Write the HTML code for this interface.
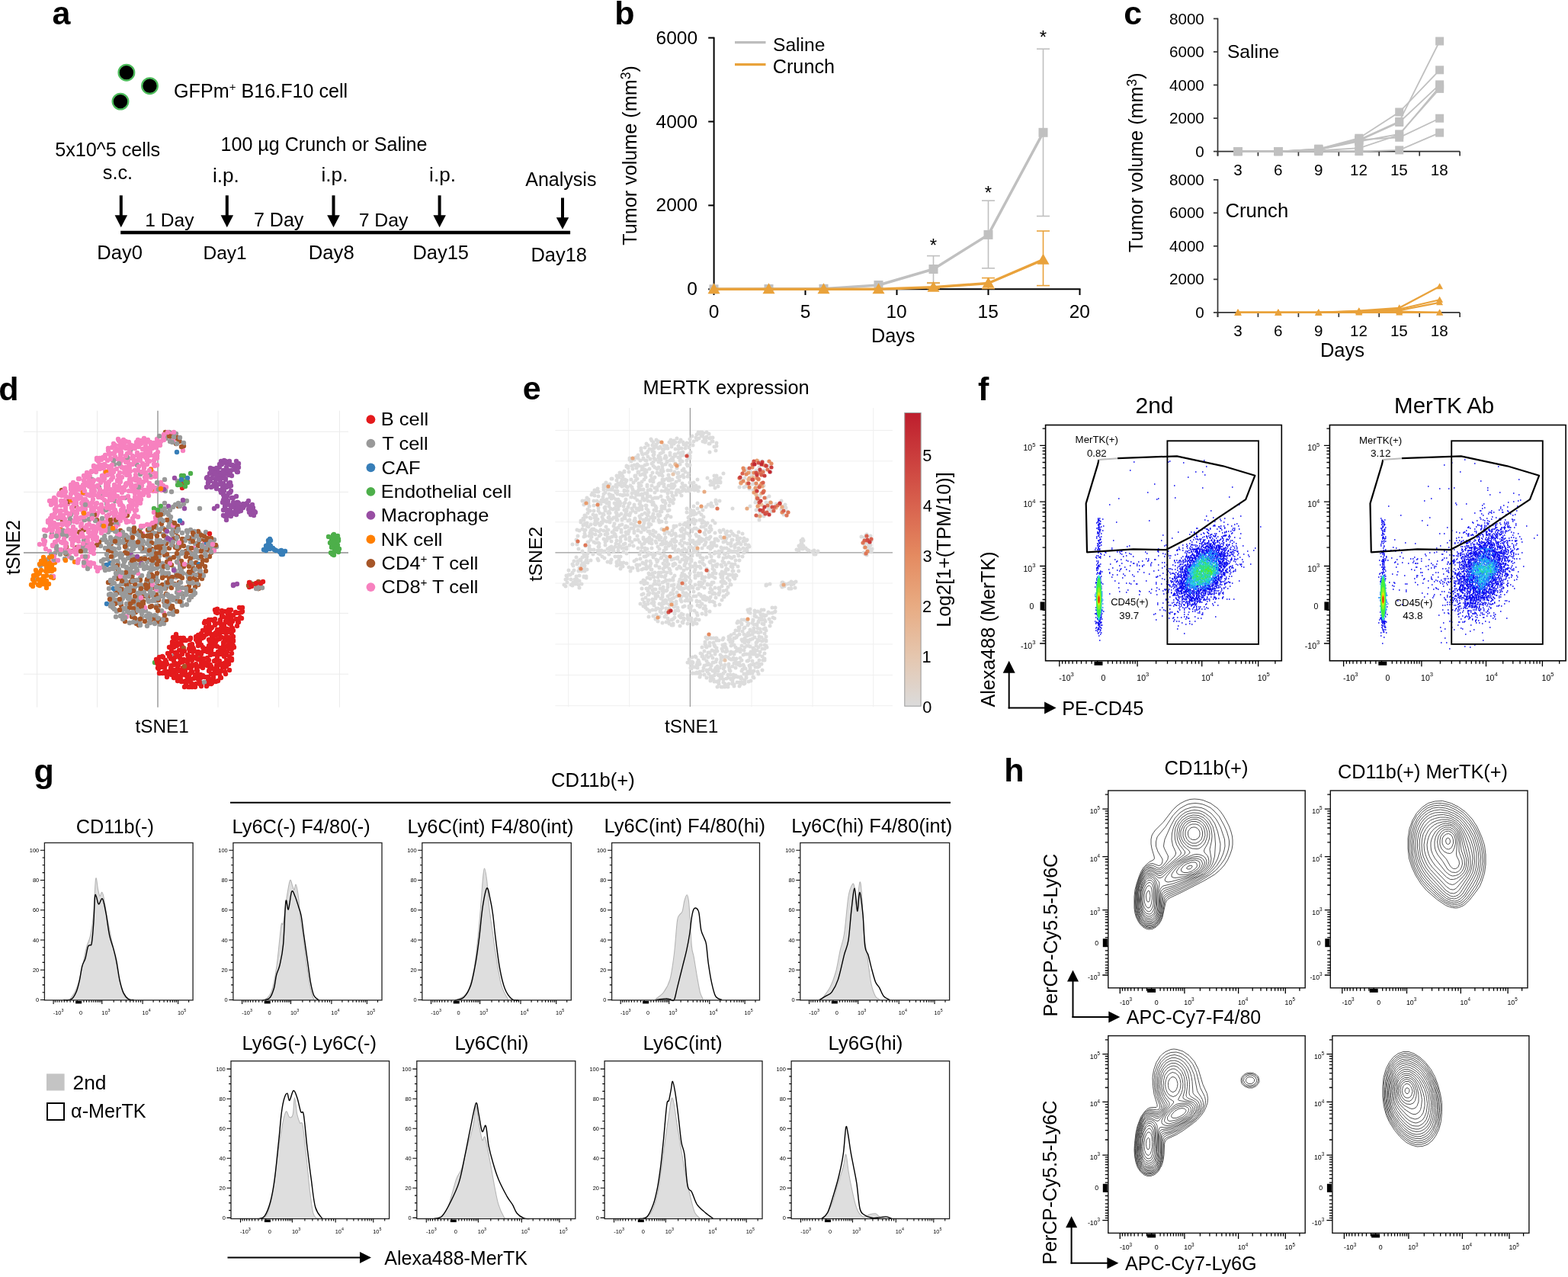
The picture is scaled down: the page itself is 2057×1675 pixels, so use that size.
<!DOCTYPE html>
<html><head><meta charset="utf-8"><title>Figure</title><style>html,body{margin:0;padding:0;background:#fff;}svg{display:block;}text{font-family:"Liberation Sans",Arial,sans-serif;}</style></head><body>
<svg width="2057" height="1675" viewBox="0 0 2057 1675" font-family="Liberation Sans, Arial, sans-serif">
<text x="68.5" y="32.3" font-size="43.00" font-weight="bold">a</text>
<circle cx="165.9" cy="95.2" r="10.3" fill="#000" stroke="#4CBB5A" stroke-width="2.3"/>
<circle cx="196.5" cy="112.7" r="10.3" fill="#000" stroke="#4CBB5A" stroke-width="2.3"/>
<circle cx="158" cy="133.1" r="10.3" fill="#000" stroke="#4CBB5A" stroke-width="2.3"/>
<text x="228" y="128.2" font-size="25.15">GFPm<tspan font-size="15.09" dy="-9">+</tspan><tspan dy="9"> B16.F10 cell</tspan></text>
<text x="72.2" y="205" font-size="25.22">5x10^5 cells</text>
<text x="289.5" y="198.2" font-size="25.09">100 µg Crunch or Saline</text>
<text x="134.8" y="234.8" font-size="25.27">s.c.</text>
<text x="278.9" y="239" font-size="26.20">i.p.</text>
<text x="421.5" y="238.4" font-size="26.20">i.p.</text>
<text x="563.1" y="238.4" font-size="26.20">i.p.</text>
<text x="689.2" y="243.9" font-size="25.04">Analysis</text>
<line x1="158.8" y1="256.3" x2="158.8" y2="283.3" stroke="#000" stroke-width="4"/>
<polygon points="150.6,282.3 167.1,282.3 158.8,298.3" fill="#000" stroke="none" stroke-width="0"/>
<line x1="297.8" y1="256.3" x2="297.8" y2="283.3" stroke="#000" stroke-width="4"/>
<polygon points="289.6,282.3 306.1,282.3 297.8,298.3" fill="#000" stroke="none" stroke-width="0"/>
<line x1="437.5" y1="256.3" x2="437.5" y2="283.3" stroke="#000" stroke-width="4"/>
<polygon points="429.2,282.3 445.8,282.3 437.5,298.3" fill="#000" stroke="none" stroke-width="0"/>
<line x1="576.6" y1="256.3" x2="576.6" y2="283.3" stroke="#000" stroke-width="4"/>
<polygon points="568.4,282.3 584.9,282.3 576.6,298.3" fill="#000" stroke="none" stroke-width="0"/>
<line x1="738" y1="259.5" x2="738" y2="286.2" stroke="#000" stroke-width="4"/>
<polygon points="729.8,285.2 746.2,285.2 738,300.7" fill="#000" stroke="none" stroke-width="0"/>
<line x1="158.2" y1="305" x2="748.1" y2="305" stroke="#000" stroke-width="4.4"/>
<text x="190.3" y="296.8" font-size="24.58">1 Day</text>
<text x="332.9" y="296.8" font-size="25.09">7 Day</text>
<text x="470.7" y="296.8" font-size="24.81">7 Day</text>
<text x="127.3" y="340.2" font-size="25.57">Day0</text>
<text x="266.5" y="340.2" font-size="24.51">Day1</text>
<text x="404.7" y="340.2" font-size="25.71">Day8</text>
<text x="541.4" y="340.2" font-size="25.45">Day15</text>
<text x="696.4" y="342.7" font-size="25.46">Day18</text>
<text x="806.2" y="32.4" font-size="43.00" font-weight="bold">b</text>
<line x1="936.6" y1="48.8" x2="936.6" y2="380.2" stroke="#000" stroke-width="2"/>
<line x1="929.2" y1="379.3" x2="936.6" y2="379.3" stroke="#000" stroke-width="2"/>
<text x="901.3" y="387.3" font-size="24.50">0</text>
<line x1="929.2" y1="269.4" x2="936.6" y2="269.4" stroke="#000" stroke-width="2"/>
<text x="860.5" y="277.4" font-size="24.50">2000</text>
<line x1="929.2" y1="159.5" x2="936.6" y2="159.5" stroke="#000" stroke-width="2"/>
<text x="860.5" y="167.5" font-size="24.50">4000</text>
<line x1="929.2" y1="49.6" x2="936.6" y2="49.6" stroke="#000" stroke-width="2"/>
<text x="860.5" y="57.6" font-size="24.50">6000</text>
<line x1="935.6" y1="379.3" x2="1417.5" y2="379.3" stroke="#000" stroke-width="2"/>
<line x1="936.5" y1="379.3" x2="936.5" y2="387" stroke="#000" stroke-width="2"/>
<text x="929.7" y="416.8" font-size="24.50">0</text>
<line x1="1056.5" y1="379.3" x2="1056.5" y2="387" stroke="#000" stroke-width="2"/>
<text x="1049.7" y="416.8" font-size="24.50">5</text>
<line x1="1176.5" y1="379.3" x2="1176.5" y2="387" stroke="#000" stroke-width="2"/>
<text x="1162.4" y="416.8" font-size="24.50">10</text>
<line x1="1296.5" y1="379.3" x2="1296.5" y2="387" stroke="#000" stroke-width="2"/>
<text x="1282.5" y="416.8" font-size="24.50">15</text>
<line x1="1416.5" y1="379.3" x2="1416.5" y2="387" stroke="#000" stroke-width="2"/>
<text x="1402.7" y="416.8" font-size="24.50">20</text>
<text x="1142.9" y="448.6" font-size="25.28">Days</text>
<text transform="translate(835.1,321.7) rotate(-90)" font-size="25.20">Tumor volume (mm<tspan font-size="17.64" dy="-8.6">3</tspan><tspan dy="8.6">)</tspan></text>
<line x1="964" y1="55.7" x2="1004.5" y2="55.7" stroke="#BDBDBD" stroke-width="3.3"/>
<line x1="964" y1="84.6" x2="1004.5" y2="84.6" stroke="#E9A23B" stroke-width="3.3"/>
<text x="1014" y="67.1" font-size="24.60">Saline</text>
<text x="1013.8" y="95.5" font-size="25.19">Crunch</text>
<line x1="1224.5" y1="335.6" x2="1224.5" y2="371.5" stroke="#C0C0C0" stroke-width="1.6"/>
<line x1="1216" y1="335.6" x2="1233" y2="335.6" stroke="#C0C0C0" stroke-width="1.6"/>
<line x1="1216" y1="371.5" x2="1233" y2="371.5" stroke="#C0C0C0" stroke-width="1.6"/>
<line x1="1296.5" y1="263.2" x2="1296.5" y2="351.8" stroke="#C0C0C0" stroke-width="1.6"/>
<line x1="1288" y1="263.2" x2="1305" y2="263.2" stroke="#C0C0C0" stroke-width="1.6"/>
<line x1="1288" y1="351.8" x2="1305" y2="351.8" stroke="#C0C0C0" stroke-width="1.6"/>
<line x1="1368.5" y1="64.2" x2="1368.5" y2="283.5" stroke="#C0C0C0" stroke-width="1.6"/>
<line x1="1360" y1="64.2" x2="1377" y2="64.2" stroke="#C0C0C0" stroke-width="1.6"/>
<line x1="1360" y1="283.5" x2="1377" y2="283.5" stroke="#C0C0C0" stroke-width="1.6"/>
<line x1="1224.5" y1="371" x2="1224.5" y2="378.5" stroke="#E9A23B" stroke-width="1.6"/>
<line x1="1216" y1="371" x2="1233" y2="371" stroke="#E9A23B" stroke-width="1.6"/>
<line x1="1216" y1="378.5" x2="1233" y2="378.5" stroke="#E9A23B" stroke-width="1.6"/>
<line x1="1296.5" y1="364.6" x2="1296.5" y2="378.5" stroke="#E9A23B" stroke-width="1.6"/>
<line x1="1288" y1="364.6" x2="1305" y2="364.6" stroke="#E9A23B" stroke-width="1.6"/>
<line x1="1288" y1="378.5" x2="1305" y2="378.5" stroke="#E9A23B" stroke-width="1.6"/>
<line x1="1368.5" y1="303" x2="1368.5" y2="374.6" stroke="#E9A23B" stroke-width="1.6"/>
<line x1="1360" y1="303" x2="1377" y2="303" stroke="#E9A23B" stroke-width="1.6"/>
<line x1="1360" y1="374.6" x2="1377" y2="374.6" stroke="#E9A23B" stroke-width="1.6"/>
<polyline points="936.5,379.3 1008.5,379 1080.5,378.8 1152.5,374 1224.5,353 1296.5,307.9 1368.5,173.8" fill="none" stroke="#C0C0C0" stroke-width="3.5" stroke-linejoin="round"/>
<rect x="930.5" y="373.3" width="12" height="12" fill="#C0C0C0" stroke="none" stroke-width="0"/>
<rect x="1002.5" y="373" width="12" height="12" fill="#C0C0C0" stroke="none" stroke-width="0"/>
<rect x="1074.5" y="372.8" width="12" height="12" fill="#C0C0C0" stroke="none" stroke-width="0"/>
<rect x="1146.5" y="368" width="12" height="12" fill="#C0C0C0" stroke="none" stroke-width="0"/>
<rect x="1218.5" y="347" width="12" height="12" fill="#C0C0C0" stroke="none" stroke-width="0"/>
<rect x="1290.5" y="301.9" width="12" height="12" fill="#C0C0C0" stroke="none" stroke-width="0"/>
<rect x="1362.5" y="167.8" width="12" height="12" fill="#C0C0C0" stroke="none" stroke-width="0"/>
<polyline points="936.5,379.3 1008.5,379.3 1080.5,379.3 1152.5,379.3 1224.5,376.7 1296.5,371.5 1368.5,340.7" fill="none" stroke="#E9A23B" stroke-width="3.5" stroke-linejoin="round"/>
<polygon points="928.5,385.3 944.5,385.3 936.5,371.3" fill="#E9A23B"/>
<polygon points="1000.5,385.3 1016.5,385.3 1008.5,371.3" fill="#E9A23B"/>
<polygon points="1072.5,385.3 1088.5,385.3 1080.5,371.3" fill="#E9A23B"/>
<polygon points="1144.5,385.3 1160.5,385.3 1152.5,371.3" fill="#E9A23B"/>
<polygon points="1216.5,382.7 1232.5,382.7 1224.5,368.7" fill="#E9A23B"/>
<polygon points="1288.5,377.5 1304.5,377.5 1296.5,363.5" fill="#E9A23B"/>
<polygon points="1360.5,346.7 1376.5,346.7 1368.5,332.7" fill="#E9A23B"/>
<text x="1219.8" y="330" font-size="24.00">*</text>
<text x="1291.8" y="261" font-size="24.00">*</text>
<text x="1363.8" y="57" font-size="24.00">*</text>
<text x="1474.3" y="32.3" font-size="43.00" font-weight="bold">c</text>
<line x1="1597.5" y1="23.7" x2="1597.5" y2="204.6" stroke="#333" stroke-width="1.7"/>
<line x1="1591.9" y1="198.6" x2="1597.5" y2="198.6" stroke="#333" stroke-width="1.7"/>
<text x="1568.3" y="205.6" font-size="20.60">0</text>
<line x1="1591.9" y1="155.1" x2="1597.5" y2="155.1" stroke="#333" stroke-width="1.7"/>
<text x="1534" y="162.1" font-size="20.60">2000</text>
<line x1="1591.9" y1="111.5" x2="1597.5" y2="111.5" stroke="#333" stroke-width="1.7"/>
<text x="1534" y="118.5" font-size="20.60">4000</text>
<line x1="1591.9" y1="68" x2="1597.5" y2="68" stroke="#333" stroke-width="1.7"/>
<text x="1534" y="75" font-size="20.60">6000</text>
<line x1="1591.9" y1="24.5" x2="1597.5" y2="24.5" stroke="#333" stroke-width="1.7"/>
<text x="1534" y="31.5" font-size="20.60">8000</text>
<line x1="1597.5" y1="198.6" x2="1915.1" y2="198.6" stroke="#333" stroke-width="1.7"/>
<line x1="1597.5" y1="198.6" x2="1597.5" y2="204.6" stroke="#333" stroke-width="1.7"/>
<line x1="1650.4" y1="198.6" x2="1650.4" y2="204.6" stroke="#333" stroke-width="1.7"/>
<line x1="1703.4" y1="198.6" x2="1703.4" y2="204.6" stroke="#333" stroke-width="1.7"/>
<line x1="1756.3" y1="198.6" x2="1756.3" y2="204.6" stroke="#333" stroke-width="1.7"/>
<line x1="1809.2" y1="198.6" x2="1809.2" y2="204.6" stroke="#333" stroke-width="1.7"/>
<line x1="1862.2" y1="198.6" x2="1862.2" y2="204.6" stroke="#333" stroke-width="1.7"/>
<line x1="1915.1" y1="198.6" x2="1915.1" y2="204.6" stroke="#333" stroke-width="1.7"/>
<text x="1618.3" y="230.1" font-size="20.60">3</text>
<text x="1671.1" y="230.1" font-size="20.60">6</text>
<text x="1724.1" y="230.1" font-size="20.60">9</text>
<text x="1771" y="230.1" font-size="20.60">12</text>
<text x="1823.9" y="230.1" font-size="20.60">15</text>
<text x="1876.8" y="230.1" font-size="20.60">18</text>
<line x1="1597.5" y1="234.9" x2="1597.5" y2="415.9" stroke="#333" stroke-width="1.7"/>
<line x1="1591.9" y1="409.9" x2="1597.5" y2="409.9" stroke="#333" stroke-width="1.7"/>
<text x="1568.3" y="416.9" font-size="20.60">0</text>
<line x1="1591.9" y1="366.4" x2="1597.5" y2="366.4" stroke="#333" stroke-width="1.7"/>
<text x="1534" y="373.4" font-size="20.60">2000</text>
<line x1="1591.9" y1="322.8" x2="1597.5" y2="322.8" stroke="#333" stroke-width="1.7"/>
<text x="1534" y="329.8" font-size="20.60">4000</text>
<line x1="1591.9" y1="279.3" x2="1597.5" y2="279.3" stroke="#333" stroke-width="1.7"/>
<text x="1534" y="286.3" font-size="20.60">6000</text>
<line x1="1591.9" y1="235.8" x2="1597.5" y2="235.8" stroke="#333" stroke-width="1.7"/>
<text x="1534" y="242.8" font-size="20.60">8000</text>
<line x1="1597.5" y1="409.9" x2="1915.1" y2="409.9" stroke="#333" stroke-width="1.7"/>
<line x1="1597.5" y1="409.9" x2="1597.5" y2="415.9" stroke="#333" stroke-width="1.7"/>
<line x1="1650.4" y1="409.9" x2="1650.4" y2="415.9" stroke="#333" stroke-width="1.7"/>
<line x1="1703.4" y1="409.9" x2="1703.4" y2="415.9" stroke="#333" stroke-width="1.7"/>
<line x1="1756.3" y1="409.9" x2="1756.3" y2="415.9" stroke="#333" stroke-width="1.7"/>
<line x1="1809.2" y1="409.9" x2="1809.2" y2="415.9" stroke="#333" stroke-width="1.7"/>
<line x1="1862.2" y1="409.9" x2="1862.2" y2="415.9" stroke="#333" stroke-width="1.7"/>
<line x1="1915.1" y1="409.9" x2="1915.1" y2="415.9" stroke="#333" stroke-width="1.7"/>
<text x="1618.3" y="441.4" font-size="20.60">3</text>
<text x="1671.1" y="441.4" font-size="20.60">6</text>
<text x="1724.1" y="441.4" font-size="20.60">9</text>
<text x="1771" y="441.4" font-size="20.60">12</text>
<text x="1823.9" y="441.4" font-size="20.60">15</text>
<text x="1876.8" y="441.4" font-size="20.60">18</text>
<text x="1609.9" y="75.5" font-size="24.60">Saline</text>
<text x="1607.6" y="284.8" font-size="25.61">Crunch</text>
<text x="1731.9" y="467.7" font-size="25.51">Days</text>
<text transform="translate(1499.3,330.9) rotate(-90)" font-size="25.20">Tumor volume (mm<tspan font-size="17.64" dy="-8.6">3</tspan><tspan dy="8.6">)</tspan></text>
<polyline points="1624,198.6 1676.9,198.6 1729.8,195.3 1782.8,181.2 1835.7,147 1888.6,91.8" fill="none" stroke="#C0C0C0" stroke-width="1.8"/>
<polyline points="1624,198.6 1676.9,198.6 1729.8,195.3 1782.8,183.4 1835.7,159.4 1888.6,54" fill="none" stroke="#C0C0C0" stroke-width="1.8"/>
<polyline points="1624,198.6 1676.9,198.6 1729.8,196 1782.8,184.5 1835.7,160.5 1888.6,110.9" fill="none" stroke="#C0C0C0" stroke-width="1.8"/>
<polyline points="1624,198.6 1676.9,198.6 1729.8,196.4 1782.8,185.5 1835.7,175.9 1888.6,116.4" fill="none" stroke="#C0C0C0" stroke-width="1.8"/>
<polyline points="1624,198.6 1676.9,198.6 1729.8,196.4 1782.8,183.4 1835.7,180.3 1888.6,155.2" fill="none" stroke="#C0C0C0" stroke-width="1.8"/>
<polyline points="1624,198.6 1676.9,198.6 1729.8,198.6 1782.8,198.6 1835.7,196.9 1888.6,174.1" fill="none" stroke="#C0C0C0" stroke-width="1.8"/>
<polyline points="1624,198.6 1676.9,198.6 1729.8,197.5 1782.8,194.3 1835.7,176.8 1888.6,113.7" fill="none" stroke="#C0C0C0" stroke-width="1.8"/>
<rect x="1618.5" y="193.1" width="11" height="11" fill="#C0C0C0" stroke="none" stroke-width="0"/>
<rect x="1671.4" y="193.1" width="11" height="11" fill="#C0C0C0" stroke="none" stroke-width="0"/>
<rect x="1724.3" y="189.8" width="11" height="11" fill="#C0C0C0" stroke="none" stroke-width="0"/>
<rect x="1777.3" y="175.7" width="11" height="11" fill="#C0C0C0" stroke="none" stroke-width="0"/>
<rect x="1830.2" y="141.5" width="11" height="11" fill="#C0C0C0" stroke="none" stroke-width="0"/>
<rect x="1883.1" y="86.3" width="11" height="11" fill="#C0C0C0" stroke="none" stroke-width="0"/>
<rect x="1618.5" y="193.1" width="11" height="11" fill="#C0C0C0" stroke="none" stroke-width="0"/>
<rect x="1671.4" y="193.1" width="11" height="11" fill="#C0C0C0" stroke="none" stroke-width="0"/>
<rect x="1724.3" y="189.8" width="11" height="11" fill="#C0C0C0" stroke="none" stroke-width="0"/>
<rect x="1777.3" y="177.9" width="11" height="11" fill="#C0C0C0" stroke="none" stroke-width="0"/>
<rect x="1830.2" y="153.9" width="11" height="11" fill="#C0C0C0" stroke="none" stroke-width="0"/>
<rect x="1883.1" y="48.5" width="11" height="11" fill="#C0C0C0" stroke="none" stroke-width="0"/>
<rect x="1618.5" y="193.1" width="11" height="11" fill="#C0C0C0" stroke="none" stroke-width="0"/>
<rect x="1671.4" y="193.1" width="11" height="11" fill="#C0C0C0" stroke="none" stroke-width="0"/>
<rect x="1724.3" y="190.5" width="11" height="11" fill="#C0C0C0" stroke="none" stroke-width="0"/>
<rect x="1777.3" y="179" width="11" height="11" fill="#C0C0C0" stroke="none" stroke-width="0"/>
<rect x="1830.2" y="155" width="11" height="11" fill="#C0C0C0" stroke="none" stroke-width="0"/>
<rect x="1883.1" y="105.4" width="11" height="11" fill="#C0C0C0" stroke="none" stroke-width="0"/>
<rect x="1618.5" y="193.1" width="11" height="11" fill="#C0C0C0" stroke="none" stroke-width="0"/>
<rect x="1671.4" y="193.1" width="11" height="11" fill="#C0C0C0" stroke="none" stroke-width="0"/>
<rect x="1724.3" y="190.9" width="11" height="11" fill="#C0C0C0" stroke="none" stroke-width="0"/>
<rect x="1777.3" y="180" width="11" height="11" fill="#C0C0C0" stroke="none" stroke-width="0"/>
<rect x="1830.2" y="170.4" width="11" height="11" fill="#C0C0C0" stroke="none" stroke-width="0"/>
<rect x="1883.1" y="110.9" width="11" height="11" fill="#C0C0C0" stroke="none" stroke-width="0"/>
<rect x="1618.5" y="193.1" width="11" height="11" fill="#C0C0C0" stroke="none" stroke-width="0"/>
<rect x="1671.4" y="193.1" width="11" height="11" fill="#C0C0C0" stroke="none" stroke-width="0"/>
<rect x="1724.3" y="190.9" width="11" height="11" fill="#C0C0C0" stroke="none" stroke-width="0"/>
<rect x="1777.3" y="177.9" width="11" height="11" fill="#C0C0C0" stroke="none" stroke-width="0"/>
<rect x="1830.2" y="174.8" width="11" height="11" fill="#C0C0C0" stroke="none" stroke-width="0"/>
<rect x="1883.1" y="149.7" width="11" height="11" fill="#C0C0C0" stroke="none" stroke-width="0"/>
<rect x="1618.5" y="193.1" width="11" height="11" fill="#C0C0C0" stroke="none" stroke-width="0"/>
<rect x="1671.4" y="193.1" width="11" height="11" fill="#C0C0C0" stroke="none" stroke-width="0"/>
<rect x="1724.3" y="193.1" width="11" height="11" fill="#C0C0C0" stroke="none" stroke-width="0"/>
<rect x="1777.3" y="193.1" width="11" height="11" fill="#C0C0C0" stroke="none" stroke-width="0"/>
<rect x="1830.2" y="191.4" width="11" height="11" fill="#C0C0C0" stroke="none" stroke-width="0"/>
<rect x="1883.1" y="168.6" width="11" height="11" fill="#C0C0C0" stroke="none" stroke-width="0"/>
<rect x="1618.5" y="193.1" width="11" height="11" fill="#C0C0C0" stroke="none" stroke-width="0"/>
<rect x="1671.4" y="193.1" width="11" height="11" fill="#C0C0C0" stroke="none" stroke-width="0"/>
<rect x="1724.3" y="192" width="11" height="11" fill="#C0C0C0" stroke="none" stroke-width="0"/>
<rect x="1777.3" y="188.8" width="11" height="11" fill="#C0C0C0" stroke="none" stroke-width="0"/>
<rect x="1830.2" y="171.3" width="11" height="11" fill="#C0C0C0" stroke="none" stroke-width="0"/>
<rect x="1883.1" y="108.2" width="11" height="11" fill="#C0C0C0" stroke="none" stroke-width="0"/>
<polyline points="1624,409.9 1676.9,409.9 1729.8,409.9 1782.8,407.7 1835.7,403.8 1888.6,375.8" fill="none" stroke="#E9A23B" stroke-width="2.2"/>
<polyline points="1624,409.9 1676.9,409.9 1729.8,409.9 1782.8,408.2 1835.7,405.5 1888.6,393.3" fill="none" stroke="#E9A23B" stroke-width="2.2"/>
<polyline points="1624,409.9 1676.9,409.9 1729.8,409.9 1782.8,408.6 1835.7,407.1 1888.6,396.8" fill="none" stroke="#E9A23B" stroke-width="2.2"/>
<polyline points="1624,409.9 1676.9,409.9 1729.8,409.9 1782.8,409.9 1835.7,409.9 1888.6,409.9" fill="none" stroke="#E9A23B" stroke-width="2.2"/>
<polyline points="1624,409.9 1676.9,409.9 1729.8,409.9 1782.8,409 1835.7,408.6 1888.6,409.9" fill="none" stroke="#E9A23B" stroke-width="2.2"/>
<polygon points="1619.5,413.4 1628.5,413.4 1624,405.4" fill="#E9A23B"/>
<polygon points="1672.4,413.4 1681.4,413.4 1676.9,405.4" fill="#E9A23B"/>
<polygon points="1725.3,413.4 1734.3,413.4 1729.8,405.4" fill="#E9A23B"/>
<polygon points="1778.3,411.2 1787.3,411.2 1782.8,403.2" fill="#E9A23B"/>
<polygon points="1831.2,407.3 1840.2,407.3 1835.7,399.3" fill="#E9A23B"/>
<polygon points="1884.1,379.3 1893.1,379.3 1888.6,371.3" fill="#E9A23B"/>
<polygon points="1619.5,413.4 1628.5,413.4 1624,405.4" fill="#E9A23B"/>
<polygon points="1672.4,413.4 1681.4,413.4 1676.9,405.4" fill="#E9A23B"/>
<polygon points="1725.3,413.4 1734.3,413.4 1729.8,405.4" fill="#E9A23B"/>
<polygon points="1778.3,411.7 1787.3,411.7 1782.8,403.7" fill="#E9A23B"/>
<polygon points="1831.2,409 1840.2,409 1835.7,401" fill="#E9A23B"/>
<polygon points="1884.1,396.8 1893.1,396.8 1888.6,388.8" fill="#E9A23B"/>
<polygon points="1619.5,413.4 1628.5,413.4 1624,405.4" fill="#E9A23B"/>
<polygon points="1672.4,413.4 1681.4,413.4 1676.9,405.4" fill="#E9A23B"/>
<polygon points="1725.3,413.4 1734.3,413.4 1729.8,405.4" fill="#E9A23B"/>
<polygon points="1778.3,412.1 1787.3,412.1 1782.8,404.1" fill="#E9A23B"/>
<polygon points="1831.2,410.6 1840.2,410.6 1835.7,402.6" fill="#E9A23B"/>
<polygon points="1884.1,400.3 1893.1,400.3 1888.6,392.3" fill="#E9A23B"/>
<polygon points="1619.5,413.4 1628.5,413.4 1624,405.4" fill="#E9A23B"/>
<polygon points="1672.4,413.4 1681.4,413.4 1676.9,405.4" fill="#E9A23B"/>
<polygon points="1725.3,413.4 1734.3,413.4 1729.8,405.4" fill="#E9A23B"/>
<polygon points="1778.3,413.4 1787.3,413.4 1782.8,405.4" fill="#E9A23B"/>
<polygon points="1831.2,413.4 1840.2,413.4 1835.7,405.4" fill="#E9A23B"/>
<polygon points="1884.1,413.4 1893.1,413.4 1888.6,405.4" fill="#E9A23B"/>
<polygon points="1619.5,413.4 1628.5,413.4 1624,405.4" fill="#E9A23B"/>
<polygon points="1672.4,413.4 1681.4,413.4 1676.9,405.4" fill="#E9A23B"/>
<polygon points="1725.3,413.4 1734.3,413.4 1729.8,405.4" fill="#E9A23B"/>
<polygon points="1778.3,412.5 1787.3,412.5 1782.8,404.5" fill="#E9A23B"/>
<polygon points="1831.2,412.1 1840.2,412.1 1835.7,404.1" fill="#E9A23B"/>
<polygon points="1884.1,413.4 1893.1,413.4 1888.6,405.4" fill="#E9A23B"/>
<line x1="48.6" y1="538.7" x2="48.6" y2="927.8" stroke="#EBEBEB" stroke-width="1"/>
<line x1="127.5" y1="538.7" x2="127.5" y2="927.8" stroke="#EBEBEB" stroke-width="1"/>
<line x1="286" y1="538.7" x2="286" y2="927.8" stroke="#EBEBEB" stroke-width="1"/>
<line x1="365.6" y1="538.7" x2="365.6" y2="927.8" stroke="#EBEBEB" stroke-width="1"/>
<line x1="445.5" y1="538.7" x2="445.5" y2="927.8" stroke="#EBEBEB" stroke-width="1"/>
<line x1="31" y1="566.2" x2="457" y2="566.2" stroke="#EBEBEB" stroke-width="1"/>
<line x1="31" y1="645.4" x2="457" y2="645.4" stroke="#EBEBEB" stroke-width="1"/>
<line x1="31" y1="804.4" x2="457" y2="804.4" stroke="#EBEBEB" stroke-width="1"/>
<line x1="31" y1="884.2" x2="457" y2="884.2" stroke="#EBEBEB" stroke-width="1"/>
<line x1="207" y1="538.7" x2="207" y2="927.8" stroke="#8C8C8C" stroke-width="1.3"/>
<line x1="31" y1="725" x2="457" y2="725" stroke="#8C8C8C" stroke-width="1.3"/>
<path d="M236 579h0m-25 54h0m-43 1h0m-33 14h0m86 17h0m0 10h0m-145 5h0m135 1h0m-6 11h0m22 3h0m7 0h0m16 0h0m-55 2h0m-53 1h0m-74 2h0m105 0h0m6 0h0m25 0h0m58 0h0m-64 1h0m-33 1h0m86 3h0m-106 2h0m6 0h0m35 0h0m-52 1h0m72 0h0m-51 2h0m15 0h0m51 0h0m-59 2h0m72 0h0m-60 1h0m4 3h0m-35 2h0m133 1h0m5 0h0m-115 1h0m9 0h0m105 1h0m-20 2h0m8 0h0m-180 1h0m63 4h0m7 3h0m101 0h0m-71 1h0m35 0h0m-21 3h0m33 0h0m-102 1h0m68 2h0m-46 1h0m-41 2h0m85 0h0m48 0h0m6 0h0m-200 1h0m96 1h0m-19 2h0m76 0h0m-143 1h0m80 1h0m87 2h0m32 0h0m-105 3h0m39 0h0m57 0h0m-22 2h0m-57 1h0m48 1h0m9 1h0m-186 2h0m206 4h0m-81 1h0m173 0h0m-181 2h0m23 1h0m-31 2h0m2 0h0m65 0h0m-50 1h0m6 0h0m-34 2h0m193 0h0m-160 2h0m-25 1h0m24 0h0m36 1h0m-53 2h0m98 0h0m-86 2h0m44 2h0m-46 3h0m55 0h0m-44 1h0m15 0h0m30 0h0m24 1h0m-10 3h0m-69 4h0m47 0h0m-68 3h0m57 0h0m-37 2h0m-15 2h0m26 0h0m12 0h0m-22 3h0m17 0h0m36 1h0m-60 1h0m48 13h0m52 73h0" stroke="#999999" stroke-width="6.4" stroke-linecap="round"/>
<path d="M217 567h0m7 1h0m8 7h0m-151 68h0m19 21h0m27 18h0m98 3h0m7 7h0m-122 3h0m150 17h0m-114 1h0m61 4h0m-106 1h0m134 0h0m-13 1h0m-128 4h0m183 2h0m-61 3h0m12 3h0m-46 3h0m14 0h0m58 12h0m-22 9h0m-59 2h0m90 0h0m-62 4h0m57 0h0m-9 4h0m-36 2h0m35 2h0m-40 1h0m-6 1h0m15 1h0m122 0h0m-186 6h0m65 1h0m-23 3h0m7 1h0m49 0h0m-19 2h0m-44 4h0m20 6h0m-10 18h0m65 50h0" stroke="#A65628" stroke-width="6.4" stroke-linecap="round"/>
<path d="M206 576h0m-19 4h0m-6 1h0m1 5h0m58 5h0m-90 3h0m44 0h0m-46 1h0m11 1h0m15 2h0m-23 1h0m-16 1h0m24 1h0m-32 2h0m66 1h0m-6 5h0m6 0h0m-35 2h0m31 0h0m-29 2h0m29 1h0m-46 2h0m-23 2h0m18 1h0m0 1h0m19 0h0m6 0h0m6 0h0m-25 2h0m-30 1h0m20 1h0m-23 1h0m2 1h0m66 1h0m-33 2h0m-36 1h0m44 0h0m24 0h0m14 0h0m-38 1h0m16 0h0m18 1h0m-71 1h0m-5 1h0m55 0h0m18 1h0m-43 2h0m-3 1h0m-46 1h0m102 0h0m-35 1h0m15 1h0m-36 1h0m73 1h0m-43 1h0m32 0h0m-106 2h0m55 2h0m-29 1h0m62 1h0m-91 2h0m38 0h0m-9 7h0m-51 1h0m3 0h0m111 0h0m-99 2h0m48 0h0m-19 1h0m29 1h0m18 0h0m12 0h0m-71 3h0m-30 1h0m79 1h0m-65 1h0m14 1h0m-28 2h0m7 2h0m64 0h0m-16 1h0m38 1h0m40 1h0m-95 4h0m59 2h0m-79 1h0m11 0h0m-33 2h0m14 1h0m-16 1h0m48 0h0m19 0h0m7 1h0m4 1h0m-66 3h0m2 0h0m18 1h0m9 0h0m-39 1h0m65 1h0m-8 3h0m62 0h0m-118 3h0m49 0h0m-51 1h0m34 1h0m-8 2h0m-36 1h0m211 5h0m-156 5h0m-10 3h0m179 1h0m-190 8h0m24 0h0m-5 7h0m9 1h0m-2 2h0m9 4h0m79 29h0" stroke="#F781BF" stroke-width="6.4" stroke-linecap="round"/>
<path d="M59 738h0m-1 2h0m6 1h0m-10 7h0m-7 6h0m-3 1h0m13 1h0m13 2h0m-25 6h0m5 3h0m11 4h0" stroke="#FF7F00" stroke-width="6.4" stroke-linecap="round"/>
<path d="M246 632h0m81 138h0m-42 29h0m6 2h0m8 5h0m-2 5h0m-8 2h0m-21 4h0m15 1h0m20 1h0m-33 4h0m-4 4h0m22 5h0m18 3h0m-79 1h0m5 0h0m26 0h0m9 0h0m-27 1h0m19 1h0m15 1h0m21 0h0m-51 1h0m31 1h0m31 0h0m-45 3h0m-9 1h0m-25 1h0m22 0h0m-17 1h0m51 0h0m-56 1h0m12 0h0m50 2h0m-54 3h0m35 0h0m-21 1h0m18 0h0m-7 1h0m26 0h0m-54 1h0m46 2h0m-6 5h0m-48 1h0m38 1h0m-15 1h0m5 0h0m22 0h0m8 1h0m-73 1h0m62 1h0m6 5h0m20 0h0m-87 1h0m41 0h0m41 0h0m-33 5h0m-11 7h0m41 1h0m-33 1h0m27 5h0m-31 3h0m5 0h0m7 1h0m-22 3h0" stroke="#E41A1C" stroke-width="6.4" stroke-linecap="round"/>
<path d="M300 606h0m3 11h0m-22 3h0m2 0h0m7 0h0m5 0h0m-15 2h0m14 1h0m-22 3h0m17 0h0m5 1h0m-11 2h0m19 4h0m-12 1h0m3 4h0m-22 1h0m22 5h0m4 7h0m27 10h0m-103 3h0m96 1h0m-10 7h0m28 0h0m-30 2h0m-66 12h0" stroke="#984EA3" stroke-width="6.4" stroke-linecap="round"/>
<path d="M243 628h0m112 81h0m-84 3h0m78 4h0m13 6h0m7 0h0m2 5h0m-222 45h0" stroke="#377EB8" stroke-width="6.4" stroke-linecap="round"/>
<path d="M241 625h0m-30 39h0m-9 3h0m240 44h0m-2 2h0m-4 5h0m9 2h0m-242 149h0" stroke="#4DAF4A" stroke-width="6.4" stroke-linecap="round"/>
<path d="M235 579h0m-4 3h0m-19 90h0m-4 1h0m-68 4h0m15 2h0m48 9h0m30 2h0m-75 6h0m25 0h0m77 1h0m-29 1h0m33 4h0m-76 1h0m80 5h0m-16 2h0m-34 3h0m8 1h0m-27 6h0m34 0h0m39 1h0m-56 1h0m-69 1h0m117 0h0m-20 7h0m31 0h0m-9 5h0m-9 3h0m-57 19h0m55 1h0m10 1h0m-90 2h0m22 0h0m-1 4h0m-30 2h0m94 0h0m-16 4h0m95 1h0m-100 7h0m-24 10h0m-32 1h0m-13 1h0m18 1h0m-29 2h0m40 1h0m-14 1h0m-15 1h0m57 2h0m-63 16h0m15 3h0m3 2h0" stroke="#A65628" stroke-width="6.4" stroke-linecap="round"/>
<path d="M219 569h0m-3 60h0m25 1h0m-32 4h0m-79 5h0m111 22h0m-74 10h0m-17 4h0m59 7h0m13 4h0m-70 1h0m72 4h0m-48 1h0m36 1h0m2 0h0m20 1h0m-62 1h0m83 2h0m-94 1h0m18 1h0m35 2h0m-55 2h0m-14 2h0m96 2h0m-58 1h0m20 5h0m53 0h0m-143 1h0m30 0h0m-69 2h0m58 0h0m152 1h0m-134 3h0m61 1h0m-19 2h0m47 1h0m-5 6h0m-14 1h0m41 1h0m-125 2h0m26 0h0m-18 4h0m40 2h0m29 1h0m-52 1h0m49 1h0m-16 2h0m8 1h0m19 6h0m25 1h0m-89 1h0m8 0h0m101 0h0m-107 3h0m46 0h0m-21 1h0m8 5h0m55 0h0m-41 1h0m-56 1h0m32 3h0m16 4h0m-33 5h0m19 2h0m-41 1h0m77 0h0m-72 4h0m35 1h0m11 2h0m-23 1h0m44 0h0m-57 1h0m74 0h0m-76 2h0m19 0h0m47 1h0m-43 1h0m41 1h0m-15 1h0m2 4h0m-54 3h0m14 0h0m19 3h0m12 6h0m10 0h0m20 49h0" stroke="#999999" stroke-width="6.4" stroke-linecap="round"/>
<path d="M162 583h0m39 1h0m-26 1h0m1 0h0m15 0h0m-32 3h0m-6 1h0m18 4h0m-4 2h0m-9 2h0m22 0h0m-15 3h0m8 1h0m-19 1h0m-6 2h0m18 0h0m36 0h0m-44 2h0m11 2h0m18 0h0m-57 3h0m30 2h0m8 4h0m-51 4h0m73 0h0m-43 2h0m-29 2h0m-7 1h0m79 0h0m8 0h0m-94 2h0m66 1h0m2 0h0m-50 3h0m17 2h0m-25 2h0m14 1h0m58 0h0m28 0h0m-97 1h0m101 1h0m-4 1h0m-73 2h0m-21 1h0m43 0h0m-55 1h0m-22 1h0m48 0h0m26 1h0m-10 1h0m-39 1h0m-9 1h0m13 0h0m3 1h0m-12 3h0m54 0h0m-16 1h0m-35 1h0m3 0h0m-19 1h0m44 0h0m-72 1h0m8 0h0m41 1h0m-14 1h0m11 0h0m47 0h0m-61 1h0m29 1h0m22 2h0m-29 1h0m50 0h0m-75 2h0m11 2h0m-10 2h0m57 2h0m-64 1h0m34 0h0m25 0h0m-31 1h0m-48 2h0m15 0h0m27 0h0m3 0h0m-30 1h0m-8 2h0m24 0h0m61 0h0m-19 1h0m8 0h0m25 0h0m-111 3h0m95 0h0m-95 2h0m8 1h0m5 2h0m41 0h0m110 1h0m-95 4h0m-43 2h0m4 1h0m-18 3h0m23 6h0m17 0h0m7 2h0m-25 2h0m18 0h0m-57 4h0m37 2h0m-26 1h0m46 1h0m2 2h0m137 0h0m-131 1h0m-49 2h0m-9 1h0m27 0h0m16 7h0m92 37h0m-10 30h0m25 7h0m-49 5h0" stroke="#F781BF" stroke-width="6.4" stroke-linecap="round"/>
<path d="M139 619h0m60 23h0m-120 53h0m-10 33h0m-6 7h0m35 2h0m-34 5h0m-3 3h0m-14 3h0m2 6h0m-4 1h0m7 11h0m4 0h0m-4 2h0" stroke="#FF7F00" stroke-width="6.4" stroke-linecap="round"/>
<path d="M239 640h0m100 126h0m-12 1h0m-27 33h0m3 0h0m-8 2h0m11 5h0m7 9h0m-36 8h0m18 0h0m10 0h0m1 3h0m-18 1h0m2 0h0m-26 3h0m40 0h0m-36 3h0m-11 1h0m-7 2h0m-21 1h0m59 0h0m-7 2h0m16 0h0m-4 7h0m-8 1h0m11 1h0m11 0h0m-59 2h0m23 0h0m20 1h0m3 1h0m-63 3h0m8 2h0m20 0h0m-13 1h0m30 0h0m-53 2h0m-9 1h0m37 0h0m-4 1h0m-22 1h0m40 0h0m-24 1h0m-13 2h0m53 0h0m-15 1h0m34 3h0m-53 1h0m37 1h0m-22 1h0m-22 2h0m3 0h0m23 0h0m-58 1h0m71 0h0m-47 1h0m26 1h0m43 0h0m-78 1h0m51 0h0m-45 1h0m53 0h0m-36 4h0m-8 1h0m9 0h0m-12 1h0m25 3h0m-23 1h0m41 1h0m-45 1h0m8 1h0m30 1h0m3 0h0m-10 5h0m-17 1h0" stroke="#E41A1C" stroke-width="6.4" stroke-linecap="round"/>
<path d="M301 606h0m-5 1h0m17 1h0m-25 1h0m12 0h0m6 2h0m-9 2h0m-17 3h0m6 3h0m14 4h0m4 1h0m-28 7h0m17 3h0m-5 1h0m9 4h0m6 5h0m-5 7h0m-4 2h0m10 0h0m22 4h0m-2 3h0m-29 4h0m8 0h0m-61 3h0m67 1h0m7 2h0m-14 1h0m8 4h0m-17 1h0m40 0h0m-161 52h0" stroke="#984EA3" stroke-width="6.4" stroke-linecap="round"/>
<path d="M355 716h0m5 5h0m14 2h0m-7 1h0m-222 15h0" stroke="#377EB8" stroke-width="6.4" stroke-linecap="round"/>
<path d="M250 621h0m-9 3h0m5 9h0m-13 3h0m206 73h0m4 6h0m-2 3h0m3 6h0m-10 1h0" stroke="#4DAF4A" stroke-width="6.4" stroke-linecap="round"/>
<path d="M222 567h0m9 2h0m-10 2h0m-3 4h0m7 0h0m-53 14h0m-16 19h0m28 14h0m13 1h0m-76 6h0m89 9h0m7 6h0m-77 17h0m83 8h0m-90 19h0m-50 8h0m162 0h0m-13 1h0m-28 3h0m-145 3h0m159 1h0m-65 1h0m10 0h0m35 1h0m56 0h0m-32 1h0m-112 2h0m85 0h0m15 0h0m70 0h0m-92 1h0m-48 1h0m67 0h0m43 0h0m-97 1h0m120 2h0m-86 2h0m27 0h0m-76 3h0m78 0h0m-25 2h0m-106 1h0m87 0h0m66 4h0m-90 4h0m27 0h0m24 0h0m58 0h0m-88 1h0m85 0h0m-113 2h0m-79 1h0m146 0h0m-30 6h0m-42 1h0m63 1h0m-33 3h0m54 0h0m8 1h0m10 2h0m-66 2h0m40 0h0m-44 1h0m-15 3h0m33 1h0m27 0h0m36 0h0m18 0h0m-102 7h0m84 2h0m79 0h0m-182 2h0m13 0h0m100 0h0m-69 4h0m-23 2h0m4 0h0m24 1h0m-44 7h0m29 0h0m39 0h0m25 0h0m-23 2h0m4 0h0m-73 5h0m-1 1h0m53 0h0m-23 1h0m-15 3h0m-5 8h0m18 1h0m33 0h0m-15 5h0m-11 4h0m-4 3h0m22 0h0m-26 2h0m-8 2h0m45 1h0" stroke="#999999" stroke-width="6.4" stroke-linecap="round"/>
<path d="M223 572h0m18 13h0m-7 79h0m-67 12h0m54 6h0m-139 1h0m112 12h0m23 0h0m-113 3h0m150 3h0m-56 3h0m41 3h0m23 1h0m-50 5h0m-44 1h0m73 2h0m-11 2h0m-88 5h0m22 2h0m87 1h0m-1 6h0m-65 1h0m53 3h0m-73 15h0m84 0h0m-32 4h0m-16 1h0m25 1h0m-72 2h0m39 1h0m-21 3h0m167 0h0m-145 7h0m31 1h0m-54 6h0m18 5h0m41 3h0m-79 7h0m35 3h0m40 0h0m-21 2h0m-27 6h0m-5 6h0m30 2h0m5 4h0" stroke="#A65628" stroke-width="6.4" stroke-linecap="round"/>
<path d="M214 574h0m-59 2h0m26 1h0m34 0h0m-50 2h0m41 2h0m-6 2h0m-49 1h0m54 2h0m-63 2h0m23 0h0m5 1h0m-13 3h0m40 1h0m10 0h0m-64 1h0m37 0h0m17 3h0m5 1h0m-18 2h0m-57 1h0m79 0h0m-13 1h0m-25 1h0m34 1h0m-6 1h0m-59 4h0m65 0h0m1 2h0m-67 1h0m8 1h0m-19 1h0m56 3h0m-32 2h0m42 1h0m13 1h0m-63 2h0m62 2h0m-55 1h0m12 0h0m-57 2h0m34 0h0m19 0h0m-27 1h0m29 0h0m-57 6h0m55 2h0m29 1h0m-75 1h0m72 1h0m2 0h0m20 0h0m-111 2h0m5 0h0m6 0h0m47 1h0m-66 2h0m52 1h0m40 1h0m-77 1h0m40 1h0m-54 2h0m68 0h0m-81 4h0m105 0h0m-88 1h0m83 1h0m-2 1h0m-56 2h0m12 0h0m-38 1h0m11 0h0m41 1h0m16 0h0m-48 1h0m70 0h0m-105 1h0m21 1h0m12 2h0m42 0h0m20 0h0m-26 1h0m-23 1h0m-45 1h0m56 0h0m46 0h0m-76 3h0m27 0h0m29 4h0m19 0h0m-85 1h0m15 1h0m53 0h0m-42 3h0m-23 1h0m35 4h0m26 1h0m-90 6h0m51 1h0m-55 1h0m36 1h0m29 0h0m-48 3h0m29 0h0m2 4h0m-50 6h0m10 5h0m37 4h0m-46 1h0m27 2h0m32 2h0m-6 10h0m-11 2h0m0 2h0m131 0h0m-52 14h0" stroke="#F781BF" stroke-width="6.4" stroke-linecap="round"/>
<path d="M65 731h0m-11 5h0m14 2h0m-8 11h0m-2 11h0" stroke="#FF7F00" stroke-width="6.4" stroke-linecap="round"/>
<path d="M282 800h0m27 3h0m-24 1h0m17 2h0m13 4h0m-5 2h0m-10 1h0m-4 3h0m16 0h0m-24 1h0m13 1h0m-27 1h0m16 0h0m21 2h0m-21 3h0m8 1h0m-2 5h0m-14 1h0m-22 2h0m31 3h0m9 0h0m-72 1h0m6 0h0m7 0h0m44 2h0m21 1h0m-80 2h0m11 1h0m41 0h0m-52 2h0m12 1h0m-16 3h0m31 0h0m15 2h0m21 3h0m4 5h0m-40 2h0m41 0h0m-85 1h0m47 0h0m29 0h0m-49 1h0m68 1h0m-44 1h0m-54 4h0m31 0h0m27 1h0m4 1h0m22 0h0m-73 1h0m15 0h0m54 0h0m-61 1h0m47 0h0m-59 2h0m3 1h0m17 1h0m6 1h0m-3 2h0m-21 2h0m24 0h0m-23 1h0m15 1h0m65 0h0m-71 1h0m18 0h0m13 0h0m3 0h0m14 3h0m-27 2h0m-13 2h0m11 5h0m28 1h0m-16 3h0" stroke="#E41A1C" stroke-width="6.4" stroke-linecap="round"/>
<path d="M294 604h0m-4 1h0m20 0h0m-5 5h0m4 1h0m4 2h0m-37 1h0m3 1h0m-4 6h0m16 0h0m-13 6h0m10 2h0m-15 5h0m8 0h0m1 0h0m2 7h0m-69 1h0m87 4h0m-2 1h0m-7 2h0m5 1h0m-5 6h0m-1 3h0m5 0h0m-1 4h0m12 0h0m-4 2h0m10 0h0m12 3h0m-24 1h0m27 1h0m-16 1h0m14 1h0m-24 3h0m26 0h0m-34 2h0m3 0h0m-1 5h0m-69 66h0" stroke="#984EA3" stroke-width="6.4" stroke-linecap="round"/>
<path d="M236 683h0m113 39h0m18 1h0m2 4h0m-108 13h0m-121 52h0" stroke="#377EB8" stroke-width="6.4" stroke-linecap="round"/>
<path d="M238 624h0m0 8h0m4 1h0m196 70h0m-3 2h0m4 3h0m1 9h0m-5 1h0m9 3h0m-5 2h0" stroke="#4DAF4A" stroke-width="6.4" stroke-linecap="round"/>
<path d="M233 574h0m-143 84h0m56 28h0m83 0h0m-30 9h0m-23 2h0m77 2h0m-68 1h0m8 3h0m2 0h0m20 0h0m18 1h0m37 4h0m-17 2h0m-123 1h0m69 1h0m-72 3h0m111 0h0m45 0h0m-23 1h0m5 2h0m-159 5h0m138 0h0m6 9h0m-27 2h0m48 1h0m-52 2h0m50 6h0m-7 11h0m-23 4h0m-17 1h0m-80 5h0m93 0h0m-58 2h0m52 0h0m97 2h0m-118 1h0m48 1h0m-64 2h0m53 1h0m-37 14h0m11 2h0m-22 7h0m-13 16h0m29 1h0m5 0h0m23 37h0" stroke="#A65628" stroke-width="6.4" stroke-linecap="round"/>
<path d="M228 574h0m13 7h0m-9 1h0m-26 16h0m-57 6h0m1 5h0m30 1h0m53 21h0m-17 29h0m18 0h0m2 4h0m26 3h0m-44 5h0m-125 3h0m131 3h0m-11 5h0m-5 2h0m-55 2h0m43 6h0m5 6h0m-35 4h0m7 4h0m58 0h0m-93 1h0m11 0h0m69 0h0m-71 3h0m28 0h0m11 0h0m29 0h0m-36 2h0m3 2h0m83 0h0m-69 1h0m-88 1h0m157 0h0m-18 1h0m-173 1h0m196 0h0m-194 2h0m172 1h0m-61 1h0m90 1h0m-198 3h0m9 0h0m107 0h0m57 0h0m18 2h0m-158 1h0m-27 3h0m64 3h0m14 1h0m13 0h0m17 0h0m39 0h0m-61 2h0m-9 3h0m22 0h0m52 0h0m-44 1h0m-26 1h0m-21 2h0m68 1h0m-15 1h0m19 4h0m19 0h0m4 0h0m-173 4h0m102 0h0m5 6h0m25 0h0m19 2h0m5 1h0m119 1h0m-124 1h0m121 0h0m5 4h0m-160 3h0m70 0h0m-57 3h0m35 0h0m13 0h0m-7 1h0m-46 3h0m7 0h0m29 3h0m-67 1h0m41 1h0m-56 4h0m99 3h0m-29 1h0m3 2h0m-40 2h0m-29 1h0m53 8h0m-39 3h0m30 0h0m-33 2h0m32 9h0" stroke="#999999" stroke-width="6.4" stroke-linecap="round"/>
<path d="M228 567h0m-6 2h0m-33 6h0m-33 3h0m29 0h0m42 0h0m-69 2h0m6 0h0m28 0h0m-43 2h0m49 1h0m-41 1h0m15 0h0m10 0h0m28 0h0m-48 2h0m-15 1h0m30 1h0m-20 1h0m-15 2h0m17 2h0m10 1h0m-25 2h0m43 0h0m-49 1h0m49 1h0m17 2h0m-73 1h0m7 0h0m7 0h0m37 1h0m-2 2h0m4 0h0m-8 1h0m-11 1h0m9 3h0m-27 1h0m41 0h0m2 0h0m16 0h0m-67 1h0m31 0h0m-47 1h0m59 0h0m-46 2h0m-5 1h0m67 0h0m-49 2h0m-29 2h0m6 0h0m21 0h0m31 4h0m15 2h0m-76 4h0m6 1h0m88 3h0m-45 1h0m30 0h0m-14 1h0m-89 1h0m6 0h0m51 0h0m15 1h0m-15 1h0m22 0h0m25 0h0m-34 1h0m48 2h0m-80 1h0m23 0h0m44 0h0m-9 1h0m2 0h0m-53 1h0m44 2h0m-89 2h0m50 0h0m-66 1h0m4 1h0m63 1h0m-10 2h0m11 1h0m-23 1h0m58 0h0m-34 1h0m24 0h0m-102 1h0m12 0h0m14 1h0m47 0h0m39 0h0m3 0h0m-97 1h0m-19 3h0m92 0h0m-10 1h0m-63 3h0m50 1h0m37 0h0m-63 1h0m13 0h0m36 1h0m20 0h0m-10 2h0m-34 1h0m23 2h0m-7 2h0m30 2h0m23 1h0m-103 3h0m47 0h0m17 0h0m-30 2h0m31 1h0m-59 2h0m91 1h0m-46 3h0m-83 4h0m47 0h0m22 0h0m-22 3h0m-41 1h0m23 1h0m56 0h0m-59 1h0m-18 3h0m91 1h0m-92 3h0m21 0h0m6 2h0m-8 1h0m-43 3h0m68 5h0m-22 1h0m-18 1h0m10 1h0m3 2h0m6 1h0m24 1h0m-23 1h0m3 7h0m20 5h0m-13 3h0m8 1h0m-48 13h0m88 0h0" stroke="#F781BF" stroke-width="6.4" stroke-linecap="round"/>
<path d="M93 656h0m-21 82h0m-4 4h0m0 4h0m-25 14h0m7 0h0m-9 7h0m19 0h0m-17 2h0" stroke="#FF7F00" stroke-width="6.4" stroke-linecap="round"/>
<path d="M241 633h0m104 130h0m-3 2h0m-28 39h0m-23 1h0m9 5h0m-11 4h0m-8 1h0m15 0h0m9 0h0m-33 1h0m13 10h0m14 3h0m-68 3h0m40 0h0m-34 5h0m41 0h0m-16 4h0m39 0h0m-2 5h0m-25 1h0m32 0h0m-40 2h0m38 2h0m-27 2h0m-22 1h0m-16 1h0m-17 3h0m61 0h0m2 0h0m-72 3h0m35 0h0m-31 5h0m87 0h0m-16 1h0m-48 1h0m-24 1h0m51 2h0m9 1h0m14 0h0m-33 2h0m-12 2h0m30 2h0m-32 2h0m-33 3h0m3 0h0m64 1h0m2 0h0m-59 1h0m24 1h0m21 2h0m-37 1h0m62 0h0m-36 1h0m-16 4h0m24 1h0m16 1h0m-1 1h0" stroke="#E41A1C" stroke-width="6.4" stroke-linecap="round"/>
<path d="M301 605h0m-12 4h0m19 7h0m-15 1h0m5 3h0m-9 9h0m14 8h0m-11 3h0m-3 3h0m1 3h0m20 5h0m-15 3h0m24 7h0m2 2h0m-36 1h0m44 0h0m3 2h0m-51 1h0m-95 72h0m121 28h0" stroke="#984EA3" stroke-width="6.4" stroke-linecap="round"/>
<path d="M354 707h0m-1 8h0m-3 3h0m1 1h0m5 0h0m2 0h0m-4 1h0m-8 1h0" stroke="#377EB8" stroke-width="6.4" stroke-linecap="round"/>
<path d="M243 638h0m200 65h0m-12 1h0m7 4h0m6 1h0m-6 19h0" stroke="#4DAF4A" stroke-width="6.4" stroke-linecap="round"/>
<path d="M209 572h0m27 2h0m-13 5h0m3 1h0m-20 53h0m-42 20h0m-13 4h0m76 8h0m-88 4h0m72 1h0m3 4h0m-122 7h0m19 1h0m14 1h0m98 0h0m-2 8h0m-36 1h0m-34 5h0m95 1h0m-64 4h0m-45 1h0m121 0h0m10 1h0m-112 4h0m105 0h0m20 0h0m-38 1h0m-32 2h0m-55 2h0m14 1h0m4 4h0m-27 1h0m9 0h0m-44 3h0m90 0h0m-50 3h0m90 0h0m14 0h0m-116 2h0m16 0h0m4 1h0m-11 1h0m60 0h0m-19 2h0m-26 4h0m-10 1h0m46 3h0m13 0h0m-65 1h0m-11 1h0m36 0h0m-11 1h0m11 2h0m-58 2h0m56 0h0m5 5h0m71 6h0m-102 5h0m2 0h0m106 3h0m-21 2h0m2 0h0m-29 3h0m-52 1h0m63 1h0m28 0h0m-83 1h0m28 4h0m55 1h0m-8 1h0m18 1h0m-93 2h0m13 5h0m53 0h0m-27 1h0m-41 2h0m-11 3h0m91 1h0m-94 1h0m17 3h0m65 4h0m-52 4h0m52 0h0m-75 3h0m62 3h0m-17 5h0m6 1h0m-19 2h0m84 75h0" stroke="#999999" stroke-width="6.4" stroke-linecap="round"/>
<path d="M238 586h0m-31 90h0m-55 6h0m67 0h0m-7 5h0m-10 4h0m-93 2h0m100 4h0m59 6h0m-40 3h0m44 0h0m5 0h0m-126 4h0m87 1h0m-2 5h0m-72 1h0m41 1h0m46 1h0m-55 3h0m14 3h0m-124 1h0m81 0h0m78 0h0m-26 1h0m-18 4h0m4 1h0m-5 3h0m8 1h0m41 0h0m-43 4h0m19 1h0m23 2h0m14 1h0m-107 3h0m98 1h0m6 6h0m-46 4h0m7 6h0m-29 3h0m-32 6h0m46 7h0m-61 6h0m92 3h0m-54 4h0m-7 5h0m49 0h0m-67 2h0m50 1h0m-30 10h0m13 4h0" stroke="#A65628" stroke-width="6.4" stroke-linecap="round"/>
<path d="M215 570h0m-21 7h0m17 2h0m-42 1h0m10 0h0m18 0h0m5 1h0m-43 4h0m46 2h0m-10 1h0m-4 1h0m-5 7h0m11 0h0m-52 6h0m-12 1h0m28 0h0m-18 9h0m27 3h0m7 2h0m-6 1h0m29 1h0m-86 1h0m51 1h0m1 2h0m-56 1h0m45 0h0m21 4h0m7 1h0m-11 1h0m8 0h0m-64 2h0m27 0h0m22 3h0m-56 1h0m-10 2h0m24 0h0m-18 1h0m19 0h0m87 0h0m-36 2h0m-30 1h0m10 1h0m23 0h0m-54 1h0m81 0h0m-127 3h0m41 2h0m5 0h0m64 0h0m-83 1h0m63 1h0m-76 1h0m9 0h0m28 0h0m21 0h0m-79 1h0m86 1h0m-9 1h0m37 0h0m-30 3h0m-48 2h0m67 0h0m-94 3h0m53 1h0m-21 1h0m50 1h0m-67 2h0m17 0h0m-3 4h0m93 0h0m-38 3h0m13 1h0m-37 1h0m-70 1h0m50 0h0m-39 1h0m74 0h0m-89 1h0m38 1h0m-37 1h0m66 1h0m-36 1h0m43 1h0m-55 1h0m-4 1h0m112 1h0m-122 2h0m35 0h0m16 0h0m63 0h0m3 0h0m-115 1h0m23 0h0m25 1h0m-44 3h0m-1 1h0m50 0h0m-3 4h0m-34 1h0m6 0h0m13 0h0m13 2h0m-17 1h0m23 1h0m0 4h0m-12 1h0m-43 1h0m1 0h0m7 0h0m2 1h0m-24 2h0m45 3h0m20 1h0m-53 17h0m45 3h0m108 1h0m-92 6h0m-3 4h0m107 25h0" stroke="#F781BF" stroke-width="6.4" stroke-linecap="round"/>
<path d="M198 616h0m-89 30h0m27 44h0m-79 41h0m2 5h0m-7 4h0m12 7h0m-12 4h0m0 1h0m15 5h0m-3 9h0" stroke="#FF7F00" stroke-width="6.4" stroke-linecap="round"/>
<path d="M327 764h0m-13 33h0m-29 2h0m33 3h0m-20 1h0m12 1h0m-6 4h0m-11 1h0m24 2h0m-40 2h0m-6 10h0m0 1h0m14 3h0m6 2h0m3 0h0m-17 3h0m-27 5h0m14 0h0m-7 2h0m21 0h0m25 0h0m-62 1h0m18 2h0m34 1h0m-41 3h0m12 0h0m-36 3h0m50 0h0m-24 2h0m19 1h0m-20 3h0m-23 1h0m34 0h0m25 1h0m8 2h0m-63 1h0m-12 1h0m8 1h0m37 2h0m30 2h0m-79 2h0m18 1h0m10 0h0m-16 1h0m64 0h0m-87 1h0m90 0h0m3 0h0m-72 1h0m24 0h0m-43 1h0m86 2h0m-88 1h0m17 0h0m61 0h0m-35 1h0m-22 2h0m-9 2h0m33 0h0m43 0h0m-86 2h0m72 1h0m-18 1h0m-44 3h0m14 0h0m47 0h0m-17 1h0m17 0h0m-7 1h0m1 0h0m-24 1h0m12 6h0m-13 4h0" stroke="#E41A1C" stroke-width="6.4" stroke-linecap="round"/>
<path d="M303 610h0m3 1h0m-29 6h0m25 2h0m9 0h0m-18 1h0m-11 1h0m5 3h0m-58 3h0m55 0h0m12 1h0m0 1h0m-13 5h0m15 3h0m-19 1h0m5 1h0m10 5h0m5 13h0m7 2h0m6 0h0m-4 2h0m-8 1h0m27 3h0m-34 4h0m5 0h0m7 4h0m-2 4h0m-84 20h0m1 9h0m4 2h0m87 58h0m-5 2h0" stroke="#984EA3" stroke-width="6.4" stroke-linecap="round"/>
<path d="M246 627h0m106 82h0m0 4h0m1 0h0m-1 4h0m0 2h0m18 8h0m-230 14h0" stroke="#377EB8" stroke-width="6.4" stroke-linecap="round"/>
<path d="M238 629h0m5 3h0m-8 1h0m203 68h0m-1 1h0m7 5h0m-9 2h0m6 11h0m-4 6h0m-1 1h0" stroke="#4DAF4A" stroke-width="6.4" stroke-linecap="round"/>
<path d="M222 572h0m-15 101h0m-83 2h0m87 0h0m-66 7h0m0 7h0m31 4h0m22 9h0m8 1h0m-32 2h0m74 1h0m-82 2h0m15 3h0m53 4h0m-147 2h0m99 2h0m24 0h0m-5 7h0m27 0h0m-86 4h0m118 0h0m-74 3h0m-14 1h0m-3 1h0m92 5h0m-25 1h0m-86 1h0m61 1h0m26 0h0m19 0h0m10 6h0m-22 1h0m-42 2h0m-7 2h0m34 1h0m3 1h0m13 3h0m-65 2h0m-24 1h0m171 4h0m3 0h0m-149 6h0m-10 3h0m75 0h0m-73 7h0m-20 4h0m18 3h0m-4 3h0m61 10h0m-16 5h0m26 67h0" stroke="#A65628" stroke-width="6.4" stroke-linecap="round"/>
<path d="M228 573h0m-61 27h0m15 39h0m26 3h0m17 3h0m20 12h0m-5 1h0m-128 4h0m118 0h0m-14 5h0m-95 9h0m13 4h0m-17 1h0m97 2h0m-123 3h0m53 7h0m25 1h0m-23 1h0m63 0h0m-56 2h0m117 1h0m-45 1h0m14 0h0m-157 2h0m144 0h0m-152 2h0m13 0h0m159 1h0m-78 1h0m64 0h0m-71 5h0m115 0h0m-49 1h0m-34 2h0m32 2h0m7 2h0m-48 2h0m73 2h0m-41 1h0m-2 2h0m-128 1h0m-14 1h0m86 0h0m111 0h0m-202 1h0m132 0h0m-105 5h0m74 0h0m-97 2h0m39 4h0m141 0h0m-64 2h0m-11 3h0m43 0h0m-67 1h0m-15 1h0m12 1h0m30 0h0m10 0h0m47 0h0m-80 1h0m100 0h0m-118 1h0m42 0h0m83 1h0m-103 2h0m-8 1h0m105 2h0m-62 1h0m0 1h0m-31 1h0m-14 1h0m-5 3h0m34 0h0m1 0h0m27 1h0m18 0h0m12 2h0m-8 3h0m-19 4h0m29 0h0m-6 1h0m105 0h0m-181 2h0m13 1h0m11 3h0m20 0h0m-56 1h0m16 0h0m-9 1h0m12 2h0m47 0h0m39 0h0m-80 1h0m63 0h0m18 0h0m-11 1h0m-33 1h0m-12 4h0m-31 9h0m17 3h0m6 0h0m-13 2h0m21 2h0m-37 3h0m34 0h0m15 3h0m-32 5h0m21 0h0m16 1h0m-28 1h0" stroke="#999999" stroke-width="6.4" stroke-linecap="round"/>
<path d="M220 567h0m-58 10h0m23 5h0m-18 4h0m9 2h0m24 0h0m-13 1h0m-36 3h0m40 2h0m13 2h0m-39 2h0m29 0h0m12 0h0m-31 2h0m16 0h0m-50 4h0m-12 1h0m47 1h0m-43 4h0m-10 1h0m2 1h0m40 1h0m-12 2h0m10 0h0m-16 1h0m49 1h0m-10 2h0m-51 5h0m35 0h0m-36 1h0m70 0h0m-56 1h0m-13 4h0m23 2h0m-62 1h0m36 0h0m-11 1h0m51 1h0m-52 2h0m58 0h0m22 0h0m-105 1h0m-10 3h0m17 1h0m9 2h0m9 0h0m53 0h0m23 0h0m-114 1h0m106 1h0m5 0h0m-63 1h0m17 0h0m-10 2h0m58 1h0m-11 1h0m-7 1h0m-15 1h0m-59 1h0m-6 1h0m-13 2h0m-13 1h0m49 2h0m5 5h0m15 1h0m-10 1h0m-50 3h0m43 0h0m39 0h0m-63 3h0m-7 1h0m8 4h0m10 0h0m11 2h0m-36 1h0m119 3h0m-29 1h0m-85 1h0m110 0h0m-111 2h0m-1 1h0m36 2h0m-12 1h0m17 1h0m-71 2h0m41 0h0m39 1h0m-51 1h0m35 1h0m11 1h0m24 2h0m-57 5h0m-16 1h0m2 5h0m149 0h0m-177 1h0m29 0h0m22 0h0m12 0h0m-2 1h0m160 0h0m-193 3h0m-15 13h0m5 5h0m166 5h0m-57 44h0" stroke="#F781BF" stroke-width="6.4" stroke-linecap="round"/>
<path d="M211 641h0m-101 32h0m38 20h0m-80 37h0m18 5h0m-21 4h0m6 8h0m-7 2h0m4 0h0m-7 6h0m-6 5h0m6 2h0m-8 2h0m4 0h0" stroke="#FF7F00" stroke-width="6.4" stroke-linecap="round"/>
<path d="M275 700h0m61 65h0m-7 2h0m1 2h0m-12 28h0m-35 6h0m34 0h0m-26 5h0m-9 4h0m-8 1h0m30 0h0m-35 2h0m5 3h0m19 1h0m-11 1h0m12 0h0m-16 3h0m25 2h0m-33 2h0m5 1h0m8 2h0m1 3h0m-3 1h0m16 1h0m-32 2h0m-16 2h0m34 3h0m11 0h0m-62 1h0m72 3h0m-44 1h0m21 0h0m-30 2h0m50 2h0m-24 2h0m-52 1h0m13 0h0m4 0h0m30 1h0m26 0h0m-35 1h0m28 0h0m-71 1h0m84 0h0m-40 1h0m16 0h0m9 0h0m12 3h0m-43 3h0m-53 1h0m78 1h0m19 0h0m-92 3h0m57 0h0m-48 2h0m38 0h0m-42 1h0m55 0h0m-36 1h0m24 4h0m27 2h0m1 1h0m4 0h0m-40 3h0m35 0h0m3 0h0m-22 3h0m3 2h0m-9 3h0m-16 2h0m42 0h0m-36 2h0m5 5h0m16 0h0m-19 1h0" stroke="#E41A1C" stroke-width="6.4" stroke-linecap="round"/>
<path d="M296 605h0m-5 4h0m-3 4h0m-4 1h0m14 2h0m14 3h0m-41 8h0m17 1h0m-15 1h0m0 4h0m27 1h0m1 4h0m-24 1h0m29 14h0m-66 3h0m71 3h0m2 1h0m18 2h0m-19 3h0m7 1h0m-24 1h0m17 0h0m22 4h0m-36 2h0m-118 57h0m126 37h0" stroke="#984EA3" stroke-width="6.4" stroke-linecap="round"/>
<path d="M232 593h0m6 36h0" stroke="#377EB8" stroke-width="6.4" stroke-linecap="round"/>
<path d="M237 636h0m-30 33h0m231 35h0m6 5h0m-6 2h0m-5 1h0m2 2h0m4 9h0" stroke="#4DAF4A" stroke-width="6.4" stroke-linecap="round"/>
<text x="-1.8" y="524.9" font-size="43.00" font-weight="bold">d</text>
<text x="177.4" y="961.4" font-size="24.34">tSNE1</text>
<text transform="translate(25.8,753.8) rotate(-90)" font-size="24.92">tSNE2</text>
<circle cx="486.4" cy="550.2" r="5.9" fill="#E41A1C"/>
<text transform="matrix(1.066 0 0 1 499.8 558.4)" font-size="23.90">B cell</text>
<circle cx="486.4" cy="581.7" r="5.9" fill="#999999"/>
<text transform="matrix(1.066 0 0 1 501.3 589.9)" font-size="23.90">T cell</text>
<circle cx="486.4" cy="613.3" r="5.9" fill="#377EB8"/>
<text transform="matrix(1.066 0 0 1 500.6 621.5)" font-size="23.90">CAF</text>
<circle cx="486.4" cy="644.9" r="5.9" fill="#4DAF4A"/>
<text transform="matrix(1.066 0 0 1 499.8 653.1)" font-size="23.90">Endothelial cell</text>
<circle cx="486.4" cy="675.9" r="5.9" fill="#984EA3"/>
<text transform="matrix(1.066 0 0 1 499.8 684.1)" font-size="23.90">Macrophage</text>
<circle cx="486.4" cy="707.4" r="5.9" fill="#FF7F00"/>
<text transform="matrix(1.066 0 0 1 499.8 715.6)" font-size="23.90">NK cell</text>
<circle cx="486.4" cy="738.8" r="5.9" fill="#A65628"/>
<text transform="matrix(1.066 0 0 1 500.6 747)" font-size="23.90">CD4<tspan font-size="14.34" dy="-9">+</tspan><tspan dy="9"> T cell</tspan></text>
<circle cx="486.4" cy="770.1" r="5.9" fill="#F781BF"/>
<text transform="matrix(1.066 0 0 1 500.6 778.3)" font-size="23.90">CD8<tspan font-size="14.34" dy="-9">+</tspan><tspan dy="9"> T cell</tspan></text>
<line x1="745.7" y1="535" x2="745.7" y2="927" stroke="#EFEFEF" stroke-width="1"/>
<line x1="825.7" y1="535" x2="825.7" y2="927" stroke="#EFEFEF" stroke-width="1"/>
<line x1="986" y1="535" x2="986" y2="927" stroke="#EFEFEF" stroke-width="1"/>
<line x1="1066" y1="535" x2="1066" y2="927" stroke="#EFEFEF" stroke-width="1"/>
<line x1="1145.7" y1="535" x2="1145.7" y2="927" stroke="#EFEFEF" stroke-width="1"/>
<line x1="728.4" y1="564.5" x2="1171" y2="564.5" stroke="#EFEFEF" stroke-width="1"/>
<line x1="728.4" y1="604.8" x2="1171" y2="604.8" stroke="#EFEFEF" stroke-width="1"/>
<line x1="728.4" y1="644.5" x2="1171" y2="644.5" stroke="#EFEFEF" stroke-width="1"/>
<line x1="728.4" y1="684.8" x2="1171" y2="684.8" stroke="#EFEFEF" stroke-width="1"/>
<line x1="728.4" y1="765" x2="1171" y2="765" stroke="#EFEFEF" stroke-width="1"/>
<line x1="728.4" y1="804.8" x2="1171" y2="804.8" stroke="#EFEFEF" stroke-width="1"/>
<line x1="728.4" y1="845" x2="1171" y2="845" stroke="#EFEFEF" stroke-width="1"/>
<line x1="728.4" y1="885.4" x2="1171" y2="885.4" stroke="#EFEFEF" stroke-width="1"/>
<line x1="728.4" y1="925.7" x2="1171" y2="925.7" stroke="#EFEFEF" stroke-width="1"/>
<line x1="905.4" y1="535" x2="905.4" y2="927" stroke="#9A9A9A" stroke-width="1.3"/>
<line x1="728.4" y1="724.8" x2="1171" y2="724.8" stroke="#9A9A9A" stroke-width="1.3"/>
<path d="M916 567h0m3 0h0m2 0h0m6 0h0m-4 1h0m-5 1h0m3 0h0m9 0h0m-16 1h0m6 1h0m-12 1h0m13 0h0m1 0h0m5 1h0m-14 1h0m14 0h0m5 0h0m3 0h0m-47 1h0m29 0h0m7 0h0m7 0h0m-77 1h0m51 0h0m-44 1h0m19 0h0m13 0h0m21 0h0m-59 1h0m29 0h0m42 0h0m-62 1h0m46 0h0m12 0h0m12 0h0m1 0h0m-78 1h0m6 0h0m15 0h0m8 0h0m5 0h0m5 0h0m29 0h0m-45 1h0m21 0h0m4 0h0m35 0h0m-92 1h0m36 0h0m46 0h0m1 0h0m-70 1h0m36 0h0m2 0h0m-49 1h0m6 0h0m15 0h0m10 0h0m19 0h0m9 0h0m-51 1h0m16 0h0m1 0h0m15 0h0m50 0h0m-79 1h0m5 0h0m15 0h0m23 0h0m33 0h0m-91 1h0m58 0h0m-63 1h0m17 0h0m6 0h0m11 0h0m1 0h0m18 0h0m5 0h0m-47 1h0m4 0h0m13 0h0m2 0h0m15 0h0m4 0h0m-49 2h0m98 0h0m-89 1h0m6 0h0m2 1h0m12 0h0m26 0h0m10 0h0m25 0h0m-89 1h0m7 0h0m19 0h0m11 0h0m11 0h0m3 0h0m-46 1h0m19 0h0m-23 1h0m15 0h0m27 0h0m1 0h0m10 0h0m7 0h0m-66 1h0m20 0h0m22 0h0m17 0h0m-32 1h0m9 0h0m13 0h0m7 0h0m12 0h0m-55 1h0m-16 1h0m30 0h0m2 0h0m8 0h0m9 0h0m7 0h0m13 0h0m-77 1h0m11 0h0m7 0h0m14 0h0m14 0h0m33 0h0m-61 1h0m9 0h0m28 0h0m11 0h0m-66 1h0m6 0h0m28 0h0m7 0h0m-27 1h0m7 0h0m1 0h0m17 0h0m14 0h0m4 0h0m9 0h0m9 0h0m-73 1h0m47 0h0m20 0h0m100 0h0m5 0h0m-143 1h0m7 0h0m11 0h0m124 0h0m-144 2h0m13 0h0m18 0h0m-50 1h0m13 0h0m24 0h0m19 0h0m9 0h0m-69 1h0m14 0h0m33 0h0m8 0h0m2 0h0m16 0h0m99 0h0m-182 1h0m7 0h0m9 0h0m19 0h0m12 0h0m33 0h0m106 0h0m-186 1h0m2 0h0m11 0h0m7 0h0m39 0h0m-38 1h0m16 0h0m5 0h0m132 0h0m-172 1h0m11 0h0m53 0h0m-58 1h0m22 0h0m10 0h0m7 0h0m28 0h0m81 0h0m-136 1h0m4 0h0m51 0h0m82 0h0m-131 1h0m19 0h0m9 0h0m4 0h0m15 0h0m97 0h0m10 0h0m-183 1h0m51 0h0m-51 1h0m6 0h0m12 0h0m1 0h0m8 0h0m2 0h0m37 0h0m14 0h0m86 0h0m26 0h0m-198 1h0m24 0h0m19 0h0m6 0h0m6 0h0m22 0h0m90 0h0m14 0h0m-178 1h0m48 0h0m25 0h0m14 0h0m46 0h0m32 0h0m9 0h0m-147 1h0m-30 1h0m27 0h0m6 0h0m19 0h0m12 0h0m19 0h0m-87 1h0m24 0h0m1 0h0m20 0h0m15 0h0m68 0h0m3 0h0m46 0h0m-176 1h0m7 0h0m16 0h0m59 0h0m10 0h0m1 0h0m37 0h0m-130 1h0m2 0h0m35 0h0m12 0h0m30 0h0m8 0h0m-19 1h0m50 0h0m17 0h0m32 0h0m-175 1h0m1 0h0m33 0h0m19 0h0m20 0h0m67 0h0m45 0h0m-171 1h0m4 0h0m8 0h0m17 0h0m12 0h0m12 0h0m2 0h0m11 0h0m33 0h0m22 0h0m35 0h0m-163 1h0m13 0h0m12 0h0m19 0h0m18 0h0m6 0h0m2 0h0m12 0h0m49 0h0m-87 1h0m16 0h0m63 0h0m-117 1h0m6 0h0m21 0h0m15 0h0m30 0h0m50 0h0m5 0h0m3 0h0m-150 1h0m21 0h0m15 0h0m74 0h0m5 0h0m24 0h0m6 0h0m1 0h0m4 0h0m-134 1h0m9 0h0m18 0h0m27 0h0m1 0h0m1 0h0m28 0h0m13 0h0m73 0h0m8 0h0m-189 1h0m64 0h0m7 0h0m10 0h0m3 0h0m103 0h0m-195 1h0m6 0h0m10 0h0m5 0h0m36 0h0m83 0h0m4 0h0m-117 1h0m8 0h0m14 0h0m14 0h0m9 0h0m13 0h0m8 0h0m14 0h0m14 0h0m89 0h0m-208 1h0m22 0h0m6 0h0m16 0h0m11 0h0m22 0h0m13 0h0m12 0h0m13 0h0m33 0h0m36 0h0m14 0h0m-200 1h0m12 0h0m5 0h0m14 0h0m6 0h0m33 0h0m19 0h0m13 0h0m16 0h0m7 0h0m53 0h0m6 0h0m-117 1h0m22 0h0m2 0h0m20 0h0m10 0h0m25 0h0m-154 1h0m90 0h0m36 0h0m73 0h0m-191 1h0m5 0h0m4 0h0m2 0h0m27 0h0m8 0h0m2 0h0m4 0h0m9 0h0m44 0h0m1 0h0m9 0h0m7 0h0m-134 1h0m39 0h0m31 0h0m4 0h0m8 0h0m15 0h0m11 0h0m2 0h0m21 0h0m77 0h0m-181 1h0m3 0h0m9 0h0m4 0h0m14 0h0m31 0h0m4 0h0m23 0h0m5 0h0m4 0h0m12 0h0m-135 1h0m3 0h0m1 0h0m48 0h0m-39 1h0m14 0h0m28 0h0m23 0h0m22 0h0m6 0h0m5 0h0m-115 1h0m52 0h0m17 0h0m3 0h0m27 0h0m-84 1h0m7 0h0m11 0h0m24 0h0m8 0h0m7 0h0m-73 1h0m25 0h0m13 0h0m4 0h0m2 0h0m3 0h0m13 0h0m3 0h0m48 0h0m-107 1h0m24 0h0m13 0h0m65 0h0m12 0h0m103 0h0m-212 1h0m58 0h0m10 0h0m14 0h0m16 0h0m113 0h0m1 0h0m12 0h0m-218 1h0m9 0h0m28 0h0m1 0h0m20 0h0m27 0h0m-106 1h0m35 0h0m28 0h0m26 0h0m2 0h0m2 0h0m142 0h0m-203 1h0m41 0h0m1 0h0m12 0h0m-84 1h0m24 0h0m12 0h0m3 0h0m10 0h0m26 0h0m30 0h0m2 0h0m5 0h0m-95 1h0m3 0h0m44 0h0m9 0h0m24 0h0m70 0h0m53 0h0m-228 1h0m3 0h0m5 0h0m7 0h0m4 0h0m67 0h0m22 0h0m72 0h0m81 0h0m-255 1h0m19 0h0m4 0h0m20 0h0m27 0h0m14 0h0m16 0h0m9 0h0m3 0h0m57 0h0m-154 1h0m14 0h0m11 0h0m10 0h0m37 0h0m134 0h0m14 0h0m5 0h0m-238 1h0m24 0h0m10 0h0m8 0h0m5 0h0m7 0h0m47 0h0m10 0h0m32 0h0m18 0h0m79 0h0m-224 1h0m11 0h0m26 0h0m14 0h0m101 0h0m67 0h0m11 0h0m-252 1h0m45 0h0m21 0h0m8 0h0m16 0h0m2 0h0m71 0h0m101 0h0m-251 1h0m29 0h0m5 0h0m34 0h0m1 0h0m30 0h0m-105 1h0m26 0h0m19 0h0m14 0h0m10 0h0m18 0h0m8 0h0m4 0h0m38 0h0m23 0h0m2 0h0m49 0h0m18 0h0m26 0h0m-234 1h0m17 0h0m13 0h0m96 0h0m6 0h0m85 0h0m-226 1h0m8 0h0m46 0h0m22 0h0m170 0h0m-230 1h0m5 0h0m23 0h0m6 0h0m13 0h0m20 0h0m4 0h0m29 0h0m14 0h0m46 0h0m33 0h0m17 0h0m-240 1h0m23 0h0m10 0h0m5 0h0m2 0h0m11 0h0m20 0h0m166 0h0m17 0h0m-206 1h0m19 0h0m12 0h0m8 0h0m20 0h0m28 0h0m16 0h0m70 0h0m-218 1h0m5 0h0m6 0h0m9 0h0m28 0h0m8 0h0m31 0h0m15 0h0m34 0h0m-111 1h0m67 0h0m2 0h0m144 0h0m21 0h0m-225 1h0m26 0h0m17 0h0m50 0h0m10 0h0m6 0h0m-146 1h0m16 0h0m11 0h0m2 0h0m9 0h0m12 0h0m6 0h0m19 0h0m60 0h0m1 0h0m90 0h0m7 0h0m-213 1h0m24 0h0m42 0h0m56 0h0m-135 1h0m14 0h0m31 0h0m19 0h0m7 0h0m14 0h0m47 0h0m10 0h0m82 0h0m26 0h0m-261 1h0m15 0h0m27 0h0m3 0h0m8 0h0m6 0h0m24 0h0m16 0h0m10 0h0m30 0h0m-124 1h0m57 0h0m17 0h0m8 0h0m11 0h0m119 0h0m8 0h0m-233 1h0m21 0h0m9 0h0m10 0h0m10 0h0m61 0h0m24 0h0m19 0h0m-149 1h0m6 0h0m18 0h0m7 0h0m49 0h0m4 0h0m1 0h0m44 0h0m-138 1h0m10 0h0m45 0h0m13 0h0m7 0h0m8 0h0m25 0h0m-89 1h0m7 0h0m12 0h0m13 0h0m94 0h0m-144 1h0m34 0h0m9 0h0m1 0h0m6 0h0m10 0h0m18 0h0m3 0h0m4 0h0m13 0h0m44 0h0m10 0h0m2 0h0m76 0h0m-234 1h0m19 0h0m12 0h0m31 0h0m8 0h0m25 0h0m55 0h0m1 0h0m9 0h0m13 0h0m-139 1h0m38 0h0m34 0h0m35 0h0m-141 1h0m27 0h0m11 0h0m65 0h0m9 0h0m33 0h0m17 0h0m-154 1h0m14 0h0m5 0h0m1 0h0m55 0h0m54 0h0m22 0h0m7 0h0m10 0h0m-171 1h0m13 0h0m26 0h0m22 0h0m23 0h0m1 0h0m59 0h0m-136 1h0m6 0h0m7 0h0m28 0h0m16 0h0m22 0h0m38 0h0m5 0h0m5 0h0m-137 1h0m22 0h0m26 0h0m19 0h0m12 0h0m82 0h0m-156 1h0m35 0h0m16 0h0m14 0h0m4 0h0m45 0h0m3 0h0m45 0h0m-160 1h0m23 0h0m28 0h0m20 0h0m8 0h0m50 0h0m19 0h0m3 0h0m-112 1h0m9 0h0m55 0h0m9 0h0m20 0h0m27 0h0m-123 1h0m20 0h0m3 0h0m12 0h0m4 0h0m48 0h0m16 0h0m2 0h0m-149 1h0m13 0h0m2 0h0m89 0h0m65 0h0m-176 1h0m11 0h0m8 0h0m2 0h0m10 0h0m9 0h0m1 0h0m8 0h0m3 0h0m6 0h0m22 0h0m8 0h0m48 0h0m5 0h0m10 0h0m8 0h0m10 0h0m7 0h0m16 0h0m-189 1h0m7 0h0m8 0h0m7 0h0m10 0h0m33 0h0m12 0h0m20 0h0m25 0h0m62 0h0m-158 1h0m10 0h0m29 0h0m7 0h0m18 0h0m2 0h0m23 0h0m19 0h0m14 0h0m23 0h0m23 0h0m5 0h0m-156 1h0m12 0h0m6 0h0m20 0h0m19 0h0m70 0h0m15 0h0m24 0h0m-195 1h0m58 0h0m46 0h0m22 0h0m24 0h0m14 0h0m14 0h0m-185 1h0m10 0h0m20 0h0m9 0h0m16 0h0m2 0h0m29 0h0m19 0h0m6 0h0m6 0h0m2 0h0m17 0h0m58 0h0m13 0h0m-193 1h0m7 0h0m6 0h0m13 0h0m49 0h0m41 0h0m16 0h0m12 0h0m28 0h0m184 0h0m-273 1h0m17 0h0m16 0h0m66 0h0m173 0h0m-378 1h0m10 0h0m5 0h0m13 0h0m31 0h0m3 0h0m16 0h0m22 0h0m7 0h0m22 0h0m5 0h0m2 0h0m11 0h0m9 0h0m43 0h0m10 0h0m175 0h0m-376 1h0m10 0h0m27 0h0m5 0h0m89 0h0m20 0h0m15 0h0m13 0h0m22 0h0m163 0h0m7 0h0m-340 1h0m3 0h0m14 0h0m12 0h0m18 0h0m8 0h0m10 0h0m5 0h0m6 0h0m58 0h0m203 0h0m-335 1h0m98 0h0m22 0h0m8 0h0m20 0h0m6 0h0m18 0h0m5 0h0m-193 1h0m9 0h0m29 0h0m23 0h0m6 0h0m22 0h0m13 0h0m36 0h0m9 0h0m8 0h0m2 0h0m113 0h0m-297 1h0m19 0h0m21 0h0m37 0h0m4 0h0m11 0h0m7 0h0m10 0h0m17 0h0m23 0h0m12 0h0m6 0h0m37 0h0m1 0h0m6 0h0m2 0h0m11 0h0m157 0h0m-341 1h0m13 0h0m5 0h0m12 0h0m68 0h0m15 0h0m33 0h0m37 0h0m72 0h0m3 0h0m89 0h0m-341 1h0m12 0h0m36 0h0m4 0h0m6 0h0m9 0h0m18 0h0m33 0h0m31 0h0m1 0h0m23 0h0m-204 1h0m1 0h0m7 0h0m15 0h0m35 0h0m10 0h0m7 0h0m28 0h0m6 0h0m5 0h0m21 0h0m4 0h0m4 0h0m12 0h0m11 0h0m12 0h0m188 0h0m-356 1h0m4 0h0m67 0h0m9 0h0m37 0h0m35 0h0m1 0h0m25 0h0m11 0h0m-213 1h0m29 0h0m22 0h0m12 0h0m25 0h0m10 0h0m18 0h0m5 0h0m14 0h0m10 0h0m9 0h0m6 0h0m38 0h0m12 0h0m84 0h0m1 0h0m87 0h0m-388 1h0m6 0h0m55 0h0m6 0h0m24 0h0m25 0h0m2 0h0m56 0h0m47 0h0m6 0h0m156 0h0m-340 1h0m32 0h0m55 0h0m43 0h0m9 0h0m4 0h0m27 0h0m18 0h0m70 0h0m90 0h0m-374 1h0m5 0h0m58 0h0m46 0h0m9 0h0m9 0h0m18 0h0m22 0h0m5 0h0m19 0h0m89 0h0m6 0h0m-269 1h0m1 0h0m16 0h0m5 0h0m7 0h0m49 0h0m43 0h0m25 0h0m33 0h0m19 0h0m68 0h0m88 0h0m-339 1h0m11 0h0m11 0h0m20 0h0m31 0h0m31 0h0m25 0h0m5 0h0m12 0h0m18 0h0m85 0h0m85 0h0m6 0h0m-367 1h0m32 0h0m11 0h0m3 0h0m18 0h0m9 0h0m9 0h0m28 0h0m2 0h0m24 0h0m12 0h0m29 0h0m3 0h0m16 0h0m6 0h0m5 0h0m70 0h0m1 0h0m4 0h0m2 0h0m-298 1h0m38 0h0m25 0h0m27 0h0m16 0h0m9 0h0m24 0h0m34 0h0m121 0h0m87 0h0m4 0h0m-369 1h0m4 0h0m22 0h0m89 0h0m20 0h0m46 0h0m15 0h0m8 0h0m66 0h0m14 0h0m84 0h0m-370 1h0m11 0h0m2 0h0m3 0h0m22 0h0m60 0h0m24 0h0m6 0h0m14 0h0m32 0h0m33 0h0m68 0h0m13 0h0m7 0h0m-304 1h0m27 0h0m2 0h0m12 0h0m36 0h0m5 0h0m40 0h0m5 0h0m52 0h0m16 0h0m4 0h0m4 0h0m99 0h0m7 0h0m65 0h0m-351 1h0m5 0h0m26 0h0m95 0h0m25 0h0m38 0h0m90 0h0m77 0h0m-358 1h0m13 0h0m53 0h0m12 0h0m46 0h0m32 0h0m14 0h0m21 0h0m157 0h0m-362 1h0m14 0h0m37 0h0m35 0h0m9 0h0m38 0h0m27 0h0m6 0h0m7 0h0m6 0h0m18 0h0m-202 1h0m12 0h0m9 0h0m12 0h0m40 0h0m16 0h0m39 0h0m4 0h0m20 0h0m33 0h0m117 0h0m1 0h0m1 0h0m65 0h0m-367 1h0m82 0h0m9 0h0m12 0h0m44 0h0m222 0h0m-289 1h0m60 0h0m61 0h0m-202 1h0m3 0h0m20 0h0m17 0h0m4 0h0m3 0h0m31 0h0m2 0h0m27 0h0m24 0h0m35 0h0m10 0h0m13 0h0m7 0h0m11 0h0m-218 1h0m8 0h0m93 0h0m11 0h0m21 0h0m11 0h0m19 0h0m8 0h0m26 0h0m5 0h0m-165 1h0m74 0h0m20 0h0m17 0h0m18 0h0m27 0h0m11 0h0m-176 1h0m56 0h0m44 0h0m5 0h0m-128 1h0m9 0h0m32 0h0m10 0h0m23 0h0m26 0h0m14 0h0m6 0h0m14 0h0m12 0h0m15 0h0m-160 1h0m7 0h0m6 0h0m10 0h0m78 0h0m9 0h0m27 0h0m2 0h0m33 0h0m31 0h0m5 0h0m-217 1h0m5 0h0m43 0h0m31 0h0m16 0h0m5 0h0m54 0h0m30 0h0m11 0h0m-151 1h0m12 0h0m53 0h0m13 0h0m17 0h0m26 0h0m13 0h0m-173 1h0m9 0h0m4 0h0m30 0h0m8 0h0m5 0h0m4 0h0m25 0h0m57 0h0m32 0h0m18 0h0m6 0h0m-192 1h0m58 0h0m22 0h0m10 0h0m16 0h0m15 0h0m14 0h0m13 0h0m10 0h0m-171 1h0m6 0h0m59 0h0m31 0h0m30 0h0m6 0h0m3 0h0m19 0h0m36 0h0m19 0h0m4 0h0m-201 1h0m50 0h0m22 0h0m1 0h0m3 0h0m33 0h0m26 0h0m14 0h0m12 0h0m15 0h0m7 0h0m6 0h0m-200 1h0m11 0h0m4 0h0m42 0h0m44 0h0m7 0h0m1 0h0m22 0h0m15 0h0m37 0h0m-118 1h0m31 0h0m27 0h0m16 0h0m18 0h0m5 0h0m4 0h0m22 0h0m7 0h0m12 0h0m9 0h0m-143 1h0m26 0h0m14 0h0m7 0h0m89 0h0m-201 1h0m69 0h0m1 0h0m6 0h0m29 0h0m28 0h0m12 0h0m14 0h0m-152 1h0m47 0h0m30 0h0m4 0h0m22 0h0m8 0h0m10 0h0m13 0h0m26 0h0m8 0h0m18 0h0m-190 1h0m7 0h0m72 0h0m12 0h0m1 0h0m57 0h0m43 0h0m-209 1h0m7 0h0m84 0h0m42 0h0m18 0h0m40 0h0m15 0h0m-193 1h0m4 0h0m4 0h0m60 0h0m102 0h0m32 0h0m1 0h0m7 0h0m-98 1h0m40 0h0m36 0h0m-196 1h0m108 0h0m5 0h0m3 0h0m8 0h0m73 0h0m-197 1h0m100 0h0m5 0h0m24 0h0m15 0h0m10 0h0m11 0h0m4 0h0m15 0h0m4 0h0m13 0h0m-7 1h0m-199 1h0m2 0h0m104 0h0m4 0h0m8 0h0m34 0h0m32 0h0m26 0h0m2 0h0m3 0h0m4 0h0m-222 1h0m1 0h0m16 0h0m113 0h0m12 0h0m9 0h0m18 0h0m4 0h0m15 0h0m1 0h0m16 0h0m18 0h0m-210 1h0m10 0h0m3 0h0m88 0h0m11 0h0m26 0h0m6 0h0m21 0h0m14 0h0m-169 1h0m92 0h0m5 0h0m9 0h0m27 0h0m5 0h0m21 0h0m5 0h0m16 0h0m16 0h0m-193 1h0m80 0h0m34 0h0m29 0h0m26 0h0m16 0h0m-210 1h0m109 0h0m68 0h0m27 0h0m16 0h0m-222 1h0m7 0h0m5 0h0m3 0h0m135 0h0m-48 1h0m30 0h0m4 0h0m1 0h0m4 0h0m13 0h0m4 0h0m57 0h0m-197 1h0m84 0h0m2 0h0m13 0h0m5 0h0m9 0h0m25 0h0m8 0h0m18 0h0m-53 1h0m20 0h0m55 0h0m4 0h0m88 0h0m6 0h0m-300 1h0m8 0h0m4 0h0m85 0h0m28 0h0m36 0h0m12 0h0m2 0h0m15 0h0m2 0h0m12 0h0m78 0h0m1 0h0m15 0h0m-193 1h0m73 0h0m26 0h0m4 0h0m83 0h0m6 0h0m-290 1h0m4 0h0m8 0h0m82 0h0m13 0h0m3 0h0m15 0h0m52 0h0m30 0h0m52 0h0m20 0h0m3 0h0m5 0h0m3 0h0m-301 1h0m9 0h0m10 0h0m106 0h0m19 0h0m6 0h0m9 0h0m13 0h0m5 0h0m11 0h0m3 0h0m2 0h0m26 0h0m46 0h0m1 0h0m20 0h0m12 0h0m-287 1h0m130 0h0m124 0h0m20 0h0m-283 1h0m111 0h0m2 0h0m52 0h0m13 0h0m27 0h0m82 0h0m-159 1h0m6 0h0m13 0h0m4 0h0m11 0h0m3 0h0m48 0h0m71 0h0m-266 1h0m92 0h0m49 0h0m8 0h0m15 0h0m14 0h0m5 0h0m100 0h0m-201 1h0m6 0h0m18 0h0m4 0h0m14 0h0m7 0h0m6 0h0m18 0h0m1 0h0m16 0h0m11 0h0m92 0h0m2 0h0m1 0h0m-180 1h0m2 0h0m34 0h0m10 0h0m40 0h0m-88 1h0m19 0h0m8 0h0m51 0h0m19 0h0m-103 1h0m19 0h0m5 0h0m75 0h0m-39 1h0m-46 1h0m6 0h0m18 0h0m8 0h0m35 0h0m13 0h0m-92 1h0m5 0h0m23 0h0m20 0h0m37 0h0m6 0h0m12 0h0m-111 1h0m16 0h0m23 0h0m34 0h0m18 0h0m3 0h0m-96 1h0m8 0h0m1 0h0m18 0h0m10 0h0m25 0h0m14 0h0m1 0h0m24 0h0m10 0h0m-55 1h0m-38 1h0m3 0h0m13 0h0m12 0h0m6 0h0m16 0h0m3 0h0m7 0h0m4 0h0m25 0h0m-80 1h0m32 0h0m31 0h0m18 0h0m-103 1h0m37 0h0m43 0h0m12 0h0m-79 1h0m7 0h0m15 0h0m24 0h0m16 0h0m7 0h0m2 0h0m-88 1h0m13 0h0m22 0h0m15 0h0m8 0h0m22 0h0m-72 1h0m22 0h0m20 0h0m14 0h0m19 0h0m21 0h0m-97 1h0m20 0h0m29 0h0m4 0h0m11 0h0m-57 1h0m17 0h0m6 0h0m7 0h0m7 0h0m20 0h0m4 0h0m13 0h0m4 0h0m-90 1h0m13 0h0m24 0h0m55 0h0m-82 1h0m14 0h0m5 0h0m-34 1h0m10 0h0m15 0h0m5 0h0m17 0h0m34 0h0m-74 1h0m31 0h0m66 0h0m-86 1h0m10 0h0m47 0h0m4 0h0m19 0h0m-94 1h0m41 0h0m13 0h0m6 0h0m3 0h0m18 0h0m-41 1h0m12 0h0m22 0h0m-71 1h0m22 0h0m20 0h0m15 0h0m109 0h0m4 0h0m-156 1h0m2 0h0m11 0h0m4 0h0m45 0h0m-74 1h0m18 0h0m39 0h0m20 0h0m58 0h0m-128 1h0m4 0h0m121 0h0m18 0h0m3 0h0m-150 1h0m26 0h0m8 0h0m4 0h0m16 0h0m5 0h0m79 0h0m-138 1h0m14 0h0m60 0h0m5 0h0m63 0h0m23 0h0m-144 1h0m109 0h0m15 0h0m11 0h0m8 0h0m-148 1h0m17 0h0m29 0h0m70 0h0m25 0h0m4 0h0m-128 1h0m9 0h0m27 0h0m69 0h0m-129 1h0m13 0h0m22 0h0m30 0h0m72 0h0m3 0h0m-99 1h0m13 0h0m90 0h0m-148 1h0m34 0h0m99 0h0m13 0h0m-152 1h0m14 0h0m7 0h0m120 0h0m-107 1h0m8 0h0m106 0h0m15 0h0m-138 1h0m21 0h0m5 0h0m4 0h0m1 0h0m89 0h0m20 0h0m-156 1h0m23 0h0m30 0h0m96 0h0m-128 1h0m16 0h0m6 0h0m9 0h0m5 0h0m56 0h0m3 0h0m12 0h0m11 0h0m4 0h0m-15 1h0m-125 1h0m14 0h0m12 0h0m18 0h0m61 0h0m12 0h0m15 0h0m9 0h0m-130 1h0m21 0h0m76 0h0m24 0h0m16 0h0m1 0h0m-143 1h0m27 0h0m15 0h0m56 0h0m20 0h0m-109 1h0m5 0h0m19 0h0m12 0h0m59 0h0m9 0h0m18 0h0m-91 1h0m64 0h0m16 0h0m3 0h0m10 0h0m-121 1h0m2 0h0m98 0h0m12 0h0m-101 1h0m118 0h0m-41 2h0m1 0h0m7 0h0m-7 1h0m6 0h0m13 0h0m5 0h0m10 0h0m-7 1h0m5 0h0m-18 1h0m-19 1h0m4 0h0m15 0h0m21 0h0m-31 1h0m13 0h0m2 0h0m1 1h0m3 0h0m5 0h0m-16 1h0m13 0h0m-32 1h0m18 0h0m22 0h0m-33 1h0m6 0h0m11 0h0m-28 1h0m24 0h0m-16 1h0m13 0h0m-24 1h0m40 0h0m9 0h0m-79 1h0m5 0h0m26 0h0m9 0h0m24 0h0m9 0h0m-72 1h0m6 0h0m3 0h0m3 0h0m1 0h0m9 0h0m14 0h0m1 0h0m13 0h0m-49 1h0m30 0h0m29 0h0m-39 1h0m8 0h0m17 0h0m4 0h0m7 0h0m10 0h0m8 0h0m-62 1h0m3 0h0m37 0h0m16 0h0m9 0h0m-44 1h0m13 0h0m26 0h0m5 0h0m-80 1h0m33 0h0m24 0h0m11 0h0m-62 1h0m5 0h0m41 0h0m15 0h0m-32 1h0m-35 1h0m26 0h0m-25 1h0m11 0h0m11 0h0m3 0h0m12 0h0m35 0h0m5 0h0m-72 1h0m28 0h0m14 0h0m7 0h0m2 0h0m10 0h0m13 0h0m-79 1h0m12 0h0m46 0h0m-63 1h0m6 0h0m23 0h0m2 0h0m13 0h0m12 0h0m18 0h0m11 0h0m-66 1h0m48 0h0m-41 1h0m6 0h0m14 0h0m3 0h0m30 0h0m3 0h0m-31 1h0m18 0h0m-56 1h0m35 0h0m7 0h0m17 0h0m-69 1h0m13 0h0m4 0h0m7 0h0m6 0h0m12 0h0m22 0h0m-50 1h0m14 0h0m7 0h0m12 0h0m14 0h0m12 0h0m-68 1h0m1 0h0m1 0h0m31 0h0m1 0h0m27 0h0m-71 1h0m69 0h0m15 0h0m-82 1h0m17 0h0m20 0h0m5 0h0m14 0h0m2 0h0m3 0h0m2 0h0m4 0h0m-43 1h0m30 0h0m17 0h0m4 0h0m-69 1h0m6 0h0m-21 1h0m9 0h0m1 0h0m25 0h0m5 0h0m41 0h0m7 0h0m-92 1h0m5 0h0m16 0h0m21 0h0m5 0h0m29 0h0m-49 1h0m11 0h0m16 0h0m9 0h0m-48 1h0m1 0h0m33 0h0m7 0h0m2 0h0m37 0h0m-99 1h0m36 0h0m19 0h0m2 0h0m-45 1h0m30 0h0m27 0h0m9 0h0m14 0h0m5 0h0m2 0h0m-76 1h0m53 0h0m1 0h0m6 0h0m-79 1h0m9 0h0m22 0h0m26 0h0m-63 1h0m3 0h0m4 0h0m6 0h0m20 0h0m1 0h0m9 0h0m21 0h0m4 0h0m-41 1h0m34 0h0m30 0h0m-87 1h0m12 0h0m38 0h0m10 0h0m1 0h0m22 0h0m7 0h0m3 0h0m-85 1h0m2 0h0m11 0h0m4 0h0m15 0h0m5 0h0m18 0h0m6 0h0m10 0h0m4 0h0m-81 1h0m16 0h0m9 0h0m38 0h0m12 0h0m-42 1h0m15 0h0m5 0h0m15 0h0m20 0h0m-87 1h0m3 0h0m38 0h0m41 0h0m3 0h0m-88 1h0m9 0h0m8 0h0m16 0h0m3 0h0m2 0h0m21 0h0m19 0h0m-77 1h0m25 0h0m17 0h0m8 0h0m21 0h0m-47 1h0m7 0h0m36 0h0m-47 1h0m30 0h0m27 0h0m16 0h0m-78 1h0m13 0h0m7 0h0m16 0h0m15 0h0m12 0h0m4 0h0m-71 1h0m10 0h0m23 0h0m30 0h0m13 0h0m-80 1h0m24 0h0m-30 1h0m1 0h0m3 0h0m3 0h0m34 0h0m35 0h0m3 0h0m-57 1h0m46 0h0m2 0h0m2 0h0m15 0h0m-76 1h0m5 0h0m18 0h0m3 0h0m10 0h0m3 0h0m4 0h0m-25 1h0m6 0h0m3 0h0m19 0h0m-31 1h0m13 0h0m-29 1h0m14 0h0m32 0h0m4 0h0m4 0h0m7 0h0m9 0h0m-61 1h0m28 0h0m7 0h0m17 0h0m10 0h0m-44 1h0m8 0h0m6 0h0m13 0h0m1 0h0m-37 1h0m13 0h0m10 0h0m-27 1h0m29 0h0m16 0h0m-45 1h0m11 0h0m42 0h0m-48 1h0m3 0h0m42 0h0m-33 1h0m12 0h0m6 0h0m3 0h0m3 0h0m4 1h0m-34 1h0m8 0h0m5 0h0m5 0h0m15 0h0m-13 1h0m8 0h0m-17 2h0m9 0h0m7 0h0m-29 1h0m5 0h0m2 0h0m3 0h0m4 0h0" stroke="#DCDCDC" stroke-width="5.0" stroke-linecap="round"/>
<path d="M883 622h0m68 244h0" stroke="#E5C6AE" stroke-width="5.2" stroke-linecap="round"/>
<path d="M886 609h0m102 17h0m4 23h0m7 13h0m-4 1h0" stroke="#E8BA98" stroke-width="5.2" stroke-linecap="round"/>
<path d="M830 601h0m153 26h0m-1 2h0m-10 5h0m8 0h0m20 4h0m2 6h0m-78 1h0m75 2h0m27 18h0m-8 1h0m-38 1h0m17 10h0m-126 18h0m79 10h0m-35 14h0m113 48h0" stroke="#E8AB82" stroke-width="5.2" stroke-linecap="round"/>
<path d="M868 580h0m125 24h0m9 6h0m-114 1h0m94 9h0m13 9h0m-23 4h0m-174 5h0m193 2h0m1 4h0m-3 2h0m22 13h0m-242 1h0m151 4h0m74 0h0m-155 21h0m36 8h0m6 100h0m-3 8h0m-15 9h0m118 2h0" stroke="#E89C6D" stroke-width="5.2" stroke-linecap="round"/>
<path d="M1009 605h0m3 3h0m-25 5h0m-12 1h0m1 3h0m13 3h0m-10 2h0m14 5h0m-18 4h0m17 3h0m7 0h0m-2 3h0m-14 2h0m10 14h0m-209 9h0m242 10h0m109 46h0m3 5h0m-259 7h0m-117 16h0m129 35h0m39 51h0" stroke="#E48A60" stroke-width="5.2" stroke-linecap="round"/>
<path d="M987 609h0m20 7h0m-6 3h0m-4 1h0m-27 7h0m25 1h0m-7 1h0m14 15h0m1 9h0m20 8h0m-16 2h0m13 0h0m-79 4h0m93 5h0m-2 4h0m-114 21h0m-160 13h0m374 2h0m-364 3h0m368 11h0m-241 39h0" stroke="#DE7657" stroke-width="5.2" stroke-linecap="round"/>
<path d="M1005 611h0m-22 3h0m-9 7h0m25 2h0m2 10h0m-5 6h0m5 7h0m-7 8h0m22 11h0m-1 5h0m13 0h0m-22 2h0m-14 4h0m145 27h0m6 4h0m-9 2h0m4 0h0m-211 39h0" stroke="#D8624E" stroke-width="5.2" stroke-linecap="round"/>
<path d="M901 598h0m88 7h0m6 2h0m-7 2h0m4 11h0m-5 9h0m-5 5h0m14 25h0m17 6h0m-12 4h0m0 2h0m3 3h0m134 34h0m-261 95h0" stroke="#D24F45" stroke-width="5.2" stroke-linecap="round"/>
<path d="M1000 606h0m5 5h0m7 2h0m-15 3h0m-4 7h0m10 1h0m-32 2h0m22 18h0m5 13h0m25 3h0m-20 5h0m-6 4h0m12 6h0m132 36h0" stroke="#CA3C3C" stroke-width="5.2" stroke-linecap="round"/>
<path d="M990 609h0m9 0h0m11 10h0m-130 182h0" stroke="#C22932" stroke-width="5.2" stroke-linecap="round"/>
<defs><linearGradient id="cb" x1="0" y1="1" x2="0" y2="0"><stop offset="0.000" stop-color="#DBDBDB"/><stop offset="0.172" stop-color="#E5C6AE"/><stop offset="0.343" stop-color="#E8AB82"/><stop offset="0.515" stop-color="#E48A60"/><stop offset="0.686" stop-color="#D8624E"/><stop offset="0.858" stop-color="#CA3C3C"/><stop offset="1.000" stop-color="#BE1E2D"/></linearGradient></defs>
<rect x="1186.8" y="541.5" width="21.3" height="384.7" fill="url(#cb)" stroke="#9A9A9A" stroke-width="1"/>
<text x="1210.3" y="934.8" font-size="21.80">0</text>
<text x="1209.5" y="868.9" font-size="21.80">1</text>
<text x="1210.1" y="803" font-size="21.80">2</text>
<text x="1210.4" y="737.1" font-size="21.80">3</text>
<text x="1210.7" y="671.2" font-size="21.80">4</text>
<text x="1210.3" y="605.3" font-size="21.80">5</text>
<text transform="translate(1247,822.8) rotate(-90)" font-size="25.16">Log2[1+(TPM/10)]</text>
<text x="685.8" y="524.4" font-size="43.00" font-weight="bold">e</text>
<text x="843.6" y="517.3" font-size="25.38">MERTK expression</text>
<text x="872.1" y="961.2" font-size="24.31">tSNE1</text>
<text transform="translate(710.7,762.4) rotate(-90)" font-size="24.78">tSNE2</text>
<text x="1282.9" y="524.5" font-size="43.00" font-weight="bold">f</text>
<text x="1489.5" y="541.8" font-size="29.99">2nd</text>
<text x="1829.1" y="541.8" font-size="29.50">MerTK Ab</text>
<path d="M1579 604h1.5m-46.5 1h1.5m-48.5 1h1.5m43.5 0h1.5m18.5 1h1.5m28.5 5h1.5m-101.5 5h1.5m84.5 2h1.5m7.5 0h1.5m1.5 4h1.5m-23.5 3h1.5m-45.5 9h1.5m24.5 2h1.5m74.5 2h1.5m-40.5 1h1.5m-73.5 6h1.5m105.5 6h1.5m-72.5 1h1.5m-75.5 1h1.5m50.5 0h1.5m-3.5 1h1.5m-63.5 7h1.5m168.5 0h1.5m-38.5 8h1.5m-7.5 7h1.5m43.5 0h1.5m-37.5 2h1.5m-152.5 1h1.5m.5 0h1.5m162.5 0h1.5m9.5 0h1.5m-178.5 1h1.5m4.5 0h1.5m152.5 0h1.5m-161.5 1h1.5m-.5 0h1.5m137.5 0h1.5m-141.5 1h1.5m.5 0h1.5m63.5 0h1.5m75.5 0h1.5m15.5 0h1.5m-162.5 1h1.5m1.5 0h1.5m148.5 0h1.5m-155.5 1h1.5m23.5 0h1.5m139.5 0h1.5m-168.5 1h1.5m1.5 0h1.5m-.5 1h1.5m-.5 0h1.5m177.5 0h1.5m-183.5 1h1.5m-.5 0h1.5m-.5 0h1.5m166.5 0h1.5m7.5 0h1.5m-180.5 1h1.5m150.5 0h1.5m-.5 0h1.5m-153.5 1h1.5m4.5 0h1.5m142.5 0h1.5m.5 0h1.5m6.5 0h1.5m2.5 0h1.5m8.5 0h1.5m7.5 0h1.5m-184.5 1h1.5m1.5 0h1.5m152.5 0h1.5m-.5 0h1.5m52.5 0h1.5m-214.5 1h1.5m.5 0h1.5m162.5 0h1.5m-169.5 1h1.5m.5 0h1.5m127.5 0h1.5m-.5 0h1.5m8.5 0h1.5m5.5 0h1.5m11.5 0h1.5m-.5 0h1.5m3.5 0h1.5m9.5 0h1.5m.5 0h1.5m-180.5 1h1.5m.5 0h1.5m138.5 0h1.5m-.5 0h1.5m2.5 0h1.5m7.5 0h1.5m27.5 0h1.5m-185.5 1h1.5m.5 0h1.5m131.5 0h1.5m6.5 0h1.5m16.5 0h1.5m12.5 0h1.5m1.5 0h1.5m-178.5 1h1.5m2.5 0h1.5m124.5 0h1.5m11.5 0h1.5m31.5 0h1.5m-177.5 1h1.5m155.5 0h1.5m7.5 0h1.5m1.5 0h1.5m1.5 0h1.5m-176.5 1h1.5m-.5 0h1.5m.5 0h1.5m101.5 0h1.5m15.5 0h1.5m2.5 0h1.5m3.5 0h1.5m10.5 0h1.5m21.5 0h1.5m.5 0h1.5m-169.5 1h1.5m124.5 0h1.5m10.5 0h1.5m4.5 0h1.5m17.5 0h1.5m1.5 0h1.5m8.5 0h1.5m-178.5 1h1.5m.5 0h1.5m1.5 0h1.5m133.5 0h1.5m4.5 0h1.5m6.5 0h1.5m.5 0h1.5m18.5 0h1.5m10.5 0h1.5m-187.5 1h1.5m117.5 0h1.5m7.5 0h1.5m4.5 0h1.5m11.5 0h1.5m-.5 0h1.5m-65.5 1h1.5m60.5 0h1.5m5.5 0h1.5m10.5 0h1.5m-.5 0h1.5m-.5 0h1.5m2.5 0h1.5m-173.5 1h1.5m-.5 0h1.5m126.5 0h1.5m11.5 0h1.5m1.5 0h1.5m4.5 0h1.5m-.5 0h1.5m.5 0h1.5m8.5 0h1.5m-.5 0h1.5m-.5 0h1.5m-.5 0h1.5m3.5 0h1.5m-175.5 1h1.5m4.5 0h1.5m123.5 0h1.5m-.5 0h1.5m7.5 0h1.5m1.5 0h1.5m-.5 0h1.5m3.5 0h1.5m3.5 0h1.5m2.5 0h1.5m3.5 0h1.5m7.5 0h1.5m.5 0h1.5m-172.5 1h1.5m122.5 0h1.5m9.5 0h1.5m7.5 0h1.5m-.5 0h1.5m14.5 0h1.5m14.5 0h1.5m-182.5 1h1.5m97.5 0h1.5m44.5 0h1.5m2.5 0h1.5m1.5 0h1.5m3.5 0h1.5m6.5 0h1.5m7.5 0h1.5m12.5 0h1.5m-184.5 1h1.5m123.5 0h1.5m.5 0h1.5m1.5 0h1.5m.5 0h1.5m24.5 0h1.5m1.5 0h1.5m3.5 0h1.5m-168.5 1h1.5m-.5 0h1.5m120.5 0h1.5m4.5 0h1.5m1.5 0h1.5m2.5 0h1.5m.5 0h1.5m7.5 0h1.5m1.5 0h1.5m6.5 0h1.5m6.5 0h1.5m.5 0h1.5m-.5 0h1.5m-172.5 1h1.5m-.5 0h1.5m17.5 0h1.5m61.5 0h1.5m36.5 0h1.5m16.5 0h1.5m4.5 0h1.5m1.5 0h1.5m-.5 0h1.5m2.5 0h1.5m1.5 0h1.5m-.5 0h1.5m.5 0h1.5m3.5 0h1.5m8.5 0h1.5m.5 0h1.5m-176.5 1h1.5m131.5 0h1.5m2.5 0h1.5m5.5 0h1.5m5.5 0h1.5m3.5 0h1.5m4.5 0h1.5m3.5 0h1.5m-165.5 1h1.5m117.5 0h1.5m4.5 0h1.5m6.5 0h1.5m-.5 0h1.5m5.5 0h1.5m3.5 0h1.5m.5 0h1.5m2.5 0h1.5m-.5 0h1.5m14.5 0h1.5m3.5 0h1.5m-178.5 1h1.5m-.5 0h1.5m-.5 0h1.5m131.5 0h1.5m2.5 0h1.5m1.5 0h1.5m-.5 0h1.5m5.5 0h1.5m1.5 0h1.5m3.5 0h1.5m3.5 0h1.5m-.5 0h1.5m-167.5 1h1.5m1.5 0h1.5m116.5 0h1.5m11.5 0h1.5m-.5 0h1.5m.5 0h1.5m2.5 0h1.5m.5 0h1.5m.5 0h1.5m.5 0h1.5m.5 0h1.5m1.5 0h1.5m-.5 0h1.5m-.5 0h1.5m7.5 0h1.5m12.5 0h1.5m3.5 0h1.5m-182.5 1h1.5m114.5 0h1.5m5.5 0h1.5m11.5 0h1.5m1.5 0h1.5m.5 0h1.5m1.5 0h1.5m1.5 0h1.5m-.5 0h1.5m2.5 0h1.5m6.5 0h1.5m2.5 0h1.5m3.5 0h1.5m1.5 0h1.5m36.5 0h1.5m-211.5 1h1.5m2.5 0h1.5m83.5 0h1.5m20.5 0h1.5m9.5 0h1.5m.5 0h1.5m.5 0h1.5m.5 0h1.5m8.5 0h1.5m6.5 0h1.5m-.5 0h1.5m1.5 0h1.5m1.5 0h1.5m2.5 0h1.5m-.5 0h1.5m4.5 0h1.5m2.5 0h1.5m1.5 0h1.5m-.5 0h1.5m-174.5 1h1.5m1.5 0h1.5m37.5 0h1.5m44.5 0h1.5m28.5 0h1.5m11.5 0h1.5m1.5 0h1.5m1.5 0h1.5m-.5 0h1.5m3.5 0h1.5m-.5 0h1.5m-.5 0h1.5m1.5 0h1.5m-.5 0h1.5m.5 0h1.5m3.5 0h1.5m-.5 0h1.5m.5 0h1.5m-.5 0h1.5m-.5 0h1.5m7.5 0h1.5m5.5 0h1.5m3.5 0h1.5m7.5 0h1.5m-190.5 1h1.5m35.5 0h1.5m76.5 0h1.5m3.5 0h1.5m5.5 0h1.5m6.5 0h1.5m3.5 0h1.5m-.5 0h1.5m-.5 0h1.5m-.5 0h1.5m-.5 0h1.5m.5 0h1.5m-.5 0h1.5m-.5 0h1.5m1.5 0h1.5m1.5 0h1.5m-.5 0h1.5m.5 0h1.5m-.5 0h1.5m.5 0h1.5m-.5 0h1.5m-.5 0h1.5m5.5 0h1.5m6.5 0h1.5m-179.5 1h1.5m104.5 0h1.5m15.5 0h1.5m7.5 0h1.5m1.5 0h1.5m1.5 0h1.5m-.5 0h1.5m.5 0h1.5m2.5 0h1.5m-.5 0h1.5m1.5 0h1.5m-.5 0h1.5m-.5 0h1.5m.5 0h1.5m.5 0h1.5m1.5 0h1.5m-.5 0h1.5m-.5 0h1.5m5.5 0h1.5m5.5 0h1.5m6.5 0h1.5m-186.5 1h1.5m1.5 0h1.5m16.5 0h1.5m91.5 0h1.5m4.5 0h1.5m1.5 0h1.5m8.5 0h1.5m-.5 0h1.5m-.5 0h1.5m6.5 0h1.5m-.5 0h1.5m1.5 0h1.5m.5 0h1.5m.5 0h1.5m-.5 0h1.5m2.5 0h1.5m.5 0h1.5m-.5 0h1.5m.5 0h1.5m-.5 0h1.5m-.5 0h1.5m3.5 0h1.5m.5 0h1.5m.5 0h1.5m8.5 0h1.5m25.5 0h1.5m-206.5 1h1.5m-.5 0h1.5m75.5 0h1.5m25.5 0h1.5m13.5 0h1.5m1.5 0h1.5m.5 0h1.5m.5 0h1.5m-.5 0h1.5m-.5 0h1.5m-.5 0h1.5m-.5 0h1.5m.5 0h1.5m.5 0h1.5m4.5 0h1.5m3.5 0h1.5m-.5 0h1.5m-.5 0h1.5m-.5 0h1.5m-.5 0h1.5m1.5 0h1.5m3.5 0h1.5m-.5 0h1.5m.5 0h1.5m.5 0h1.5m.5 0h1.5m5.5 0h1.5m7.5 0h1.5m-187.5 1h1.5m1.5 0h1.5m-.5 0h1.5m.5 0h1.5m14.5 0h1.5m19.5 0h1.5m28.5 0h1.5m33.5 0h1.5m1.5 0h1.5m12.5 0h1.5m.5 0h1.5m.5 0h1.5m-.5 0h1.5m-.5 0h1.5m.5 0h1.5m2.5 0h1.5m.5 0h1.5m.5 0h1.5m.5 0h1.5m1.5 0h1.5m.5 0h1.5m-.5 0h1.5m1.5 0h1.5m4.5 0h1.5m.5 0h1.5m-.5 0h1.5m-.5 0h1.5m2.5 0h1.5m-.5 0h1.5m.5 0h1.5m1.5 0h1.5m4.5 0h1.5m1.5 0h1.5m-99.5 1h1.5m22.5 0h1.5m-.5 0h1.5m5.5 0h1.5m6.5 0h1.5m7.5 0h1.5m.5 0h1.5m1.5 0h1.5m2.5 0h1.5m-.5 0h1.5m.5 0h1.5m-.5 0h1.5m-.5 0h1.5m-.5 0h1.5m.5 0h1.5m.5 0h1.5m-.5 0h1.5m.5 0h1.5m-.5 0h1.5m.5 0h1.5m1.5 0h1.5m-.5 0h1.5m.5 0h1.5m4.5 0h1.5m.5 0h1.5m2.5 0h1.5m6.5 0h1.5m-.5 0h1.5m22.5 0h1.5m-204.5 1h1.5m-.5 0h1.5m.5 0h1.5m24.5 0h1.5m-.5 0h1.5m45.5 0h1.5m12.5 0h1.5m21.5 0h1.5m.5 0h1.5m3.5 0h1.5m1.5 0h1.5m1.5 0h1.5m-.5 0h1.5m-.5 0h1.5m1.5 0h1.5m-.5 0h1.5m.5 0h1.5m-.5 0h1.5m-.5 0h1.5m2.5 0h1.5m-.5 0h1.5m.5 0h1.5m-.5 0h1.5m.5 0h1.5m-.5 0h1.5m1.5 0h1.5m1.5 0h1.5m1.5 0h1.5m3.5 0h1.5m1.5 0h1.5m2.5 0h1.5m-.5 0h1.5m4.5 0h1.5m3.5 0h1.5m-.5 0h1.5m11.5 0h1.5m-197.5 1h1.5m-.5 0h1.5m6.5 0h1.5m14.5 0h1.5m1.5 0h1.5m32.5 0h1.5m15.5 0h1.5m36.5 0h1.5m3.5 0h1.5m-.5 0h1.5m2.5 0h1.5m-.5 0h1.5m.5 0h1.5m-.5 0h1.5m.5 0h1.5m1.5 0h1.5m1.5 0h1.5m1.5 0h1.5m-.5 0h1.5m-.5 0h1.5m1.5 0h1.5m-.5 0h1.5m1.5 0h1.5m.5 0h1.5m.5 0h1.5m1.5 0h1.5m1.5 0h1.5m-.5 0h1.5m2.5 0h1.5m6.5 0h1.5m.5 0h1.5m5.5 0h1.5m-184.5 1h1.5m8.5 0h1.5m24.5 0h1.5m76.5 0h1.5m3.5 0h1.5m-.5 0h1.5m7.5 0h1.5m.5 0h1.5m.5 0h1.5m1.5 0h1.5m-.5 0h1.5m-.5 0h1.5m-.5 0h1.5m1.5 0h1.5m-.5 0h1.5m1.5 0h1.5m-.5 0h1.5m1.5 0h1.5m-.5 0h1.5m2.5 0h1.5m-.5 0h1.5m-.5 0h1.5m-.5 0h1.5m2.5 0h1.5m.5 0h1.5m-.5 0h1.5m2.5 0h1.5m2.5 0h1.5m.5 0h1.5m1.5 0h1.5m-176.5 1h1.5m24.5 0h1.5m10.5 0h1.5m21.5 0h1.5m19.5 0h1.5m29.5 0h1.5m6.5 0h1.5m3.5 0h1.5m-.5 0h1.5m-.5 0h1.5m-.5 0h1.5m6.5 0h1.5m-.5 0h1.5m-.5 0h1.5m1.5 0h1.5m3.5 0h1.5m-.5 0h1.5m-.5 0h1.5m.5 0h1.5m-.5 0h1.5m2.5 0h1.5m-.5 0h1.5m-.5 0h1.5m-.5 0h1.5m2.5 0h1.5m-.5 0h1.5m1.5 0h1.5m12.5 0h1.5m-181.5 1h1.5m25.5 0h1.5m10.5 0h1.5m43.5 0h1.5m1.5 0h1.5m11.5 0h1.5m17.5 0h1.5m-.5 0h1.5m6.5 0h1.5m-.5 0h1.5m-.5 0h1.5m-.5 0h1.5m.5 0h1.5m.5 0h1.5m-.5 0h1.5m3.5 0h1.5m1.5 0h1.5m-.5 0h1.5m-.5 0h1.5m-.5 0h1.5m.5 0h1.5m.5 0h1.5m-.5 0h1.5m-.5 0h1.5m.5 0h1.5m-.5 0h1.5m.5 0h1.5m-.5 0h1.5m-.5 0h1.5m-.5 0h1.5m3.5 0h1.5m3.5 0h1.5m-.5 0h1.5m-.5 0h1.5m12.5 0h1.5m-184.5 1h1.5m91.5 0h1.5m13.5 0h1.5m5.5 0h1.5m.5 0h1.5m-.5 0h1.5m1.5 0h1.5m-.5 0h1.5m-.5 0h1.5m1.5 0h1.5m-.5 0h1.5m.5 0h1.5m-.5 0h1.5m.5 0h1.5m4.5 0h1.5m1.5 0h1.5m3.5 0h1.5m-.5 0h1.5m.5 0h1.5m-.5 0h1.5m.5 0h1.5m-.5 0h1.5m2.5 0h1.5m-.5 0h1.5m5.5 0h1.5m8.5 0h1.5m12.5 0h1.5m-200.5 1h1.5m.5 0h1.5m35.5 0h1.5m40.5 0h1.5m12.5 0h1.5m.5 0h1.5m19.5 0h1.5m3.5 0h1.5m-.5 0h1.5m1.5 0h1.5m.5 0h1.5m.5 0h1.5m-.5 0h1.5m2.5 0h1.5m5.5 0h1.5m2.5 0h1.5m1.5 0h1.5m.5 0h1.5m-.5 0h1.5m1.5 0h1.5m1.5 0h1.5m-.5 0h1.5m-.5 0h1.5m-.5 0h1.5m-.5 0h1.5m.5 0h1.5m-.5 0h1.5m-.5 0h1.5m.5 0h1.5m.5 0h1.5m-.5 0h1.5m.5 0h1.5m-.5 0h1.5m2.5 0h1.5m-175.5 1h1.5m10.5 0h1.5m16.5 0h1.5m11.5 0h1.5m39.5 0h1.5m22.5 0h1.5m2.5 0h1.5m-.5 0h1.5m.5 0h1.5m-.5 0h1.5m5.5 0h1.5m1.5 0h1.5m.5 0h1.5m-.5 0h1.5m-.5 0h1.5m1.5 0h1.5m6.5 0h1.5m-.5 0h1.5m1.5 0h1.5m.5 0h1.5m-.5 0h1.5m.5 0h1.5m-.5 0h1.5m-.5 0h1.5m.5 0h1.5m1.5 0h1.5m-.5 0h1.5m-.5 0h1.5m1.5 0h1.5m-.5 0h1.5m.5 0h1.5m9.5 0h1.5m17.5 0h1.5m-202.5 1h1.5m2.5 0h1.5m-.5 0h1.5m111.5 0h1.5m.5 0h1.5m.5 0h1.5m.5 0h1.5m-.5 0h1.5m-.5 0h1.5m2.5 0h1.5m-.5 0h1.5m1.5 0h1.5m-.5 0h1.5m7.5 0h1.5m.5 0h1.5m5.5 0h1.5m1.5 0h1.5m1.5 0h1.5m-.5 0h1.5m5.5 0h1.5m20.5 0h1.5m-189.5 1h1.5m3.5 0h1.5m89.5 0h1.5m13.5 0h1.5m7.5 0h1.5m.5 0h1.5m-.5 0h1.5m.5 0h1.5m-.5 0h1.5m-.5 0h1.5m-.5 0h1.5m-.5 0h1.5m-.5 0h1.5m3.5 0h1.5m.5 0h1.5m5.5 0h1.5m-.5 0h1.5m-.5 0h1.5m.5 0h1.5m.5 0h1.5m-.5 0h1.5m.5 0h1.5m-.5 0h1.5m-.5 0h1.5m.5 0h1.5m.5 0h1.5m.5 0h1.5m.5 0h1.5m1.5 0h1.5m-.5 0h1.5m2.5 0h1.5m4.5 0h1.5m-113.5 1h1.5m1.5 0h1.5m46.5 0h1.5m1.5 0h1.5m1.5 0h1.5m2.5 0h1.5m1.5 0h1.5m.5 0h1.5m-.5 0h1.5m.5 0h1.5m2.5 0h1.5m-.5 0h1.5m-.5 0h1.5m3.5 0h1.5m1.5 0h1.5m.5 0h1.5m1.5 0h1.5m.5 0h1.5m1.5 0h1.5m-.5 0h1.5m.5 0h1.5m-.5 0h1.5m-.5 0h1.5m.5 0h1.5m-.5 0h1.5m.5 0h1.5m-.5 0h1.5m6.5 0h1.5m2.5 0h1.5m2.5 0h1.5m-162.5 1h1.5m6.5 0h1.5m42.5 0h1.5m-.5 0h1.5m37.5 0h1.5m4.5 0h1.5m1.5 0h1.5m-.5 0h1.5m1.5 0h1.5m-.5 0h1.5m2.5 0h1.5m10.5 0h1.5m.5 0h1.5m1.5 0h1.5m4.5 0h1.5m1.5 0h1.5m1.5 0h1.5m-.5 0h1.5m.5 0h1.5m2.5 0h1.5m4.5 0h1.5m-.5 0h1.5m2.5 0h1.5m.5 0h1.5m6.5 0h1.5m-153.5 1h1.5m27.5 0h1.5m32.5 0h1.5m1.5 0h1.5m2.5 0h1.5m-.5 0h1.5m1.5 0h1.5m-.5 0h1.5m1.5 0h1.5m1.5 0h1.5m-.5 0h1.5m.5 0h1.5m-.5 0h1.5m.5 0h1.5m13.5 0h1.5m-.5 0h1.5m.5 0h1.5m1.5 0h1.5m3.5 0h1.5m-.5 0h1.5m-.5 0h1.5m1.5 0h1.5m-.5 0h1.5m.5 0h1.5m4.5 0h1.5m-.5 0h1.5m2.5 0h1.5m3.5 0h1.5m-177.5 1h1.5m.5 0h1.5m23.5 0h1.5m12.5 0h1.5m17.5 0h1.5m5.5 0h1.5m33.5 0h1.5m4.5 0h1.5m7.5 0h1.5m.5 0h1.5m.5 0h1.5m1.5 0h1.5m-.5 0h1.5m.5 0h1.5m-.5 0h1.5m.5 0h1.5m-.5 0h1.5m15.5 0h1.5m6.5 0h1.5m-.5 0h1.5m1.5 0h1.5m-.5 0h1.5m-.5 0h1.5m1.5 0h1.5m-.5 0h1.5m5.5 0h1.5m5.5 0h1.5m-155.5 1h1.5m17.5 0h1.5m8.5 0h1.5m53.5 0h1.5m.5 0h1.5m.5 0h1.5m.5 0h1.5m1.5 0h1.5m1.5 0h1.5m3.5 0h1.5m.5 0h1.5m9.5 0h1.5m8.5 0h1.5m.5 0h1.5m1.5 0h1.5m.5 0h1.5m1.5 0h1.5m.5 0h1.5m-.5 0h1.5m.5 0h1.5m3.5 0h1.5m3.5 0h1.5m5.5 0h1.5m8.5 0h1.5m-191.5 1h1.5m68.5 0h1.5m12.5 0h1.5m1.5 0h1.5m12.5 0h1.5m1.5 0h1.5m.5 0h1.5m4.5 0h1.5m6.5 0h1.5m-.5 0h1.5m-.5 0h1.5m.5 0h1.5m.5 0h1.5m7.5 0h1.5m16.5 0h1.5m4.5 0h1.5m.5 0h1.5m.5 0h1.5m.5 0h1.5m-.5 0h1.5m-.5 0h1.5m.5 0h1.5m-171.5 1h1.5m30.5 0h1.5m13.5 0h1.5m-.5 0h1.5m68.5 0h1.5m7.5 0h1.5m27.5 0h1.5m2.5 0h1.5m-.5 0h1.5m-.5 0h1.5m-.5 0h1.5m1.5 0h1.5m-.5 0h1.5m.5 0h1.5m-.5 0h1.5m-.5 0h1.5m.5 0h1.5m-170.5 1h1.5m11.5 0h1.5m33.5 0h1.5m16.5 0h1.5m37.5 0h1.5m-.5 0h1.5m.5 0h1.5m5.5 0h1.5m1.5 0h1.5m1.5 0h1.5m.5 0h1.5m20.5 0h1.5m6.5 0h1.5m.5 0h1.5m.5 0h1.5m1.5 0h1.5m.5 0h1.5m.5 0h1.5m1.5 0h1.5m9.5 0h1.5m3.5 0h1.5m.5 0h1.5m10.5 0h1.5m-203.5 1h1.5m1.5 0h1.5m57.5 0h1.5m17.5 0h1.5m9.5 0h1.5m6.5 0h1.5m7.5 0h1.5m5.5 0h1.5m-.5 0h1.5m.5 0h1.5m-.5 0h1.5m.5 0h1.5m-.5 0h1.5m-.5 0h1.5m3.5 0h1.5m.5 0h1.5m18.5 0h1.5m4.5 0h1.5m-.5 0h1.5m-.5 0h1.5m-.5 0h1.5m2.5 0h1.5m-.5 0h1.5m1.5 0h1.5m.5 0h1.5m-.5 0h1.5m12.5 0h1.5m2.5 0h1.5m-188.5 1h1.5m-.5 0h1.5m25.5 0h1.5m12.5 0h1.5m7.5 0h1.5m1.5 0h1.5m2.5 0h1.5m9.5 0h1.5m30.5 0h1.5m10.5 0h1.5m.5 0h1.5m3.5 0h1.5m1.5 0h1.5m-.5 0h1.5m-.5 0h1.5m-.5 0h1.5m31.5 0h1.5m-.5 0h1.5m-.5 0h1.5m1.5 0h1.5m-.5 0h1.5m1.5 0h1.5m6.5 0h1.5m-177.5 1h1.5m.5 0h1.5m54.5 0h1.5m27.5 0h1.5m16.5 0h1.5m.5 0h1.5m1.5 0h1.5m.5 0h1.5m2.5 0h1.5m.5 0h1.5m-.5 0h1.5m-.5 0h1.5m-.5 0h1.5m-.5 0h1.5m26.5 0h1.5m.5 0h1.5m-.5 0h1.5m.5 0h1.5m2.5 0h1.5m-.5 0h1.5m-.5 0h1.5m1.5 0h1.5m-.5 0h1.5m-.5 0h1.5m-.5 0h1.5m4.5 0h1.5m-.5 0h1.5m12.5 0h1.5m-190.5 1h1.5m-.5 0h1.5m33.5 0h1.5m73.5 0h1.5m3.5 0h1.5m.5 0h1.5m.5 0h1.5m-.5 0h1.5m-.5 0h1.5m26.5 0h1.5m4.5 0h1.5m-.5 0h1.5m-.5 0h1.5m2.5 0h1.5m-.5 0h1.5m1.5 0h1.5m-.5 0h1.5m4.5 0h1.5m2.5 0h1.5m13.5 0h1.5m-194.5 1h1.5m-.5 0h1.5m18.5 0h1.5m63.5 0h1.5m18.5 0h1.5m2.5 0h1.5m.5 0h1.5m-.5 0h1.5m2.5 0h1.5m2.5 0h1.5m34.5 0h1.5m-.5 0h1.5m.5 0h1.5m1.5 0h1.5m3.5 0h1.5m4.5 0h1.5m1.5 0h1.5m.5 0h1.5m-180.5 1h1.5m.5 0h1.5m28.5 0h1.5m61.5 0h1.5m.5 0h1.5m10.5 0h1.5m1.5 0h1.5m2.5 0h1.5m.5 0h1.5m-.5 0h1.5m2.5 0h1.5m.5 0h1.5m-.5 0h1.5m30.5 0h1.5m-.5 0h1.5m.5 0h1.5m3.5 0h1.5m3.5 0h1.5m-156.5 1h1.5m13.5 0h1.5m6.5 0h1.5m15.5 0h1.5m34.5 0h1.5m5.5 0h1.5m2.5 0h1.5m5.5 0h1.5m-.5 0h1.5m.5 0h1.5m1.5 0h1.5m.5 0h1.5m6.5 0h1.5m29.5 0h1.5m1.5 0h1.5m-.5 0h1.5m-.5 0h1.5m1.5 0h1.5m-.5 0h1.5m3.5 0h1.5m2.5 0h1.5m5.5 0h1.5m-183.5 1h1.5m-.5 0h1.5m24.5 0h1.5m52.5 0h1.5m23.5 0h1.5m4.5 0h1.5m1.5 0h1.5m-.5 0h1.5m1.5 0h1.5m-.5 0h1.5m1.5 0h1.5m35.5 0h1.5m-.5 0h1.5m-.5 0h1.5m2.5 0h1.5m1.5 0h1.5m-.5 0h1.5m-166.5 1h1.5m23.5 0h1.5m11.5 0h1.5m30.5 0h1.5m16.5 0h1.5m-.5 0h1.5m14.5 0h1.5m4.5 0h1.5m-.5 0h1.5m.5 0h1.5m-.5 0h1.5m31.5 0h1.5m6.5 0h1.5m.5 0h1.5m-.5 0h1.5m-.5 0h1.5m2.5 0h1.5m-.5 0h1.5m2.5 0h1.5m-.5 0h1.5m3.5 0h1.5m.5 0h1.5m-178.5 1h1.5m.5 0h1.5m45.5 0h1.5m37.5 0h1.5m13.5 0h1.5m.5 0h1.5m.5 0h1.5m-.5 0h1.5m.5 0h1.5m.5 0h1.5m-.5 0h1.5m.5 0h1.5m3.5 0h1.5m28.5 0h1.5m6.5 0h1.5m-.5 0h1.5m5.5 0h1.5m6.5 0h1.5m-179.5 1h1.5m1.5 0h1.5m11.5 0h1.5m43.5 0h1.5m32.5 0h1.5m6.5 0h1.5m4.5 0h1.5m.5 0h1.5m.5 0h1.5m.5 0h1.5m1.5 0h1.5m.5 0h1.5m34.5 0h1.5m-.5 0h1.5m3.5 0h1.5m1.5 0h1.5m-.5 0h1.5m-.5 0h1.5m.5 0h1.5m.5 0h1.5m2.5 0h1.5m-175.5 1h1.5m.5 0h1.5m-.5 0h1.5m10.5 0h1.5m68.5 0h1.5m10.5 0h1.5m-.5 0h1.5m-.5 0h1.5m4.5 0h1.5m7.5 0h1.5m-.5 0h1.5m1.5 0h1.5m34.5 0h1.5m1.5 0h1.5m-.5 0h1.5m4.5 0h1.5m.5 0h1.5m-169.5 1h1.5m2.5 0h1.5m-.5 0h1.5m28.5 0h1.5m32.5 0h1.5m26.5 0h1.5m3.5 0h1.5m2.5 0h1.5m3.5 0h1.5m1.5 0h1.5m1.5 0h1.5m-.5 0h1.5m-.5 0h1.5m.5 0h1.5m-.5 0h1.5m38.5 0h1.5m.5 0h1.5m1.5 0h1.5m-.5 0h1.5m5.5 0h1.5m-155.5 1h1.5m4.5 0h1.5m18.5 0h1.5m43.5 0h1.5m9.5 0h1.5m2.5 0h1.5m.5 0h1.5m-.5 0h1.5m2.5 0h1.5m-.5 0h1.5m-.5 0h1.5m-.5 0h1.5m.5 0h1.5m2.5 0h1.5m14.5 0h1.5m12.5 0h1.5m1.5 0h1.5m2.5 0h1.5m2.5 0h1.5m.5 0h1.5m-.5 0h1.5m-.5 0h1.5m-132.5 1h1.5m44.5 0h1.5m22.5 0h1.5m2.5 0h1.5m-.5 0h1.5m1.5 0h1.5m-.5 0h1.5m.5 0h1.5m3.5 0h1.5m12.5 0h1.5m14.5 0h1.5m4.5 0h1.5m7.5 0h1.5m-163.5 1h1.5m41.5 0h1.5m29.5 0h1.5m20.5 0h1.5m.5 0h1.5m1.5 0h1.5m.5 0h1.5m.5 0h1.5m1.5 0h1.5m.5 0h1.5m.5 0h1.5m-.5 0h1.5m.5 0h1.5m1.5 0h1.5m30.5 0h1.5m.5 0h1.5m.5 0h1.5m1.5 0h1.5m-.5 0h1.5m-.5 0h1.5m7.5 0h1.5m1.5 0h1.5m-177.5 1h1.5m.5 0h1.5m-.5 0h1.5m14.5 0h1.5m56.5 0h1.5m-.5 0h1.5m21.5 0h1.5m2.5 0h1.5m-.5 0h1.5m-.5 0h1.5m.5 0h1.5m-.5 0h1.5m1.5 0h1.5m-.5 0h1.5m7.5 0h1.5m27.5 0h1.5m1.5 0h1.5m-.5 0h1.5m1.5 0h1.5m.5 0h1.5m-.5 0h1.5m5.5 0h1.5m-168.5 1h1.5m-.5 0h1.5m-.5 0h1.5m27.5 0h1.5m60.5 0h1.5m4.5 0h1.5m-.5 0h1.5m.5 0h1.5m4.5 0h1.5m.5 0h1.5m.5 0h1.5m-.5 0h1.5m-.5 0h1.5m.5 0h1.5m.5 0h1.5m.5 0h1.5m-.5 0h1.5m27.5 0h1.5m.5 0h1.5m-.5 0h1.5m-.5 0h1.5m1.5 0h1.5m1.5 0h1.5m-.5 0h1.5m-165.5 1h1.5m1.5 0h1.5m-.5 0h1.5m80.5 0h1.5m11.5 0h1.5m-.5 0h1.5m1.5 0h1.5m.5 0h1.5m5.5 0h1.5m3.5 0h1.5m-.5 0h1.5m4.5 0h1.5m24.5 0h1.5m-.5 0h1.5m1.5 0h1.5m-.5 0h1.5m1.5 0h1.5m.5 0h1.5m-.5 0h1.5m5.5 0h1.5m.5 0h1.5m1.5 0h1.5m-170.5 1h1.5m-.5 0h1.5m82.5 0h1.5m9.5 0h1.5m1.5 0h1.5m7.5 0h1.5m-.5 0h1.5m1.5 0h1.5m-.5 0h1.5m.5 0h1.5m.5 0h1.5m28.5 0h1.5m1.5 0h1.5m.5 0h1.5m1.5 0h1.5m-.5 0h1.5m1.5 0h1.5m4.5 0h1.5m-170.5 1h1.5m-.5 0h1.5m-.5 0h1.5m-.5 0h1.5m-.5 0h1.5m87.5 0h1.5m11.5 0h1.5m1.5 0h1.5m-.5 0h1.5m.5 0h1.5m1.5 0h1.5m-.5 0h1.5m.5 0h1.5m.5 0h1.5m.5 0h1.5m4.5 0h1.5m-.5 0h1.5m17.5 0h1.5m1.5 0h1.5m.5 0h1.5m1.5 0h1.5m-.5 0h1.5m1.5 0h1.5m-.5 0h1.5m-159.5 1h1.5m-.5 0h1.5m-.5 0h1.5m17.5 0h1.5m23.5 0h1.5m14.5 0h1.5m30.5 0h1.5m-.5 0h1.5m2.5 0h1.5m.5 0h1.5m.5 0h1.5m3.5 0h1.5m1.5 0h1.5m3.5 0h1.5m1.5 0h1.5m-.5 0h1.5m.5 0h1.5m20.5 0h1.5m-.5 0h1.5m3.5 0h1.5m.5 0h1.5m-.5 0h1.5m.5 0h1.5m2.5 0h1.5m4.5 0h1.5m17.5 0h1.5m-186.5 1h1.5m-.5 0h1.5m.5 0h1.5m85.5 0h1.5m-.5 0h1.5m4.5 0h1.5m-.5 0h1.5m3.5 0h1.5m.5 0h1.5m.5 0h1.5m-.5 0h1.5m-.5 0h1.5m-.5 0h1.5m.5 0h1.5m-.5 0h1.5m1.5 0h1.5m3.5 0h1.5m6.5 0h1.5m10.5 0h1.5m3.5 0h1.5m4.5 0h1.5m2.5 0h1.5m-.5 0h1.5m1.5 0h1.5m.5 0h1.5m.5 0h1.5m5.5 0h1.5m-175.5 1h1.5m-.5 0h1.5m-.5 0h1.5m.5 0h1.5m-.5 0h1.5m-.5 0h1.5m-.5 0h1.5m70.5 0h1.5m13.5 0h1.5m3.5 0h1.5m4.5 0h1.5m1.5 0h1.5m2.5 0h1.5m-.5 0h1.5m.5 0h1.5m1.5 0h1.5m1.5 0h1.5m3.5 0h1.5m17.5 0h1.5m1.5 0h1.5m3.5 0h1.5m-.5 0h1.5m-.5 0h1.5m-.5 0h1.5m-.5 0h1.5m-.5 0h1.5m-.5 0h1.5m3.5 0h1.5m6.5 0h1.5m1.5 0h1.5m-.5 0h1.5m-177.5 1h1.5m1.5 0h1.5m-.5 0h1.5m.5 0h1.5m-.5 0h1.5m21.5 0h1.5m8.5 0h1.5m2.5 0h1.5m56.5 0h1.5m5.5 0h1.5m.5 0h1.5m.5 0h1.5m-.5 0h1.5m-.5 0h1.5m.5 0h1.5m1.5 0h1.5m1.5 0h1.5m11.5 0h1.5m2.5 0h1.5m2.5 0h1.5m.5 0h1.5m.5 0h1.5m7.5 0h1.5m-.5 0h1.5m-.5 0h1.5m-.5 0h1.5m7.5 0h1.5m-.5 0h1.5m-.5 0h1.5m6.5 0h1.5m-177.5 1h1.5m-.5 0h1.5m-.5 0h1.5m2.5 0h1.5m35.5 0h1.5m5.5 0h1.5m-.5 0h1.5m23.5 0h1.5m5.5 0h1.5m5.5 0h1.5m12.5 0h1.5m1.5 0h1.5m-.5 0h1.5m-.5 0h1.5m.5 0h1.5m.5 0h1.5m-.5 0h1.5m.5 0h1.5m.5 0h1.5m11.5 0h1.5m2.5 0h1.5m3.5 0h1.5m3.5 0h1.5m1.5 0h1.5m.5 0h1.5m-.5 0h1.5m.5 0h1.5m.5 0h1.5m3.5 0h1.5m4.5 0h1.5m-169.5 1h1.5m-.5 0h1.5m-.5 0h1.5m.5 0h1.5m88.5 0h1.5m-.5 0h1.5m3.5 0h1.5m-.5 0h1.5m-.5 0h1.5m-.5 0h1.5m3.5 0h1.5m2.5 0h1.5m-.5 0h1.5m2.5 0h1.5m.5 0h1.5m-.5 0h1.5m.5 0h1.5m19.5 0h1.5m1.5 0h1.5m-.5 0h1.5m-.5 0h1.5m3.5 0h1.5m1.5 0h1.5m.5 0h1.5m2.5 0h1.5m.5 0h1.5m2.5 0h1.5m-166.5 1h1.5m-.5 0h1.5m-.5 0h1.5m89.5 0h1.5m6.5 0h1.5m-.5 0h1.5m3.5 0h1.5m.5 0h1.5m-.5 0h1.5m1.5 0h1.5m-.5 0h1.5m-.5 0h1.5m-.5 0h1.5m.5 0h1.5m-.5 0h1.5m.5 0h1.5m2.5 0h1.5m2.5 0h1.5m-.5 0h1.5m1.5 0h1.5m4.5 0h1.5m-.5 0h1.5m.5 0h1.5m-.5 0h1.5m-.5 0h1.5m-.5 0h1.5m1.5 0h1.5m-.5 0h1.5m-.5 0h1.5m3.5 0h1.5m.5 0h1.5m-158.5 1h1.5m-.5 0h1.5m-.5 0h1.5m-.5 0h1.5m88.5 0h1.5m2.5 0h1.5m7.5 0h1.5m.5 0h1.5m-.5 0h1.5m.5 0h1.5m-.5 0h1.5m-.5 0h1.5m-.5 0h1.5m.5 0h1.5m.5 0h1.5m2.5 0h1.5m1.5 0h1.5m1.5 0h1.5m.5 0h1.5m4.5 0h1.5m-.5 0h1.5m-.5 0h1.5m-.5 0h1.5m-.5 0h1.5m2.5 0h1.5m.5 0h1.5m.5 0h1.5m-.5 0h1.5m1.5 0h1.5m-.5 0h1.5m-.5 0h1.5m16.5 0h1.5m-178.5 1h1.5m1.5 0h1.5m.5 0h1.5m.5 0h1.5m91.5 0h1.5m2.5 0h1.5m-.5 0h1.5m.5 0h1.5m3.5 0h1.5m-.5 0h1.5m-.5 0h1.5m.5 0h1.5m.5 0h1.5m4.5 0h1.5m.5 0h1.5m.5 0h1.5m2.5 0h1.5m.5 0h1.5m2.5 0h1.5m-.5 0h1.5m8.5 0h1.5m-.5 0h1.5m-.5 0h1.5m6.5 0h1.5m1.5 0h1.5m.5 0h1.5m5.5 0h1.5m-164.5 1h1.5m21.5 0h1.5m48.5 0h1.5m27.5 0h1.5m-.5 0h1.5m-.5 0h1.5m-.5 0h1.5m.5 0h1.5m-.5 0h1.5m1.5 0h1.5m-.5 0h1.5m-.5 0h1.5m3.5 0h1.5m.5 0h1.5m.5 0h1.5m.5 0h1.5m5.5 0h1.5m.5 0h1.5m-.5 0h1.5m-.5 0h1.5m-.5 0h1.5m.5 0h1.5m-.5 0h1.5m-.5 0h1.5m4.5 0h1.5m.5 0h1.5m2.5 0h1.5m.5 0h1.5m5.5 0h1.5m-162.5 1h1.5m93.5 0h1.5m3.5 0h1.5m-.5 0h1.5m.5 0h1.5m.5 0h1.5m-.5 0h1.5m-.5 0h1.5m-.5 0h1.5m.5 0h1.5m1.5 0h1.5m.5 0h1.5m7.5 0h1.5m1.5 0h1.5m-.5 0h1.5m3.5 0h1.5m2.5 0h1.5m.5 0h1.5m-.5 0h1.5m-.5 0h1.5m-.5 0h1.5m-.5 0h1.5m-.5 0h1.5m.5 0h1.5m.5 0h1.5m-.5 0h1.5m-.5 0h1.5m6.5 0h1.5m1.5 0h1.5m3.5 0h1.5m-101.5 1h1.5m8.5 0h1.5m5.5 0h1.5m.5 0h1.5m2.5 0h1.5m7.5 0h1.5m-.5 0h1.5m-.5 0h1.5m-.5 0h1.5m4.5 0h1.5m.5 0h1.5m1.5 0h1.5m-.5 0h1.5m.5 0h1.5m.5 0h1.5m2.5 0h1.5m1.5 0h1.5m-.5 0h1.5m3.5 0h1.5m-.5 0h1.5m-.5 0h1.5m1.5 0h1.5m.5 0h1.5m1.5 0h1.5m-.5 0h1.5m-.5 0h1.5m-.5 0h1.5m-.5 0h1.5m.5 0h1.5m-.5 0h1.5m-154.5 1h1.5m39.5 0h1.5m47.5 0h1.5m1.5 0h1.5m3.5 0h1.5m6.5 0h1.5m-.5 0h1.5m2.5 0h1.5m-.5 0h1.5m3.5 0h1.5m-.5 0h1.5m.5 0h1.5m-.5 0h1.5m-.5 0h1.5m-.5 0h1.5m3.5 0h1.5m3.5 0h1.5m-.5 0h1.5m.5 0h1.5m-.5 0h1.5m1.5 0h1.5m-.5 0h1.5m-.5 0h1.5m.5 0h1.5m2.5 0h1.5m.5 0h1.5m-.5 0h1.5m2.5 0h1.5m7.5 0h1.5m-109.5 1h1.5m20.5 0h1.5m7.5 0h1.5m5.5 0h1.5m7.5 0h1.5m.5 0h1.5m.5 0h1.5m-.5 0h1.5m.5 0h1.5m-.5 0h1.5m-.5 0h1.5m2.5 0h1.5m-.5 0h1.5m-.5 0h1.5m.5 0h1.5m1.5 0h1.5m.5 0h1.5m-.5 0h1.5m-.5 0h1.5m3.5 0h1.5m-.5 0h1.5m-.5 0h1.5m.5 0h1.5m1.5 0h1.5m-.5 0h1.5m.5 0h1.5m-.5 0h1.5m6.5 0h1.5m1.5 0h1.5m.5 0h1.5m.5 0h1.5m.5 0h1.5m-131.5 1h1.5m25.5 0h1.5m10.5 0h1.5m34.5 0h1.5m.5 0h1.5m.5 0h1.5m-.5 0h1.5m-.5 0h1.5m1.5 0h1.5m-.5 0h1.5m.5 0h1.5m.5 0h1.5m-.5 0h1.5m-.5 0h1.5m-.5 0h1.5m2.5 0h1.5m-.5 0h1.5m.5 0h1.5m.5 0h1.5m.5 0h1.5m.5 0h1.5m4.5 0h1.5m.5 0h1.5m.5 0h1.5m.5 0h1.5m.5 0h1.5m.5 0h1.5m1.5 0h1.5m7.5 0h1.5m-125.5 1h1.5m53.5 0h1.5m2.5 0h1.5m5.5 0h1.5m4.5 0h1.5m2.5 0h1.5m-.5 0h1.5m-.5 0h1.5m-.5 0h1.5m1.5 0h1.5m1.5 0h1.5m2.5 0h1.5m-.5 0h1.5m.5 0h1.5m1.5 0h1.5m2.5 0h1.5m-.5 0h1.5m2.5 0h1.5m3.5 0h1.5m16.5 0h1.5m-96.5 1h1.5m19.5 0h1.5m4.5 0h1.5m2.5 0h1.5m1.5 0h1.5m-.5 0h1.5m.5 0h1.5m1.5 0h1.5m-.5 0h1.5m-.5 0h1.5m-.5 0h1.5m5.5 0h1.5m1.5 0h1.5m-.5 0h1.5m-.5 0h1.5m-.5 0h1.5m2.5 0h1.5m-.5 0h1.5m.5 0h1.5m-.5 0h1.5m.5 0h1.5m1.5 0h1.5m.5 0h1.5m-.5 0h1.5m1.5 0h1.5m1.5 0h1.5m3.5 0h1.5m-.5 0h1.5m.5 0h1.5m1.5 0h1.5m-.5 0h1.5m-.5 0h1.5m1.5 0h1.5m-149.5 1h1.5m69.5 0h1.5m11.5 0h1.5m.5 0h1.5m4.5 0h1.5m.5 0h1.5m3.5 0h1.5m.5 0h1.5m2.5 0h1.5m-.5 0h1.5m2.5 0h1.5m.5 0h1.5m.5 0h1.5m-.5 0h1.5m.5 0h1.5m1.5 0h1.5m1.5 0h1.5m.5 0h1.5m-.5 0h1.5m3.5 0h1.5m-.5 0h1.5m.5 0h1.5m-.5 0h1.5m12.5 0h1.5m-111.5 1h1.5m21.5 0h1.5m20.5 0h1.5m-.5 0h1.5m2.5 0h1.5m7.5 0h1.5m-.5 0h1.5m1.5 0h1.5m-.5 0h1.5m1.5 0h1.5m1.5 0h1.5m4.5 0h1.5m.5 0h1.5m1.5 0h1.5m7.5 0h1.5m-.5 0h1.5m1.5 0h1.5m2.5 0h1.5m4.5 0h1.5m-.5 0h1.5m-62.5 1h1.5m-.5 0h1.5m.5 0h1.5m.5 0h1.5m.5 0h1.5m4.5 0h1.5m.5 0h1.5m3.5 0h1.5m-.5 0h1.5m-.5 0h1.5m3.5 0h1.5m-.5 0h1.5m1.5 0h1.5m-.5 0h1.5m.5 0h1.5m2.5 0h1.5m-.5 0h1.5m-.5 0h1.5m-.5 0h1.5m-.5 0h1.5m-31.5 1h1.5m4.5 0h1.5m.5 0h1.5m.5 0h1.5m.5 0h1.5m2.5 0h1.5m1.5 0h1.5m-.5 0h1.5m.5 0h1.5m-.5 0h1.5m-40.5 1h1.5m9.5 0h1.5m-.5 0h1.5m-.5 0h1.5m-.5 0h1.5m.5 0h1.5m-.5 0h1.5m1.5 0h1.5m.5 0h1.5m-.5 0h1.5m-.5 0h1.5m.5 0h1.5m-.5 0h1.5m1.5 0h1.5m3.5 0h1.5m1.5 0h1.5m1.5 0h1.5m.5 0h1.5m-.5 0h1.5m3.5 0h1.5m3.5 0h1.5m2.5 0h1.5m-.5 0h1.5m9.5 0h1.5m-63.5 1h1.5m13.5 0h1.5m2.5 0h1.5m-.5 0h1.5m-.5 0h1.5m-.5 0h1.5m-.5 0h1.5m1.5 0h1.5m-.5 0h1.5m.5 0h1.5m-.5 0h1.5m2.5 0h1.5m-.5 0h1.5m4.5 0h1.5m7.5 0h1.5m-.5 0h1.5m-.5 0h1.5m7.5 0h1.5m-62.5 1h1.5m2.5 0h1.5m2.5 0h1.5m.5 0h1.5m1.5 0h1.5m2.5 0h1.5m1.5 0h1.5m.5 0h1.5m-.5 0h1.5m-.5 0h1.5m.5 0h1.5m-.5 0h1.5m-.5 0h1.5m1.5 0h1.5m4.5 0h1.5m14.5 0h1.5m1.5 0h1.5m3.5 0h1.5m-75.5 1h1.5m.5 0h1.5m10.5 0h1.5m6.5 0h1.5m.5 0h1.5m-.5 0h1.5m.5 0h1.5m2.5 0h1.5m.5 0h1.5m-.5 0h1.5m1.5 0h1.5m-.5 0h1.5m1.5 0h1.5m-.5 0h1.5m.5 0h1.5m-.5 0h1.5m-.5 0h1.5m2.5 0h1.5m1.5 0h1.5m.5 0h1.5m.5 0h1.5m3.5 0h1.5m1.5 0h1.5m13.5 0h1.5m1.5 0h1.5m4.5 0h1.5m-90.5 1h1.5m8.5 0h1.5m3.5 0h1.5m-.5 0h1.5m3.5 0h1.5m3.5 0h1.5m3.5 0h1.5m-.5 0h1.5m-.5 0h1.5m-.5 0h1.5m1.5 0h1.5m-.5 0h1.5m-.5 0h1.5m.5 0h1.5m6.5 0h1.5m-.5 0h1.5m-.5 0h1.5m-.5 0h1.5m-37.5 1h1.5m13.5 0h1.5m-.5 0h1.5m-.5 0h1.5m-.5 0h1.5m-.5 0h1.5m.5 0h1.5m4.5 0h1.5m-.5 0h1.5m-.5 0h1.5m10.5 0h1.5m-40.5 1h1.5m1.5 0h1.5m.5 0h1.5m-.5 0h1.5m1.5 0h1.5m-.5 0h1.5m.5 0h1.5m2.5 0h1.5m3.5 0h1.5m.5 0h1.5m-.5 0h1.5m1.5 0h1.5m7.5 0h1.5m-52.5 1h1.5m5.5 0h1.5m3.5 0h1.5m9.5 0h1.5m3.5 0h1.5m4.5 0h1.5m2.5 0h1.5m1.5 0h1.5m-.5 0h1.5m.5 0h1.5m15.5 0h1.5m-76.5 1h1.5m5.5 0h1.5m10.5 0h1.5m4.5 0h1.5m1.5 0h1.5m2.5 0h1.5m3.5 0h1.5m.5 0h1.5m-.5 0h1.5m.5 0h1.5m5.5 0h1.5m-21.5 1h1.5m9.5 0h1.5m4.5 0h1.5m.5 0h1.5m-.5 0h1.5m.5 0h1.5m11.5 0h1.5m6.5 0h1.5m-73.5 1h1.5m20.5 0h1.5m-.5 0h1.5m6.5 0h1.5m1.5 0h1.5m-.5 0h1.5m2.5 0h1.5m1.5 0h1.5m.5 0h1.5m.5 0h1.5m-.5 0h1.5m1.5 0h1.5m11.5 0h1.5m-49.5 1h1.5m.5 0h1.5m5.5 0h1.5m-.5 0h1.5m1.5 0h1.5m5.5 0h1.5m3.5 0h1.5m3.5 0h1.5m2.5 0h1.5m22.5 0h1.5m4.5 0h1.5m-59.5 1h1.5m8.5 0h1.5m6.5 0h1.5m3.5 0h1.5m5.5 0h1.5m-23.5 1h1.5m8.5 0h1.5m7.5 0h1.5m1.5 0h1.5m1.5 0h1.5m.5 0h1.5m3.5 0h1.5m-143.5 1h1.5m-.5 0h1.5m84.5 0h1.5m25.5 0h1.5m2.5 0h1.5m8.5 0h1.5m15.5 0h1.5m-37.5 1h1.5m5.5 0h1.5m4.5 0h1.5m8.5 0h1.5m2.5 0h1.5m9.5 0h1.5m-51.5 1h1.5m24.5 0h1.5m2.5 0h1.5m6.5 0h1.5m2.5 0h1.5m2.5 0h1.5m-144.5 1h1.5m6.5 0h1.5m74.5 0h1.5m3.5 0h1.5m19.5 0h1.5m4.5 0h1.5m12.5 0h1.5m.5 0h1.5m-.5 0h1.5m-133.5 1h1.5m2.5 0h1.5m1.5 0h1.5m81.5 0h1.5m-82.5 1h1.5m95.5 0h1.5m18.5 0h1.5m1.5 0h1.5m4.5 0h1.5m-134.5 1h1.5m1.5 0h1.5m-.5 0h1.5m89.5 0h1.5m.5 0h1.5m6.5 0h1.5m6.5 0h1.5m4.5 0h1.5m-122.5 1h1.5m-.5 0h1.5m.5 0h1.5m90.5 0h1.5m36.5 0h1.5m.5 0h1.5m2.5 0h1.5m-142.5 1h1.5m-.5 0h1.5m1.5 0h1.5m-.5 0h1.5m.5 0h1.5m.5 0h1.5m68.5 0h1.5m17.5 0h1.5m4.5 0h1.5m-.5 0h1.5m-104.5 1h1.5m-.5 0h1.5m-.5 0h1.5m-.5 0h1.5m-.5 0h1.5m-.5 0h1.5m68.5 0h1.5m25.5 0h1.5m11.5 0h1.5m3.5 0h1.5m16.5 0h1.5m-.5 0h1.5m-139.5 1h1.5m-.5 0h1.5m-.5 0h1.5m-.5 0h1.5m.5 0h1.5m-6.5 1h1.5m-.5 0h1.5m-.5 0h1.5m-.5 0h1.5m80.5 0h1.5m-85.5 1h1.5m-.5 0h1.5m-.5 0h1.5m.5 0h1.5m107.5 0h1.5m1.5 0h1.5m9.5 0h1.5m25.5 0h1.5m-158.5 1h1.5m1.5 0h1.5m-.5 0h1.5m-.5 0h1.5m-.5 0h1.5m-.5 0h1.5m93.5 0h1.5m3.5 0h1.5m3.5 0h1.5m5.5 0h1.5m-118.5 1h1.5m.5 0h1.5m.5 0h1.5m88.5 0h1.5m3.5 0h1.5m18.5 0h1.5m-.5 0h1.5m10.5 0h1.5m2.5 0h1.5m-137.5 1h1.5m1.5 0h1.5m1.5 0h1.5m108.5 0h1.5m-116.5 1h1.5m-.5 0h1.5m.5 0h1.5m71.5 0h1.5m22.5 0h1.5m-99.5 1h1.5m-7.5 1h1.5m3.5 0h1.5m-.5 0h1.5m95.5 0h1.5m2.5 0h1.5m1.5 0h1.5m12.5 0h1.5m5.5 0h1.5m-130.5 1h1.5m1.5 0h1.5m.5 0h1.5m-.5 0h1.5m-8.5 1h1.5m.5 0h1.5m-.5 0h1.5m1.5 0h1.5m-.5 0h1.5m104.5 0h1.5m-114.5 1h1.5m1.5 0h1.5m-.5 0h1.5m-.5 0h1.5m116.5 0h1.5m-120.5 1h1.5m112.5 0h1.5m6.5 0h1.5m-124.5 1h1.5m-.5 0h1.5m-.5 0h1.5m.5 0h1.5m-.5 0h1.5m98.5 1h1.5m-105.5 1h1.5m-.5 0h1.5m-5.5 1h1.5m3.5 0h1.5m-7.5 1h1.5m1.5 0h1.5m-.5 0h1.5m1.5 0h1.5m-5.5 1h1.5m-.5 0h1.5m101.5 0h1.5m-106.5 1h1.5m.5 0h1.5m.5 0h1.5m-7.5 1h1.5m4.5 0h1.5m-5.5 1h1.5m1.5 1h1.5m-3.5 1h1.5m2.5 0h1.5m-5.5 1h1.5m111.5 0h1.5m-111.5 1h1.5m-3.5 2h1.5m-.5 6h1.5" stroke="#0000F0" stroke-width="1.5"/>
<path d="M1586 720h1.5m.5 1h1.5m-.5 1h1.5m-4.5 1h1.5m.5 0h1.5m3.5 0h1.5m-13.5 1h1.5m4.5 0h1.5m-.5 0h1.5m1.5 0h1.5m-11.5 1h1.5m3.5 0h1.5m.5 0h1.5m-.5 0h1.5m4.5 0h1.5m-22.5 1h1.5m6.5 0h1.5m.5 0h1.5m-.5 0h1.5m-.5 0h1.5m-.5 0h1.5m4.5 0h1.5m-20.5 1h1.5m1.5 0h1.5m7.5 0h1.5m-.5 0h1.5m3.5 0h1.5m.5 0h1.5m-.5 0h1.5m-.5 0h1.5m-20.5 1h1.5m-.5 0h1.5m-.5 0h1.5m.5 0h1.5m6.5 0h1.5m-.5 0h1.5m.5 0h1.5m-20.5 1h1.5m-.5 0h1.5m.5 0h1.5m-.5 0h1.5m-.5 0h1.5m1.5 0h1.5m-.5 0h1.5m-.5 0h1.5m2.5 0h1.5m1.5 0h1.5m6.5 0h1.5m-24.5 1h1.5m1.5 0h1.5m-.5 0h1.5m3.5 0h1.5m-.5 0h1.5m.5 0h1.5m2.5 0h1.5m-20.5 1h1.5m.5 0h1.5m-.5 0h1.5m-.5 0h1.5m-.5 0h1.5m.5 0h1.5m6.5 0h1.5m.5 0h1.5m2.5 0h1.5m-21.5 1h1.5m2.5 0h1.5m-.5 0h1.5m2.5 0h1.5m.5 0h1.5m-.5 0h1.5m3.5 0h1.5m-.5 0h1.5m-.5 0h1.5m3.5 0h1.5m-29.5 1h1.5m1.5 0h1.5m4.5 0h1.5m-.5 0h1.5m.5 0h1.5m-.5 0h1.5m2.5 0h1.5m-.5 0h1.5m.5 0h1.5m6.5 0h1.5m.5 0h1.5m-.5 0h1.5m-32.5 1h1.5m5.5 0h1.5m.5 0h1.5m-.5 0h1.5m4.5 0h1.5m.5 0h1.5m-.5 0h1.5m5.5 0h1.5m-26.5 1h1.5m-.5 0h1.5m1.5 0h1.5m1.5 0h1.5m-.5 0h1.5m1.5 0h1.5m-.5 0h1.5m-.5 0h1.5m-.5 0h1.5m3.5 0h1.5m-.5 0h1.5m1.5 0h1.5m.5 0h1.5m-.5 0h1.5m-29.5 1h1.5m.5 0h1.5m-.5 0h1.5m2.5 0h1.5m.5 0h1.5m8.5 0h1.5m-.5 0h1.5m-.5 0h1.5m2.5 0h1.5m-26.5 1h1.5m2.5 0h1.5m.5 0h1.5m-.5 0h1.5m.5 0h1.5m.5 0h1.5m2.5 0h1.5m-.5 0h1.5m2.5 0h1.5m-.5 0h1.5m1.5 0h1.5m-.5 0h1.5m-28.5 1h1.5m1.5 0h1.5m-.5 0h1.5m.5 0h1.5m-.5 0h1.5m-.5 0h1.5m-.5 0h1.5m-.5 0h1.5m2.5 0h1.5m-.5 0h1.5m-.5 0h1.5m.5 0h1.5m-.5 0h1.5m.5 0h1.5m1.5 0h1.5m-.5 0h1.5m-.5 0h1.5m-.5 0h1.5m.5 0h1.5m-.5 0h1.5m-32.5 1h1.5m-.5 0h1.5m2.5 0h1.5m.5 0h1.5m1.5 0h1.5m1.5 0h1.5m-.5 0h1.5m3.5 0h1.5m1.5 0h1.5m-.5 0h1.5m2.5 0h1.5m2.5 0h1.5m-32.5 1h1.5m-.5 0h1.5m.5 0h1.5m-.5 0h1.5m.5 0h1.5m-.5 0h1.5m-.5 0h1.5m.5 0h1.5m.5 0h1.5m-.5 0h1.5m2.5 0h1.5m-.5 0h1.5m-.5 0h1.5m1.5 0h1.5m-.5 0h1.5m6.5 0h1.5m-34.5 1h1.5m1.5 0h1.5m.5 0h1.5m-.5 0h1.5m.5 0h1.5m4.5 0h1.5m2.5 0h1.5m6.5 0h1.5m-.5 0h1.5m4.5 0h1.5m-34.5 1h1.5m1.5 0h1.5m-.5 0h1.5m-.5 0h1.5m1.5 0h1.5m.5 0h1.5m.5 0h1.5m1.5 0h1.5m4.5 0h1.5m-.5 0h1.5m2.5 0h1.5m-.5 0h1.5m.5 0h1.5m-.5 0h1.5m.5 0h1.5m-32.5 1h1.5m-.5 0h1.5m-.5 0h1.5m-.5 0h1.5m.5 0h1.5m-.5 0h1.5m.5 0h1.5m-.5 0h1.5m6.5 0h1.5m.5 0h1.5m3.5 0h1.5m3.5 0h1.5m-.5 0h1.5m1.5 0h1.5m-37.5 1h1.5m.5 0h1.5m1.5 0h1.5m6.5 0h1.5m.5 0h1.5m.5 0h1.5m8.5 0h1.5m1.5 0h1.5m-.5 0h1.5m-.5 0h1.5m-33.5 1h1.5m.5 0h1.5m-.5 0h1.5m2.5 0h1.5m.5 0h1.5m4.5 0h1.5m12.5 0h1.5m1.5 0h1.5m2.5 0h1.5m-40.5 1h1.5m.5 0h1.5m-.5 0h1.5m4.5 0h1.5m1.5 0h1.5m-.5 0h1.5m19.5 0h1.5m-.5 0h1.5m.5 0h1.5m-34.5 1h1.5m.5 0h1.5m.5 0h1.5m-.5 0h1.5m.5 0h1.5m.5 0h1.5m2.5 0h1.5m1.5 0h1.5m6.5 0h1.5m4.5 0h1.5m2.5 0h1.5m-.5 0h1.5m-39.5 1h1.5m-.5 0h1.5m-.5 0h1.5m1.5 0h1.5m3.5 0h1.5m6.5 0h1.5m6.5 0h1.5m3.5 0h1.5m.5 0h1.5m.5 0h1.5m1.5 0h1.5m-38.5 1h1.5m-.5 0h1.5m-.5 0h1.5m1.5 0h1.5m3.5 0h1.5m-.5 0h1.5m-.5 0h1.5m2.5 0h1.5m13.5 0h1.5m.5 0h1.5m1.5 0h1.5m-.5 0h1.5m-34.5 1h1.5m-.5 0h1.5m-.5 0h1.5m7.5 0h1.5m1.5 0h1.5m6.5 0h1.5m1.5 0h1.5m1.5 0h1.5m.5 0h1.5m1.5 0h1.5m-37.5 1h1.5m.5 0h1.5m-.5 0h1.5m-.5 0h1.5m1.5 0h1.5m6.5 0h1.5m7.5 0h1.5m6.5 0h1.5m1.5 0h1.5m1.5 0h1.5m-40.5 1h1.5m-.5 0h1.5m-.5 0h1.5m-.5 0h1.5m1.5 0h1.5m5.5 0h1.5m3.5 0h1.5m7.5 0h1.5m2.5 0h1.5m-.5 0h1.5m1.5 0h1.5m.5 0h1.5m-41.5 1h1.5m2.5 0h1.5m.5 0h1.5m4.5 0h1.5m.5 0h1.5m-.5 0h1.5m1.5 0h1.5m6.5 0h1.5m2.5 0h1.5m-.5 0h1.5m1.5 0h1.5m.5 0h1.5m-.5 0h1.5m.5 0h1.5m-.5 0h1.5m-39.5 1h1.5m.5 0h1.5m-.5 0h1.5m1.5 0h1.5m5.5 0h1.5m10.5 0h1.5m6.5 0h1.5m.5 0h1.5m-31.5 1h1.5m.5 0h1.5m1.5 0h1.5m5.5 0h1.5m1.5 0h1.5m.5 0h1.5m.5 0h1.5m6.5 0h1.5m.5 0h1.5m-33.5 1h1.5m-.5 0h1.5m-.5 0h1.5m-.5 0h1.5m.5 0h1.5m7.5 0h1.5m3.5 0h1.5m1.5 0h1.5m.5 0h1.5m3.5 0h1.5m1.5 0h1.5m-.5 0h1.5m-32.5 1h1.5m3.5 0h1.5m-.5 0h1.5m1.5 0h1.5m-.5 0h1.5m.5 0h1.5m.5 0h1.5m.5 0h1.5m.5 0h1.5m.5 0h1.5m.5 0h1.5m9.5 0h1.5m-32.5 1h1.5m1.5 0h1.5m4.5 0h1.5m-.5 0h1.5m5.5 0h1.5m-.5 0h1.5m1.5 0h1.5m.5 0h1.5m.5 0h1.5m-33.5 1h1.5m.5 0h1.5m-.5 0h1.5m4.5 0h1.5m1.5 0h1.5m-.5 0h1.5m9.5 0h1.5m-.5 0h1.5m.5 0h1.5m3.5 0h1.5m-.5 0h1.5m1.5 0h1.5m-39.5 1h1.5m1.5 0h1.5m.5 0h1.5m-.5 0h1.5m1.5 0h1.5m1.5 0h1.5m-.5 0h1.5m1.5 0h1.5m-.5 0h1.5m-.5 0h1.5m1.5 0h1.5m.5 0h1.5m1.5 0h1.5m2.5 0h1.5m.5 0h1.5m2.5 0h1.5m-36.5 1h1.5m.5 0h1.5m-.5 0h1.5m1.5 0h1.5m6.5 0h1.5m1.5 0h1.5m-.5 0h1.5m-.5 0h1.5m-.5 0h1.5m.5 0h1.5m3.5 0h1.5m-.5 0h1.5m.5 0h1.5m-.5 0h1.5m-.5 0h1.5m1.5 0h1.5m-37.5 1h1.5m-.5 0h1.5m3.5 0h1.5m-.5 0h1.5m-.5 0h1.5m.5 0h1.5m.5 0h1.5m1.5 0h1.5m-.5 0h1.5m1.5 0h1.5m-.5 0h1.5m-.5 0h1.5m.5 0h1.5m-.5 0h1.5m-.5 0h1.5m.5 0h1.5m-.5 0h1.5m1.5 0h1.5m-31.5 1h1.5m.5 0h1.5m-.5 0h1.5m-.5 0h1.5m-.5 0h1.5m1.5 0h1.5m-.5 0h1.5m-.5 0h1.5m3.5 0h1.5m1.5 0h1.5m-.5 0h1.5m4.5 0h1.5m-.5 0h1.5m-.5 0h1.5m-.5 0h1.5m3.5 0h1.5m-37.5 1h1.5m2.5 0h1.5m3.5 0h1.5m-.5 0h1.5m-.5 0h1.5m3.5 0h1.5m-.5 0h1.5m2.5 0h1.5m.5 0h1.5m-.5 0h1.5m-.5 0h1.5m.5 0h1.5m.5 0h1.5m2.5 0h1.5m.5 0h1.5m-151.5 1h1.5m.5 0h1.5m112.5 0h1.5m-.5 0h1.5m-.5 0h1.5m1.5 0h1.5m-.5 0h1.5m.5 0h1.5m-.5 0h1.5m.5 0h1.5m-.5 0h1.5m1.5 0h1.5m-.5 0h1.5m.5 0h1.5m.5 0h1.5m-.5 0h1.5m4.5 0h1.5m-.5 0h1.5m1.5 0h1.5m-144.5 1h1.5m110.5 0h1.5m.5 0h1.5m7.5 0h1.5m.5 0h1.5m.5 0h1.5m1.5 0h1.5m.5 0h1.5m1.5 0h1.5m-.5 0h1.5m.5 0h1.5m-.5 0h1.5m-144.5 1h1.5m.5 0h1.5m-.5 0h1.5m117.5 0h1.5m.5 0h1.5m-.5 0h1.5m-.5 0h1.5m-.5 0h1.5m3.5 0h1.5m.5 0h1.5m-.5 0h1.5m-.5 0h1.5m-.5 0h1.5m2.5 0h1.5m-.5 0h1.5m.5 0h1.5m-.5 0h1.5m.5 0h1.5m-148.5 1h1.5m.5 0h1.5m-.5 0h1.5m-.5 0h1.5m111.5 0h1.5m2.5 0h1.5m-.5 0h1.5m-.5 0h1.5m.5 0h1.5m-.5 0h1.5m-.5 0h1.5m-.5 0h1.5m-.5 0h1.5m3.5 0h1.5m-.5 0h1.5m1.5 0h1.5m-140.5 1h1.5m-.5 0h1.5m-.5 0h1.5m-.5 0h1.5m-.5 0h1.5m-.5 0h1.5m110.5 0h1.5m-.5 0h1.5m4.5 0h1.5m1.5 0h1.5m-.5 0h1.5m11.5 0h1.5m-141.5 1h1.5m-.5 0h1.5m-.5 0h1.5m.5 0h1.5m116.5 0h1.5m-.5 0h1.5m-.5 0h1.5m.5 0h1.5m-.5 0h1.5m.5 0h1.5m1.5 0h1.5m1.5 0h1.5m5.5 0h1.5m-.5 0h1.5m.5 0h1.5m-.5 0h1.5m-148.5 1h1.5m-.5 0h1.5m-.5 0h1.5m-.5 0h1.5m-.5 0h1.5m-.5 0h1.5m120.5 0h1.5m.5 0h1.5m-.5 0h1.5m-.5 0h1.5m2.5 0h1.5m1.5 0h1.5m-139.5 1h1.5m-.5 0h1.5m-.5 0h1.5m.5 0h1.5m-.5 0h1.5m110.5 0h1.5m2.5 0h1.5m-.5 0h1.5m.5 0h1.5m3.5 0h1.5m.5 0h1.5m7.5 0h1.5m.5 0h1.5m-143.5 1h1.5m-.5 0h1.5m-.5 0h1.5m-.5 0h1.5m-.5 0h1.5m.5 0h1.5m108.5 0h1.5m10.5 0h1.5m-.5 0h1.5m13.5 0h1.5m-145.5 1h1.5m-.5 0h1.5m-.5 0h1.5m-.5 0h1.5m-.5 0h1.5m-.5 0h1.5m124.5 0h1.5m-132.5 1h1.5m-.5 0h1.5m-.5 0h1.5m-.5 0h1.5m-.5 0h1.5m-.5 0h1.5m-6.5 1h1.5m-.5 0h1.5m-.5 0h1.5m-.5 0h1.5m-.5 0h1.5m-.5 0h1.5m-.5 0h1.5m-.5 0h1.5m112.5 0h1.5m.5 0h1.5m-124.5 1h1.5m-.5 0h1.5m-.5 0h1.5m-.5 0h1.5m-.5 0h1.5m-.5 0h1.5m-.5 0h1.5m121.5 0h1.5m-131.5 1h1.5m-.5 0h1.5m-.5 0h1.5m-.5 0h1.5m-.5 0h1.5m-.5 0h1.5m-.5 0h1.5m-.5 0h1.5m-.5 0h1.5m114.5 0h1.5m-124.5 1h1.5m-.5 0h1.5m-.5 0h1.5m-.5 0h1.5m-.5 0h1.5m-.5 0h1.5m-.5 0h1.5m-9.5 1h1.5m.5 0h1.5m-.5 0h1.5m-.5 0h1.5m-.5 0h1.5m-.5 0h1.5m-.5 0h1.5m.5 0h1.5m-8.5 1h1.5m-.5 0h1.5m-.5 0h1.5m-.5 0h1.5m-.5 0h1.5m-.5 0h1.5m-.5 0h1.5m-9.5 1h1.5m.5 0h1.5m-.5 0h1.5m-.5 0h1.5m-.5 0h1.5m-.5 0h1.5m-.5 0h1.5m-.5 0h1.5m-.5 0h1.5m-9.5 1h1.5m-.5 0h1.5m-.5 0h1.5m-.5 0h1.5m-.5 0h1.5m-.5 0h1.5m-.5 0h1.5m-.5 0h1.5m-7.5 1h1.5m-.5 0h1.5m-.5 0h1.5m-.5 0h1.5m-.5 0h1.5m-.5 0h1.5m-.5 0h1.5m-7.5 1h1.5m-.5 0h1.5m-.5 0h1.5m-.5 0h1.5m-.5 0h1.5m-.5 0h1.5m.5 0h1.5m-9.5 1h1.5m-.5 0h1.5m-.5 0h1.5m-.5 0h1.5m-.5 0h1.5m-.5 0h1.5m-.5 0h1.5m-8.5 1h1.5m.5 0h1.5m-.5 0h1.5m-.5 0h1.5m-.5 0h1.5m-.5 0h1.5m-.5 0h1.5m-.5 0h1.5m-.5 0h1.5m-.5 0h1.5m-9.5 1h1.5m-.5 0h1.5m-.5 0h1.5m-.5 0h1.5m-.5 0h1.5m-.5 0h1.5m-.5 0h1.5m-6.5 1h1.5m-.5 0h1.5m-.5 0h1.5m-.5 0h1.5m-.5 0h1.5m-.5 0h1.5m-.5 0h1.5m-7.5 1h1.5m-.5 0h1.5m-.5 0h1.5m-.5 0h1.5m-.5 0h1.5m-.5 0h1.5m-7.5 1h1.5m-.5 0h1.5m-.5 0h1.5m-.5 0h1.5m-.5 0h1.5m-.5 0h1.5m-.5 0h1.5m-7.5 1h1.5m-.5 0h1.5m-.5 0h1.5m-.5 0h1.5m-.5 0h1.5m-.5 0h1.5m-.5 0h1.5m.5 0h1.5m-9.5 1h1.5m.5 0h1.5m-.5 0h1.5m-.5 0h1.5m-.5 0h1.5m-.5 0h1.5m-7.5 1h1.5m-.5 0h1.5m-.5 0h1.5m-.5 0h1.5m-.5 0h1.5m-.5 0h1.5m-.5 0h1.5m-6.5 1h1.5m-.5 0h1.5m-.5 0h1.5m-.5 0h1.5m-.5 0h1.5m-.5 0h1.5m-6.5 1h1.5m-.5 0h1.5m-.5 0h1.5m-.5 0h1.5m-.5 0h1.5m-.5 0h1.5m-7.5 1h1.5m-.5 0h1.5m-.5 0h1.5m-.5 0h1.5m-.5 0h1.5m-.5 0h1.5m-.5 0h1.5m.5 0h1.5m-8.5 1h1.5m-.5 0h1.5m-.5 0h1.5m-.5 0h1.5m-.5 0h1.5m-.5 0h1.5m-6.5 1h1.5m-.5 0h1.5m-.5 0h1.5m.5 0h1.5m-.5 0h1.5m-7.5 1h1.5m.5 0h1.5m-.5 0h1.5m-.5 0h1.5m-.5 0h1.5m-.5 0h1.5m-6.5 1h1.5m-.5 0h1.5m-.5 0h1.5m-.5 0h1.5m-.5 0h1.5m-4.5 1h1.5m-.5 0h1.5m-.5 0h1.5m-.5 0h1.5m-5.5 1h1.5m-.5 0h1.5m-.5 0h1.5m-.5 0h1.5m.5 0h1.5m-5.5 1h1.5m.5 0h1.5m-2.5 1h1.5" stroke="#1E90FF" stroke-width="1.5"/>
<path d="M1574 726h1.5m12.5 2h1.5m-6.5 3h1.5m-7.5 1h1.5m-.5 0h1.5m.5 0h1.5m-6.5 1h1.5m4.5 0h1.5m-.5 0h1.5m-8.5 1h1.5m-.5 0h1.5m.5 0h1.5m5.5 0h1.5m-14.5 1h1.5m.5 0h1.5m-.5 0h1.5m.5 0h1.5m-8.5 1h1.5m.5 0h1.5m1.5 0h1.5m-.5 0h1.5m1.5 0h1.5m-.5 0h1.5m-.5 0h1.5m-.5 0h1.5m-8.5 1h1.5m-.5 0h1.5m-.5 0h1.5m1.5 0h1.5m.5 0h1.5m2.5 0h1.5m-14.5 1h1.5m-.5 0h1.5m2.5 0h1.5m.5 0h1.5m.5 0h1.5m4.5 0h1.5m4.5 0h1.5m-24.5 1h1.5m2.5 0h1.5m1.5 0h1.5m2.5 0h1.5m-.5 0h1.5m.5 0h1.5m6.5 0h1.5m-24.5 1h1.5m-.5 0h1.5m-.5 0h1.5m-.5 0h1.5m-.5 0h1.5m-.5 0h1.5m.5 0h1.5m-.5 0h1.5m-.5 0h1.5m-.5 0h1.5m-.5 0h1.5m-.5 0h1.5m-.5 0h1.5m1.5 0h1.5m2.5 0h1.5m-23.5 1h1.5m.5 0h1.5m-.5 0h1.5m-.5 0h1.5m-.5 0h1.5m-.5 0h1.5m3.5 0h1.5m.5 0h1.5m-.5 0h1.5m.5 0h1.5m.5 0h1.5m-.5 0h1.5m-.5 0h1.5m.5 0h1.5m1.5 0h1.5m-.5 0h1.5m1.5 0h1.5m-34.5 1h1.5m2.5 0h1.5m5.5 0h1.5m1.5 0h1.5m3.5 0h1.5m-.5 0h1.5m.5 0h1.5m-23.5 1h1.5m2.5 0h1.5m.5 0h1.5m2.5 0h1.5m-.5 0h1.5m-.5 0h1.5m1.5 0h1.5m-.5 0h1.5m1.5 0h1.5m1.5 0h1.5m-.5 0h1.5m-.5 0h1.5m4.5 0h1.5m-.5 0h1.5m-.5 0h1.5m-35.5 1h1.5m-.5 0h1.5m2.5 0h1.5m-.5 0h1.5m-.5 0h1.5m1.5 0h1.5m-.5 0h1.5m.5 0h1.5m-.5 0h1.5m2.5 0h1.5m.5 0h1.5m-.5 0h1.5m1.5 0h1.5m.5 0h1.5m-.5 0h1.5m2.5 0h1.5m-26.5 1h1.5m3.5 0h1.5m.5 0h1.5m5.5 0h1.5m.5 0h1.5m-.5 0h1.5m-.5 0h1.5m3.5 0h1.5m.5 0h1.5m1.5 0h1.5m-33.5 1h1.5m-.5 0h1.5m-.5 0h1.5m-.5 0h1.5m-.5 0h1.5m-.5 0h1.5m3.5 0h1.5m-.5 0h1.5m-.5 0h1.5m.5 0h1.5m.5 0h1.5m-.5 0h1.5m.5 0h1.5m.5 0h1.5m-.5 0h1.5m4.5 0h1.5m3.5 0h1.5m-40.5 1h1.5m.5 0h1.5m2.5 0h1.5m.5 0h1.5m.5 0h1.5m2.5 0h1.5m1.5 0h1.5m-.5 0h1.5m-.5 0h1.5m2.5 0h1.5m-.5 0h1.5m2.5 0h1.5m-.5 0h1.5m.5 0h1.5m.5 0h1.5m1.5 0h1.5m-30.5 1h1.5m.5 0h1.5m-.5 0h1.5m-.5 0h1.5m4.5 0h1.5m.5 0h1.5m-.5 0h1.5m-.5 0h1.5m.5 0h1.5m6.5 0h1.5m-.5 0h1.5m.5 0h1.5m-35.5 1h1.5m3.5 0h1.5m-.5 0h1.5m1.5 0h1.5m-.5 0h1.5m-.5 0h1.5m1.5 0h1.5m-.5 0h1.5m1.5 0h1.5m-.5 0h1.5m-.5 0h1.5m.5 0h1.5m.5 0h1.5m-.5 0h1.5m-.5 0h1.5m-.5 0h1.5m1.5 0h1.5m-.5 0h1.5m.5 0h1.5m.5 0h1.5m-31.5 1h1.5m.5 0h1.5m-.5 0h1.5m2.5 0h1.5m-.5 0h1.5m.5 0h1.5m-.5 0h1.5m-.5 0h1.5m-.5 0h1.5m.5 0h1.5m-.5 0h1.5m.5 0h1.5m1.5 0h1.5m.5 0h1.5m3.5 0h1.5m1.5 0h1.5m.5 0h1.5m-36.5 1h1.5m2.5 0h1.5m1.5 0h1.5m.5 0h1.5m1.5 0h1.5m-.5 0h1.5m.5 0h1.5m3.5 0h1.5m3.5 0h1.5m.5 0h1.5m1.5 0h1.5m-.5 0h1.5m-.5 0h1.5m-31.5 1h1.5m-.5 0h1.5m.5 0h1.5m-.5 0h1.5m-.5 0h1.5m1.5 0h1.5m1.5 0h1.5m2.5 0h1.5m.5 0h1.5m1.5 0h1.5m-.5 0h1.5m-.5 0h1.5m-.5 0h1.5m-.5 0h1.5m.5 0h1.5m-.5 0h1.5m2.5 0h1.5m1.5 0h1.5m-35.5 1h1.5m-.5 0h1.5m-.5 0h1.5m4.5 0h1.5m.5 0h1.5m-.5 0h1.5m.5 0h1.5m2.5 0h1.5m-.5 0h1.5m-.5 0h1.5m.5 0h1.5m.5 0h1.5m1.5 0h1.5m.5 0h1.5m-30.5 1h1.5m1.5 0h1.5m-.5 0h1.5m-.5 0h1.5m-.5 0h1.5m.5 0h1.5m1.5 0h1.5m-.5 0h1.5m3.5 0h1.5m-.5 0h1.5m-.5 0h1.5m-.5 0h1.5m1.5 0h1.5m-.5 0h1.5m.5 0h1.5m1.5 0h1.5m-27.5 1h1.5m-.5 0h1.5m.5 0h1.5m-.5 0h1.5m4.5 0h1.5m-.5 0h1.5m-.5 0h1.5m-.5 0h1.5m-.5 0h1.5m1.5 0h1.5m2.5 0h1.5m-.5 0h1.5m1.5 0h1.5m-.5 0h1.5m-.5 0h1.5m-29.5 1h1.5m.5 0h1.5m.5 0h1.5m-.5 0h1.5m2.5 0h1.5m1.5 0h1.5m-.5 0h1.5m-.5 0h1.5m.5 0h1.5m-.5 0h1.5m2.5 0h1.5m.5 0h1.5m4.5 0h1.5m-36.5 1h1.5m1.5 0h1.5m1.5 0h1.5m-.5 0h1.5m.5 0h1.5m-.5 0h1.5m-.5 0h1.5m.5 0h1.5m.5 0h1.5m-.5 0h1.5m2.5 0h1.5m.5 0h1.5m-.5 0h1.5m1.5 0h1.5m.5 0h1.5m-.5 0h1.5m-23.5 1h1.5m.5 0h1.5m-.5 0h1.5m2.5 0h1.5m-.5 0h1.5m.5 0h1.5m-.5 0h1.5m-.5 0h1.5m-.5 0h1.5m1.5 0h1.5m2.5 0h1.5m.5 0h1.5m-29.5 1h1.5m3.5 0h1.5m-.5 0h1.5m1.5 0h1.5m-.5 0h1.5m.5 0h1.5m.5 0h1.5m2.5 0h1.5m3.5 0h1.5m1.5 0h1.5m1.5 0h1.5m-22.5 1h1.5m.5 0h1.5m4.5 0h1.5m.5 0h1.5m1.5 0h1.5m-.5 0h1.5m-.5 0h1.5m-.5 0h1.5m.5 0h1.5m-22.5 1h1.5m.5 0h1.5m-.5 0h1.5m-.5 0h1.5m.5 0h1.5m-.5 0h1.5m-.5 0h1.5m1.5 0h1.5m2.5 0h1.5m-.5 0h1.5m.5 0h1.5m-.5 0h1.5m-.5 0h1.5m-.5 0h1.5m-.5 0h1.5m-29.5 1h1.5m1.5 0h1.5m-.5 0h1.5m1.5 0h1.5m.5 0h1.5m-.5 0h1.5m-.5 0h1.5m.5 0h1.5m3.5 0h1.5m4.5 0h1.5m-.5 0h1.5m1.5 0h1.5m-30.5 1h1.5m10.5 0h1.5m1.5 0h1.5m-.5 0h1.5m-.5 0h1.5m.5 0h1.5m-.5 0h1.5m3.5 0h1.5m.5 0h1.5m-23.5 1h1.5m-.5 0h1.5m-.5 0h1.5m.5 0h1.5m3.5 0h1.5m-.5 0h1.5m-.5 0h1.5m2.5 0h1.5m-.5 0h1.5m.5 0h1.5m.5 0h1.5m-.5 0h1.5m.5 0h1.5m-25.5 1h1.5m.5 0h1.5m1.5 0h1.5m.5 0h1.5m2.5 0h1.5m-.5 0h1.5m-.5 0h1.5m-13.5 1h1.5m.5 0h1.5m-.5 0h1.5m1.5 0h1.5m1.5 0h1.5m-.5 0h1.5m1.5 0h1.5m-.5 0h1.5m7.5 0h1.5m-21.5 1h1.5m-.5 0h1.5m-.5 0h1.5m-.5 0h1.5m.5 0h1.5m.5 0h1.5m1.5 0h1.5m.5 0h1.5m3.5 0h1.5m-18.5 1h1.5m11.5 0h1.5m-20.5 1h1.5m1.5 0h1.5m-.5 1h1.5" stroke="#20D0E0" stroke-width="1.5"/>
<path d="M1577 730h1.5m5.5 2h1.5m-4.5 2h1.5m-.5 0h1.5m1.5 0h1.5m-10.5 1h1.5m2.5 0h1.5m-8.5 2h1.5m1.5 0h1.5m-.5 0h1.5m-.5 0h1.5m-6.5 1h1.5m10.5 0h1.5m-14.5 1h1.5m4.5 0h1.5m1.5 0h1.5m-.5 0h1.5m.5 0h1.5m5.5 0h1.5m-20.5 1h1.5m7.5 0h1.5m-.5 0h1.5m-9.5 1h1.5m4.5 0h1.5m2.5 0h1.5m8.5 0h1.5m-22.5 1h1.5m-.5 0h1.5m-.5 0h1.5m-.5 0h1.5m-.5 0h1.5m-.5 0h1.5m1.5 0h1.5m-.5 0h1.5m1.5 0h1.5m3.5 0h1.5m-17.5 1h1.5m.5 0h1.5m.5 0h1.5m-.5 0h1.5m-.5 0h1.5m-.5 0h1.5m.5 0h1.5m-.5 0h1.5m-.5 0h1.5m-.5 0h1.5m-.5 0h1.5m1.5 0h1.5m-23.5 1h1.5m1.5 0h1.5m.5 0h1.5m.5 0h1.5m-.5 0h1.5m-.5 0h1.5m-.5 0h1.5m-.5 0h1.5m.5 0h1.5m-.5 0h1.5m.5 0h1.5m-.5 0h1.5m.5 0h1.5m.5 0h1.5m-22.5 1h1.5m1.5 0h1.5m.5 0h1.5m.5 0h1.5m.5 0h1.5m-.5 0h1.5m-.5 0h1.5m.5 0h1.5m.5 0h1.5m-.5 0h1.5m-.5 0h1.5m2.5 0h1.5m-.5 0h1.5m1.5 0h1.5m-29.5 1h1.5m3.5 0h1.5m1.5 0h1.5m2.5 0h1.5m.5 0h1.5m.5 0h1.5m-.5 0h1.5m-.5 0h1.5m-.5 0h1.5m-.5 0h1.5m-.5 0h1.5m-.5 0h1.5m-.5 0h1.5m1.5 0h1.5m-23.5 1h1.5m.5 0h1.5m2.5 0h1.5m.5 0h1.5m-.5 0h1.5m-.5 0h1.5m-.5 0h1.5m.5 0h1.5m-.5 0h1.5m-.5 0h1.5m-.5 0h1.5m-.5 0h1.5m-.5 0h1.5m-.5 0h1.5m1.5 0h1.5m-26.5 1h1.5m1.5 0h1.5m.5 0h1.5m2.5 0h1.5m.5 0h1.5m-.5 0h1.5m.5 0h1.5m-.5 0h1.5m-.5 0h1.5m-.5 0h1.5m-.5 0h1.5m-.5 0h1.5m1.5 0h1.5m-.5 0h1.5m.5 0h1.5m-.5 0h1.5m.5 0h1.5m-26.5 1h1.5m3.5 0h1.5m-.5 0h1.5m.5 0h1.5m-.5 0h1.5m-.5 0h1.5m.5 0h1.5m-.5 0h1.5m-.5 0h1.5m-.5 0h1.5m-.5 0h1.5m-.5 0h1.5m.5 0h1.5m-.5 0h1.5m-.5 0h1.5m-.5 0h1.5m-.5 0h1.5m-26.5 1h1.5m-.5 0h1.5m-.5 0h1.5m-.5 0h1.5m.5 0h1.5m-.5 0h1.5m1.5 0h1.5m5.5 0h1.5m-.5 0h1.5m-.5 0h1.5m2.5 0h1.5m.5 0h1.5m-27.5 1h1.5m-.5 0h1.5m2.5 0h1.5m3.5 0h1.5m1.5 0h1.5m1.5 0h1.5m-.5 0h1.5m1.5 0h1.5m.5 0h1.5m-.5 0h1.5m-20.5 1h1.5m-.5 0h1.5m-.5 0h1.5m2.5 0h1.5m2.5 0h1.5m2.5 0h1.5m-.5 0h1.5m-.5 0h1.5m-.5 0h1.5m-.5 0h1.5m1.5 0h1.5m1.5 0h1.5m-28.5 1h1.5m.5 0h1.5m-.5 0h1.5m1.5 0h1.5m-.5 0h1.5m.5 0h1.5m2.5 0h1.5m-.5 0h1.5m-.5 0h1.5m2.5 0h1.5m.5 0h1.5m-.5 0h1.5m.5 0h1.5m-24.5 1h1.5m-.5 0h1.5m.5 0h1.5m.5 0h1.5m.5 0h1.5m.5 0h1.5m-.5 0h1.5m3.5 0h1.5m4.5 0h1.5m-22.5 1h1.5m-.5 0h1.5m-.5 0h1.5m-.5 0h1.5m3.5 0h1.5m-.5 0h1.5m2.5 0h1.5m-.5 0h1.5m1.5 0h1.5m1.5 0h1.5m-23.5 1h1.5m-.5 0h1.5m.5 0h1.5m-.5 0h1.5m-.5 0h1.5m-.5 0h1.5m-.5 0h1.5m-.5 0h1.5m-.5 0h1.5m.5 0h1.5m1.5 0h1.5m.5 0h1.5m.5 0h1.5m-.5 0h1.5m.5 0h1.5m-22.5 1h1.5m1.5 0h1.5m.5 0h1.5m-.5 0h1.5m-.5 0h1.5m1.5 0h1.5m7.5 0h1.5m.5 0h1.5m-24.5 1h1.5m-.5 0h1.5m.5 0h1.5m1.5 0h1.5m3.5 0h1.5m1.5 0h1.5m.5 0h1.5m.5 0h1.5m.5 0h1.5m-19.5 1h1.5m2.5 0h1.5m.5 0h1.5m.5 0h1.5m-.5 0h1.5m2.5 0h1.5m.5 0h1.5m-.5 0h1.5m-12.5 1h1.5m-.5 0h1.5m-.5 0h1.5m4.5 0h1.5m-.5 0h1.5m3.5 0h1.5m-17.5 1h1.5m.5 0h1.5m-.5 0h1.5m2.5 0h1.5m-8.5 1h1.5m5.5 0h1.5m2.5 0h1.5m.5 0h1.5m-17.5 1h1.5m7.5 0h1.5m.5 0h1.5m-.5 0h1.5m-5.5 1h1.5m9.5 0h1.5m-10.5 1h1.5m-6.5 1h1.5m-1.5 1h1.5m.5 0h1.5" stroke="#30E080" stroke-width="1.5"/>
<path d="M1580 738h1.5m2.5 7h1.5m-4.5 2h1.5m-.5 0h1.5m3.5 0h1.5m-18.5 2h1.5m4.5 0h1.5m6.5 0h1.5m-.5 0h1.5m.5 0h1.5m-8.5 1h1.5m6.5 0h1.5m-.5 1h1.5m-17.5 1h1.5m8.5 0h1.5m3.5 1h1.5m-19.5 3h1.5m9.5 1h1.5m-6.5 2h1.5" stroke="#60F000" stroke-width="1.5"/>
<ellipse cx="1441.6" cy="784" rx="3.7" ry="30" fill="#30E0D0"/>
<ellipse cx="1441.6" cy="784" rx="3.4" ry="26.5" fill="#40F040"/>
<ellipse cx="1441.6" cy="785" rx="2.4" ry="15" fill="#90F020"/>
<ellipse cx="1441.6" cy="785.5" rx="1.6" ry="9" fill="#E8F000"/>
<ellipse cx="1441.6" cy="786" rx="1.2" ry="6" fill="#FF9000"/>
<ellipse cx="1441.6" cy="786.5" rx="0.9" ry="4.5" fill="#E02000"/>
<rect x="1371.6" y="557.5" width="309.7" height="309.2" fill="none" stroke="#000" stroke-width="1.6"/>
<rect x="1531.4" y="578.3" width="119.6" height="266.6" fill="none" stroke="#000" stroke-width="1.9"/>
<polyline points="1466.1,601.2 1543.9,598.3 1604.5,611.3 1646.3,623.8 1634.2,655.2 1598.2,679.2 1560.6,705.3 1529.5,721.2 1486.7,720.4 1426,724.3 1424.7,660.4 1440.4,608.1 1441.4,602.9" fill="none" stroke="#000" stroke-width="2.2" stroke-linejoin="round"/>
<line x1="1441.4" y1="602.9" x2="1466.1" y2="601.2" stroke="#BBBBBB" stroke-width="2"/>
<path d="M1389.8 866.7v7.5M1492.1 866.7v7.5M1576.7 866.7v7.5M1650.6 866.7v7.5M1439.7 866.7v4M1453.5 866.7v4M1432.1 866.7v4M1459.4 866.7v4M1425 866.7v4M1464.9 866.7v4M1418.5 866.7v4M1469.9 866.7v4M1412.5 866.7v4M1474.5 866.7v4M1407.1 866.7v4M1478.7 866.7v4M1402.2 866.7v4M1482.5 866.7v4M1397.7 866.7v4M1486 866.7v4M1393.6 866.7v4M1489.2 866.7v4M1516.6 866.7v4M1531.5 866.7v4M1542.3 866.7v4M1550.6 866.7v4M1557.5 866.7v4M1563.3 866.7v4M1568.3 866.7v4M1572.7 866.7v4M1598.9 866.7v4M1612 866.7v4M1621.2 866.7v4M1628.4 866.7v4M1634.2 866.7v4M1639.2 866.7v4M1643.4 866.7v4M1647.2 866.7v4M1672.9 866.7v4" fill="none" stroke="#000" stroke-width="1.3"/>
<rect x="1435.5" y="867.7" width="11" height="5" fill="#000" stroke="none" stroke-width="0"/>
<text x="1389.3" y="892.5" font-size="10.5">-10<tspan font-size="7.6" dy="-5.8">3</tspan></text>
<text x="1491.3" y="892.5" font-size="10.5">10<tspan font-size="7.6" dy="-5.8">3</tspan></text>
<text x="1575.9" y="892.5" font-size="10.5">10<tspan font-size="7.6" dy="-5.8">4</tspan></text>
<text x="1649.8" y="892.5" font-size="10.5">10<tspan font-size="7.6" dy="-5.8">5</tspan></text>
<text x="1444.6" y="892.5" font-size="10.50">0</text>
<path d="M1371.6 844h-7.5M1371.6 742.5h-7.5M1371.6 658.1h-7.5M1371.6 584.3h-7.5M1371.6 800.3h-4M1371.6 786.5h-4M1371.6 806.9h-4M1371.6 779.8h-4M1371.6 813.1h-4M1371.6 773.6h-4M1371.6 818.8h-4M1371.6 767.8h-4M1371.6 824.1h-4M1371.6 762.5h-4M1371.6 828.8h-4M1371.6 757.8h-4M1371.6 833.1h-4M1371.6 753.4h-4M1371.6 837.1h-4M1371.6 749.5h-4M1371.6 840.7h-4M1371.6 745.8h-4M1371.6 718.1h-4M1371.6 703.2h-4M1371.6 692.5h-4M1371.6 684.1h-4M1371.6 677.3h-4M1371.6 671.5h-4M1371.6 666.5h-4M1371.6 662.1h-4M1371.6 635.9h-4M1371.6 622.9h-4M1371.6 613.7h-4M1371.6 606.5h-4M1371.6 600.7h-4M1371.6 595.7h-4M1371.6 591.5h-4M1371.6 587.7h-4M1371.6 562.1h-4" fill="none" stroke="#000" stroke-width="1.3"/>
<rect x="1364.6" y="789.4" width="6" height="11" fill="#000" stroke="none" stroke-width="0"/>
<text x="1339" y="851.1" font-size="10.5">-10<tspan font-size="7.6" dy="-5.8">3</tspan></text>
<text x="1342.5" y="749.6" font-size="10.5">10<tspan font-size="7.6" dy="-5.8">3</tspan></text>
<text x="1342.5" y="665.3" font-size="10.5">10<tspan font-size="7.6" dy="-5.8">4</tspan></text>
<text x="1342.5" y="591.4" font-size="10.5">10<tspan font-size="7.6" dy="-5.8">5</tspan></text>
<text x="1350.6" y="798.6" font-size="10.50">0</text>
<path d="M1921 603h1.5m-18.5 4h1.5m28.5 1h1.5m-41.5 2h1.5m69.5 2h1.5m-51.5 7h1.5m75.5 10h1.5m-51.5 2h1.5m-70.5 7h1.5m32.5 2h1.5m42.5 0h1.5m-64.5 1h1.5m10.5 0h1.5m49.5 2h1.5m14.5 3h1.5m16.5 1h1.5m-32.5 2h1.5m36.5 0h1.5m-116.5 5h1.5m115.5 2h1.5m-127.5 1h1.5m121.5 0h1.5m-7.5 1h1.5m-8.5 1h1.5m-70.5 1h1.5m12.5 1h1.5m21.5 0h1.5m-37.5 1h1.5m32.5 1h1.5m26.5 0h1.5m-152.5 1h1.5m167.5 0h1.5m-23.5 1h1.5m7.5 0h1.5m-31.5 1h1.5m-4.5 1h1.5m22.5 0h1.5m-3.5 2h1.5m2.5 0h1.5m-30.5 1h1.5m-.5 0h1.5m12.5 0h1.5m19.5 0h1.5m10.5 0h1.5m-12.5 1h1.5m-26.5 1h1.5m.5 0h1.5m2.5 0h1.5m9.5 0h1.5m-.5 0h1.5m-38.5 1h1.5m20.5 0h1.5m-14.5 1h1.5m7.5 0h1.5m27.5 0h1.5m-7.5 1h1.5m-.5 0h1.5m9.5 0h1.5m-151.5 1h1.5m106.5 0h1.5m37.5 0h1.5m-28.5 2h1.5m-83.5 1h1.5m64.5 0h1.5m19.5 0h1.5m-152.5 1h1.5m137.5 0h1.5m15.5 0h1.5m.5 0h1.5m-53.5 1h1.5m23.5 0h1.5m12.5 0h1.5m8.5 0h1.5m-.5 0h1.5m14.5 0h1.5m-172.5 1h1.5m2.5 0h1.5m127.5 0h1.5m21.5 0h1.5m4.5 0h1.5m8.5 0h1.5m.5 0h1.5m-175.5 1h1.5m-.5 0h1.5m50.5 0h1.5m70.5 0h1.5m8.5 0h1.5m2.5 0h1.5m-138.5 1h1.5m137.5 0h1.5m29.5 0h1.5m-173.5 1h1.5m-.5 0h1.5m.5 0h1.5m114.5 0h1.5m40.5 0h1.5m1.5 0h1.5m.5 0h1.5m-47.5 1h1.5m13.5 0h1.5m1.5 0h1.5m-.5 0h1.5m14.5 0h1.5m-155.5 1h1.5m.5 0h1.5m135.5 0h1.5m7.5 0h1.5m.5 0h1.5m8.5 0h1.5m.5 0h1.5m-.5 0h1.5m.5 0h1.5m8.5 0h1.5m-177.5 1h1.5m1.5 0h1.5m-.5 0h1.5m120.5 0h1.5m11.5 0h1.5m15.5 0h1.5m-154.5 1h1.5m55.5 0h1.5m64.5 0h1.5m.5 0h1.5m1.5 0h1.5m2.5 0h1.5m9.5 0h1.5m1.5 0h1.5m-.5 0h1.5m10.5 0h1.5m1.5 0h1.5m9.5 0h1.5m-176.5 1h1.5m127.5 0h1.5m5.5 0h1.5m2.5 0h1.5m24.5 0h1.5m21.5 0h1.5m-189.5 1h1.5m110.5 0h1.5m8.5 0h1.5m5.5 0h1.5m2.5 0h1.5m12.5 0h1.5m10.5 0h1.5m2.5 0h1.5m-.5 0h1.5m-166.5 1h1.5m2.5 0h1.5m79.5 0h1.5m25.5 0h1.5m-.5 0h1.5m19.5 0h1.5m2.5 0h1.5m-.5 0h1.5m8.5 0h1.5m-.5 0h1.5m4.5 0h1.5m-.5 0h1.5m.5 0h1.5m.5 0h1.5m2.5 0h1.5m.5 0h1.5m-.5 0h1.5m3.5 0h1.5m-176.5 1h1.5m-.5 0h1.5m114.5 0h1.5m13.5 0h1.5m4.5 0h1.5m10.5 0h1.5m10.5 0h1.5m-158.5 1h1.5m116.5 0h1.5m6.5 0h1.5m2.5 0h1.5m-.5 0h1.5m4.5 0h1.5m2.5 0h1.5m.5 0h1.5m-.5 0h1.5m6.5 0h1.5m-.5 0h1.5m2.5 0h1.5m-162.5 1h1.5m1.5 0h1.5m-.5 0h1.5m124.5 0h1.5m2.5 0h1.5m4.5 0h1.5m2.5 0h1.5m-.5 0h1.5m4.5 0h1.5m-.5 0h1.5m2.5 0h1.5m10.5 0h1.5m-168.5 1h1.5m89.5 0h1.5m17.5 0h1.5m21.5 0h1.5m.5 0h1.5m3.5 0h1.5m-.5 0h1.5m6.5 0h1.5m1.5 0h1.5m-.5 0h1.5m7.5 0h1.5m1.5 0h1.5m-166.5 1h1.5m.5 0h1.5m-.5 0h1.5m116.5 0h1.5m.5 0h1.5m9.5 0h1.5m1.5 0h1.5m2.5 0h1.5m.5 0h1.5m-.5 0h1.5m10.5 0h1.5m.5 0h1.5m1.5 0h1.5m.5 0h1.5m-67.5 1h1.5m8.5 0h1.5m-.5 0h1.5m22.5 0h1.5m2.5 0h1.5m-.5 0h1.5m4.5 0h1.5m3.5 0h1.5m1.5 0h1.5m2.5 0h1.5m-.5 0h1.5m11.5 0h1.5m-170.5 1h1.5m99.5 0h1.5m3.5 0h1.5m15.5 0h1.5m11.5 0h1.5m13.5 0h1.5m5.5 0h1.5m1.5 0h1.5m9.5 0h1.5m-173.5 1h1.5m-.5 0h1.5m72.5 0h1.5m4.5 0h1.5m27.5 0h1.5m1.5 0h1.5m11.5 0h1.5m2.5 0h1.5m4.5 0h1.5m1.5 0h1.5m.5 0h1.5m3.5 0h1.5m1.5 0h1.5m2.5 0h1.5m1.5 0h1.5m20.5 0h1.5m-177.5 1h1.5m108.5 0h1.5m-.5 0h1.5m3.5 0h1.5m8.5 0h1.5m1.5 0h1.5m4.5 0h1.5m1.5 0h1.5m-.5 0h1.5m1.5 0h1.5m1.5 0h1.5m1.5 0h1.5m-.5 0h1.5m1.5 0h1.5m-.5 0h1.5m-.5 0h1.5m-158.5 1h1.5m-.5 0h1.5m114.5 0h1.5m-.5 0h1.5m.5 0h1.5m7.5 0h1.5m2.5 0h1.5m2.5 0h1.5m-.5 0h1.5m-.5 0h1.5m9.5 0h1.5m3.5 0h1.5m4.5 0h1.5m9.5 0h1.5m30.5 0h1.5m-92.5 1h1.5m-.5 0h1.5m10.5 0h1.5m-.5 0h1.5m12.5 0h1.5m.5 0h1.5m.5 0h1.5m-.5 0h1.5m1.5 0h1.5m-.5 0h1.5m.5 0h1.5m5.5 0h1.5m-158.5 1h1.5m1.5 0h1.5m118.5 0h1.5m.5 0h1.5m4.5 0h1.5m9.5 0h1.5m5.5 0h1.5m28.5 0h1.5m-181.5 1h1.5m-.5 0h1.5m97.5 0h1.5m2.5 0h1.5m18.5 0h1.5m1.5 0h1.5m7.5 0h1.5m1.5 0h1.5m2.5 0h1.5m-.5 0h1.5m-.5 0h1.5m-.5 0h1.5m1.5 0h1.5m-.5 0h1.5m4.5 0h1.5m-.5 0h1.5m-.5 0h1.5m9.5 0h1.5m1.5 0h1.5m-172.5 1h1.5m-.5 0h1.5m.5 0h1.5m91.5 0h1.5m31.5 0h1.5m7.5 0h1.5m.5 0h1.5m.5 0h1.5m-.5 0h1.5m-.5 0h1.5m.5 0h1.5m-.5 0h1.5m1.5 0h1.5m4.5 0h1.5m2.5 0h1.5m3.5 0h1.5m7.5 0h1.5m22.5 0h1.5m-200.5 1h1.5m1.5 0h1.5m122.5 0h1.5m2.5 0h1.5m2.5 0h1.5m1.5 0h1.5m8.5 0h1.5m4.5 0h1.5m3.5 0h1.5m-.5 0h1.5m20.5 0h1.5m-167.5 1h1.5m97.5 0h1.5m4.5 0h1.5m3.5 0h1.5m-.5 0h1.5m6.5 0h1.5m.5 0h1.5m.5 0h1.5m2.5 0h1.5m1.5 0h1.5m8.5 0h1.5m-.5 0h1.5m-156.5 1h1.5m84.5 0h1.5m7.5 0h1.5m2.5 0h1.5m3.5 0h1.5m2.5 0h1.5m10.5 0h1.5m2.5 0h1.5m9.5 0h1.5m1.5 0h1.5m.5 0h1.5m4.5 0h1.5m6.5 0h1.5m.5 0h1.5m3.5 0h1.5m1.5 0h1.5m-.5 0h1.5m1.5 0h1.5m2.5 0h1.5m.5 0h1.5m-178.5 1h1.5m-.5 0h1.5m2.5 0h1.5m98.5 0h1.5m7.5 0h1.5m.5 0h1.5m3.5 0h1.5m4.5 0h1.5m2.5 0h1.5m6.5 0h1.5m2.5 0h1.5m5.5 0h1.5m4.5 0h1.5m4.5 0h1.5m1.5 0h1.5m8.5 0h1.5m-.5 0h1.5m-174.5 1h1.5m99.5 0h1.5m2.5 0h1.5m1.5 0h1.5m2.5 0h1.5m11.5 0h1.5m-.5 0h1.5m1.5 0h1.5m.5 0h1.5m2.5 0h1.5m.5 0h1.5m1.5 0h1.5m-.5 0h1.5m4.5 0h1.5m.5 0h1.5m-.5 0h1.5m-.5 0h1.5m4.5 0h1.5m-.5 0h1.5m21.5 0h1.5m-185.5 1h1.5m29.5 0h1.5m53.5 0h1.5m8.5 0h1.5m2.5 0h1.5m7.5 0h1.5m1.5 0h1.5m-.5 0h1.5m4.5 0h1.5m4.5 0h1.5m2.5 0h1.5m.5 0h1.5m.5 0h1.5m.5 0h1.5m.5 0h1.5m1.5 0h1.5m-.5 0h1.5m-.5 0h1.5m2.5 0h1.5m2.5 0h1.5m.5 0h1.5m4.5 0h1.5m4.5 0h1.5m-.5 0h1.5m-164.5 1h1.5m40.5 0h1.5m50.5 0h1.5m5.5 0h1.5m6.5 0h1.5m-.5 0h1.5m3.5 0h1.5m6.5 0h1.5m4.5 0h1.5m2.5 0h1.5m-.5 0h1.5m1.5 0h1.5m-.5 0h1.5m-.5 0h1.5m-.5 0h1.5m.5 0h1.5m1.5 0h1.5m2.5 0h1.5m.5 0h1.5m1.5 0h1.5m1.5 0h1.5m-.5 0h1.5m9.5 0h1.5m4.5 0h1.5m-179.5 1h1.5m119.5 0h1.5m-.5 0h1.5m-.5 0h1.5m1.5 0h1.5m.5 0h1.5m-.5 0h1.5m-.5 0h1.5m4.5 0h1.5m-.5 0h1.5m3.5 0h1.5m.5 0h1.5m-.5 0h1.5m-.5 0h1.5m1.5 0h1.5m1.5 0h1.5m.5 0h1.5m10.5 0h1.5m-49.5 1h1.5m8.5 0h1.5m.5 0h1.5m2.5 0h1.5m-.5 0h1.5m-.5 0h1.5m-.5 0h1.5m.5 0h1.5m-.5 0h1.5m2.5 0h1.5m-.5 0h1.5m-.5 0h1.5m-.5 0h1.5m-.5 0h1.5m4.5 0h1.5m5.5 0h1.5m3.5 0h1.5m6.5 0h1.5m1.5 0h1.5m-178.5 1h1.5m2.5 0h1.5m72.5 0h1.5m32.5 0h1.5m-.5 0h1.5m-.5 0h1.5m-.5 0h1.5m5.5 0h1.5m6.5 0h1.5m-.5 0h1.5m-.5 0h1.5m1.5 0h1.5m.5 0h1.5m.5 0h1.5m2.5 0h1.5m1.5 0h1.5m1.5 0h1.5m1.5 0h1.5m2.5 0h1.5m-.5 0h1.5m3.5 0h1.5m3.5 0h1.5m-164.5 1h1.5m93.5 0h1.5m4.5 0h1.5m.5 0h1.5m1.5 0h1.5m10.5 0h1.5m.5 0h1.5m3.5 0h1.5m-.5 0h1.5m-.5 0h1.5m.5 0h1.5m.5 0h1.5m1.5 0h1.5m2.5 0h1.5m-.5 0h1.5m.5 0h1.5m6.5 0h1.5m-.5 0h1.5m-.5 0h1.5m.5 0h1.5m.5 0h1.5m1.5 0h1.5m5.5 0h1.5m3.5 0h1.5m-159.5 1h1.5m71.5 0h1.5m7.5 0h1.5m14.5 0h1.5m.5 0h1.5m.5 0h1.5m-.5 0h1.5m-.5 0h1.5m1.5 0h1.5m-.5 0h1.5m3.5 0h1.5m.5 0h1.5m-.5 0h1.5m-.5 0h1.5m.5 0h1.5m-.5 0h1.5m.5 0h1.5m3.5 0h1.5m.5 0h1.5m.5 0h1.5m-.5 0h1.5m3.5 0h1.5m.5 0h1.5m-.5 0h1.5m2.5 0h1.5m1.5 0h1.5m1.5 0h1.5m.5 0h1.5m4.5 0h1.5m-172.5 1h1.5m15.5 0h1.5m51.5 0h1.5m36.5 0h1.5m-.5 0h1.5m2.5 0h1.5m-.5 0h1.5m-.5 0h1.5m-.5 0h1.5m1.5 0h1.5m1.5 0h1.5m-.5 0h1.5m-.5 0h1.5m2.5 0h1.5m.5 0h1.5m-.5 0h1.5m-.5 0h1.5m.5 0h1.5m-.5 0h1.5m2.5 0h1.5m-.5 0h1.5m-.5 0h1.5m.5 0h1.5m2.5 0h1.5m1.5 0h1.5m1.5 0h1.5m-.5 0h1.5m-.5 0h1.5m-.5 0h1.5m2.5 0h1.5m-58.5 1h1.5m3.5 0h1.5m6.5 0h1.5m1.5 0h1.5m-.5 0h1.5m-.5 0h1.5m3.5 0h1.5m-.5 0h1.5m-.5 0h1.5m.5 0h1.5m.5 0h1.5m-.5 0h1.5m2.5 0h1.5m2.5 0h1.5m3.5 0h1.5m5.5 0h1.5m5.5 0h1.5m-.5 0h1.5m4.5 0h1.5m3.5 0h1.5m2.5 0h1.5m-.5 0h1.5m-175.5 1h1.5m16.5 0h1.5m37.5 0h1.5m14.5 0h1.5m15.5 0h1.5m9.5 0h1.5m1.5 0h1.5m11.5 0h1.5m2.5 0h1.5m-.5 0h1.5m5.5 0h1.5m-.5 0h1.5m-.5 0h1.5m-.5 0h1.5m2.5 0h1.5m1.5 0h1.5m-.5 0h1.5m-.5 0h1.5m.5 0h1.5m.5 0h1.5m.5 0h1.5m4.5 0h1.5m5.5 0h1.5m10.5 0h1.5m-176.5 1h1.5m-.5 0h1.5m.5 0h1.5m5.5 0h1.5m91.5 0h1.5m3.5 0h1.5m1.5 0h1.5m-.5 0h1.5m-.5 0h1.5m-.5 0h1.5m-.5 0h1.5m-.5 0h1.5m1.5 0h1.5m2.5 0h1.5m2.5 0h1.5m4.5 0h1.5m.5 0h1.5m.5 0h1.5m-.5 0h1.5m-.5 0h1.5m-.5 0h1.5m1.5 0h1.5m-.5 0h1.5m-.5 0h1.5m8.5 0h1.5m1.5 0h1.5m-.5 0h1.5m-.5 0h1.5m-.5 0h1.5m1.5 0h1.5m3.5 0h1.5m-.5 0h1.5m-174.5 1h1.5m9.5 0h1.5m6.5 0h1.5m62.5 0h1.5m23.5 0h1.5m4.5 0h1.5m8.5 0h1.5m-.5 0h1.5m3.5 0h1.5m-.5 0h1.5m-.5 0h1.5m2.5 0h1.5m-.5 0h1.5m-.5 0h1.5m-.5 0h1.5m1.5 0h1.5m.5 0h1.5m-.5 0h1.5m-.5 0h1.5m-.5 0h1.5m-.5 0h1.5m-.5 0h1.5m-.5 0h1.5m5.5 0h1.5m-.5 0h1.5m4.5 0h1.5m1.5 0h1.5m2.5 0h1.5m-171.5 1h1.5m.5 0h1.5m68.5 0h1.5m11.5 0h1.5m4.5 0h1.5m6.5 0h1.5m5.5 0h1.5m10.5 0h1.5m.5 0h1.5m-.5 0h1.5m-.5 0h1.5m-.5 0h1.5m2.5 0h1.5m-.5 0h1.5m1.5 0h1.5m-.5 0h1.5m.5 0h1.5m.5 0h1.5m-.5 0h1.5m-.5 0h1.5m-.5 0h1.5m.5 0h1.5m-.5 0h1.5m3.5 0h1.5m-.5 0h1.5m.5 0h1.5m-.5 0h1.5m.5 0h1.5m-.5 0h1.5m-.5 0h1.5m1.5 0h1.5m.5 0h1.5m-.5 0h1.5m.5 0h1.5m-.5 0h1.5m3.5 0h1.5m.5 0h1.5m-172.5 1h1.5m-.5 0h1.5m-.5 0h1.5m22.5 0h1.5m35.5 0h1.5m4.5 0h1.5m33.5 0h1.5m7.5 0h1.5m1.5 0h1.5m-.5 0h1.5m2.5 0h1.5m-.5 0h1.5m.5 0h1.5m-.5 0h1.5m1.5 0h1.5m-.5 0h1.5m1.5 0h1.5m1.5 0h1.5m8.5 0h1.5m2.5 0h1.5m.5 0h1.5m-.5 0h1.5m.5 0h1.5m-.5 0h1.5m-.5 0h1.5m-.5 0h1.5m1.5 0h1.5m-.5 0h1.5m3.5 0h1.5m1.5 0h1.5m2.5 0h1.5m9.5 0h1.5m-187.5 1h1.5m3.5 0h1.5m95.5 0h1.5m-.5 0h1.5m.5 0h1.5m-.5 0h1.5m5.5 0h1.5m2.5 0h1.5m-.5 0h1.5m-.5 0h1.5m-.5 0h1.5m-.5 0h1.5m.5 0h1.5m-.5 0h1.5m-.5 0h1.5m.5 0h1.5m.5 0h1.5m-.5 0h1.5m-.5 0h1.5m2.5 0h1.5m-.5 0h1.5m1.5 0h1.5m1.5 0h1.5m.5 0h1.5m2.5 0h1.5m-.5 0h1.5m-.5 0h1.5m.5 0h1.5m.5 0h1.5m2.5 0h1.5m-.5 0h1.5m-.5 0h1.5m-.5 0h1.5m1.5 0h1.5m9.5 0h1.5m-173.5 1h1.5m.5 0h1.5m52.5 0h1.5m20.5 0h1.5m-.5 0h1.5m24.5 0h1.5m.5 0h1.5m4.5 0h1.5m.5 0h1.5m-.5 0h1.5m1.5 0h1.5m-.5 0h1.5m.5 0h1.5m-.5 0h1.5m.5 0h1.5m2.5 0h1.5m1.5 0h1.5m-.5 0h1.5m2.5 0h1.5m.5 0h1.5m-.5 0h1.5m-.5 0h1.5m2.5 0h1.5m-.5 0h1.5m.5 0h1.5m-.5 0h1.5m.5 0h1.5m.5 0h1.5m3.5 0h1.5m-.5 0h1.5m-.5 0h1.5m1.5 0h1.5m-.5 0h1.5m3.5 0h1.5m1.5 0h1.5m1.5 0h1.5m1.5 0h1.5m-177.5 1h1.5m84.5 0h1.5m1.5 0h1.5m6.5 0h1.5m1.5 0h1.5m-.5 0h1.5m5.5 0h1.5m-.5 0h1.5m-.5 0h1.5m7.5 0h1.5m-.5 0h1.5m-.5 0h1.5m-.5 0h1.5m.5 0h1.5m.5 0h1.5m3.5 0h1.5m.5 0h1.5m2.5 0h1.5m-.5 0h1.5m-.5 0h1.5m.5 0h1.5m-.5 0h1.5m-.5 0h1.5m.5 0h1.5m.5 0h1.5m.5 0h1.5m-.5 0h1.5m-.5 0h1.5m-152.5 1h1.5m53.5 0h1.5m34.5 0h1.5m-.5 0h1.5m1.5 0h1.5m3.5 0h1.5m4.5 0h1.5m2.5 0h1.5m-.5 0h1.5m1.5 0h1.5m.5 0h1.5m-.5 0h1.5m.5 0h1.5m2.5 0h1.5m-.5 0h1.5m.5 0h1.5m1.5 0h1.5m-.5 0h1.5m-.5 0h1.5m-.5 0h1.5m-.5 0h1.5m-.5 0h1.5m6.5 0h1.5m.5 0h1.5m.5 0h1.5m1.5 0h1.5m.5 0h1.5m-.5 0h1.5m.5 0h1.5m.5 0h1.5m-.5 0h1.5m6.5 0h1.5m3.5 0h1.5m-175.5 1h1.5m5.5 0h1.5m16.5 0h1.5m74.5 0h1.5m4.5 0h1.5m-.5 0h1.5m1.5 0h1.5m-.5 0h1.5m4.5 0h1.5m-.5 0h1.5m3.5 0h1.5m-.5 0h1.5m.5 0h1.5m.5 0h1.5m-.5 0h1.5m2.5 0h1.5m-.5 0h1.5m-.5 0h1.5m-.5 0h1.5m1.5 0h1.5m-.5 0h1.5m.5 0h1.5m2.5 0h1.5m-.5 0h1.5m-.5 0h1.5m1.5 0h1.5m-.5 0h1.5m1.5 0h1.5m.5 0h1.5m2.5 0h1.5m-.5 0h1.5m-.5 0h1.5m1.5 0h1.5m2.5 0h1.5m.5 0h1.5m-171.5 1h1.5m2.5 0h1.5m35.5 0h1.5m60.5 0h1.5m2.5 0h1.5m1.5 0h1.5m.5 0h1.5m-.5 0h1.5m-.5 0h1.5m6.5 0h1.5m.5 0h1.5m4.5 0h1.5m.5 0h1.5m.5 0h1.5m-.5 0h1.5m-.5 0h1.5m-.5 0h1.5m6.5 0h1.5m-.5 0h1.5m-.5 0h1.5m.5 0h1.5m.5 0h1.5m-.5 0h1.5m3.5 0h1.5m2.5 0h1.5m-.5 0h1.5m.5 0h1.5m-154.5 1h1.5m13.5 0h1.5m52.5 0h1.5m1.5 0h1.5m17.5 0h1.5m1.5 0h1.5m10.5 0h1.5m-.5 0h1.5m-.5 0h1.5m4.5 0h1.5m1.5 0h1.5m.5 0h1.5m-.5 0h1.5m1.5 0h1.5m1.5 0h1.5m-.5 0h1.5m-.5 0h1.5m-.5 0h1.5m.5 0h1.5m1.5 0h1.5m4.5 0h1.5m-.5 0h1.5m-.5 0h1.5m2.5 0h1.5m.5 0h1.5m1.5 0h1.5m6.5 0h1.5m-170.5 1h1.5m.5 0h1.5m31.5 0h1.5m1.5 0h1.5m4.5 0h1.5m3.5 0h1.5m37.5 0h1.5m6.5 0h1.5m4.5 0h1.5m2.5 0h1.5m2.5 0h1.5m1.5 0h1.5m.5 0h1.5m.5 0h1.5m-.5 0h1.5m.5 0h1.5m.5 0h1.5m1.5 0h1.5m-.5 0h1.5m-.5 0h1.5m-.5 0h1.5m7.5 0h1.5m-.5 0h1.5m-.5 0h1.5m3.5 0h1.5m.5 0h1.5m.5 0h1.5m1.5 0h1.5m-.5 0h1.5m-.5 0h1.5m.5 0h1.5m2.5 0h1.5m1.5 0h1.5m7.5 0h1.5m1.5 0h1.5m2.5 0h1.5m-181.5 1h1.5m-.5 0h1.5m16.5 0h1.5m24.5 0h1.5m14.5 0h1.5m16.5 0h1.5m13.5 0h1.5m1.5 0h1.5m8.5 0h1.5m1.5 0h1.5m-.5 0h1.5m.5 0h1.5m.5 0h1.5m-.5 0h1.5m.5 0h1.5m.5 0h1.5m.5 0h1.5m-.5 0h1.5m5.5 0h1.5m-.5 0h1.5m1.5 0h1.5m.5 0h1.5m-.5 0h1.5m1.5 0h1.5m-.5 0h1.5m.5 0h1.5m.5 0h1.5m3.5 0h1.5m.5 0h1.5m-.5 0h1.5m-.5 0h1.5m1.5 0h1.5m1.5 0h1.5m-165.5 1h1.5m3.5 0h1.5m-.5 0h1.5m.5 0h1.5m1.5 0h1.5m69.5 0h1.5m13.5 0h1.5m10.5 0h1.5m1.5 0h1.5m3.5 0h1.5m-.5 0h1.5m1.5 0h1.5m.5 0h1.5m.5 0h1.5m.5 0h1.5m.5 0h1.5m.5 0h1.5m-.5 0h1.5m-.5 0h1.5m-.5 0h1.5m-.5 0h1.5m.5 0h1.5m-.5 0h1.5m3.5 0h1.5m2.5 0h1.5m-.5 0h1.5m.5 0h1.5m-.5 0h1.5m-.5 0h1.5m1.5 0h1.5m-.5 0h1.5m-.5 0h1.5m-.5 0h1.5m1.5 0h1.5m2.5 0h1.5m1.5 0h1.5m-.5 0h1.5m.5 0h1.5m-169.5 1h1.5m-.5 0h1.5m-.5 0h1.5m-.5 0h1.5m37.5 0h1.5m8.5 0h1.5m19.5 0h1.5m18.5 0h1.5m.5 0h1.5m-.5 0h1.5m8.5 0h1.5m.5 0h1.5m-.5 0h1.5m3.5 0h1.5m.5 0h1.5m-.5 0h1.5m5.5 0h1.5m3.5 0h1.5m3.5 0h1.5m-.5 0h1.5m-.5 0h1.5m2.5 0h1.5m.5 0h1.5m1.5 0h1.5m1.5 0h1.5m-.5 0h1.5m6.5 0h1.5m2.5 0h1.5m.5 0h1.5m2.5 0h1.5m2.5 0h1.5m-171.5 1h1.5m-.5 0h1.5m-.5 0h1.5m13.5 0h1.5m67.5 0h1.5m2.5 0h1.5m1.5 0h1.5m6.5 0h1.5m1.5 0h1.5m-.5 0h1.5m-.5 0h1.5m1.5 0h1.5m1.5 0h1.5m-.5 0h1.5m-.5 0h1.5m4.5 0h1.5m-.5 0h1.5m-.5 0h1.5m-.5 0h1.5m8.5 0h1.5m-.5 0h1.5m-.5 0h1.5m.5 0h1.5m3.5 0h1.5m-.5 0h1.5m1.5 0h1.5m.5 0h1.5m.5 0h1.5m-.5 0h1.5m.5 0h1.5m1.5 0h1.5m7.5 0h1.5m2.5 0h1.5m-168.5 1h1.5m12.5 0h1.5m8.5 0h1.5m12.5 0h1.5m44.5 0h1.5m6.5 0h1.5m2.5 0h1.5m.5 0h1.5m.5 0h1.5m4.5 0h1.5m-.5 0h1.5m1.5 0h1.5m.5 0h1.5m-.5 0h1.5m-.5 0h1.5m1.5 0h1.5m.5 0h1.5m-.5 0h1.5m1.5 0h1.5m.5 0h1.5m3.5 0h1.5m-.5 0h1.5m1.5 0h1.5m1.5 0h1.5m6.5 0h1.5m-.5 0h1.5m.5 0h1.5m.5 0h1.5m4.5 0h1.5m13.5 0h1.5m-174.5 1h1.5m32.5 0h1.5m7.5 0h1.5m-.5 0h1.5m.5 0h1.5m16.5 0h1.5m23.5 0h1.5m-.5 0h1.5m1.5 0h1.5m11.5 0h1.5m5.5 0h1.5m-.5 0h1.5m.5 0h1.5m-.5 0h1.5m1.5 0h1.5m-.5 0h1.5m1.5 0h1.5m2.5 0h1.5m2.5 0h1.5m3.5 0h1.5m1.5 0h1.5m2.5 0h1.5m-.5 0h1.5m.5 0h1.5m1.5 0h1.5m-.5 0h1.5m.5 0h1.5m-.5 0h1.5m-.5 0h1.5m1.5 0h1.5m-.5 0h1.5m.5 0h1.5m-.5 0h1.5m7.5 0h1.5m-172.5 1h1.5m-.5 0h1.5m-.5 0h1.5m16.5 0h1.5m49.5 0h1.5m12.5 0h1.5m1.5 0h1.5m11.5 0h1.5m1.5 0h1.5m2.5 0h1.5m-.5 0h1.5m.5 0h1.5m.5 0h1.5m2.5 0h1.5m.5 0h1.5m1.5 0h1.5m1.5 0h1.5m.5 0h1.5m-.5 0h1.5m4.5 0h1.5m3.5 0h1.5m-.5 0h1.5m3.5 0h1.5m-.5 0h1.5m1.5 0h1.5m-.5 0h1.5m2.5 0h1.5m.5 0h1.5m-.5 0h1.5m.5 0h1.5m.5 0h1.5m-165.5 1h1.5m67.5 0h1.5m22.5 0h1.5m3.5 0h1.5m6.5 0h1.5m-.5 0h1.5m1.5 0h1.5m1.5 0h1.5m-.5 0h1.5m.5 0h1.5m.5 0h1.5m-.5 0h1.5m-.5 0h1.5m1.5 0h1.5m2.5 0h1.5m.5 0h1.5m-.5 0h1.5m7.5 0h1.5m2.5 0h1.5m6.5 0h1.5m-.5 0h1.5m1.5 0h1.5m-.5 0h1.5m.5 0h1.5m4.5 0h1.5m-.5 0h1.5m.5 0h1.5m-165.5 1h1.5m.5 0h1.5m56.5 0h1.5m39.5 0h1.5m2.5 0h1.5m-.5 0h1.5m-.5 0h1.5m.5 0h1.5m-.5 0h1.5m2.5 0h1.5m2.5 0h1.5m.5 0h1.5m1.5 0h1.5m-.5 0h1.5m19.5 0h1.5m-.5 0h1.5m1.5 0h1.5m1.5 0h1.5m-.5 0h1.5m.5 0h1.5m3.5 0h1.5m3.5 0h1.5m3.5 0h1.5m-114.5 1h1.5m9.5 0h1.5m.5 0h1.5m35.5 0h1.5m1.5 0h1.5m-.5 0h1.5m.5 0h1.5m-.5 0h1.5m-.5 0h1.5m-.5 0h1.5m1.5 0h1.5m2.5 0h1.5m1.5 0h1.5m2.5 0h1.5m-.5 0h1.5m.5 0h1.5m4.5 0h1.5m1.5 0h1.5m1.5 0h1.5m2.5 0h1.5m-.5 0h1.5m3.5 0h1.5m-.5 0h1.5m1.5 0h1.5m24.5 0h1.5m-187.5 1h1.5m-.5 0h1.5m.5 0h1.5m-.5 0h1.5m13.5 0h1.5m24.5 0h1.5m-.5 0h1.5m43.5 0h1.5m9.5 0h1.5m1.5 0h1.5m.5 0h1.5m.5 0h1.5m.5 0h1.5m.5 0h1.5m.5 0h1.5m3.5 0h1.5m3.5 0h1.5m6.5 0h1.5m2.5 0h1.5m10.5 0h1.5m.5 0h1.5m-.5 0h1.5m.5 0h1.5m-.5 0h1.5m.5 0h1.5m-.5 0h1.5m.5 0h1.5m-.5 0h1.5m7.5 0h1.5m4.5 0h1.5m-175.5 1h1.5m61.5 0h1.5m2.5 0h1.5m17.5 0h1.5m13.5 0h1.5m2.5 0h1.5m7.5 0h1.5m.5 0h1.5m1.5 0h1.5m.5 0h1.5m22.5 0h1.5m.5 0h1.5m5.5 0h1.5m7.5 0h1.5m-.5 0h1.5m-.5 0h1.5m-166.5 1h1.5m-.5 0h1.5m46.5 0h1.5m27.5 0h1.5m2.5 0h1.5m9.5 0h1.5m3.5 0h1.5m2.5 0h1.5m.5 0h1.5m.5 0h1.5m-.5 0h1.5m2.5 0h1.5m-.5 0h1.5m.5 0h1.5m-.5 0h1.5m21.5 0h1.5m7.5 0h1.5m-.5 0h1.5m-.5 0h1.5m2.5 0h1.5m.5 0h1.5m-.5 0h1.5m3.5 0h1.5m-.5 0h1.5m-.5 0h1.5m2.5 0h1.5m2.5 0h1.5m-173.5 1h1.5m1.5 0h1.5m33.5 0h1.5m20.5 0h1.5m28.5 0h1.5m8.5 0h1.5m1.5 0h1.5m5.5 0h1.5m2.5 0h1.5m-.5 0h1.5m-.5 0h1.5m-.5 0h1.5m6.5 0h1.5m5.5 0h1.5m5.5 0h1.5m6.5 0h1.5m.5 0h1.5m-.5 0h1.5m.5 0h1.5m-.5 0h1.5m1.5 0h1.5m1.5 0h1.5m.5 0h1.5m-.5 0h1.5m.5 0h1.5m4.5 0h1.5m-170.5 1h1.5m39.5 0h1.5m42.5 0h1.5m2.5 0h1.5m4.5 0h1.5m9.5 0h1.5m2.5 0h1.5m-.5 0h1.5m2.5 0h1.5m-.5 0h1.5m-.5 0h1.5m-.5 0h1.5m1.5 0h1.5m1.5 0h1.5m19.5 0h1.5m.5 0h1.5m.5 0h1.5m1.5 0h1.5m.5 0h1.5m1.5 0h1.5m10.5 0h1.5m.5 0h1.5m-169.5 1h1.5m78.5 0h1.5m5.5 0h1.5m13.5 0h1.5m-.5 0h1.5m.5 0h1.5m.5 0h1.5m-.5 0h1.5m2.5 0h1.5m4.5 0h1.5m7.5 0h1.5m10.5 0h1.5m5.5 0h1.5m.5 0h1.5m-.5 0h1.5m.5 0h1.5m-.5 0h1.5m1.5 0h1.5m.5 0h1.5m3.5 0h1.5m-166.5 1h1.5m17.5 0h1.5m64.5 0h1.5m5.5 0h1.5m6.5 0h1.5m1.5 0h1.5m-.5 0h1.5m-.5 0h1.5m2.5 0h1.5m1.5 0h1.5m-.5 0h1.5m-.5 0h1.5m-.5 0h1.5m-.5 0h1.5m8.5 0h1.5m.5 0h1.5m3.5 0h1.5m11.5 0h1.5m.5 0h1.5m2.5 0h1.5m2.5 0h1.5m.5 0h1.5m.5 0h1.5m4.5 0h1.5m9.5 0h1.5m-180.5 1h1.5m-.5 0h1.5m.5 0h1.5m46.5 0h1.5m.5 0h1.5m16.5 0h1.5m1.5 0h1.5m12.5 0h1.5m6.5 0h1.5m3.5 0h1.5m9.5 0h1.5m.5 0h1.5m.5 0h1.5m7.5 0h1.5m5.5 0h1.5m4.5 0h1.5m8.5 0h1.5m1.5 0h1.5m-.5 0h1.5m-.5 0h1.5m.5 0h1.5m2.5 0h1.5m-162.5 1h1.5m1.5 0h1.5m93.5 0h1.5m-.5 0h1.5m1.5 0h1.5m1.5 0h1.5m3.5 0h1.5m8.5 0h1.5m-.5 0h1.5m-.5 0h1.5m-.5 0h1.5m6.5 0h1.5m-.5 0h1.5m.5 0h1.5m.5 0h1.5m7.5 0h1.5m.5 0h1.5m1.5 0h1.5m6.5 0h1.5m4.5 0h1.5m.5 0h1.5m-168.5 1h1.5m2.5 0h1.5m11.5 0h1.5m65.5 0h1.5m13.5 0h1.5m-.5 0h1.5m.5 0h1.5m.5 0h1.5m-.5 0h1.5m.5 0h1.5m3.5 0h1.5m1.5 0h1.5m-.5 0h1.5m.5 0h1.5m1.5 0h1.5m-.5 0h1.5m-.5 0h1.5m-.5 0h1.5m4.5 0h1.5m3.5 0h1.5m3.5 0h1.5m4.5 0h1.5m1.5 0h1.5m1.5 0h1.5m1.5 0h1.5m1.5 0h1.5m1.5 0h1.5m2.5 0h1.5m-.5 0h1.5m.5 0h1.5m-162.5 1h1.5m14.5 0h1.5m45.5 0h1.5m30.5 0h1.5m-.5 0h1.5m6.5 0h1.5m2.5 0h1.5m.5 0h1.5m-.5 0h1.5m.5 0h1.5m2.5 0h1.5m2.5 0h1.5m12.5 0h1.5m.5 0h1.5m.5 0h1.5m.5 0h1.5m.5 0h1.5m2.5 0h1.5m-.5 0h1.5m4.5 0h1.5m4.5 0h1.5m-.5 0h1.5m-.5 0h1.5m2.5 0h1.5m-168.5 1h1.5m25.5 0h1.5m14.5 0h1.5m-.5 0h1.5m4.5 0h1.5m43.5 0h1.5m.5 0h1.5m.5 0h1.5m2.5 0h1.5m3.5 0h1.5m5.5 0h1.5m-.5 0h1.5m-.5 0h1.5m9.5 0h1.5m11.5 0h1.5m.5 0h1.5m.5 0h1.5m4.5 0h1.5m-.5 0h1.5m4.5 0h1.5m-.5 0h1.5m1.5 0h1.5m4.5 0h1.5m4.5 0h1.5m-179.5 1h1.5m1.5 0h1.5m-.5 0h1.5m.5 0h1.5m79.5 0h1.5m5.5 0h1.5m7.5 0h1.5m-.5 0h1.5m.5 0h1.5m-.5 0h1.5m-.5 0h1.5m-.5 0h1.5m-.5 0h1.5m.5 0h1.5m.5 0h1.5m-.5 0h1.5m-.5 0h1.5m-.5 0h1.5m-.5 0h1.5m-.5 0h1.5m.5 0h1.5m-.5 0h1.5m.5 0h1.5m.5 0h1.5m1.5 0h1.5m2.5 0h1.5m6.5 0h1.5m.5 0h1.5m1.5 0h1.5m6.5 0h1.5m3.5 0h1.5m4.5 0h1.5m-169.5 1h1.5m3.5 0h1.5m.5 0h1.5m41.5 0h1.5m17.5 0h1.5m7.5 0h1.5m16.5 0h1.5m4.5 0h1.5m3.5 0h1.5m.5 0h1.5m.5 0h1.5m-.5 0h1.5m-.5 0h1.5m1.5 0h1.5m1.5 0h1.5m-.5 0h1.5m-.5 0h1.5m.5 0h1.5m-.5 0h1.5m-.5 0h1.5m1.5 0h1.5m-.5 0h1.5m-.5 0h1.5m.5 0h1.5m.5 0h1.5m3.5 0h1.5m5.5 0h1.5m-.5 0h1.5m.5 0h1.5m-.5 0h1.5m-.5 0h1.5m.5 0h1.5m2.5 0h1.5m1.5 0h1.5m5.5 0h1.5m5.5 0h1.5m6.5 0h1.5m-179.5 1h1.5m.5 0h1.5m-.5 0h1.5m86.5 0h1.5m2.5 0h1.5m2.5 0h1.5m6.5 0h1.5m.5 0h1.5m3.5 0h1.5m1.5 0h1.5m-.5 0h1.5m.5 0h1.5m.5 0h1.5m.5 0h1.5m.5 0h1.5m.5 0h1.5m5.5 0h1.5m.5 0h1.5m1.5 0h1.5m1.5 0h1.5m.5 0h1.5m-.5 0h1.5m1.5 0h1.5m.5 0h1.5m-.5 0h1.5m.5 0h1.5m11.5 0h1.5m-169.5 1h1.5m-.5 0h1.5m-.5 0h1.5m2.5 0h1.5m36.5 0h1.5m11.5 0h1.5m7.5 0h1.5m15.5 0h1.5m.5 0h1.5m1.5 0h1.5m1.5 0h1.5m.5 0h1.5m5.5 0h1.5m2.5 0h1.5m-.5 0h1.5m-.5 0h1.5m.5 0h1.5m.5 0h1.5m1.5 0h1.5m-.5 0h1.5m.5 0h1.5m.5 0h1.5m1.5 0h1.5m-.5 0h1.5m.5 0h1.5m-.5 0h1.5m.5 0h1.5m.5 0h1.5m4.5 0h1.5m1.5 0h1.5m1.5 0h1.5m-.5 0h1.5m-.5 0h1.5m1.5 0h1.5m-.5 0h1.5m-.5 0h1.5m.5 0h1.5m3.5 0h1.5m.5 0h1.5m-.5 0h1.5m4.5 0h1.5m-161.5 1h1.5m-.5 0h1.5m49.5 0h1.5m9.5 0h1.5m32.5 0h1.5m.5 0h1.5m.5 0h1.5m2.5 0h1.5m-.5 0h1.5m.5 0h1.5m-.5 0h1.5m.5 0h1.5m1.5 0h1.5m-.5 0h1.5m-.5 0h1.5m10.5 0h1.5m5.5 0h1.5m.5 0h1.5m2.5 0h1.5m1.5 0h1.5m-.5 0h1.5m-.5 0h1.5m.5 0h1.5m1.5 0h1.5m4.5 0h1.5m.5 0h1.5m13.5 0h1.5m-179.5 1h1.5m1.5 0h1.5m.5 0h1.5m65.5 0h1.5m5.5 0h1.5m3.5 0h1.5m16.5 0h1.5m-.5 0h1.5m4.5 0h1.5m-.5 0h1.5m-.5 0h1.5m-.5 0h1.5m.5 0h1.5m.5 0h1.5m-.5 0h1.5m-.5 0h1.5m-.5 0h1.5m-.5 0h1.5m1.5 0h1.5m.5 0h1.5m-.5 0h1.5m-.5 0h1.5m6.5 0h1.5m8.5 0h1.5m.5 0h1.5m.5 0h1.5m.5 0h1.5m2.5 0h1.5m1.5 0h1.5m-.5 0h1.5m14.5 0h1.5m-176.5 1h1.5m.5 0h1.5m.5 0h1.5m-.5 0h1.5m55.5 0h1.5m10.5 0h1.5m20.5 0h1.5m.5 0h1.5m.5 0h1.5m1.5 0h1.5m.5 0h1.5m1.5 0h1.5m3.5 0h1.5m-.5 0h1.5m.5 0h1.5m1.5 0h1.5m-.5 0h1.5m3.5 0h1.5m-.5 0h1.5m-.5 0h1.5m5.5 0h1.5m2.5 0h1.5m.5 0h1.5m-.5 0h1.5m1.5 0h1.5m1.5 0h1.5m-.5 0h1.5m.5 0h1.5m5.5 0h1.5m1.5 0h1.5m4.5 0h1.5m-168.5 1h1.5m-.5 0h1.5m-.5 0h1.5m-.5 0h1.5m.5 0h1.5m64.5 0h1.5m5.5 0h1.5m2.5 0h1.5m5.5 0h1.5m1.5 0h1.5m5.5 0h1.5m2.5 0h1.5m2.5 0h1.5m-.5 0h1.5m1.5 0h1.5m-.5 0h1.5m-.5 0h1.5m-.5 0h1.5m-.5 0h1.5m.5 0h1.5m-.5 0h1.5m1.5 0h1.5m-.5 0h1.5m.5 0h1.5m-.5 0h1.5m1.5 0h1.5m6.5 0h1.5m6.5 0h1.5m-.5 0h1.5m.5 0h1.5m2.5 0h1.5m.5 0h1.5m-.5 0h1.5m-.5 0h1.5m.5 0h1.5m-.5 0h1.5m-158.5 1h1.5m-.5 0h1.5m-.5 0h1.5m-.5 0h1.5m-.5 0h1.5m5.5 0h1.5m4.5 0h1.5m26.5 0h1.5m36.5 0h1.5m4.5 0h1.5m5.5 0h1.5m5.5 0h1.5m.5 0h1.5m1.5 0h1.5m2.5 0h1.5m-.5 0h1.5m2.5 0h1.5m-.5 0h1.5m-.5 0h1.5m-.5 0h1.5m.5 0h1.5m1.5 0h1.5m4.5 0h1.5m-.5 0h1.5m7.5 0h1.5m-.5 0h1.5m-.5 0h1.5m.5 0h1.5m3.5 0h1.5m-.5 0h1.5m6.5 0h1.5m-159.5 1h1.5m-.5 0h1.5m14.5 0h1.5m35.5 0h1.5m21.5 0h1.5m6.5 0h1.5m8.5 0h1.5m-.5 0h1.5m2.5 0h1.5m-.5 0h1.5m1.5 0h1.5m1.5 0h1.5m.5 0h1.5m1.5 0h1.5m1.5 0h1.5m2.5 0h1.5m2.5 0h1.5m.5 0h1.5m-.5 0h1.5m-.5 0h1.5m-.5 0h1.5m.5 0h1.5m-.5 0h1.5m-.5 0h1.5m1.5 0h1.5m.5 0h1.5m-.5 0h1.5m4.5 0h1.5m.5 0h1.5m.5 0h1.5m.5 0h1.5m.5 0h1.5m-.5 0h1.5m1.5 0h1.5m2.5 0h1.5m3.5 0h1.5m-.5 0h1.5m-167.5 1h1.5m.5 0h1.5m-.5 0h1.5m26.5 0h1.5m.5 0h1.5m45.5 0h1.5m15.5 0h1.5m1.5 0h1.5m.5 0h1.5m6.5 0h1.5m1.5 0h1.5m1.5 0h1.5m1.5 0h1.5m5.5 0h1.5m1.5 0h1.5m-.5 0h1.5m3.5 0h1.5m1.5 0h1.5m.5 0h1.5m-.5 0h1.5m2.5 0h1.5m.5 0h1.5m1.5 0h1.5m-.5 0h1.5m-.5 0h1.5m-.5 0h1.5m2.5 0h1.5m-.5 0h1.5m-156.5 1h1.5m-.5 0h1.5m41.5 0h1.5m17.5 0h1.5m18.5 0h1.5m16.5 0h1.5m-.5 0h1.5m-.5 0h1.5m.5 0h1.5m1.5 0h1.5m-.5 0h1.5m-.5 0h1.5m-.5 0h1.5m-.5 0h1.5m-.5 0h1.5m-.5 0h1.5m-.5 0h1.5m-.5 0h1.5m2.5 0h1.5m2.5 0h1.5m3.5 0h1.5m.5 0h1.5m.5 0h1.5m-.5 0h1.5m-.5 0h1.5m-.5 0h1.5m.5 0h1.5m-.5 0h1.5m-.5 0h1.5m.5 0h1.5m4.5 0h1.5m.5 0h1.5m1.5 0h1.5m-.5 0h1.5m-.5 0h1.5m4.5 0h1.5m3.5 0h1.5m-156.5 1h1.5m80.5 0h1.5m5.5 0h1.5m-.5 0h1.5m.5 0h1.5m-.5 0h1.5m2.5 0h1.5m-.5 0h1.5m3.5 0h1.5m-.5 0h1.5m-.5 0h1.5m-.5 0h1.5m-.5 0h1.5m3.5 0h1.5m.5 0h1.5m-.5 0h1.5m-.5 0h1.5m4.5 0h1.5m-.5 0h1.5m1.5 0h1.5m3.5 0h1.5m-.5 0h1.5m1.5 0h1.5m4.5 0h1.5m8.5 0h1.5m-165.5 1h1.5m1.5 0h1.5m10.5 0h1.5m63.5 0h1.5m8.5 0h1.5m2.5 0h1.5m-.5 0h1.5m6.5 0h1.5m.5 0h1.5m4.5 0h1.5m-.5 0h1.5m.5 0h1.5m.5 0h1.5m2.5 0h1.5m1.5 0h1.5m2.5 0h1.5m-.5 0h1.5m1.5 0h1.5m1.5 0h1.5m2.5 0h1.5m.5 0h1.5m1.5 0h1.5m-.5 0h1.5m5.5 0h1.5m3.5 0h1.5m6.5 0h1.5m5.5 0h1.5m-71.5 1h1.5m-.5 0h1.5m2.5 0h1.5m-.5 0h1.5m3.5 0h1.5m-.5 0h1.5m.5 0h1.5m-.5 0h1.5m.5 0h1.5m-.5 0h1.5m-.5 0h1.5m-.5 0h1.5m.5 0h1.5m-.5 0h1.5m-.5 0h1.5m1.5 0h1.5m2.5 0h1.5m-.5 0h1.5m-.5 0h1.5m5.5 0h1.5m.5 0h1.5m-.5 0h1.5m1.5 0h1.5m5.5 0h1.5m2.5 0h1.5m-156.5 1h1.5m55.5 0h1.5m8.5 0h1.5m19.5 0h1.5m8.5 0h1.5m-.5 0h1.5m1.5 0h1.5m1.5 0h1.5m-.5 0h1.5m2.5 0h1.5m3.5 0h1.5m.5 0h1.5m-.5 0h1.5m.5 0h1.5m.5 0h1.5m-.5 0h1.5m2.5 0h1.5m.5 0h1.5m1.5 0h1.5m.5 0h1.5m6.5 0h1.5m-.5 0h1.5m3.5 0h1.5m6.5 0h1.5m-156.5 1h1.5m65.5 0h1.5m22.5 0h1.5m.5 0h1.5m2.5 0h1.5m2.5 0h1.5m.5 0h1.5m-.5 0h1.5m-.5 0h1.5m.5 0h1.5m-.5 0h1.5m-.5 0h1.5m.5 0h1.5m.5 0h1.5m-.5 0h1.5m-.5 0h1.5m-.5 0h1.5m-.5 0h1.5m-.5 0h1.5m-.5 0h1.5m1.5 0h1.5m.5 0h1.5m-.5 0h1.5m.5 0h1.5m1.5 0h1.5m1.5 0h1.5m1.5 0h1.5m-.5 0h1.5m2.5 0h1.5m.5 0h1.5m.5 0h1.5m5.5 0h1.5m.5 0h1.5m13.5 0h1.5m-160.5 1h1.5m51.5 0h1.5m4.5 0h1.5m13.5 0h1.5m10.5 0h1.5m.5 0h1.5m.5 0h1.5m-.5 0h1.5m1.5 0h1.5m1.5 0h1.5m2.5 0h1.5m-.5 0h1.5m1.5 0h1.5m1.5 0h1.5m2.5 0h1.5m-.5 0h1.5m.5 0h1.5m-.5 0h1.5m1.5 0h1.5m-.5 0h1.5m-.5 0h1.5m3.5 0h1.5m.5 0h1.5m-.5 0h1.5m4.5 0h1.5m-128.5 1h1.5m7.5 0h1.5m62.5 0h1.5m1.5 0h1.5m1.5 0h1.5m-.5 0h1.5m-.5 0h1.5m-.5 0h1.5m-.5 0h1.5m-.5 0h1.5m-.5 0h1.5m6.5 0h1.5m-.5 0h1.5m1.5 0h1.5m-.5 0h1.5m-.5 0h1.5m-.5 0h1.5m4.5 0h1.5m2.5 0h1.5m-.5 0h1.5m-.5 0h1.5m.5 0h1.5m1.5 0h1.5m.5 0h1.5m.5 0h1.5m.5 0h1.5m.5 0h1.5m5.5 0h1.5m.5 0h1.5m-64.5 1h1.5m3.5 0h1.5m3.5 0h1.5m3.5 0h1.5m1.5 0h1.5m-.5 0h1.5m1.5 0h1.5m2.5 0h1.5m-.5 0h1.5m1.5 0h1.5m.5 0h1.5m.5 0h1.5m-.5 0h1.5m1.5 0h1.5m1.5 0h1.5m.5 0h1.5m7.5 0h1.5m-.5 0h1.5m-.5 0h1.5m-.5 0h1.5m-.5 0h1.5m.5 0h1.5m11.5 0h1.5m-134.5 1h1.5m45.5 0h1.5m1.5 0h1.5m9.5 0h1.5m-.5 0h1.5m7.5 0h1.5m.5 0h1.5m7.5 0h1.5m-.5 0h1.5m-.5 0h1.5m2.5 0h1.5m1.5 0h1.5m.5 0h1.5m.5 0h1.5m-.5 0h1.5m-.5 0h1.5m1.5 0h1.5m-.5 0h1.5m2.5 0h1.5m-.5 0h1.5m-.5 0h1.5m-.5 0h1.5m-.5 0h1.5m.5 0h1.5m-.5 0h1.5m1.5 0h1.5m7.5 0h1.5m.5 0h1.5m-71.5 1h1.5m6.5 0h1.5m7.5 0h1.5m-.5 0h1.5m3.5 0h1.5m.5 0h1.5m1.5 0h1.5m2.5 0h1.5m-.5 0h1.5m-.5 0h1.5m.5 0h1.5m-.5 0h1.5m-.5 0h1.5m.5 0h1.5m-.5 0h1.5m1.5 0h1.5m-.5 0h1.5m-.5 0h1.5m-.5 0h1.5m.5 0h1.5m.5 0h1.5m2.5 0h1.5m-.5 0h1.5m.5 0h1.5m.5 0h1.5m2.5 0h1.5m1.5 0h1.5m7.5 0h1.5m-112.5 1h1.5m35.5 0h1.5m14.5 0h1.5m-.5 0h1.5m4.5 0h1.5m.5 0h1.5m3.5 0h1.5m4.5 0h1.5m-.5 0h1.5m.5 0h1.5m.5 0h1.5m-.5 0h1.5m-.5 0h1.5m.5 0h1.5m-.5 0h1.5m-.5 0h1.5m1.5 0h1.5m-.5 0h1.5m-.5 0h1.5m.5 0h1.5m1.5 0h1.5m-88.5 1h1.5m29.5 0h1.5m1.5 0h1.5m3.5 0h1.5m-.5 0h1.5m-.5 0h1.5m6.5 0h1.5m1.5 0h1.5m1.5 0h1.5m2.5 0h1.5m.5 0h1.5m.5 0h1.5m1.5 0h1.5m.5 0h1.5m3.5 0h1.5m-.5 0h1.5m-.5 0h1.5m.5 0h1.5m3.5 0h1.5m1.5 0h1.5m-.5 0h1.5m-.5 0h1.5m-79.5 1h1.5m6.5 0h1.5m33.5 0h1.5m3.5 0h1.5m-.5 0h1.5m3.5 0h1.5m.5 0h1.5m-.5 0h1.5m1.5 0h1.5m3.5 0h1.5m6.5 0h1.5m1.5 0h1.5m1.5 0h1.5m6.5 0h1.5m3.5 0h1.5m-76.5 1h1.5m9.5 0h1.5m1.5 0h1.5m-.5 0h1.5m1.5 0h1.5m2.5 0h1.5m-.5 0h1.5m4.5 0h1.5m.5 0h1.5m.5 0h1.5m1.5 0h1.5m-.5 0h1.5m-.5 0h1.5m1.5 0h1.5m2.5 0h1.5m-.5 0h1.5m-.5 0h1.5m1.5 0h1.5m-.5 0h1.5m1.5 0h1.5m8.5 0h1.5m-.5 0h1.5m-84.5 1h1.5m20.5 0h1.5m4.5 0h1.5m-.5 0h1.5m-.5 0h1.5m3.5 0h1.5m-.5 0h1.5m2.5 0h1.5m.5 0h1.5m-.5 0h1.5m.5 0h1.5m.5 0h1.5m-.5 0h1.5m1.5 0h1.5m-.5 0h1.5m3.5 0h1.5m.5 0h1.5m.5 0h1.5m1.5 0h1.5m5.5 0h1.5m-.5 0h1.5m-.5 0h1.5m.5 0h1.5m9.5 0h1.5m-99.5 1h1.5m28.5 0h1.5m1.5 0h1.5m10.5 0h1.5m-.5 0h1.5m-.5 0h1.5m6.5 0h1.5m-.5 0h1.5m-.5 0h1.5m.5 0h1.5m-.5 0h1.5m1.5 0h1.5m-.5 0h1.5m-.5 0h1.5m.5 0h1.5m-.5 0h1.5m1.5 0h1.5m-.5 0h1.5m.5 0h1.5m.5 0h1.5m.5 0h1.5m-.5 0h1.5m.5 0h1.5m-.5 0h1.5m6.5 0h1.5m8.5 0h1.5m-90.5 1h1.5m13.5 0h1.5m9.5 0h1.5m-.5 0h1.5m4.5 0h1.5m3.5 0h1.5m-.5 0h1.5m-.5 0h1.5m2.5 0h1.5m2.5 0h1.5m-.5 0h1.5m-.5 0h1.5m-.5 0h1.5m-.5 0h1.5m-.5 0h1.5m-.5 0h1.5m-.5 0h1.5m.5 0h1.5m-.5 0h1.5m.5 0h1.5m1.5 0h1.5m-.5 0h1.5m-.5 0h1.5m-.5 0h1.5m-.5 0h1.5m-.5 0h1.5m.5 0h1.5m.5 0h1.5m.5 0h1.5m.5 0h1.5m2.5 0h1.5m5.5 0h1.5m-63.5 1h1.5m2.5 0h1.5m4.5 0h1.5m-.5 0h1.5m3.5 0h1.5m1.5 0h1.5m.5 0h1.5m-.5 0h1.5m-.5 0h1.5m-.5 0h1.5m.5 0h1.5m2.5 0h1.5m.5 0h1.5m1.5 0h1.5m.5 0h1.5m.5 0h1.5m.5 0h1.5m-.5 0h1.5m2.5 0h1.5m4.5 0h1.5m2.5 0h1.5m-66.5 1h1.5m10.5 0h1.5m1.5 0h1.5m5.5 0h1.5m3.5 0h1.5m-.5 0h1.5m-.5 0h1.5m3.5 0h1.5m.5 0h1.5m.5 0h1.5m-.5 0h1.5m1.5 0h1.5m.5 0h1.5m6.5 0h1.5m1.5 0h1.5m5.5 0h1.5m-148.5 1h1.5m84.5 0h1.5m4.5 0h1.5m1.5 0h1.5m14.5 0h1.5m.5 0h1.5m.5 0h1.5m1.5 0h1.5m-.5 0h1.5m-.5 0h1.5m1.5 0h1.5m1.5 0h1.5m-.5 0h1.5m-.5 0h1.5m-.5 0h1.5m-.5 0h1.5m.5 0h1.5m1.5 0h1.5m.5 0h1.5m1.5 0h1.5m-.5 0h1.5m-.5 0h1.5m3.5 0h1.5m-.5 0h1.5m-126.5 1h1.5m68.5 0h1.5m1.5 0h1.5m1.5 0h1.5m.5 0h1.5m1.5 0h1.5m12.5 0h1.5m.5 0h1.5m.5 0h1.5m.5 0h1.5m-.5 0h1.5m4.5 0h1.5m9.5 0h1.5m2.5 0h1.5m8.5 0h1.5m6.5 0h1.5m.5 0h1.5m-56.5 1h1.5m-.5 0h1.5m4.5 0h1.5m2.5 0h1.5m2.5 0h1.5m3.5 0h1.5m12.5 0h1.5m22.5 0h1.5m-82.5 1h1.5m1.5 0h1.5m2.5 0h1.5m4.5 0h1.5m12.5 0h1.5m1.5 0h1.5m-.5 0h1.5m1.5 0h1.5m1.5 0h1.5m1.5 0h1.5m-.5 0h1.5m2.5 0h1.5m2.5 0h1.5m11.5 0h1.5m-57.5 1h1.5m8.5 0h1.5m-.5 0h1.5m2.5 0h1.5m.5 0h1.5m-.5 0h1.5m.5 0h1.5m.5 0h1.5m.5 0h1.5m-.5 0h1.5m-.5 0h1.5m-.5 0h1.5m1.5 0h1.5m-.5 0h1.5m8.5 0h1.5m1.5 0h1.5m-.5 0h1.5m1.5 0h1.5m6.5 0h1.5m-48.5 1h1.5m6.5 0h1.5m-.5 0h1.5m.5 0h1.5m-.5 0h1.5m-.5 0h1.5m1.5 0h1.5m.5 0h1.5m-.5 0h1.5m-.5 0h1.5m-.5 0h1.5m-.5 0h1.5m1.5 0h1.5m1.5 0h1.5m1.5 0h1.5m.5 0h1.5m6.5 0h1.5m1.5 0h1.5m-.5 0h1.5m13.5 0h1.5m-135.5 1h1.5m57.5 0h1.5m1.5 0h1.5m1.5 0h1.5m6.5 0h1.5m7.5 0h1.5m1.5 0h1.5m1.5 0h1.5m8.5 0h1.5m1.5 0h1.5m.5 0h1.5m.5 0h1.5m2.5 0h1.5m1.5 0h1.5m1.5 0h1.5m.5 0h1.5m-65.5 1h1.5m1.5 0h1.5m10.5 0h1.5m.5 0h1.5m10.5 0h1.5m-.5 0h1.5m.5 0h1.5m1.5 0h1.5m.5 0h1.5m.5 0h1.5m2.5 0h1.5m8.5 0h1.5m19.5 0h1.5m-53.5 1h1.5m-.5 0h1.5m6.5 0h1.5m2.5 0h1.5m1.5 0h1.5m-.5 0h1.5m.5 0h1.5m-.5 0h1.5m-.5 0h1.5m-.5 0h1.5m2.5 0h1.5m8.5 0h1.5m11.5 0h1.5m.5 0h1.5m2.5 0h1.5m-151.5 1h1.5m91.5 0h1.5m-.5 0h1.5m5.5 0h1.5m.5 0h1.5m2.5 0h1.5m.5 0h1.5m1.5 0h1.5m2.5 0h1.5m.5 0h1.5m1.5 0h1.5m11.5 0h1.5m-33.5 1h1.5m7.5 0h1.5m-.5 0h1.5m.5 0h1.5m-.5 0h1.5m1.5 0h1.5m1.5 0h1.5m3.5 0h1.5m8.5 0h1.5m-46.5 1h1.5m1.5 0h1.5m1.5 0h1.5m1.5 0h1.5m1.5 0h1.5m.5 0h1.5m10.5 0h1.5m1.5 0h1.5m14.5 0h1.5m-47.5 1h1.5m30.5 0h1.5m-.5 0h1.5m2.5 0h1.5m4.5 0h1.5m-61.5 1h1.5m5.5 0h1.5m4.5 0h1.5m5.5 0h1.5m.5 0h1.5m16.5 0h1.5m.5 0h1.5m.5 0h1.5m1.5 0h1.5m-32.5 1h1.5m9.5 0h1.5m4.5 0h1.5m-.5 0h1.5m-.5 0h1.5m.5 0h1.5m9.5 0h1.5m-.5 0h1.5m3.5 0h1.5m3.5 0h1.5m-136.5 1h1.5m-.5 0h1.5m93.5 0h1.5m11.5 0h1.5m24.5 0h1.5m15.5 0h1.5m-159.5 1h1.5m.5 0h1.5m.5 0h1.5m-.5 0h1.5m101.5 0h1.5m9.5 0h1.5m3.5 0h1.5m13.5 0h1.5m-137.5 1h1.5m-.5 0h1.5m.5 0h1.5m-.5 0h1.5m75.5 0h1.5m3.5 0h1.5m14.5 0h1.5m8.5 0h1.5m8.5 0h1.5m5.5 0h1.5m.5 0h1.5m7.5 0h1.5m4.5 0h1.5m-147.5 1h1.5m-.5 0h1.5m-.5 0h1.5m-.5 0h1.5m82.5 0h1.5m11.5 0h1.5m11.5 0h1.5m3.5 0h1.5m-.5 0h1.5m-.5 0h1.5m-.5 0h1.5m.5 0h1.5m13.5 0h1.5m-140.5 1h1.5m-.5 0h1.5m-.5 0h1.5m.5 0h1.5m1.5 0h1.5m91.5 0h1.5m12.5 0h1.5m16.5 0h1.5m.5 0h1.5m13.5 0h1.5m-151.5 1h1.5m-.5 0h1.5m-.5 0h1.5m-.5 0h1.5m-.5 0h1.5m-.5 0h1.5m69.5 0h1.5m14.5 0h1.5m21.5 0h1.5m9.5 0h1.5m2.5 0h1.5m16.5 0h1.5m-147.5 1h1.5m-.5 0h1.5m-.5 0h1.5m101.5 0h1.5m3.5 0h1.5m5.5 0h1.5m18.5 0h1.5m3.5 0h1.5m-144.5 1h1.5m-.5 0h1.5m-.5 0h1.5m1.5 0h1.5m94.5 0h1.5m7.5 0h1.5m1.5 0h1.5m.5 0h1.5m6.5 0h1.5m23.5 0h1.5m-150.5 1h1.5m-.5 0h1.5m-.5 0h1.5m-.5 0h1.5m105.5 0h1.5m5.5 0h1.5m7.5 0h1.5m6.5 0h1.5m-.5 0h1.5m-137.5 1h1.5m.5 0h1.5m-.5 0h1.5m.5 0h1.5m110.5 0h1.5m29.5 0h1.5m16.5 0h1.5m-166.5 1h1.5m.5 0h1.5m-.5 0h1.5m-.5 0h1.5m86.5 0h1.5m11.5 0h1.5m8.5 0h1.5m3.5 0h1.5m28.5 0h1.5m-153.5 1h1.5m1.5 0h1.5m-.5 0h1.5m116.5 0h1.5m3.5 0h1.5m-125.5 1h1.5m1.5 0h1.5m86.5 0h1.5m30.5 0h1.5m2.5 0h1.5m-127.5 1h1.5m-.5 0h1.5m.5 0h1.5m-.5 0h1.5m82.5 0h1.5m18.5 0h1.5m12.5 0h1.5m11.5 0h1.5m-137.5 1h1.5m.5 0h1.5m-.5 0h1.5m-.5 0h1.5m.5 0h1.5m84.5 0h1.5m7.5 0h1.5m-.5 0h1.5m2.5 0h1.5m.5 0h1.5m31.5 0h1.5m-146.5 1h1.5m3.5 0h1.5m.5 0h1.5m76.5 0h1.5m41.5 0h1.5m2.5 0h1.5m-128.5 1h1.5m.5 0h1.5m-.5 0h1.5m126.5 0h1.5m-130.5 1h1.5m-4.5 1h1.5m98.5 0h1.5m15.5 0h1.5m-117.5 1h1.5m-.5 0h1.5m.5 0h1.5m-1.5 1h1.5m-5.5 1h1.5m2.5 0h1.5m-.5 0h1.5m70.5 0h1.5m13.5 0h1.5m48.5 0h1.5m-142.5 1h1.5m101.5 0h1.5m-22.5 1h1.5m21.5 0h1.5m-106.5 1h1.5m.5 0h1.5m.5 0h1.5m88.5 0h1.5m24.5 0h1.5m-120.5 1h1.5m74.5 1h1.5m36.5 0h1.5m-115.5 1h1.5m-.5 0h1.5m-5.5 1h1.5m5.5 0h1.5m124.5 0h1.5m-23.5 2h1.5m-112.5 2h1.5m2.5 2h1.5m78.5 1h1.5m48.5 3h1.5m-56.5 3h1.5m5.5 0h1.5m-85.5 1h1.5m119.5 2h1.5m-14.5 2h1.5m5.5 1h1.5m-28.5 2h1.5" stroke="#0000F0" stroke-width="1.5"/>
<path d="M1946 719h1.5m-5.5 1h1.5m-.5 0h1.5m3.5 0h1.5m-.5 0h1.5m.5 0h1.5m-.5 0h1.5m-.5 0h1.5m1.5 0h1.5m-8.5 1h1.5m2.5 0h1.5m1.5 0h1.5m-.5 0h1.5m-9.5 1h1.5m-.5 0h1.5m-5.5 1h1.5m1.5 0h1.5m3.5 1h1.5m-5.5 1h1.5m-7.5 1h1.5m2.5 0h1.5m3.5 0h1.5m4.5 0h1.5m-3.5 1h1.5m-16.5 1h1.5m1.5 0h1.5m.5 0h1.5m2.5 0h1.5m-12.5 1h1.5m.5 0h1.5m3.5 0h1.5m5.5 0h1.5m-12.5 1h1.5m2.5 0h1.5m-9.5 1h1.5m2.5 0h1.5m2.5 0h1.5m-.5 0h1.5m4.5 0h1.5m-13.5 1h1.5m1.5 0h1.5m2.5 0h1.5m-11.5 1h1.5m.5 0h1.5m4.5 0h1.5m1.5 0h1.5m-15.5 1h1.5m2.5 0h1.5m1.5 0h1.5m1.5 0h1.5m1.5 0h1.5m.5 0h1.5m-.5 0h1.5m-.5 0h1.5m-.5 0h1.5m-13.5 1h1.5m2.5 0h1.5m-.5 0h1.5m-.5 0h1.5m-.5 0h1.5m.5 0h1.5m2.5 0h1.5m1.5 0h1.5m-.5 0h1.5m-20.5 1h1.5m.5 0h1.5m-.5 0h1.5m-.5 0h1.5m.5 0h1.5m.5 0h1.5m.5 0h1.5m.5 0h1.5m-.5 0h1.5m4.5 0h1.5m1.5 0h1.5m-26.5 1h1.5m4.5 0h1.5m.5 0h1.5m-.5 0h1.5m-.5 0h1.5m.5 0h1.5m.5 0h1.5m-.5 0h1.5m1.5 0h1.5m1.5 0h1.5m-29.5 1h1.5m11.5 0h1.5m.5 0h1.5m2.5 0h1.5m.5 0h1.5m.5 0h1.5m-.5 0h1.5m.5 0h1.5m1.5 0h1.5m-.5 0h1.5m.5 0h1.5m-28.5 1h1.5m.5 0h1.5m.5 0h1.5m-.5 0h1.5m.5 0h1.5m1.5 0h1.5m8.5 0h1.5m.5 0h1.5m3.5 0h1.5m-.5 0h1.5m-32.5 1h1.5m-.5 0h1.5m.5 0h1.5m-.5 0h1.5m-.5 0h1.5m1.5 0h1.5m-.5 0h1.5m1.5 0h1.5m4.5 0h1.5m-.5 0h1.5m-.5 0h1.5m1.5 0h1.5m.5 0h1.5m-.5 0h1.5m-.5 0h1.5m-26.5 1h1.5m-.5 0h1.5m3.5 0h1.5m1.5 0h1.5m1.5 0h1.5m6.5 0h1.5m2.5 0h1.5m.5 0h1.5m-.5 0h1.5m-23.5 1h1.5m-.5 0h1.5m.5 0h1.5m-.5 0h1.5m-.5 0h1.5m2.5 0h1.5m.5 0h1.5m-.5 0h1.5m.5 0h1.5m4.5 0h1.5m.5 0h1.5m1.5 0h1.5m-35.5 1h1.5m.5 0h1.5m2.5 0h1.5m.5 0h1.5m-.5 0h1.5m-.5 0h1.5m-.5 0h1.5m-.5 0h1.5m-.5 0h1.5m3.5 0h1.5m5.5 0h1.5m-.5 0h1.5m-.5 0h1.5m-.5 0h1.5m-28.5 1h1.5m.5 0h1.5m.5 0h1.5m-.5 0h1.5m1.5 0h1.5m.5 0h1.5m-.5 0h1.5m.5 0h1.5m-.5 0h1.5m.5 0h1.5m2.5 0h1.5m.5 0h1.5m-.5 0h1.5m.5 0h1.5m-.5 0h1.5m1.5 0h1.5m3.5 0h1.5m-34.5 1h1.5m-.5 0h1.5m-.5 0h1.5m-.5 0h1.5m-.5 0h1.5m-.5 0h1.5m.5 0h1.5m.5 0h1.5m-.5 0h1.5m-.5 0h1.5m-.5 0h1.5m.5 0h1.5m-.5 0h1.5m.5 0h1.5m.5 0h1.5m-.5 0h1.5m-.5 0h1.5m2.5 0h1.5m.5 0h1.5m-.5 0h1.5m1.5 0h1.5m-32.5 1h1.5m-.5 0h1.5m2.5 0h1.5m-.5 0h1.5m1.5 0h1.5m1.5 0h1.5m1.5 0h1.5m-.5 0h1.5m1.5 0h1.5m-.5 0h1.5m.5 0h1.5m-.5 0h1.5m2.5 0h1.5m1.5 0h1.5m-34.5 1h1.5m3.5 0h1.5m-.5 0h1.5m-.5 0h1.5m-.5 0h1.5m-.5 0h1.5m-.5 0h1.5m1.5 0h1.5m8.5 0h1.5m2.5 0h1.5m.5 0h1.5m-.5 0h1.5m-.5 0h1.5m1.5 0h1.5m-40.5 1h1.5m4.5 0h1.5m-.5 0h1.5m-.5 0h1.5m-.5 0h1.5m-.5 0h1.5m3.5 0h1.5m-.5 0h1.5m-.5 0h1.5m3.5 0h1.5m-.5 0h1.5m-.5 0h1.5m-.5 0h1.5m-.5 0h1.5m1.5 0h1.5m-.5 0h1.5m-.5 0h1.5m-.5 0h1.5m-.5 0h1.5m1.5 0h1.5m1.5 0h1.5m.5 0h1.5m-39.5 1h1.5m.5 0h1.5m1.5 0h1.5m2.5 0h1.5m-.5 0h1.5m-.5 0h1.5m-.5 0h1.5m-.5 0h1.5m3.5 0h1.5m-.5 0h1.5m-.5 0h1.5m2.5 0h1.5m-.5 0h1.5m.5 0h1.5m-.5 0h1.5m-.5 0h1.5m3.5 0h1.5m-31.5 1h1.5m-.5 0h1.5m4.5 0h1.5m2.5 0h1.5m.5 0h1.5m-.5 0h1.5m-.5 0h1.5m.5 0h1.5m-.5 0h1.5m.5 0h1.5m-.5 0h1.5m.5 0h1.5m1.5 0h1.5m-.5 0h1.5m.5 0h1.5m-.5 0h1.5m-.5 0h1.5m-36.5 1h1.5m2.5 0h1.5m.5 0h1.5m-.5 0h1.5m-.5 0h1.5m4.5 0h1.5m.5 0h1.5m.5 0h1.5m.5 0h1.5m-.5 0h1.5m6.5 0h1.5m1.5 0h1.5m-.5 0h1.5m.5 0h1.5m-33.5 1h1.5m6.5 0h1.5m-.5 0h1.5m-.5 0h1.5m1.5 0h1.5m-.5 0h1.5m.5 0h1.5m2.5 0h1.5m.5 0h1.5m-.5 0h1.5m-.5 0h1.5m-.5 0h1.5m-31.5 1h1.5m4.5 0h1.5m-.5 0h1.5m-.5 0h1.5m-.5 0h1.5m-.5 0h1.5m-.5 0h1.5m-.5 0h1.5m1.5 0h1.5m-.5 0h1.5m3.5 0h1.5m1.5 0h1.5m-.5 0h1.5m-.5 0h1.5m-.5 0h1.5m.5 0h1.5m.5 0h1.5m1.5 0h1.5m-26.5 1h1.5m.5 0h1.5m-.5 0h1.5m.5 0h1.5m.5 0h1.5m.5 0h1.5m-.5 0h1.5m-.5 0h1.5m-.5 0h1.5m1.5 0h1.5m2.5 0h1.5m1.5 0h1.5m-.5 0h1.5m-.5 0h1.5m2.5 0h1.5m-35.5 1h1.5m10.5 0h1.5m.5 0h1.5m-.5 0h1.5m-.5 0h1.5m.5 0h1.5m-.5 0h1.5m-.5 0h1.5m.5 0h1.5m1.5 0h1.5m1.5 0h1.5m-27.5 1h1.5m-.5 0h1.5m4.5 0h1.5m1.5 0h1.5m1.5 0h1.5m-.5 0h1.5m-.5 0h1.5m1.5 0h1.5m.5 0h1.5m4.5 0h1.5m-29.5 1h1.5m-.5 0h1.5m-.5 0h1.5m3.5 0h1.5m4.5 0h1.5m-.5 0h1.5m-.5 0h1.5m-.5 0h1.5m3.5 0h1.5m.5 0h1.5m3.5 0h1.5m-31.5 1h1.5m.5 0h1.5m.5 0h1.5m4.5 0h1.5m-.5 0h1.5m2.5 0h1.5m3.5 0h1.5m-.5 0h1.5m-.5 0h1.5m-.5 0h1.5m-.5 0h1.5m-.5 0h1.5m.5 0h1.5m.5 0h1.5m2.5 0h1.5m-33.5 1h1.5m1.5 0h1.5m5.5 0h1.5m1.5 0h1.5m1.5 0h1.5m.5 0h1.5m-.5 0h1.5m2.5 0h1.5m-.5 0h1.5m-.5 0h1.5m-20.5 1h1.5m.5 0h1.5m3.5 0h1.5m2.5 0h1.5m-.5 0h1.5m2.5 0h1.5m.5 0h1.5m3.5 0h1.5m-30.5 1h1.5m6.5 0h1.5m-.5 0h1.5m-.5 0h1.5m.5 0h1.5m-.5 0h1.5m-.5 0h1.5m1.5 0h1.5m1.5 0h1.5m-.5 0h1.5m-.5 0h1.5m-.5 0h1.5m1.5 0h1.5m-14.5 1h1.5m-.5 0h1.5m-.5 0h1.5m.5 0h1.5m.5 0h1.5m-.5 0h1.5m2.5 0h1.5m-.5 0h1.5m-138.5 1h1.5m107.5 0h1.5m4.5 0h1.5m1.5 0h1.5m-.5 0h1.5m4.5 0h1.5m-.5 0h1.5m-.5 0h1.5m2.5 0h1.5m-.5 0h1.5m-.5 0h1.5m2.5 0h1.5m-24.5 1h1.5m11.5 0h1.5m.5 0h1.5m-.5 0h1.5m.5 0h1.5m.5 0h1.5m-.5 0h1.5m-138.5 1h1.5m-.5 0h1.5m122.5 0h1.5m-.5 0h1.5m1.5 0h1.5m1.5 0h1.5m.5 0h1.5m-.5 0h1.5m-139.5 1h1.5m1.5 0h1.5m.5 0h1.5m-.5 0h1.5m117.5 0h1.5m2.5 0h1.5m.5 0h1.5m2.5 0h1.5m-.5 0h1.5m.5 0h1.5m1.5 0h1.5m-140.5 1h1.5m-.5 0h1.5m-.5 0h1.5m-.5 0h1.5m122.5 0h1.5m-.5 0h1.5m2.5 0h1.5m-.5 0h1.5m.5 0h1.5m5.5 0h1.5m-144.5 1h1.5m-.5 0h1.5m-.5 0h1.5m-.5 0h1.5m-.5 0h1.5m.5 0h1.5m113.5 0h1.5m8.5 0h1.5m.5 0h1.5m2.5 0h1.5m-.5 0h1.5m-139.5 1h1.5m-.5 0h1.5m-.5 0h1.5m-.5 0h1.5m-.5 0h1.5m-.5 0h1.5m116.5 0h1.5m5.5 0h1.5m.5 0h1.5m.5 0h1.5m-133.5 1h1.5m-.5 0h1.5m-.5 0h1.5m118.5 0h1.5m8.5 0h1.5m-135.5 1h1.5m-.5 0h1.5m-.5 0h1.5m-.5 0h1.5m-.5 0h1.5m-.5 0h1.5m-.5 0h1.5m120.5 0h1.5m-.5 0h1.5m2.5 0h1.5m1.5 0h1.5m-137.5 1h1.5m-.5 0h1.5m-.5 0h1.5m-.5 0h1.5m.5 0h1.5m112.5 0h1.5m9.5 0h1.5m.5 0h1.5m1.5 0h1.5m-136.5 1h1.5m-.5 0h1.5m-.5 0h1.5m-.5 0h1.5m-.5 0h1.5m-.5 0h1.5m120.5 0h1.5m2.5 0h1.5m-131.5 1h1.5m-.5 0h1.5m-.5 0h1.5m-.5 0h1.5m-.5 0h1.5m126.5 0h1.5m-134.5 1h1.5m-.5 0h1.5m-.5 0h1.5m-.5 0h1.5m-.5 0h1.5m.5 0h1.5m119.5 0h1.5m-127.5 1h1.5m-.5 0h1.5m-.5 0h1.5m-.5 0h1.5m-.5 0h1.5m-7.5 1h1.5m-.5 0h1.5m-.5 0h1.5m-.5 0h1.5m-.5 0h1.5m-.5 0h1.5m-.5 0h1.5m-.5 0h1.5m120.5 0h1.5m2.5 0h1.5m-133.5 1h1.5m-.5 0h1.5m-.5 0h1.5m-.5 0h1.5m-.5 0h1.5m-.5 0h1.5m-.5 0h1.5m-.5 0h1.5m-9.5 1h1.5m.5 0h1.5m-.5 0h1.5m-.5 0h1.5m-.5 0h1.5m-.5 0h1.5m-.5 0h1.5m-8.5 1h1.5m-.5 0h1.5m-.5 0h1.5m-.5 0h1.5m-.5 0h1.5m-.5 0h1.5m-.5 0h1.5m-.5 0h1.5m-.5 0h1.5m-8.5 1h1.5m-.5 0h1.5m-.5 0h1.5m-.5 0h1.5m-.5 0h1.5m-.5 0h1.5m-.5 0h1.5m-.5 0h1.5m-.5 0h1.5m-9.5 1h1.5m-.5 0h1.5m-.5 0h1.5m-.5 0h1.5m-.5 0h1.5m.5 0h1.5m-7.5 1h1.5m-.5 0h1.5m-.5 0h1.5m-.5 0h1.5m-.5 0h1.5m-.5 0h1.5m-.5 0h1.5m-10.5 1h1.5m-.5 0h1.5m-.5 0h1.5m-.5 0h1.5m-.5 0h1.5m-.5 0h1.5m-.5 0h1.5m-.5 0h1.5m-.5 0h1.5m-6.5 1h1.5m-.5 0h1.5m-.5 0h1.5m-.5 0h1.5m-.5 0h1.5m-.5 0h1.5m-.5 0h1.5m-7.5 1h1.5m-.5 0h1.5m-.5 0h1.5m-.5 0h1.5m-.5 0h1.5m-.5 0h1.5m-.5 0h1.5m-8.5 1h1.5m-.5 0h1.5m-.5 0h1.5m-.5 0h1.5m-.5 0h1.5m-.5 0h1.5m-.5 0h1.5m-.5 0h1.5m-.5 0h1.5m-9.5 1h1.5m-.5 0h1.5m-.5 0h1.5m-.5 0h1.5m-.5 0h1.5m-.5 0h1.5m-.5 0h1.5m-.5 0h1.5m-.5 0h1.5m-8.5 1h1.5m-.5 0h1.5m-.5 0h1.5m-.5 0h1.5m-.5 0h1.5m-.5 0h1.5m-.5 0h1.5m-7.5 1h1.5m-.5 0h1.5m-.5 0h1.5m-.5 0h1.5m-.5 0h1.5m-.5 0h1.5m-.5 0h1.5m-.5 0h1.5m-.5 0h1.5m-8.5 1h1.5m-.5 0h1.5m-.5 0h1.5m-.5 0h1.5m-.5 0h1.5m-5.5 1h1.5m-.5 0h1.5m-.5 0h1.5m-.5 0h1.5m-.5 0h1.5m-.5 0h1.5m1.5 0h1.5m-10.5 1h1.5m-.5 0h1.5m-.5 0h1.5m-.5 0h1.5m-.5 0h1.5m-.5 0h1.5m-.5 0h1.5m-.5 0h1.5m-8.5 1h1.5m-.5 0h1.5m-.5 0h1.5m-.5 0h1.5m-.5 0h1.5m-.5 0h1.5m-.5 0h1.5m-8.5 1h1.5m-.5 0h1.5m-.5 0h1.5m-.5 0h1.5m-.5 0h1.5m-.5 0h1.5m-.5 0h1.5m-6.5 1h1.5m-.5 0h1.5m-.5 0h1.5m-.5 0h1.5m-.5 0h1.5m-.5 0h1.5m-.5 0h1.5m-7.5 1h1.5m-.5 0h1.5m.5 0h1.5m-.5 0h1.5m-.5 0h1.5m-.5 0h1.5m-7.5 1h1.5m-.5 0h1.5m-.5 0h1.5m-.5 0h1.5m-.5 0h1.5m-.5 0h1.5m-6.5 1h1.5m-.5 0h1.5m-.5 0h1.5m-.5 0h1.5m-.5 0h1.5m-.5 0h1.5m.5 0h1.5m-8.5 1h1.5m.5 0h1.5m-.5 0h1.5m-.5 0h1.5m-.5 0h1.5m-.5 0h1.5m-.5 0h1.5m-8.5 1h1.5m-.5 0h1.5m-.5 0h1.5m-.5 0h1.5m-.5 0h1.5m-.5 0h1.5m-5.5 1h1.5m-.5 0h1.5m-.5 0h1.5m-.5 0h1.5m-.5 0h1.5m-4.5 1h1.5m-.5 0h1.5m-.5 0h1.5m-3.5 1h1.5m.5 0h1.5m-3.5 1h1.5m-.5 0h1.5m-.5 0h1.5m-.5 2h1.5" stroke="#1E90FF" stroke-width="1.5"/>
<path d="M1942 734h1.5m1.5 0h1.5m2.5 0h1.5m-7.5 1h1.5m6.5 1h1.5m-.5 0h1.5m-4.5 1h1.5m-17.5 1h1.5m11.5 0h1.5m1.5 0h1.5m6.5 0h1.5m-15.5 1h1.5m3.5 1h1.5m3.5 0h1.5m1.5 0h1.5m-22.5 1h1.5m4.5 0h1.5m8.5 0h1.5m4.5 0h1.5m-7.5 1h1.5m3.5 0h1.5m-23.5 1h1.5m.5 0h1.5m1.5 0h1.5m1.5 0h1.5m-.5 0h1.5m.5 0h1.5m4.5 0h1.5m-.5 0h1.5m.5 0h1.5m-.5 0h1.5m-17.5 1h1.5m1.5 0h1.5m-.5 0h1.5m-.5 0h1.5m.5 0h1.5m-.5 0h1.5m.5 0h1.5m8.5 0h1.5m-25.5 1h1.5m-.5 0h1.5m2.5 0h1.5m1.5 0h1.5m1.5 0h1.5m-.5 0h1.5m5.5 0h1.5m2.5 0h1.5m-26.5 1h1.5m4.5 0h1.5m-.5 0h1.5m-.5 0h1.5m1.5 0h1.5m.5 0h1.5m-.5 0h1.5m1.5 0h1.5m1.5 0h1.5m1.5 0h1.5m-12.5 1h1.5m.5 0h1.5m-.5 0h1.5m.5 0h1.5m-.5 0h1.5m.5 0h1.5m.5 0h1.5m-16.5 1h1.5m1.5 0h1.5m.5 0h1.5m4.5 0h1.5m-.5 0h1.5m1.5 0h1.5m.5 0h1.5m-.5 0h1.5m-27.5 1h1.5m2.5 0h1.5m2.5 0h1.5m-.5 0h1.5m1.5 0h1.5m-.5 0h1.5m-.5 0h1.5m-.5 0h1.5m.5 0h1.5m-.5 0h1.5m.5 0h1.5m-.5 0h1.5m-.5 0h1.5m-19.5 1h1.5m-.5 0h1.5m.5 0h1.5m-.5 0h1.5m-.5 0h1.5m-.5 0h1.5m-.5 0h1.5m.5 0h1.5m2.5 0h1.5m-.5 0h1.5m-.5 0h1.5m-.5 0h1.5m-.5 0h1.5m4.5 0h1.5m-26.5 1h1.5m.5 0h1.5m-.5 0h1.5m-.5 0h1.5m1.5 0h1.5m4.5 0h1.5m.5 0h1.5m4.5 0h1.5m.5 0h1.5m-28.5 1h1.5m7.5 0h1.5m8.5 0h1.5m-3.5 1h1.5m.5 0h1.5m.5 0h1.5m-15.5 1h1.5m3.5 0h1.5m6.5 0h1.5m4.5 0h1.5m-15.5 1h1.5m2.5 0h1.5m4.5 0h1.5m1.5 0h1.5m-12.5 1h1.5m2.5 0h1.5m.5 0h1.5m-12.5 1h1.5m4.5 0h1.5m2.5 0h1.5m-8.5 1h1.5m5.5 0h1.5m-11.5 1h1.5m.5 0h1.5m1.5 0h1.5m1.5 0h1.5m-8.5 1h1.5m.5 0h1.5m.5 0h1.5m1.5 0h1.5m-7.5 2h1.5m1.5 0h1.5m-9.5 1h1.5m3.5 0h1.5m-.5 0h1.5m-.5 0h1.5m.5 0h1.5m-7.5 1h1.5m1.5 1h1.5m-2.5 3h1.5m2.5 0h1.5m-4.5 2h1.5" stroke="#20D0E0" stroke-width="1.5"/>
<path d="M1945 734h1.5m-5.5 6h1.5m11.5 1h1.5m-18.5 1h1.5m8.5 1h1.5m4.5 0h1.5m-5.5 2h1.5m3.5 0h1.5m-15.5 1h1.5m-.5 0h1.5m3.5 1h1.5m-5.5 1h1.5m11.5 0h1.5m-1.5 1h1.5m-13.5 1h1.5m.5 0h1.5m3.5 0h1.5m3.5 0h1.5m-1.5 1h1.5m-12.5 1h1.5m3.5 1h1.5" stroke="#30E080" stroke-width="1.5"/>
<ellipse cx="1814.4" cy="784" rx="3.7" ry="30" fill="#30E0D0"/>
<ellipse cx="1814.4" cy="784" rx="3.4" ry="26.5" fill="#40F040"/>
<ellipse cx="1814.4" cy="785" rx="2.4" ry="15" fill="#90F020"/>
<ellipse cx="1814.4" cy="785.5" rx="1.6" ry="9" fill="#E8F000"/>
<ellipse cx="1814.4" cy="786" rx="1.2" ry="6" fill="#FF9000"/>
<ellipse cx="1814.4" cy="786.5" rx="0.9" ry="4.5" fill="#E02000"/>
<rect x="1744.4" y="557.5" width="309.7" height="309.2" fill="none" stroke="#000" stroke-width="1.6"/>
<rect x="1904.2" y="578.3" width="119.6" height="266.6" fill="none" stroke="#000" stroke-width="1.9"/>
<polyline points="1838.9,601.2 1916.7,598.3 1977.3,611.3 2019.1,623.8 2007,655.2 1971,679.2 1933.4,705.3 1902.3,721.2 1859.5,720.4 1798.8,724.3 1797.5,660.4 1813.2,608.1 1814.2,602.9" fill="none" stroke="#000" stroke-width="2.2" stroke-linejoin="round"/>
<line x1="1814.2" y1="602.9" x2="1838.9" y2="601.2" stroke="#BBBBBB" stroke-width="2"/>
<path d="M1762.6 866.7v7.5M1864.9 866.7v7.5M1949.5 866.7v7.5M2023.4 866.7v7.5M1812.5 866.7v4M1826.3 866.7v4M1804.9 866.7v4M1832.2 866.7v4M1797.8 866.7v4M1837.7 866.7v4M1791.3 866.7v4M1842.7 866.7v4M1785.3 866.7v4M1847.3 866.7v4M1779.9 866.7v4M1851.5 866.7v4M1775 866.7v4M1855.3 866.7v4M1770.5 866.7v4M1858.8 866.7v4M1766.4 866.7v4M1862 866.7v4M1889.4 866.7v4M1904.3 866.7v4M1915.1 866.7v4M1923.4 866.7v4M1930.3 866.7v4M1936.1 866.7v4M1941.1 866.7v4M1945.5 866.7v4M1971.7 866.7v4M1984.8 866.7v4M1994 866.7v4M2001.2 866.7v4M2007 866.7v4M2012 866.7v4M2016.2 866.7v4M2020 866.7v4M2045.7 866.7v4" fill="none" stroke="#000" stroke-width="1.3"/>
<rect x="1808.3" y="867.7" width="11" height="5" fill="#000" stroke="none" stroke-width="0"/>
<text x="1762.1" y="892.5" font-size="10.5">-10<tspan font-size="7.6" dy="-5.8">3</tspan></text>
<text x="1864.1" y="892.5" font-size="10.5">10<tspan font-size="7.6" dy="-5.8">3</tspan></text>
<text x="1948.7" y="892.5" font-size="10.5">10<tspan font-size="7.6" dy="-5.8">4</tspan></text>
<text x="2022.6" y="892.5" font-size="10.5">10<tspan font-size="7.6" dy="-5.8">5</tspan></text>
<text x="1817.4" y="892.5" font-size="10.50">0</text>
<path d="M1744.4 844h-7.5M1744.4 742.5h-7.5M1744.4 658.1h-7.5M1744.4 584.3h-7.5M1744.4 800.3h-4M1744.4 786.5h-4M1744.4 806.9h-4M1744.4 779.8h-4M1744.4 813.1h-4M1744.4 773.6h-4M1744.4 818.8h-4M1744.4 767.8h-4M1744.4 824.1h-4M1744.4 762.5h-4M1744.4 828.8h-4M1744.4 757.8h-4M1744.4 833.1h-4M1744.4 753.4h-4M1744.4 837.1h-4M1744.4 749.5h-4M1744.4 840.7h-4M1744.4 745.8h-4M1744.4 718.1h-4M1744.4 703.2h-4M1744.4 692.5h-4M1744.4 684.1h-4M1744.4 677.3h-4M1744.4 671.5h-4M1744.4 666.5h-4M1744.4 662.1h-4M1744.4 635.9h-4M1744.4 622.9h-4M1744.4 613.7h-4M1744.4 606.5h-4M1744.4 600.7h-4M1744.4 595.7h-4M1744.4 591.5h-4M1744.4 587.7h-4M1744.4 562.1h-4" fill="none" stroke="#000" stroke-width="1.3"/>
<rect x="1737.4" y="789.4" width="6" height="11" fill="#000" stroke="none" stroke-width="0"/>
<text x="1711.8" y="851.1" font-size="10.5">-10<tspan font-size="7.6" dy="-5.8">3</tspan></text>
<text x="1715.3" y="749.6" font-size="10.5">10<tspan font-size="7.6" dy="-5.8">3</tspan></text>
<text x="1715.3" y="665.3" font-size="10.5">10<tspan font-size="7.6" dy="-5.8">4</tspan></text>
<text x="1715.3" y="591.4" font-size="10.5">10<tspan font-size="7.6" dy="-5.8">5</tspan></text>
<text x="1723.4" y="798.6" font-size="10.50">0</text>
<text x="1410.6" y="581.4" font-size="13.25">MerTK(+)</text>
<text x="1425.9" y="599.1" font-size="13.25">0.82</text>
<text x="1457.2" y="793.8" font-size="12.94">CD45(+)</text>
<text x="1468.3" y="812.2" font-size="13.29">39.7</text>
<text x="1782.9" y="581.6" font-size="13.22">MerTK(+)</text>
<text x="1798" y="598.9" font-size="13.62">3.12</text>
<text x="1829.4" y="794.5" font-size="13.16">CD45(+)</text>
<text x="1840.2" y="811.8" font-size="13.46">43.8</text>
<line x1="1323.7" y1="929.5" x2="1323.7" y2="881.7" stroke="#000" stroke-width="2"/>
<polygon points="1315.7,882.7 1331.7,882.7 1323.7,866.7" fill="#000" stroke="none" stroke-width="0"/>
<line x1="1322.7" y1="928.5" x2="1371.1" y2="928.5" stroke="#000" stroke-width="2"/>
<polygon points="1370.1,920.5 1370.1,936.5 1385.6,928.5" fill="#000" stroke="none" stroke-width="0"/>
<text x="1393.2" y="937.7" font-size="25.37">PE-CD45</text>
<text transform="translate(1305.4,927.6) rotate(-90)" font-size="25.18">Alexa488 (MerTK)</text>
<text x="44.4" y="1025.6" font-size="43.00" font-weight="bold">g</text>
<text x="722.9" y="1032.3" font-size="25.62">CD11b(+)</text>
<line x1="302" y1="1052.8" x2="1247" y2="1052.8" stroke="#000" stroke-width="2"/>
<path d="M91.8 1311.4L91.8 1310.7 C93 1309 96.6 1304.6 98.5 1300.7C100.5 1296.8 101.9 1293.2 103.5 1287.3C105.2 1281.5 106.9 1273.1 108.6 1265.6C110.2 1258.1 111.9 1248.6 113.6 1242.2C115.2 1235.8 117.1 1234.4 118.6 1227.1C120.1 1219.9 121.6 1211.1 122.8 1198.7C123.9 1186.3 124.6 1158.1 125.6 1152.8C126.6 1147.5 127.7 1163.2 128.6 1167C129.5 1170.7 130.3 1174.8 131.1 1175.3C132 1175.9 132.8 1170 133.6 1170.3C134.5 1170.6 135 1171.7 136.1 1177C137.2 1182.3 138.5 1192.3 140.3 1202.1C142.1 1211.8 145 1225.7 147 1235.5C148.9 1245.2 150.3 1251.9 152 1260.6C153.7 1269.2 155.4 1280.1 157 1287.3C158.7 1294.6 160.4 1300.1 162 1304C163.7 1307.9 166.2 1309.6 167.1 1310.7L167.1 1311.4Z" fill="#DEDEDE" stroke="none"/>
<path d="M91.8 1310.7C93 1309 96.6 1304.6 98.5 1300.7C100.5 1296.8 101.9 1293.2 103.5 1287.3C105.2 1281.5 106.9 1273.1 108.6 1265.6C110.2 1258.1 111.9 1248.6 113.6 1242.2C115.2 1235.8 117.1 1234.4 118.6 1227.1C120.1 1219.9 121.6 1211.1 122.8 1198.7C123.9 1186.3 124.6 1158.1 125.6 1152.8C126.6 1147.5 127.7 1163.2 128.6 1167C129.5 1170.7 130.3 1174.8 131.1 1175.3C132 1175.9 132.8 1170 133.6 1170.3C134.5 1170.6 135 1171.7 136.1 1177C137.2 1182.3 138.5 1192.3 140.3 1202.1C142.1 1211.8 145 1225.7 147 1235.5C148.9 1245.2 150.3 1251.9 152 1260.6C153.7 1269.2 155.4 1280.1 157 1287.3C158.7 1294.6 160.4 1300.1 162 1304C163.7 1307.9 166.2 1309.6 167.1 1310.7" fill="none" stroke="#B5B5B5" stroke-width="1.1"/>
<path d="M83.5 1311.5C85.2 1311.4 90.7 1312.5 93.5 1310.7C96.3 1308.9 98.4 1304.9 100.2 1300.7C102 1296.5 103.1 1291.2 104.4 1285.6C105.6 1280.1 106.5 1272 107.7 1267.3C109 1262.5 110.6 1261.4 111.9 1257.2C113.2 1253 114.3 1245.1 115.2 1242.2C116.2 1239.3 116.9 1240.5 117.7 1239.7C118.6 1238.8 119.4 1242 120.3 1237.2C121.1 1232.3 122.1 1220.5 122.8 1210.4C123.5 1200.4 123.9 1182.8 124.4 1177C125 1171.1 125.4 1174.1 126.1 1175.3C126.8 1176.6 127.9 1182.8 128.6 1184.5C129.3 1186.2 129.4 1186.3 130.3 1185.4C131.1 1184.4 132.7 1178.9 133.6 1178.7C134.6 1178.4 135.2 1180.1 136.1 1183.7C137.1 1187.3 138.2 1193.2 139.5 1200.4C140.7 1207.6 142.1 1219.9 143.7 1227.1C145.2 1234.4 147.1 1238.3 148.7 1243.9C150.2 1249.4 151.5 1253.6 152.8 1260.6C154.2 1267.5 155.5 1278.7 157 1285.6C158.6 1292.6 160.1 1298.2 162 1302.4C164 1306.5 166.5 1309.2 168.7 1310.7C171 1312.2 174.3 1311.4 175.4 1311.5" fill="none" stroke="#000" stroke-width="1.4" stroke-linejoin="round"/>
<rect x="58.4" y="1105.5" width="194.7" height="206.4" fill="none" stroke="#222" stroke-width="1.3"/>
<path d="M58.4 1311.5h-5.5M58.4 1301.7h-2.8M58.4 1291.9h-2.8M58.4 1282.1h-2.8M58.4 1272.2h-5.5M58.4 1262.4h-2.8M58.4 1252.6h-2.8M58.4 1242.8h-2.8M58.4 1233h-5.5M58.4 1223.2h-2.8M58.4 1213.3h-2.8M58.4 1203.5h-2.8M58.4 1193.7h-5.5M58.4 1183.9h-2.8M58.4 1174.1h-2.8M58.4 1164.3h-2.8M58.4 1154.5h-5.5M58.4 1144.6h-2.8M58.4 1134.8h-2.8M58.4 1125h-2.8M58.4 1115.2h-5.5" fill="none" stroke="#000" stroke-width="1.1"/>
<text x="47.1" y="1314.2" font-size="7.40">0</text>
<text x="43" y="1274.9" font-size="7.40">20</text>
<text x="43" y="1235.7" font-size="7.40">40</text>
<text x="43" y="1196.4" font-size="7.40">60</text>
<text x="43" y="1157.2" font-size="7.40">80</text>
<text x="38.8" y="1117.9" font-size="7.40">100</text>
<path d="M70.1 1311.9v5M133.8 1311.9v5M187.1 1311.9v5M233.6 1311.9v5M101.2 1311.9v2.8M109.9 1311.9v2.8M96.5 1311.9v2.8M113.5 1311.9v2.8M92.1 1311.9v2.8M116.9 1311.9v2.8M88 1311.9v2.8M120.1 1311.9v2.8M84.3 1311.9v2.8M122.9 1311.9v2.8M80.9 1311.9v2.8M125.5 1311.9v2.8M77.8 1311.9v2.8M127.9 1311.9v2.8M75 1311.9v2.8M130 1311.9v2.8M72.4 1311.9v2.8M132 1311.9v2.8M149.2 1311.9v2.8M158.7 1311.9v2.8M165.4 1311.9v2.8M170.7 1311.9v2.8M175 1311.9v2.8M178.6 1311.9v2.8M181.8 1311.9v2.8M184.6 1311.9v2.8M201.1 1311.9v2.8M209.3 1311.9v2.8M215.1 1311.9v2.8M219.6 1311.9v2.8M223.3 1311.9v2.8M226.4 1311.9v2.8M229.1 1311.9v2.8M231.4 1311.9v2.8M247.6 1311.9v2.8" fill="none" stroke="#000" stroke-width="1.1"/>
<rect x="99.1" y="1312.9" width="8" height="3.5" fill="#000" stroke="none" stroke-width="0"/>
<text x="69.8" y="1330.9" font-size="7.4">-10<tspan font-size="5.3" dy="-4.1">3</tspan></text>
<text x="133.3" y="1330.9" font-size="7.4">10<tspan font-size="5.3" dy="-4.1">3</tspan></text>
<text x="186.5" y="1330.9" font-size="7.4">10<tspan font-size="5.3" dy="-4.1">4</tspan></text>
<text x="233" y="1330.9" font-size="7.4">10<tspan font-size="5.3" dy="-4.1">5</tspan></text>
<text x="104" y="1330.9" font-size="7.40">0</text>
<text x="99.7" y="1093.4" font-size="25.31">CD11b(-)</text>
<path d="M347 1311.4L347 1312 C348.5 1310.2 353.3 1308.3 355.9 1301.3C358.5 1294.3 360.8 1281.9 362.6 1270C364.5 1258 366 1239.4 367.1 1229.7C368.2 1220 368.6 1215 369.3 1211.8C370.1 1208.6 370.4 1216.3 371.6 1210.7C372.7 1205.1 374.5 1187.6 376 1178.3C377.5 1169 379.2 1157.4 380.5 1154.8C381.8 1152.2 382.9 1160.6 383.9 1162.6C384.8 1164.7 385.4 1167.5 386.1 1167.1C386.8 1166.7 387.4 1158.5 388.3 1160.4C389.3 1162.2 390.8 1171.2 391.7 1178.3C392.6 1185.4 392.8 1193.6 393.9 1202.9C395 1212.2 396.9 1223 398.4 1234.2C399.9 1245.4 401.4 1259.5 402.9 1270C404.4 1280.4 405.9 1289.9 407.3 1296.8C408.8 1303.7 411.1 1308.9 411.8 1311.3L411.8 1311.4Z" fill="#DEDEDE" stroke="none"/>
<path d="M347 1312C348.5 1310.2 353.3 1308.3 355.9 1301.3C358.5 1294.3 360.8 1281.9 362.6 1270C364.5 1258 366 1239.4 367.1 1229.7C368.2 1220 368.6 1215 369.3 1211.8C370.1 1208.6 370.4 1216.3 371.6 1210.7C372.7 1205.1 374.5 1187.6 376 1178.3C377.5 1169 379.2 1157.4 380.5 1154.8C381.8 1152.2 382.9 1160.6 383.9 1162.6C384.8 1164.7 385.4 1167.5 386.1 1167.1C386.8 1166.7 387.4 1158.5 388.3 1160.4C389.3 1162.2 390.8 1171.2 391.7 1178.3C392.6 1185.4 392.8 1193.6 393.9 1202.9C395 1212.2 396.9 1223 398.4 1234.2C399.9 1245.4 401.4 1259.5 402.9 1270C404.4 1280.4 405.9 1289.9 407.3 1296.8C408.8 1303.7 411.1 1308.9 411.8 1311.3" fill="none" stroke="#B5B5B5" stroke-width="1.1"/>
<path d="M344.7 1312C346.2 1311.5 351.2 1311.6 353.7 1309.1C356.1 1306.6 357.8 1301.8 359.3 1296.8C360.8 1291.8 361.3 1284.1 362.6 1278.9C363.9 1273.7 365.6 1272.2 367.1 1265.5C368.6 1258.8 370.3 1252.4 371.6 1238.6C372.9 1224.9 373.8 1190.4 374.9 1182.7C376 1175.1 377 1195 378.3 1192.8C379.6 1190.6 381.3 1172.1 382.7 1169.3C384.2 1166.5 385.7 1172.7 387.2 1176C388.7 1179.4 390.4 1185.4 391.7 1189.5C393 1193.6 393.9 1194.7 395 1200.6C396.2 1206.6 397.1 1215.9 398.4 1225.2C399.7 1234.5 401.4 1246.1 402.9 1256.5C404.4 1267 405.9 1279.6 407.3 1287.8C408.8 1296 410 1301.7 411.8 1305.7C413.7 1309.8 417.4 1311 418.5 1312" fill="none" stroke="#000" stroke-width="1.4" stroke-linejoin="round"/>
<rect x="305.9" y="1105.5" width="195.1" height="206.4" fill="none" stroke="#222" stroke-width="1.3"/>
<path d="M305.9 1311.5h-5.5M305.9 1301.7h-2.8M305.9 1291.9h-2.8M305.9 1282.1h-2.8M305.9 1272.2h-5.5M305.9 1262.4h-2.8M305.9 1252.6h-2.8M305.9 1242.8h-2.8M305.9 1233h-5.5M305.9 1223.2h-2.8M305.9 1213.3h-2.8M305.9 1203.5h-2.8M305.9 1193.7h-5.5M305.9 1183.9h-2.8M305.9 1174.1h-2.8M305.9 1164.3h-2.8M305.9 1154.5h-5.5M305.9 1144.6h-2.8M305.9 1134.8h-2.8M305.9 1125h-2.8M305.9 1115.2h-5.5" fill="none" stroke="#000" stroke-width="1.1"/>
<text x="294.6" y="1314.2" font-size="7.40">0</text>
<text x="290.5" y="1274.9" font-size="7.40">20</text>
<text x="290.5" y="1235.7" font-size="7.40">40</text>
<text x="290.5" y="1196.4" font-size="7.40">60</text>
<text x="290.5" y="1157.2" font-size="7.40">80</text>
<text x="286.3" y="1117.9" font-size="7.40">100</text>
<path d="M317.6 1311.9v5M381.5 1311.9v5M434.9 1311.9v5M481.4 1311.9v5M348.8 1311.9v2.8M357.5 1311.9v2.8M344.1 1311.9v2.8M361.1 1311.9v2.8M339.6 1311.9v2.8M364.5 1311.9v2.8M335.5 1311.9v2.8M367.7 1311.9v2.8M331.8 1311.9v2.8M370.6 1311.9v2.8M328.4 1311.9v2.8M373.2 1311.9v2.8M325.4 1311.9v2.8M375.5 1311.9v2.8M322.5 1311.9v2.8M377.7 1311.9v2.8M320 1311.9v2.8M379.7 1311.9v2.8M396.9 1311.9v2.8M406.4 1311.9v2.8M413.1 1311.9v2.8M418.4 1311.9v2.8M422.7 1311.9v2.8M426.4 1311.9v2.8M429.6 1311.9v2.8M432.4 1311.9v2.8M448.9 1311.9v2.8M457.1 1311.9v2.8M462.9 1311.9v2.8M467.4 1311.9v2.8M471.1 1311.9v2.8M474.2 1311.9v2.8M476.9 1311.9v2.8M479.3 1311.9v2.8M495.5 1311.9v2.8" fill="none" stroke="#000" stroke-width="1.1"/>
<rect x="346.7" y="1312.9" width="8" height="3.5" fill="#000" stroke="none" stroke-width="0"/>
<text x="317.3" y="1330.9" font-size="7.4">-10<tspan font-size="5.3" dy="-4.1">3</tspan></text>
<text x="380.9" y="1330.9" font-size="7.4">10<tspan font-size="5.3" dy="-4.1">3</tspan></text>
<text x="434.3" y="1330.9" font-size="7.4">10<tspan font-size="5.3" dy="-4.1">4</tspan></text>
<text x="480.9" y="1330.9" font-size="7.4">10<tspan font-size="5.3" dy="-4.1">5</tspan></text>
<text x="351.6" y="1330.9" font-size="7.40">0</text>
<text x="304.6" y="1092.7" font-size="25.40">Ly6C(-) F4/80(-)</text>
<path d="M599.7 1311.4L599.7 1311.3 C601.9 1309.7 609.4 1308.2 613.1 1301.3C616.8 1294.4 619.4 1284.9 622 1270C624.6 1255 626.9 1230.8 628.7 1211.8C630.6 1192.8 632.1 1168 633.2 1155.9C634.3 1143.8 634.5 1139.1 635.4 1139.1C636.4 1139.1 637.7 1146.8 638.8 1155.9C639.9 1165 640.8 1182.4 642.2 1193.9C643.5 1205.5 645.1 1214.8 646.6 1225.2C648.1 1235.7 649.2 1245.4 651.1 1256.5C653 1267.7 655.2 1283.2 657.8 1292.3C660.4 1301.5 665.3 1308.2 666.8 1311.3L666.8 1311.4Z" fill="#DEDEDE" stroke="none"/>
<path d="M599.7 1311.3C601.9 1309.7 609.4 1308.2 613.1 1301.3C616.8 1294.4 619.4 1284.9 622 1270C624.6 1255 626.9 1230.8 628.7 1211.8C630.6 1192.8 632.1 1168 633.2 1155.9C634.3 1143.8 634.5 1139.1 635.4 1139.1C636.4 1139.1 637.7 1146.8 638.8 1155.9C639.9 1165 640.8 1182.4 642.2 1193.9C643.5 1205.5 645.1 1214.8 646.6 1225.2C648.1 1235.7 649.2 1245.4 651.1 1256.5C653 1267.7 655.2 1283.2 657.8 1292.3C660.4 1301.5 665.3 1308.2 666.8 1311.3" fill="none" stroke="#B5B5B5" stroke-width="1.1"/>
<path d="M597.4 1312C599.3 1311.3 605.3 1311.3 608.6 1308C612 1304.7 614.9 1300.1 617.6 1292.3C620.2 1284.5 622.4 1271.4 624.3 1261C626.1 1250.6 627.2 1241.6 628.7 1229.7C630.2 1217.8 631.5 1200.3 633.2 1189.5C634.9 1178.6 637.1 1166.3 638.8 1164.9C640.5 1163.4 642 1174.7 643.3 1180.5C644.6 1186.3 645.5 1191.3 646.6 1199.5C647.7 1207.7 648.5 1218 650 1229.7C651.5 1241.4 653.5 1258.8 655.6 1270C657.6 1281.1 659.7 1290.1 662.3 1296.8C664.9 1303.5 668.2 1307.7 671.2 1310.2C674.2 1312.7 678.7 1311.7 680.2 1312" fill="none" stroke="#000" stroke-width="1.4" stroke-linejoin="round"/>
<rect x="553.8" y="1105.5" width="195.5" height="206.4" fill="none" stroke="#222" stroke-width="1.3"/>
<path d="M553.8 1311.5h-5.5M553.8 1301.7h-2.8M553.8 1291.9h-2.8M553.8 1282.1h-2.8M553.8 1272.2h-5.5M553.8 1262.4h-2.8M553.8 1252.6h-2.8M553.8 1242.8h-2.8M553.8 1233h-5.5M553.8 1223.2h-2.8M553.8 1213.3h-2.8M553.8 1203.5h-2.8M553.8 1193.7h-5.5M553.8 1183.9h-2.8M553.8 1174.1h-2.8M553.8 1164.3h-2.8M553.8 1154.5h-5.5M553.8 1144.6h-2.8M553.8 1134.8h-2.8M553.8 1125h-2.8M553.8 1115.2h-5.5" fill="none" stroke="#000" stroke-width="1.1"/>
<text x="542.5" y="1314.2" font-size="7.40">0</text>
<text x="538.4" y="1274.9" font-size="7.40">20</text>
<text x="538.4" y="1235.7" font-size="7.40">40</text>
<text x="538.4" y="1196.4" font-size="7.40">60</text>
<text x="538.4" y="1157.2" font-size="7.40">80</text>
<text x="534.2" y="1117.9" font-size="7.40">100</text>
<path d="M565.5 1311.9v5M629.6 1311.9v5M683 1311.9v5M729.7 1311.9v5M596.8 1311.9v2.8M605.5 1311.9v2.8M592.1 1311.9v2.8M609.1 1311.9v2.8M587.6 1311.9v2.8M612.6 1311.9v2.8M583.5 1311.9v2.8M615.7 1311.9v2.8M579.8 1311.9v2.8M618.6 1311.9v2.8M576.4 1311.9v2.8M621.2 1311.9v2.8M573.3 1311.9v2.8M623.6 1311.9v2.8M570.5 1311.9v2.8M625.7 1311.9v2.8M567.9 1311.9v2.8M627.7 1311.9v2.8M645 1311.9v2.8M654.5 1311.9v2.8M661.3 1311.9v2.8M666.5 1311.9v2.8M670.9 1311.9v2.8M674.5 1311.9v2.8M677.7 1311.9v2.8M680.5 1311.9v2.8M697.1 1311.9v2.8M705.3 1311.9v2.8M711.1 1311.9v2.8M715.6 1311.9v2.8M719.3 1311.9v2.8M722.5 1311.9v2.8M725.2 1311.9v2.8M727.6 1311.9v2.8M743.7 1311.9v2.8" fill="none" stroke="#000" stroke-width="1.1"/>
<rect x="594.7" y="1312.9" width="8" height="3.5" fill="#000" stroke="none" stroke-width="0"/>
<text x="565.2" y="1330.9" font-size="7.4">-10<tspan font-size="5.3" dy="-4.1">3</tspan></text>
<text x="629" y="1330.9" font-size="7.4">10<tspan font-size="5.3" dy="-4.1">3</tspan></text>
<text x="682.5" y="1330.9" font-size="7.4">10<tspan font-size="5.3" dy="-4.1">4</tspan></text>
<text x="729.1" y="1330.9" font-size="7.4">10<tspan font-size="5.3" dy="-4.1">5</tspan></text>
<text x="599.6" y="1330.9" font-size="7.40">0</text>
<text x="534.4" y="1092.7" font-size="25.43">Ly6C(int) F4/80(int)</text>
<path d="M859.8 1311.4L859.8 1310.8 C861.6 1309.2 867.5 1305.6 870.7 1301.3C873.9 1297 876.6 1293.1 878.9 1284.9C881.1 1276.8 882.7 1265 884.3 1252.3C885.9 1239.6 887.2 1217.3 888.4 1208.7C889.5 1200.1 890 1202.8 891.1 1200.5C892.2 1198.3 894.1 1198.3 895.2 1195.1C896.3 1191.9 896.9 1185 897.9 1181.5C898.9 1177.9 900.3 1173.8 901.2 1173.8C902.1 1173.8 902.8 1177.5 903.4 1181.5C903.9 1185.5 904 1187.8 904.7 1197.8C905.4 1207.8 906.5 1231.8 907.4 1241.4C908.3 1250.9 909 1248.6 910.2 1255C911.3 1261.3 912.9 1271.8 914.2 1279.5C915.6 1287.2 917 1296 918.3 1301.3C919.7 1306.5 921.7 1309.2 922.4 1310.8L922.4 1311.4Z" fill="#DEDEDE" stroke="none"/>
<path d="M859.8 1310.8C861.6 1309.2 867.5 1305.6 870.7 1301.3C873.9 1297 876.6 1293.1 878.9 1284.9C881.1 1276.8 882.7 1265 884.3 1252.3C885.9 1239.6 887.2 1217.3 888.4 1208.7C889.5 1200.1 890 1202.8 891.1 1200.5C892.2 1198.3 894.1 1198.3 895.2 1195.1C896.3 1191.9 896.9 1185 897.9 1181.5C898.9 1177.9 900.3 1173.8 901.2 1173.8C902.1 1173.8 902.8 1177.5 903.4 1181.5C903.9 1185.5 904 1187.8 904.7 1197.8C905.4 1207.8 906.5 1231.8 907.4 1241.4C908.3 1250.9 909 1248.6 910.2 1255C911.3 1261.3 912.9 1271.8 914.2 1279.5C915.6 1287.2 917 1296 918.3 1301.3C919.7 1306.5 921.7 1309.2 922.4 1310.8" fill="none" stroke="#B5B5B5" stroke-width="1.1"/>
<path d="M859.8 1311.6C862.1 1311.3 870.2 1310.1 873.4 1310C876.6 1309.8 877 1310.5 878.9 1310.8C880.7 1311.1 882.7 1314.1 884.3 1311.6C885.9 1309.1 886.6 1303 888.4 1295.8C890.2 1288.6 893.1 1276.8 895.2 1268.6C897.2 1260.4 899 1254.1 900.6 1246.8C902.2 1239.6 903.6 1232.3 904.7 1225C905.8 1217.8 906.5 1208.7 907.4 1203.3C908.3 1197.8 909 1194.3 910.2 1192.4C911.3 1190.5 913.1 1190.9 914.2 1191.8C915.4 1192.7 916.1 1193.2 917 1197.8C917.9 1202.4 918.6 1214.1 919.7 1219.6C920.8 1225 922.6 1227.3 923.8 1230.5C924.9 1233.7 925.6 1233.2 926.5 1238.6C927.4 1244.1 928.1 1255 929.2 1263.1C930.4 1271.3 931.7 1280.4 933.3 1287.7C934.9 1294.9 936.5 1302.7 938.7 1306.7C941 1310.7 945.6 1310.8 946.9 1311.6" fill="none" stroke="#000" stroke-width="1.4" stroke-linejoin="round"/>
<rect x="802.6" y="1105.5" width="193.9" height="206.4" fill="none" stroke="#222" stroke-width="1.3"/>
<path d="M802.6 1311.5h-5.5M802.6 1301.7h-2.8M802.6 1291.9h-2.8M802.6 1282.1h-2.8M802.6 1272.2h-5.5M802.6 1262.4h-2.8M802.6 1252.6h-2.8M802.6 1242.8h-2.8M802.6 1233h-5.5M802.6 1223.2h-2.8M802.6 1213.3h-2.8M802.6 1203.5h-2.8M802.6 1193.7h-5.5M802.6 1183.9h-2.8M802.6 1174.1h-2.8M802.6 1164.3h-2.8M802.6 1154.5h-5.5M802.6 1144.6h-2.8M802.6 1134.8h-2.8M802.6 1125h-2.8M802.6 1115.2h-5.5" fill="none" stroke="#000" stroke-width="1.1"/>
<text x="791.3" y="1314.2" font-size="7.40">0</text>
<text x="787.2" y="1274.9" font-size="7.40">20</text>
<text x="787.2" y="1235.7" font-size="7.40">40</text>
<text x="787.2" y="1196.4" font-size="7.40">60</text>
<text x="787.2" y="1157.2" font-size="7.40">80</text>
<text x="783" y="1117.9" font-size="7.40">100</text>
<path d="M814.2 1311.9v5M877.7 1311.9v5M930.8 1311.9v5M977.1 1311.9v5M845.2 1311.9v2.8M853.9 1311.9v2.8M840.5 1311.9v2.8M857.5 1311.9v2.8M836.1 1311.9v2.8M860.9 1311.9v2.8M832.1 1311.9v2.8M864 1311.9v2.8M828.4 1311.9v2.8M866.9 1311.9v2.8M825 1311.9v2.8M869.4 1311.9v2.8M821.9 1311.9v2.8M871.8 1311.9v2.8M819.1 1311.9v2.8M874 1311.9v2.8M816.6 1311.9v2.8M875.9 1311.9v2.8M893.1 1311.9v2.8M902.4 1311.9v2.8M909.2 1311.9v2.8M914.4 1311.9v2.8M918.7 1311.9v2.8M922.3 1311.9v2.8M925.5 1311.9v2.8M928.3 1311.9v2.8M944.7 1311.9v2.8M952.8 1311.9v2.8M958.6 1311.9v2.8M963.1 1311.9v2.8M966.8 1311.9v2.8M969.9 1311.9v2.8M972.6 1311.9v2.8M974.9 1311.9v2.8M991 1311.9v2.8" fill="none" stroke="#000" stroke-width="1.1"/>
<rect x="843.1" y="1312.9" width="8" height="3.5" fill="#000" stroke="none" stroke-width="0"/>
<text x="813.9" y="1330.9" font-size="7.4">-10<tspan font-size="5.3" dy="-4.1">3</tspan></text>
<text x="877.2" y="1330.9" font-size="7.4">10<tspan font-size="5.3" dy="-4.1">3</tspan></text>
<text x="930.2" y="1330.9" font-size="7.4">10<tspan font-size="5.3" dy="-4.1">4</tspan></text>
<text x="976.5" y="1330.9" font-size="7.4">10<tspan font-size="5.3" dy="-4.1">5</tspan></text>
<text x="848" y="1330.9" font-size="7.40">0</text>
<text x="792.4" y="1091.6" font-size="25.51">Ly6C(int) F4/80(hi)</text>
<path d="M1077.6 1311.4L1077.6 1310.8 C1079.4 1308.3 1085.3 1301.9 1088.5 1295.8C1091.7 1289.7 1094.4 1282.2 1096.7 1274C1098.9 1265.9 1100.3 1255 1102.1 1246.8C1103.9 1238.6 1105.7 1236.8 1107.5 1225C1109.4 1213.2 1111.2 1186.9 1113 1176C1114.8 1165.1 1117.1 1161.5 1118.4 1159.7C1119.8 1157.9 1120.3 1160.6 1121.2 1165.1C1122.1 1169.7 1122.7 1188.3 1123.9 1186.9C1125 1185.6 1126.8 1158.8 1128 1157C1129.1 1155.2 1129.8 1164.7 1130.7 1176C1131.6 1187.4 1132.3 1212.3 1133.4 1225C1134.5 1237.7 1135.9 1241.4 1137.5 1252.3C1139.1 1263.1 1141.1 1281.3 1142.9 1290.4C1144.8 1299.4 1146.6 1303.3 1148.4 1306.7C1150.2 1310.1 1152.9 1310.1 1153.8 1310.8L1153.8 1311.4Z" fill="#DEDEDE" stroke="none"/>
<path d="M1077.6 1310.8C1079.4 1308.3 1085.3 1301.9 1088.5 1295.8C1091.7 1289.7 1094.4 1282.2 1096.7 1274C1098.9 1265.9 1100.3 1255 1102.1 1246.8C1103.9 1238.6 1105.7 1236.8 1107.5 1225C1109.4 1213.2 1111.2 1186.9 1113 1176C1114.8 1165.1 1117.1 1161.5 1118.4 1159.7C1119.8 1157.9 1120.3 1160.6 1121.2 1165.1C1122.1 1169.7 1122.7 1188.3 1123.9 1186.9C1125 1185.6 1126.8 1158.8 1128 1157C1129.1 1155.2 1129.8 1164.7 1130.7 1176C1131.6 1187.4 1132.3 1212.3 1133.4 1225C1134.5 1237.7 1135.9 1241.4 1137.5 1252.3C1139.1 1263.1 1141.1 1281.3 1142.9 1290.4C1144.8 1299.4 1146.6 1303.3 1148.4 1306.7C1150.2 1310.1 1152.9 1310.1 1153.8 1310.8" fill="none" stroke="#B5B5B5" stroke-width="1.1"/>
<path d="M1074.9 1311.6C1076.2 1310.8 1080.3 1308.4 1083 1306.7C1085.8 1305 1088.5 1304.9 1091.2 1301.3C1093.9 1297.6 1096.7 1293.1 1099.4 1284.9C1102.1 1276.8 1105.3 1260.9 1107.5 1252.3C1109.8 1243.6 1111.4 1243.2 1113 1233.2C1114.6 1223.2 1115.7 1203.7 1117.1 1192.4C1118.4 1181 1119.9 1164.7 1121.2 1165.1C1122.4 1165.6 1123.6 1194.2 1124.7 1195.1C1125.8 1196 1126.7 1169.7 1128 1170.6C1129.2 1171.5 1130.9 1188.7 1132.1 1200.5C1133.2 1212.3 1133.6 1232.7 1134.8 1241.4C1135.9 1250 1137.5 1247.7 1138.9 1252.3C1140.2 1256.8 1141.4 1262.7 1142.9 1268.6C1144.5 1274.5 1146.6 1283.1 1148.4 1287.7C1150.2 1292.2 1152 1292.6 1153.8 1295.8C1155.6 1299 1157 1304.1 1159.3 1306.7C1161.5 1309.3 1166.1 1310.8 1167.4 1311.6" fill="none" stroke="#000" stroke-width="1.4" stroke-linejoin="round"/>
<rect x="1049.8" y="1105.5" width="195.8" height="206.4" fill="none" stroke="#222" stroke-width="1.3"/>
<path d="M1049.8 1311.5h-5.5M1049.8 1301.7h-2.8M1049.8 1291.9h-2.8M1049.8 1282.1h-2.8M1049.8 1272.2h-5.5M1049.8 1262.4h-2.8M1049.8 1252.6h-2.8M1049.8 1242.8h-2.8M1049.8 1233h-5.5M1049.8 1223.2h-2.8M1049.8 1213.3h-2.8M1049.8 1203.5h-2.8M1049.8 1193.7h-5.5M1049.8 1183.9h-2.8M1049.8 1174.1h-2.8M1049.8 1164.3h-2.8M1049.8 1154.5h-5.5M1049.8 1144.6h-2.8M1049.8 1134.8h-2.8M1049.8 1125h-2.8M1049.8 1115.2h-5.5" fill="none" stroke="#000" stroke-width="1.1"/>
<text x="1038.5" y="1314.2" font-size="7.40">0</text>
<text x="1034.4" y="1274.9" font-size="7.40">20</text>
<text x="1034.4" y="1235.7" font-size="7.40">40</text>
<text x="1034.4" y="1196.4" font-size="7.40">60</text>
<text x="1034.4" y="1157.2" font-size="7.40">80</text>
<text x="1030.2" y="1117.9" font-size="7.40">100</text>
<path d="M1061.5 1311.9v5M1125.7 1311.9v5M1179.2 1311.9v5M1226 1311.9v5M1092.9 1311.9v2.8M1101.6 1311.9v2.8M1088.1 1311.9v2.8M1105.2 1311.9v2.8M1083.7 1311.9v2.8M1108.6 1311.9v2.8M1079.6 1311.9v2.8M1111.8 1311.9v2.8M1075.8 1311.9v2.8M1114.7 1311.9v2.8M1072.4 1311.9v2.8M1117.3 1311.9v2.8M1069.3 1311.9v2.8M1119.7 1311.9v2.8M1066.5 1311.9v2.8M1121.9 1311.9v2.8M1063.9 1311.9v2.8M1123.8 1311.9v2.8M1141.2 1311.9v2.8M1150.6 1311.9v2.8M1157.4 1311.9v2.8M1162.7 1311.9v2.8M1167 1311.9v2.8M1170.7 1311.9v2.8M1173.9 1311.9v2.8M1176.7 1311.9v2.8M1193.3 1311.9v2.8M1201.5 1311.9v2.8M1207.4 1311.9v2.8M1211.9 1311.9v2.8M1215.6 1311.9v2.8M1218.7 1311.9v2.8M1221.4 1311.9v2.8M1223.8 1311.9v2.8M1240 1311.9v2.8" fill="none" stroke="#000" stroke-width="1.1"/>
<rect x="1090.8" y="1312.9" width="8" height="3.5" fill="#000" stroke="none" stroke-width="0"/>
<text x="1061.2" y="1330.9" font-size="7.4">-10<tspan font-size="5.3" dy="-4.1">3</tspan></text>
<text x="1125.1" y="1330.9" font-size="7.4">10<tspan font-size="5.3" dy="-4.1">3</tspan></text>
<text x="1178.7" y="1330.9" font-size="7.4">10<tspan font-size="5.3" dy="-4.1">4</tspan></text>
<text x="1225.4" y="1330.9" font-size="7.4">10<tspan font-size="5.3" dy="-4.1">5</tspan></text>
<text x="1095.7" y="1330.9" font-size="7.40">0</text>
<text x="1038.2" y="1091.6" font-size="25.43">Ly6C(hi) F4/80(int)</text>
<path d="M343.6 1597.4L343.6 1598.6 C344.8 1597.4 348.5 1597.4 351 1591.2C353.5 1585.1 356.2 1574 358.4 1561.7C360.5 1549.4 362.1 1530.9 363.9 1517.3C365.8 1503.8 367.6 1490.3 369.5 1480.4C371.3 1470.5 373.3 1460.7 375 1458.2C376.7 1455.8 378.3 1465 379.8 1465.6C381.4 1466.2 383.1 1466.2 384.2 1461.9C385.4 1457.6 385.5 1439.8 386.5 1439.8C387.4 1439.8 388.6 1456.4 389.8 1461.9C391 1467.5 392.3 1470.5 393.5 1473C394.7 1475.5 395.6 1468.1 397.2 1476.7C398.7 1485.3 401.2 1510.6 402.7 1524.7C404.3 1538.9 405.1 1550.6 406.4 1561.7C407.8 1572.8 409.3 1585.1 410.8 1591.2C412.4 1597.4 414.9 1597.4 415.7 1598.6L415.7 1597.4Z" fill="#DEDEDE" stroke="none"/>
<path d="M343.6 1598.6C344.8 1597.4 348.5 1597.4 351 1591.2C353.5 1585.1 356.2 1574 358.4 1561.7C360.5 1549.4 362.1 1530.9 363.9 1517.3C365.8 1503.8 367.6 1490.3 369.5 1480.4C371.3 1470.5 373.3 1460.7 375 1458.2C376.7 1455.8 378.3 1465 379.8 1465.6C381.4 1466.2 383.1 1466.2 384.2 1461.9C385.4 1457.6 385.5 1439.8 386.5 1439.8C387.4 1439.8 388.6 1456.4 389.8 1461.9C391 1467.5 392.3 1470.5 393.5 1473C394.7 1475.5 395.6 1468.1 397.2 1476.7C398.7 1485.3 401.2 1510.6 402.7 1524.7C404.3 1538.9 405.1 1550.6 406.4 1561.7C407.8 1572.8 409.3 1585.1 410.8 1591.2C412.4 1597.4 414.9 1597.4 415.7 1598.6" fill="none" stroke="#B5B5B5" stroke-width="1.1"/>
<path d="M339.9 1598.6C341.1 1598 344.8 1598.6 347.3 1594.9C349.8 1591.2 352.5 1584.5 354.7 1576.5C356.8 1568.5 358.4 1560.4 360.2 1546.9C362.1 1533.4 364.2 1510 365.8 1495.2C367.3 1480.4 368.2 1467.5 369.5 1458.2C370.7 1449 371.9 1443.8 373.2 1439.8C374.4 1435.8 375.7 1433.6 376.9 1434.2C378 1434.8 378.5 1444.1 379.8 1443.5C381.2 1442.8 383.3 1431.1 385 1430.5C386.6 1429.9 388.2 1435.1 389.8 1439.8C391.4 1444.4 393.2 1454.5 394.6 1458.2C396 1461.9 396.9 1454.5 398.3 1461.9C399.6 1469.3 401.1 1488.4 402.7 1502.6C404.4 1516.7 406.4 1533.4 408.3 1546.9C410.1 1560.4 411.3 1575.2 413.8 1583.8C416.3 1592.5 421.5 1596.2 423 1598.6" fill="none" stroke="#000" stroke-width="1.4" stroke-linejoin="round"/>
<rect x="303" y="1391.7" width="207.6" height="206.9" fill="none" stroke="#222" stroke-width="1.3"/>
<path d="M303 1597.4h-5.5M303 1587.6h-2.8M303 1577.9h-2.8M303 1568.1h-2.8M303 1558.3h-5.5M303 1548.6h-2.8M303 1538.8h-2.8M303 1529h-2.8M303 1519.3h-5.5M303 1509.5h-2.8M303 1499.8h-2.8M303 1490h-2.8M303 1480.2h-5.5M303 1470.5h-2.8M303 1460.7h-2.8M303 1450.9h-2.8M303 1441.2h-5.5M303 1431.4h-2.8M303 1421.6h-2.8M303 1411.9h-2.8M303 1402.1h-5.5" fill="none" stroke="#000" stroke-width="1.1"/>
<text x="291.7" y="1600.1" font-size="7.40">0</text>
<text x="287.6" y="1561" font-size="7.40">20</text>
<text x="287.6" y="1522" font-size="7.40">40</text>
<text x="287.6" y="1482.9" font-size="7.40">60</text>
<text x="287.6" y="1443.9" font-size="7.40">80</text>
<text x="283.4" y="1404.8" font-size="7.40">100</text>
<path d="M315.5 1598.6v5M383.4 1598.6v5M440.2 1598.6v5M489.8 1598.6v5M348.7 1598.6v2.8M357.9 1598.6v2.8M343.6 1598.6v2.8M361.8 1598.6v2.8M338.9 1598.6v2.8M365.4 1598.6v2.8M334.5 1598.6v2.8M368.7 1598.6v2.8M330.6 1598.6v2.8M371.8 1598.6v2.8M327 1598.6v2.8M374.6 1598.6v2.8M323.7 1598.6v2.8M377.1 1598.6v2.8M320.7 1598.6v2.8M379.4 1598.6v2.8M318 1598.6v2.8M381.5 1598.6v2.8M399.9 1598.6v2.8M409.9 1598.6v2.8M417.1 1598.6v2.8M422.7 1598.6v2.8M427.3 1598.6v2.8M431.2 1598.6v2.8M434.6 1598.6v2.8M437.6 1598.6v2.8M455.1 1598.6v2.8M463.9 1598.6v2.8M470.1 1598.6v2.8M474.9 1598.6v2.8M478.8 1598.6v2.8M482.1 1598.6v2.8M485 1598.6v2.8M487.5 1598.6v2.8M504.7 1598.6v2.8" fill="none" stroke="#000" stroke-width="1.1"/>
<rect x="346.9" y="1599.6" width="8" height="3.5" fill="#000" stroke="none" stroke-width="0"/>
<text x="315.1" y="1617.6" font-size="7.4">-10<tspan font-size="5.3" dy="-4.1">3</tspan></text>
<text x="382.9" y="1617.6" font-size="7.4">10<tspan font-size="5.3" dy="-4.1">3</tspan></text>
<text x="439.7" y="1617.6" font-size="7.4">10<tspan font-size="5.3" dy="-4.1">4</tspan></text>
<text x="489.2" y="1617.6" font-size="7.4">10<tspan font-size="5.3" dy="-4.1">5</tspan></text>
<text x="351.8" y="1617.6" font-size="7.40">0</text>
<text x="317.5" y="1377" font-size="25.48">Ly6G(-) Ly6C(-)</text>
<path d="M576.4 1597.4L576.4 1598.6 C578.2 1596.2 583.8 1592.5 587.5 1583.8C591.1 1575.2 595.5 1555.5 598.5 1546.9C601.6 1538.3 603.5 1539.5 605.9 1532.1C608.4 1524.7 610.9 1511.8 613.3 1502.6C615.8 1493.3 618.9 1485.3 620.7 1476.7C622.6 1468.1 623.2 1451.5 624.4 1450.8C625.6 1450.2 626.7 1465.6 628.1 1473C629.4 1480.4 631.2 1492.1 632.5 1495.2C633.9 1498.3 634.8 1488.4 636.2 1491.5C637.6 1494.6 639 1503.2 641 1513.6C643.1 1524.1 646.3 1543.2 648.4 1554.3C650.6 1565.4 651.8 1573.1 654 1580.2C656.1 1587.2 659.5 1593.7 661.3 1596.8C663.2 1599.9 664.4 1598.3 665 1598.6L665 1597.4Z" fill="#DEDEDE" stroke="none"/>
<path d="M576.4 1598.6C578.2 1596.2 583.8 1592.5 587.5 1583.8C591.1 1575.2 595.5 1555.5 598.5 1546.9C601.6 1538.3 603.5 1539.5 605.9 1532.1C608.4 1524.7 610.9 1511.8 613.3 1502.6C615.8 1493.3 618.9 1485.3 620.7 1476.7C622.6 1468.1 623.2 1451.5 624.4 1450.8C625.6 1450.2 626.7 1465.6 628.1 1473C629.4 1480.4 631.2 1492.1 632.5 1495.2C633.9 1498.3 634.8 1488.4 636.2 1491.5C637.6 1494.6 639 1503.2 641 1513.6C643.1 1524.1 646.3 1543.2 648.4 1554.3C650.6 1565.4 651.8 1573.1 654 1580.2C656.1 1587.2 659.5 1593.7 661.3 1596.8C663.2 1599.9 664.4 1598.3 665 1598.6" fill="none" stroke="#B5B5B5" stroke-width="1.1"/>
<path d="M569 1598.6C570.8 1598 576.4 1598.6 580.1 1594.9C583.8 1591.2 587.5 1583.8 591.1 1576.5C594.8 1569.1 599.2 1560.4 602.2 1550.6C605.3 1540.7 607.2 1529 609.6 1517.3C612.1 1505.6 614.5 1492.1 617 1480.4C619.5 1468.7 622.6 1450.2 624.4 1447.1C626.2 1444.1 626.7 1455.8 628.1 1461.9C629.4 1468.1 631 1481.6 632.5 1484.1C634.1 1486.6 635.9 1473.6 637.3 1476.7C638.7 1479.8 639.5 1494.6 641 1502.6C642.6 1510.6 644.4 1517.3 646.6 1524.7C648.7 1532.1 650.9 1539.5 654 1546.9C657 1554.3 662 1563.5 665 1569.1C668.1 1574.6 670.3 1576.5 672.4 1580.2C674.6 1583.8 675.5 1588.3 678 1591.2C680.4 1594.2 684.4 1596.7 687.2 1597.9C690 1599.1 693.4 1598.5 694.6 1598.6" fill="none" stroke="#000" stroke-width="1.4" stroke-linejoin="round"/>
<rect x="546.8" y="1391.7" width="208" height="206.9" fill="none" stroke="#222" stroke-width="1.3"/>
<path d="M546.8 1597.4h-5.5M546.8 1587.6h-2.8M546.8 1577.9h-2.8M546.8 1568.1h-2.8M546.8 1558.3h-5.5M546.8 1548.6h-2.8M546.8 1538.8h-2.8M546.8 1529h-2.8M546.8 1519.3h-5.5M546.8 1509.5h-2.8M546.8 1499.8h-2.8M546.8 1490h-2.8M546.8 1480.2h-5.5M546.8 1470.5h-2.8M546.8 1460.7h-2.8M546.8 1450.9h-2.8M546.8 1441.2h-5.5M546.8 1431.4h-2.8M546.8 1421.6h-2.8M546.8 1411.9h-2.8M546.8 1402.1h-5.5" fill="none" stroke="#000" stroke-width="1.1"/>
<text x="535.5" y="1600.1" font-size="7.40">0</text>
<text x="531.4" y="1561" font-size="7.40">20</text>
<text x="531.4" y="1522" font-size="7.40">40</text>
<text x="531.4" y="1482.9" font-size="7.40">60</text>
<text x="531.4" y="1443.9" font-size="7.40">80</text>
<text x="527.2" y="1404.8" font-size="7.40">100</text>
<path d="M559.3 1598.6v5M627.4 1598.6v5M684.3 1598.6v5M733.9 1598.6v5M592.5 1598.6v2.8M601.8 1598.6v2.8M587.5 1598.6v2.8M605.7 1598.6v2.8M582.8 1598.6v2.8M609.3 1598.6v2.8M578.4 1598.6v2.8M612.7 1598.6v2.8M574.4 1598.6v2.8M615.7 1598.6v2.8M570.8 1598.6v2.8M618.5 1598.6v2.8M567.5 1598.6v2.8M621 1598.6v2.8M564.5 1598.6v2.8M623.3 1598.6v2.8M561.8 1598.6v2.8M625.5 1598.6v2.8M643.8 1598.6v2.8M653.9 1598.6v2.8M661.1 1598.6v2.8M666.7 1598.6v2.8M671.4 1598.6v2.8M675.3 1598.6v2.8M678.6 1598.6v2.8M681.6 1598.6v2.8M699.2 1598.6v2.8M708 1598.6v2.8M714.2 1598.6v2.8M719 1598.6v2.8M722.9 1598.6v2.8M726.2 1598.6v2.8M729.1 1598.6v2.8M731.7 1598.6v2.8M748.9 1598.6v2.8" fill="none" stroke="#000" stroke-width="1.1"/>
<rect x="590.8" y="1599.6" width="8" height="3.5" fill="#000" stroke="none" stroke-width="0"/>
<text x="559" y="1617.6" font-size="7.4">-10<tspan font-size="5.3" dy="-4.1">3</tspan></text>
<text x="626.8" y="1617.6" font-size="7.4">10<tspan font-size="5.3" dy="-4.1">3</tspan></text>
<text x="683.7" y="1617.6" font-size="7.4">10<tspan font-size="5.3" dy="-4.1">4</tspan></text>
<text x="733.4" y="1617.6" font-size="7.4">10<tspan font-size="5.3" dy="-4.1">5</tspan></text>
<text x="595.7" y="1617.6" font-size="7.40">0</text>
<text x="596.4" y="1377" font-size="25.94">Ly6C(hi)</text>
<path d="M843.5 1597.4L843.5 1598.1 C845.3 1596.8 851.2 1595.8 854.3 1590.5C857.5 1585.1 860.2 1576 862.5 1566C864.8 1556 866.1 1543.3 868 1530.6C869.8 1517.9 871.8 1501.1 873.4 1489.7C875 1478.4 876.2 1470.7 877.5 1462.5C878.8 1454.3 879.9 1443 881 1440.7C882.2 1438.5 883.1 1443 884.3 1448.9C885.5 1454.8 886.8 1466.1 888.4 1476.1C890 1486.1 891.8 1497 893.8 1508.8C895.9 1520.6 898.6 1536.5 900.6 1546.9C902.7 1557.4 904.3 1564.2 906.1 1571.4C907.9 1578.7 909.5 1586 911.5 1590.5C913.6 1594.9 917.2 1596.8 918.3 1598.1L918.3 1597.4Z" fill="#DEDEDE" stroke="none"/>
<path d="M843.5 1598.1C845.3 1596.8 851.2 1595.8 854.3 1590.5C857.5 1585.1 860.2 1576 862.5 1566C864.8 1556 866.1 1543.3 868 1530.6C869.8 1517.9 871.8 1501.1 873.4 1489.7C875 1478.4 876.2 1470.7 877.5 1462.5C878.8 1454.3 879.9 1443 881 1440.7C882.2 1438.5 883.1 1443 884.3 1448.9C885.5 1454.8 886.8 1466.1 888.4 1476.1C890 1486.1 891.8 1497 893.8 1508.8C895.9 1520.6 898.6 1536.5 900.6 1546.9C902.7 1557.4 904.3 1564.2 906.1 1571.4C907.9 1578.7 909.5 1586 911.5 1590.5C913.6 1594.9 917.2 1596.8 918.3 1598.1" fill="none" stroke="#B5B5B5" stroke-width="1.1"/>
<path d="M838 1598.6C839.8 1598.2 845.7 1599.1 848.9 1595.9C852.1 1592.7 854.8 1585.9 857.1 1579.6C859.3 1573.2 860.9 1566 862.5 1557.8C864.1 1549.6 865.2 1541.5 866.6 1530.6C868 1519.7 869.3 1506.1 870.7 1492.5C872 1478.9 873.6 1457.1 874.8 1448.9C875.9 1440.7 876.6 1446.6 877.5 1443.5C878.4 1440.3 879.4 1434 880.2 1429.8C881 1425.7 881.5 1418 882.4 1418.4C883.3 1418.9 884.4 1425.2 885.7 1432.6C886.9 1439.9 888.4 1451.6 889.7 1462.5C891.1 1473.4 892.5 1489.3 893.8 1497.9C895.2 1506.5 896.5 1504.7 897.9 1514.2C899.3 1523.8 900.4 1546.9 902 1555.1C903.6 1563.3 905.4 1559.2 907.4 1563.3C909.5 1567.3 911.3 1575 914.2 1579.6C917.2 1584.1 921.5 1587.3 925.1 1590.5C928.8 1593.7 934.2 1597.3 936 1598.6" fill="none" stroke="#000" stroke-width="1.4" stroke-linejoin="round"/>
<rect x="793.1" y="1391.7" width="206.9" height="206.9" fill="none" stroke="#222" stroke-width="1.3"/>
<path d="M793.1 1597.4h-5.5M793.1 1587.6h-2.8M793.1 1577.9h-2.8M793.1 1568.1h-2.8M793.1 1558.3h-5.5M793.1 1548.6h-2.8M793.1 1538.8h-2.8M793.1 1529h-2.8M793.1 1519.3h-5.5M793.1 1509.5h-2.8M793.1 1499.8h-2.8M793.1 1490h-2.8M793.1 1480.2h-5.5M793.1 1470.5h-2.8M793.1 1460.7h-2.8M793.1 1450.9h-2.8M793.1 1441.2h-5.5M793.1 1431.4h-2.8M793.1 1421.6h-2.8M793.1 1411.9h-2.8M793.1 1402.1h-5.5" fill="none" stroke="#000" stroke-width="1.1"/>
<text x="781.8" y="1600.1" font-size="7.40">0</text>
<text x="777.7" y="1561" font-size="7.40">20</text>
<text x="777.7" y="1522" font-size="7.40">40</text>
<text x="777.7" y="1482.9" font-size="7.40">60</text>
<text x="777.7" y="1443.9" font-size="7.40">80</text>
<text x="773.5" y="1404.8" font-size="7.40">100</text>
<path d="M805.5 1598.6v5M873.3 1598.6v5M929.9 1598.6v5M979.2 1598.6v5M838.6 1598.6v2.8M847.8 1598.6v2.8M833.6 1598.6v2.8M851.7 1598.6v2.8M828.9 1598.6v2.8M855.3 1598.6v2.8M824.5 1598.6v2.8M858.6 1598.6v2.8M820.6 1598.6v2.8M861.7 1598.6v2.8M817 1598.6v2.8M864.4 1598.6v2.8M813.7 1598.6v2.8M866.9 1598.6v2.8M810.8 1598.6v2.8M869.2 1598.6v2.8M808 1598.6v2.8M871.3 1598.6v2.8M889.6 1598.6v2.8M899.6 1598.6v2.8M906.8 1598.6v2.8M912.4 1598.6v2.8M917 1598.6v2.8M920.9 1598.6v2.8M924.2 1598.6v2.8M927.2 1598.6v2.8M944.7 1598.6v2.8M953.4 1598.6v2.8M959.6 1598.6v2.8M964.4 1598.6v2.8M968.3 1598.6v2.8M971.6 1598.6v2.8M974.5 1598.6v2.8M977 1598.6v2.8M994.1 1598.6v2.8" fill="none" stroke="#000" stroke-width="1.1"/>
<rect x="836.8" y="1599.6" width="8" height="3.5" fill="#000" stroke="none" stroke-width="0"/>
<text x="805.2" y="1617.6" font-size="7.4">-10<tspan font-size="5.3" dy="-4.1">3</tspan></text>
<text x="872.7" y="1617.6" font-size="7.4">10<tspan font-size="5.3" dy="-4.1">3</tspan></text>
<text x="929.3" y="1617.6" font-size="7.4">10<tspan font-size="5.3" dy="-4.1">4</tspan></text>
<text x="978.7" y="1617.6" font-size="7.4">10<tspan font-size="5.3" dy="-4.1">5</tspan></text>
<text x="841.7" y="1617.6" font-size="7.40">0</text>
<text x="843.5" y="1376.8" font-size="25.89">Ly6C(int)</text>
<path d="M1080.3 1597.4L1080.3 1598.1 C1082.1 1595 1088 1587.2 1091.2 1579.6C1094.4 1572 1096.9 1560.5 1099.4 1552.4C1101.9 1544.2 1104.5 1536.9 1106.2 1530.6C1107.9 1524.2 1108.6 1513.3 1109.7 1514.2C1110.9 1515.2 1111.8 1528.8 1113 1536C1114.2 1543.3 1115.3 1549.6 1117.1 1557.8C1118.9 1566 1121.4 1578.7 1123.9 1585C1126.4 1591.4 1129.3 1594.6 1132.1 1595.9C1134.8 1597.3 1137.5 1593.9 1140.2 1593.2C1142.9 1592.5 1146.1 1591.4 1148.4 1591.8C1150.7 1592.3 1151.6 1594.9 1153.8 1595.9C1156.1 1597 1160.6 1597.7 1162 1598.1L1162 1597.4Z" fill="#DEDEDE" stroke="none"/>
<path d="M1080.3 1598.1C1082.1 1595 1088 1587.2 1091.2 1579.6C1094.4 1572 1096.9 1560.5 1099.4 1552.4C1101.9 1544.2 1104.5 1536.9 1106.2 1530.6C1107.9 1524.2 1108.6 1513.3 1109.7 1514.2C1110.9 1515.2 1111.8 1528.8 1113 1536C1114.2 1543.3 1115.3 1549.6 1117.1 1557.8C1118.9 1566 1121.4 1578.7 1123.9 1585C1126.4 1591.4 1129.3 1594.6 1132.1 1595.9C1134.8 1597.3 1137.5 1593.9 1140.2 1593.2C1142.9 1592.5 1146.1 1591.4 1148.4 1591.8C1150.7 1592.3 1151.6 1594.9 1153.8 1595.9C1156.1 1597 1160.6 1597.7 1162 1598.1" fill="none" stroke="#B5B5B5" stroke-width="1.1"/>
<path d="M1077.6 1598.6C1079 1597.3 1083 1595.9 1085.8 1590.5C1088.5 1585 1091.4 1574.1 1093.9 1566C1096.4 1557.8 1098.7 1550.1 1100.7 1541.5C1102.8 1532.8 1104.7 1524.7 1106.2 1514.2C1107.7 1503.8 1108.7 1483.4 1109.7 1478.9C1110.8 1474.3 1111.4 1482 1112.4 1487C1113.4 1492 1114.5 1501.5 1115.7 1508.8C1116.9 1516.1 1118.4 1523.3 1119.8 1530.6C1121.2 1537.8 1122.5 1543.3 1123.9 1552.4C1125.2 1561.4 1126.4 1578.2 1128 1585C1129.6 1591.8 1130.9 1591.2 1133.4 1593.2C1135.9 1595.2 1140 1596.6 1142.9 1597.3C1145.9 1598 1147.9 1597.5 1151.1 1597.3C1154.3 1597.1 1158.8 1595.7 1162 1595.9C1165.2 1596.1 1168.8 1598.2 1170.2 1598.6" fill="none" stroke="#000" stroke-width="1.4" stroke-linejoin="round"/>
<rect x="1038.1" y="1391.7" width="207.5" height="206.9" fill="none" stroke="#222" stroke-width="1.3"/>
<path d="M1038.1 1597.4h-5.5M1038.1 1587.6h-2.8M1038.1 1577.9h-2.8M1038.1 1568.1h-2.8M1038.1 1558.3h-5.5M1038.1 1548.6h-2.8M1038.1 1538.8h-2.8M1038.1 1529h-2.8M1038.1 1519.3h-5.5M1038.1 1509.5h-2.8M1038.1 1499.8h-2.8M1038.1 1490h-2.8M1038.1 1480.2h-5.5M1038.1 1470.5h-2.8M1038.1 1460.7h-2.8M1038.1 1450.9h-2.8M1038.1 1441.2h-5.5M1038.1 1431.4h-2.8M1038.1 1421.6h-2.8M1038.1 1411.9h-2.8M1038.1 1402.1h-5.5" fill="none" stroke="#000" stroke-width="1.1"/>
<text x="1026.8" y="1600.1" font-size="7.40">0</text>
<text x="1022.7" y="1561" font-size="7.40">20</text>
<text x="1022.7" y="1522" font-size="7.40">40</text>
<text x="1022.7" y="1482.9" font-size="7.40">60</text>
<text x="1022.7" y="1443.9" font-size="7.40">80</text>
<text x="1018.5" y="1404.8" font-size="7.40">100</text>
<path d="M1050.5 1598.6v5M1118.5 1598.6v5M1175.3 1598.6v5M1224.8 1598.6v5M1083.7 1598.6v2.8M1092.9 1598.6v2.8M1078.7 1598.6v2.8M1096.8 1598.6v2.8M1074 1598.6v2.8M1100.5 1598.6v2.8M1069.6 1598.6v2.8M1103.8 1598.6v2.8M1065.7 1598.6v2.8M1106.9 1598.6v2.8M1062.1 1598.6v2.8M1109.6 1598.6v2.8M1058.8 1598.6v2.8M1112.2 1598.6v2.8M1055.8 1598.6v2.8M1114.5 1598.6v2.8M1053.1 1598.6v2.8M1116.6 1598.6v2.8M1134.9 1598.6v2.8M1144.9 1598.6v2.8M1152.1 1598.6v2.8M1157.8 1598.6v2.8M1162.4 1598.6v2.8M1166.2 1598.6v2.8M1169.6 1598.6v2.8M1172.6 1598.6v2.8M1190.2 1598.6v2.8M1198.9 1598.6v2.8M1205.1 1598.6v2.8M1209.9 1598.6v2.8M1213.8 1598.6v2.8M1217.1 1598.6v2.8M1220 1598.6v2.8M1222.5 1598.6v2.8M1239.7 1598.6v2.8" fill="none" stroke="#000" stroke-width="1.1"/>
<rect x="1081.9" y="1599.6" width="8" height="3.5" fill="#000" stroke="none" stroke-width="0"/>
<text x="1050.2" y="1617.6" font-size="7.4">-10<tspan font-size="5.3" dy="-4.1">3</tspan></text>
<text x="1117.9" y="1617.6" font-size="7.4">10<tspan font-size="5.3" dy="-4.1">3</tspan></text>
<text x="1174.7" y="1617.6" font-size="7.4">10<tspan font-size="5.3" dy="-4.1">4</tspan></text>
<text x="1224.2" y="1617.6" font-size="7.4">10<tspan font-size="5.3" dy="-4.1">5</tspan></text>
<text x="1086.9" y="1617.6" font-size="7.40">0</text>
<text x="1086.4" y="1376.8" font-size="25.82">Ly6G(hi)</text>
<rect x="61" y="1408.4" width="23.6" height="22.1" fill="#C4C4C4" stroke="none" stroke-width="0"/>
<rect x="62" y="1447" width="22" height="22" fill="none" stroke="#000" stroke-width="2"/>
<text x="95.5" y="1428.7" font-size="26.39">2nd</text>
<text x="93.1" y="1465.6" font-size="25.19">α-MerTK</text>
<line x1="298.5" y1="1649.6" x2="473" y2="1649.6" stroke="#000" stroke-width="2"/>
<polygon points="472,1642.1 472,1657.1 487,1649.6" fill="#000" stroke="none" stroke-width="0"/>
<text x="504.3" y="1658.5" font-size="25.01">Alexa488-MerTK</text>
<text x="1317.2" y="1024.9" font-size="43.00" font-weight="bold">h</text>
<text x="1527.6" y="1016.1" font-size="25.62">CD11b(+)</text>
<text x="1755" y="1020.5" font-size="25.29">CD11b(+) MerTK(+)</text>
<path d="M1567 1048l6 .5 5 1 10 4 9 6.5 4.5 5 3.5 5 3.5 6 4 8 2.5 7 1.5 6 .5 5 0 6-1 6-2 6-3.5 8-4.5 7-5.5 6-7 6-13.5 8-30 15.5-15 7-3 2-2 2.5-1 2.5-4 18.5-2 5-2.5 4-3.5 3.5-5 3-5 .5-4-1-4-2.5-3-3-2.5-3.5-3-6-1.5-5-1-7 0-15 1-9 2.5-9 3-9 2.5-6 3-5 4-4 4-3.5 5-2.5 1.5-2-.5-3-3-10-1-6 0-6 1-5 2-3.5 2.5-3.5 10.5-10.5 12-15.5 6-6 5-3.5 6-3 6-2 6-.5zM1563 1054l5-.5 5 .5 5 1 5 2 5 2.5 4 3.5 7.5 8 6.5 12 3.5 8 2 7 1 5 0 5-1 6-1.5 5-3.5 8-5 7-6 7-7.5 6-15 9.5-23 12-16 7-3 2-2 2.5-1 2-3 18-1.5 5-3 5-3.5 4.5-4 2-5 1-5-1-5-3-3.5-4.5-3.5-7-2-9-.5-11 1-11 1.5-10 3.5-10 5-10 3.5-4.5 3-2 3-1.5 3-.5 8 3 2-.5 2-2 1-3 0-3-6-10-2.5-7 0-6 1.5-6 3-4 8-9.5 9.5-14.5 5.5-6 4-3.5 5-3 5-2.5 5-1zM1563 1059l4-.5 5 .5 4 .5 5 2 8 5.5 6 7 3 5 3.5 7 5 15 .5 9-1 5-1.5 5-3 7-5 8-5.5 6-7 6.5-15 9-22 11-15 6.5-3 2-1 1.5-1 3-2.5 18.5-2 5-2 4-3.5 4.5-4 3-5 1-4-1-5-2.5-4-5-3-6-2-8-.5-10 .5-12 1.5-9 3-10 2.5-6 3-5 3-3.5 3-2 2-1 3-.5 2 .5 6 3 2 .5 4-2.5 4.5-5.5 2.5-4 .5-4-5-10-1-3 .5-4 1-5 8-18 5.5-10 6.5-7 7-4.5 8-2.5zM1563 1063l4-.5 5 .5 5 1.5 4 2 7 5.5 5.5 8 4 11 3.5 16-.5 9-3 10-3 6-4 6-5.5 6-6 4.5-8 5-22 11-18 7.5-3 2-1.5 2-1 3-2 19-1.5 5-2 4-3 4-4 3-4 1-5-.5-5-3.5-3.5-4-3-7-2-8-.5-10 .5-10 2-10 2.5-9 4.5-9 5.5-5.5 3-1 3 0 8 3.5 3 0 5.5-4 13.5-14 1.5-3 0-2-4-9-1.5-8 .5-8 2-8 3.5-8 6-7 6-4.5 8-2.5zM1565 1066l8 .5 4 1.5 4 2.5 5.5 5.5 4.5 8 2.5 10 1 13-1 16-2.5 9-2.5 5-3.5 4-5 5-5 3-8 4.5-21 10-16.5 6.5-2.5 1.5-1.5 1.5-1 3-1.5 19-1 5-2 5-3 4.5-4 3-4 1-5-.5-4.5-3-4-5-2.5-6-1.5-8-.5-10 .5-10 2-10 3-9 4.5-8 3-3 3-1.5 2-.5 3 .5 6 3.5 2 .5 2 0 2-1 21.5-18.5 3-3 1-2-.5-2-5.5-9-2-7-.5-8 1-7 4-8 5-6 7-4.5 7-1.5zM1565 1069l7 .5 7 3 5 5.5 2.5 4 2 4 1 5 .5 6-.5 6-2.5 11 .5 3 1.5 9-.5 4-1 4-2.5 4-3.5 4-3.5 3.5-6 4-29 13-14 5-3 2-2 2.5-1 3-1 19-1 5-2 5-3 4.5-4 2.5-4 1-4-.5-4-3-4-4.5-2.5-7-1.5-7-.5-10 1-10 1.5-9 3-8 2.5-5 2.5-3 3-2.5 2-1 2-.5 3 .5 6 4 2 .5 2-.5 2-.5 16-14 13.5-10 1-2 0-2-7-9-3-7-.5-6 .5-7 2.5-7 5-6 6-4 7-2zM1563 1072l7 0 4 1 3 2 5 4.5 3.5 6.5 1.5 7-.5 7-2 6-4.5 8-.5 2 .5 2 4 4.5 1.5 3.5 .5 4-1.5 5-2.5 4-4 4-9 6.5-29 12-12 3.5-3 1.5-2 3-1 3.5-1 19-.5 5-2 5-2.5 4.5-4 3-4 1-4-1-4-2.5-3-4.5-2.5-5.5-1.5-7-.5-10 .5-10 2-9 2.5-7 4.5-7 2-2 3-2 2 0 3 .5 8 5 2 0 2-1 19-16.5 15.5-10 2-2 .5-1-1-2-7-6-3.5-5-2.5-6-.5-6 1.5-8 3.5-6 5.5-4.5 6-2.5zM1563 1075l3-.5 4 0 6 3 2.5 2.5 2.5 3 2.5 7 .5 4-.5 4-2.5 7-2 3-3 3-3 2-3 .5-6-.5-4-1.5-3-2-5-5.5-1.5-3-1.5-4 0-7 3-7 2-3 3-2.5 6-2.5zM1566 1121l4-.5 4 .5 4 1.5 3 2.5 1.5 3 .5 3-1 4-2.5 4-5.5 5.5-9 5-26 9.5-13 3-2 1.5-2 3-1 4-1 21.5-1 5-1.5 4-2.5 4-4 3-2 .5-3 0-4-2-3.5-3.5-3-6-1.5-7-.5-8 0-9 1.5-9 2.5-8 3.5-6 4-4 4-1 4 1.5 7 5 3 0 3-2 14-13.5 7-6 10-5.5 9-3.5zM1563 1077.5l6 0 5 2 4.5 4.5 2 6 .5 6-2 6-4 5-5 2.5-6 0-5-2.5-4.5-4-2.5-6 0-6 1.5-6 4.5-5 5-2.5zM1565 1124l5-.5 4 .5 3 1.5 2 2.5 1.5 3-1 4-2 4-3 3-6.5 4.5-10 4-22 6-4 .5-3-1-1-2 2-4 5.5-7 8-8 5.5-4 5-3 6-2.5 5-1.5zM1508 1147l4 1 3.5 3 5 6 .5 3-2 12 0 17-1 7-1.5 4-2.5 3.5-3 2.5-3 .5-3-.5-3-1.5-4-5.5-3-8-.5-11 1-12 3-11 2-4 2.5-3 3-2.5 2-.5zM1564 1081l5 0 4 1.5 3 3.5 1.5 5 0 5-1.5 5-3 3-4 2-5 0-4-2-3-3.5-2-4.5 0-5 1.5-5 3.5-3.5 4-1.5zM1566 1126l4 0 3.5 1 2.5 1.5 1 2.5 .5 2-1 3-1.5 3-3 3-7 4.5-10 3-13 2-3-.5-2-1 0-3 2.5-4 4-5 4-4 4.5-3 5-2.5 5-2 4-.5zM1506 1149.5l2-.5 2 .5 4 2.5 3 5 1.5 5-1 25-.5 7-1.5 4-2 3-2.5 2.5-3 1-3-.5-2-1-2-2-2-3-2.5-7-1-9 .5-12 2-9 4-7.5 4-4zM1565 1085l3 0 3 1.5 2 2.5 1 3 0 3-1 3-2 2-3 1.5-3 0-3-1-2.5-2.5-1-3 0-4 1.5-2.5 2-2.5 3-1zM1561 1129l7-1 3 1 2 1 1 2 0 3-1 3-2 2-5.5 4-7.5 3-9 .5-3-.5-1.5-1-1-2 .5-2 3.5-5 6-5 7.5-3zM1507 1151.5l2 0 2 1 3.5 3.5 1.5 5 .5 6 0 19-1.5 8-1 3.5-2 2.5-2 1.5-3 .5-2-.5-2-1-2-2.5-2-3-2-7-.5-9 .5-10 2.5-8 3.5-6.5 2-2 2-1zM1563 1131l4 0 2 .5 1 1.5 .5 3-2.5 3.5-5 3.5-5 1.5-5 0-3-1.5-.5-1 0-2 3-4 4.5-3 6-2zM1506 1154.5l3 0 2 1 1.5 1.5 2 5 .5 6 0 16-1 8-1.5 3-1.5 2.5-2 1.5-2 0-3.5-1-3-4-2-6-1-8 .5-9 1.5-7 3-6 3.5-3.5zM1559 1136l4-1 1 1 0 1-2 2.5-2 .5-2 0-1.5-1 .5-1 2-2zM1506 1158l3-.5 2.5 2.5 1.5 4 .5 7 0 11-1 7-2.5 5-1 1-2 1-3-1.5-2.5-3.5-2-5-.5-7 .5-7 1.5-6.5 2-4.5 3-3zM1506 1162l2-.5 2 2 1 3.5 .5 5 0 7-1 6-1.5 4.5-2 1.5-2-.5-2-2.5-1.5-4-.5-5 0-5 1-5 2-5 2-2zM1506 1168.5l1 0 1 .5 1 6-1 6.5-1 1.5-1 0-1-.5-1-2.5-.5-4 .5-4 2-3.5z" fill="none" stroke="#404040" stroke-width="0.9" stroke-linejoin="round"/>
<rect x="1453.8" y="1037" width="258.4" height="258.8" fill="none" stroke="#111" stroke-width="1.4"/>
<path d="M1469.3 1295.8v7.5M1553.9 1295.8v7.5M1624.6 1295.8v7.5M1686.3 1295.8v7.5M1510.6 1295.8v4M1522.1 1295.8v4M1504.4 1295.8v4M1526.9 1295.8v4M1498.5 1295.8v4M1531.5 1295.8v4M1493.1 1295.8v4M1535.6 1295.8v4M1488.1 1295.8v4M1539.4 1295.8v4M1483.6 1295.8v4M1542.9 1295.8v4M1479.6 1295.8v4M1546 1295.8v4M1475.8 1295.8v4M1548.9 1295.8v4M1472.4 1295.8v4M1551.5 1295.8v4M1574.4 1295.8v4M1586.9 1295.8v4M1595.8 1295.8v4M1602.8 1295.8v4M1608.5 1295.8v4M1613.4 1295.8v4M1617.6 1295.8v4M1621.3 1295.8v4M1643.2 1295.8v4M1654 1295.8v4M1661.7 1295.8v4M1667.7 1295.8v4M1672.6 1295.8v4M1676.7 1295.8v4M1680.3 1295.8v4M1683.5 1295.8v4M1704.9 1295.8v4" fill="none" stroke="#000" stroke-width="1.3"/>
<rect x="1505.1" y="1296.8" width="11" height="5" fill="#000" stroke="none" stroke-width="0"/>
<text x="1468.9" y="1317.8" font-size="8.8">-10<tspan font-size="6.3" dy="-4.8">3</tspan></text>
<text x="1553.3" y="1317.8" font-size="8.8">10<tspan font-size="6.3" dy="-4.8">3</tspan></text>
<text x="1623.9" y="1317.8" font-size="8.8">10<tspan font-size="6.3" dy="-4.8">4</tspan></text>
<text x="1685.6" y="1317.8" font-size="8.8">10<tspan font-size="6.3" dy="-4.8">5</tspan></text>
<text x="1514.7" y="1317.8" font-size="8.80">0</text>
<path d="M1453.8 1279h-7.5M1453.8 1193.6h-7.5M1453.8 1123.7h-7.5M1453.8 1061.1h-7.5M1453.8 1241.2h-4M1453.8 1229.6h-4M1453.8 1246.9h-4M1453.8 1224.1h-4M1453.8 1252.3h-4M1453.8 1219h-4M1453.8 1257.2h-4M1453.8 1214.3h-4M1453.8 1261.8h-4M1453.8 1210h-4M1453.8 1265.9h-4M1453.8 1206.1h-4M1453.8 1269.6h-4M1453.8 1202.5h-4M1453.8 1273h-4M1453.8 1199.3h-4M1453.8 1276.1h-4M1453.8 1196.3h-4M1453.8 1173.4h-4M1453.8 1161h-4M1453.8 1152.2h-4M1453.8 1145.2h-4M1453.8 1139.6h-4M1453.8 1134.8h-4M1453.8 1130.6h-4M1453.8 1127h-4M1453.8 1104.9h-4M1453.8 1093.8h-4M1453.8 1086h-4M1453.8 1079.9h-4M1453.8 1075h-4M1453.8 1070.8h-4M1453.8 1067.1h-4M1453.8 1063.9h-4M1453.8 1042.2h-4" fill="none" stroke="#000" stroke-width="1.3"/>
<rect x="1446.8" y="1231.2" width="6" height="11" fill="#000" stroke="none" stroke-width="0"/>
<text x="1426.9" y="1285" font-size="8.8">-10<tspan font-size="6.3" dy="-4.8">3</tspan></text>
<text x="1429.8" y="1199.6" font-size="8.8">10<tspan font-size="6.3" dy="-4.8">3</tspan></text>
<text x="1429.8" y="1129.7" font-size="8.8">10<tspan font-size="6.3" dy="-4.8">4</tspan></text>
<text x="1429.8" y="1067.1" font-size="8.8">10<tspan font-size="6.3" dy="-4.8">5</tspan></text>
<text x="1436.2" y="1239.6" font-size="8.80">0</text>
<path d="M1882.5 1051l10-.5 11 3 10 5 9 6.5 8.5 9 6.5 10 6 13 4 12 1.5 12 0 13-1.5 11-3.5 11-2.5 6-4 6-10 13-7 6.5-7 3-4 .5-4-.5-4-1-5-2-11-7.5-14-12-7.5-9-7-11-5-11-3.5-11-1.5-13 0-13 2-13 4-11 5.5-9.5 7-7.5 8-5.5 9-2.5zM1881.5 1054l5-.5 5 0 10 2 10 4.5 9 6.5 8 8.5 7 10 5.5 11 4 13 2 12 0 12-1.5 11-3.5 11-6 11-10.5 14-6 5.5-3 1.5-4 1.5-4 .5-4-.5-8-3.5-9-6-14.5-13-7.5-8.5-6.5-9.5-5-11-3.5-11-2-12 0-13 2-12 3-10 5-9 7-8 8-5.5 8-2.5zM1880.5 1057l9-1 10 1.5 10 4.5 9 6 8 8 6.5 9 5.5 11 4 12 2 11 .5 11-1.5 11-3 10-4.5 10-11 16-6 6-3.5 2-3 1-4 .5-4-.5-8-3-8-6-14-13-7.5-8-6-9-5-10-3.5-11-1.5-11-.5-12 1.5-11 3-10 4.5-9 6-7.5 7-5.5 8-3zM1887.5 1059l9 1 9 3 8 4.5 7.5 6.5 7 8 6 10 4 10 3 11 1.5 11-.5 10-1.5 9-3 9-5 9-11 16-5 5-6 2-3 .5-4-1-4-1.5-4-2-8.5-7-15-15-6.5-8-5-9-4-9-3-11-1-12 .5-11 2.5-11 3.5-9 5.5-8 7-6 8-4 8-1zM1881.5 1063l8-1 9 1.5 9 3.5 8 5 6.5 7 6.5 9 5.5 10 3.5 11 2 10 .5 10-1 9-2.5 9-4.5 9-11 18-4.5 4.5-5 3-3 .5-4-.5-7-3-7-5.5-14-14-7-8-5.5-8-4.5-9-2.5-9-2-11-.5-10 1.5-10 2.5-9 4-8 6-7 6-4.5 7-2.5zM1882.5 1066l8-.5 9 1 8 3.5 7 4.5 6 6.5 6.5 9 5 10 3 10 2 10 0 9-.5 8-2 8-4 8-11.5 19-4 4-4.5 2.5-3 .5-3-.5-3-.5-4-2.5-6-5-15-15.5-6-7-4.5-7-4-8-3-9-2-10 0-10 1-9 3-9 3.5-7 5-6 6-4.5 7-2.5zM1885.5 1069l8-.5 8 1.5 7 3.5 6 4.5 6 7 5.5 9 4 9 3 10 1 9 .5 8-1 7-1.5 7-3.5 7-12 19-3 3.5-4 2-3 .5-3-.5-6-3.5-5-4.5-16.5-17.5-5.5-7-4.5-7-3-7-2-8-1.5-9 0-9 1.5-9 3-8 4-7 5-5 6.5-3.5 6-1.5zM1889.5 1072l7 0 7 1.5 6 3.5 5.5 5 5 7 4.5 9 4 10 2.5 10 1 8-.5 7-1 6-2 6-2.5 5-11.5 17-3 3-4 2-5-.5-5.5-3.5-21.5-23.5-5-6.5-3-6-3-7-1.5-7-1-9 .5-8 1.5-8 3.5-7 4-5.5 5-4.5 6-2.5 7-1.5zM1891.5 1075l7 0 6 1.5 5.5 3.5 5 5 3.5 6 3.5 8 4 13 2.5 11 .5 6 0 6-1 5-2.5 5-3 5.5-11 13.5-2.5 2-2.5 1-4-.5-5-3.5-21-22.5-4-5.5-3-6-2.5-6-1.5-7-.5-8 .5-7 1.5-7 3.5-6.5 4-5 4.5-3.5 5.5-2.5 7-1.5zM1892.5 1078l6-.5 6 1.5 5 3 4.5 5 2.5 5 2.5 6 7 27 .5 6-.5 5-1 5-2 4-3.5 4.5-6 6-5 4-3 1-4-1-4-2.5-19-20-3.5-5-2.5-5-2.5-6-1.5-6-.5-7 1-6 1.5-6 3-6 3-4 5-4 5-2.5 6-1.5zM1896.5 1080l5 .5 5 2 4 3.5 3.5 5 3 8 3 14 4 15-.5 8-1 4-2 4-3 3.5-3 2.5-4 2.5-4 1-4 0-5-3-15-15.5-3.5-5-3-5-2-5-1.5-6-.5-6 1-6 1.5-5 2.5-5 4.5-5 5-3.5 5-2.5 5-1zM1894.5 1083l4-.5 3 0 3 1 3 2 4.5 5.5 3 8 2 16 4 12 .5 7-1.5 5-2.5 4.5-4 3.5-4 1.5-4 .5-3-1-3-2-3-2.5-14-17.5-3-5.5-2-5.5-.5-5 0-5 1-4 2-5 3-5 3.5-3.5 4-3 4-1.5zM1896.5 1085l5 0 5 2.5 4 5 2.5 6.5 1 6 0 12 4 11 .5 5-1 4-2 4-3 2.5-3 1-5-.5-3-2-2.5-2-6.5-10.5-6.5-8.5-2-4-1.5-4-.5-4 0-5 1-5 1.5-4 2.5-4 3-3 3.5-2 3-1zM1895.5 1088l5-.5 4 1.5 4 4 2.5 6 .5 7-1 14 .5 3 3 6 .5 4-1.5 4-1.5 1.5-2 1-2 0-2-.5-3-3-5-9-8-9-1.5-3-1.5-4-1-7 1.5-7 3.5-5.5 2-2 3-1.5zM1896.5 1090.5l4-.5 4 2 3 3.5 1.5 4.5 .5 6-1.5 6-2.5 5.5-3 2-4-.5-4-2-3.5-4-2-5 0-6 1-5 3-4 3.5-2.5zM1897.5 1094l3-.5 3 1.5 2 3 1 4 0 4-1.5 4-1.5 2.5-3 1.5-3-.5-2-1.5-2-2.5-1.5-3.5 0-4 .5-3 2-3 3-2zM1899.5 1099l2 1 1 3-.5 3-1 1-1.5 .5-2-1-1-3.5 1-3 2-1z" fill="none" stroke="#404040" stroke-width="0.9" stroke-linejoin="round"/>
<rect x="1745.3" y="1037" width="258.7" height="258.8" fill="none" stroke="#111" stroke-width="1.4"/>
<path d="M1760.8 1295.8v7.5M1845.5 1295.8v7.5M1916.3 1295.8v7.5M1978.1 1295.8v7.5M1802.2 1295.8v4M1813.7 1295.8v4M1795.9 1295.8v4M1818.5 1295.8v4M1790 1295.8v4M1823 1295.8v4M1784.6 1295.8v4M1827.2 1295.8v4M1779.7 1295.8v4M1831 1295.8v4M1775.2 1295.8v4M1834.5 1295.8v4M1771.1 1295.8v4M1837.6 1295.8v4M1767.4 1295.8v4M1840.5 1295.8v4M1764 1295.8v4M1843.1 1295.8v4M1866 1295.8v4M1878.5 1295.8v4M1887.5 1295.8v4M1894.5 1295.8v4M1900.2 1295.8v4M1905.1 1295.8v4M1909.3 1295.8v4M1913 1295.8v4M1934.9 1295.8v4M1945.8 1295.8v4M1953.5 1295.8v4M1959.5 1295.8v4M1964.3 1295.8v4M1968.5 1295.8v4M1972.1 1295.8v4M1975.2 1295.8v4M1996.6 1295.8v4" fill="none" stroke="#000" stroke-width="1.3"/>
<rect x="1796.7" y="1296.8" width="11" height="5" fill="#000" stroke="none" stroke-width="0"/>
<text x="1760.4" y="1317.8" font-size="8.8">-10<tspan font-size="6.3" dy="-4.8">3</tspan></text>
<text x="1844.9" y="1317.8" font-size="8.8">10<tspan font-size="6.3" dy="-4.8">3</tspan></text>
<text x="1915.6" y="1317.8" font-size="8.8">10<tspan font-size="6.3" dy="-4.8">4</tspan></text>
<text x="1977.4" y="1317.8" font-size="8.8">10<tspan font-size="6.3" dy="-4.8">5</tspan></text>
<text x="1806.2" y="1317.8" font-size="8.80">0</text>
<path d="M1745.3 1279h-7.5M1745.3 1193.6h-7.5M1745.3 1123.7h-7.5M1745.3 1061.1h-7.5M1745.3 1241.2h-4M1745.3 1229.6h-4M1745.3 1246.9h-4M1745.3 1224.1h-4M1745.3 1252.3h-4M1745.3 1219h-4M1745.3 1257.2h-4M1745.3 1214.3h-4M1745.3 1261.8h-4M1745.3 1210h-4M1745.3 1265.9h-4M1745.3 1206.1h-4M1745.3 1269.6h-4M1745.3 1202.5h-4M1745.3 1273h-4M1745.3 1199.3h-4M1745.3 1276.1h-4M1745.3 1196.3h-4M1745.3 1173.4h-4M1745.3 1161h-4M1745.3 1152.2h-4M1745.3 1145.2h-4M1745.3 1139.6h-4M1745.3 1134.8h-4M1745.3 1130.6h-4M1745.3 1127h-4M1745.3 1104.9h-4M1745.3 1093.8h-4M1745.3 1086h-4M1745.3 1079.9h-4M1745.3 1075h-4M1745.3 1070.8h-4M1745.3 1067.1h-4M1745.3 1063.9h-4M1745.3 1042.2h-4" fill="none" stroke="#000" stroke-width="1.3"/>
<rect x="1738.3" y="1231.2" width="6" height="11" fill="#000" stroke="none" stroke-width="0"/>
<text x="1718.4" y="1285" font-size="8.8">-10<tspan font-size="6.3" dy="-4.8">3</tspan></text>
<text x="1721.3" y="1199.6" font-size="8.8">10<tspan font-size="6.3" dy="-4.8">3</tspan></text>
<text x="1721.3" y="1129.7" font-size="8.8">10<tspan font-size="6.3" dy="-4.8">4</tspan></text>
<text x="1721.3" y="1067.1" font-size="8.8">10<tspan font-size="6.3" dy="-4.8">5</tspan></text>
<text x="1727.7" y="1239.6" font-size="8.80">0</text>
<path d="M1536 1376.5l4-.5 4 .5 8 2.5 8 5.5 7 8 5 10 6 20 5.5 12 1 6-.5 6-2 6-3 6-3.5 5-5.5 6-7 5.5-11 8-9 5.5-11 5-2.5 2-1.5 3-.5 3-.5 13-1 7-1.5 6-2 4-3 5-4.5 4-5 2-5 0-5-2-4-4-3.5-5-2.5-7-1.5-8-.5-8 .5-9 1.5-13 2-9 2.5-7 2.5-6 4-5.5 3-3.5 4-2.5 3-.5 6 0 1-1 0-3-4-13-1.5-11-.5-11 1.5-10 3.5-10 5-8 3-3 4-3 7-3zM1636 1407.5l4-.5 4 .5 4 2 2 2 1.5 3 .5 4-1.5 3-2.5 3-5 2.5-5 0-5-2-4-3.5-1-4 .5-4 3.5-4 4-2zM1536 1380.5l7-.5 4 1 4 1.5 7 5 6.5 8 2.5 5 2.5 6 5 20 6 12 1 5-.5 5-2 6-2.5 5-4 5-4.5 4.5-8 6.5-10 6.5-9 5.5-10 4.5-2.5 1.5-1.5 3-.5 3-.5 15-.5 6-1.5 5-2 5-3 5-4 3.5-5 2-5 0-5-2-4-3.5-3.5-6-2-7-1.5-7-.5-9 1-10 1.5-12 2-8 3-8 3.5-6 3.5-4.5 5-3 4 0 6 1 2-.5 1-2 .5-2 0-2-5-12-2-11-.5-10 1-10 3.5-10 4.5-7 6-6 3-1.5 4-1.5zM1638 1408.5l4 0 3 1 3 2 2 2.5 .5 3.5-1 3-1.5 2-3 2-4 1-5-.5-4-2.5-2-3-.5-4 1.5-3 3-2.5 4-1.5zM1535 1384.5l6-1 7 2 7 4.5 5.5 6.5 3 6 3 7 4 21 1.5 3 4 6 1.5 3 1 4 0 4-2 5-2.5 5-4 5-5 4.5-18 12-8 4-9 3.5-3 2-1 2.5-1 3.5 0 16-.5 6-2.5 9-3 5.5-4 3.5-5 2-5 .5-4-1.5-4.5-4-3-5-2.5-7-1.5-8 0-8 .5-11 1.5-9 2-8 2.5-8 3-6 4-4.5 3-2.5 3-1 3 .5 5 1.5 2 0 2.5-2 2-3 0-4-4.5-11-2.5-10-.5-9 .5-9 2.5-9 4-8 6-6 6-3zM1637 1410.5l3-.5 3 .5 4 2.5 1 2.5 .5 2-.5 2-2 2.5-3 1.5-4 .5-4-1.5-2-2-1.5-3 .5-3 2-2 3-2zM1537 1387.5l5 0 6 2 5.5 4 4.5 6 3 6 2 7 1 6 1 15 2 3 5 4 2.5 3 1.5 4-.5 5-1 4-3 5-4.5 5-5 4-19 12-6 2.5-8.5 2.5-2.5 2-1.5 2-.5 5 0 21-1 5-1.5 5-3 5-3.5 3.5-5 2.5-5 0-4-1.5-4-4-3.5-5.5-2-7-1-8-.5-8 1-11 1.5-8 2-8 2-6 3-6 3.5-4 3-2 3-1 3 .5 5 1.5 2 0 4-3 2.5-4 .5-3 0-2-5-10-2.5-9-.5-9 .5-9 2.5-9 4-7 3-3 3-2.5 6-2.5zM1639 1412.5l4 .5 2.5 2.5 0 3-2.5 2.5-2 .5-3 0-2-1.5-1.5-1.5 0-2 .5-2 2-1.5 2-.5zM1535 1391.5l6-.5 5 1.5 5 3.5 4.5 5.5 3 7 1.5 7 .5 7-.5 11 .5 3 2 2 6.5 4 3 2.5 1.5 3.5 0 5-1.5 4-2.5 4-4 4-5.5 4.5-18 11-7 3-8 2-2 1-1 1.5-1 4 .5 22-1 6-1.5 5-3 6-4 3.5-4 2-5 0-4-2-4-3.5-2.5-5-2-6-1.5-7 0-9 .5-9 1.5-10 4-13 3-5 3-4 3-2.5 3-.5 3 0 5 2 3-.5 4-3.5 4-6 .5-4-5.5-10-2.5-8-1-8 .5-7 1.5-8 3.5-7 4.5-6 5.5-3zM1537 1394.5l5 0 4 2 4 3 3.5 5 2.5 7 1.5 7 0 7-1.5 11 .5 2 2 2 7.5 3 3.5 3 2 4 0 4-2 4-3 4-4.5 4.5-6 4-16 9-6 2-8 1.5-2 1.5-1.5 1.5-.5 4 .5 23-1 6-1.5 5-2.5 5-3.5 4-4 2-5 0-4-2-3-3-3-5-2-6-1-7-.5-9 1-9 1.5-10 4-12 3-4.5 3-3.5 2-1.5 3-1 3 .5 5 2 3 0 5-5 5.5-8 .5-2 0-2-5.5-9-2.5-7-1.5-7 .5-8 1.5-8 3.5-7 5-4.5 5-2.5zM1536 1398.5l4-.5 4 1 3 2.5 3.5 4 3 7 1 8 0 8-2.5 10 0 2 3 2 8 2.5 3 1.5 3 3.5 .5 4.5-1.5 4-3 4-4 3.5-6 4.5-10 5.5-7 3-6 1.5-7 1-2.5 1-1 2-1 4 .5 24-.5 6-1 4-2 5-3.5 4-4 2-5 .5-4-2-3-3.5-2.5-5-2-6-1-7 0-8 1-9 1.5-9 3.5-11 2.5-4 3-3 2-1.5 3-1 3 .5 5 2.5 3-.5 5-4.5 8.5-11.5 .5-2 0-2-6-8-2.5-6-1.5-6-.5-6 1-7 2.5-7 4-5 5-3zM1536 1402.5l2-.5 3 0 4 2.5 4 4.5 2 6.5 1 6-.5 7-1.5 5-4.5 9 1.5 1 12 2 4.5 2 3 3 .5 2 0 3-2 4-4 5-5 3.5-9 5-7 3.5-5 1.5-5 1-7-.5-2 1-1 3-.5 4 .5 25-.5 6-1 4-2 5-3.5 4-4 1.5-4 0-4-2-3-3.5-2-4-1.5-6-1-7 0-7 .5-9 1.5-8 4-11 4.5-6 3-2 3 0 8 4 2-.5 19.5-23.5 0-2-5.5-3.5-4-4.5-3-6-1-6 .5-7 1.5-7 4-5.5 4-2.5zM1538 1406.5l4 1 3.5 3 2.5 5 1 6-.5 6-2.5 6-3 3.5-4 1.5-4-1.5-3.5-3.5-2-5-1-6 1-6 2-5 2.5-3 4-2zM1547 1447.5l4-.5 5 0 4 1 3 2 1 1.5 1 3-1 3-1.5 3-3 3-4.5 3.5-8 4.5-8 3.5-4 1-4 .5-3-.5-3-1.5-1-2 0-3 2-4 3.5-5 9.5-9 4-3 4-1zM1508 1468.5l3 .5 3 1.5 2.5 3 1.5 3 1 34-1 8-2.5 6-3.5 4.5-2 1-3 .5-3-.5-2-1.5-3-3-1.5-3-2.5-8-.5-11 1-13 3-11 1.5-4 3-4 2-2 3-1zM1538 1412.5l3 .5 2 2 1 2.5 1 4-.5 4-1 3-1.5 2.5-3 1.5-2-.5-2-1.5-2-3-.5-4 0-4 1.5-3.5 2-2.5 2-1zM1548 1449.5l4-.5 4 0 3 1 2 1.5 1 2 .5 2-.5 2-2 3-3 3-4 3-12 5.5-7 2-3-.5-2-1-1.5-2 .5-3 1-3 3-4 4-4 4-3.5 4-2.5 4-1zM1506 1471.5l3-.5 3 1 2.5 2.5 1 3 1 6 1 24-.5 9-2 6-3.5 4-2.5 1.5-2 .5-3-1-2-1-3.5-5-2.5-7-.5-9 .5-12 2-10 3.5-8 2.5-2.5 2-1.5zM1548 1451.5l6-.5 4 1.5 1.5 2 0 2-2 4-5.5 4.5-9 4-7 1.5-2 0-2-1-.5-2 0-2 4-6 5.5-5 7-3zM1507 1473.5l2 0 2 1 2 2 1.5 3 1 9 1 18-.5 8-2 6-3 4-4 1.5-2-.5-2-1-2-2-2-3-2-7-.5-9 .5-11 2.5-9 3.5-6.5 2-2.5 2-1zM1551 1453.5l3.5 1 1.5 2-.5 2-2.5 3-5 3-5 2-4 0-2-1-.5-2 1-2 3.5-4 5-3 5-1zM1507 1476.5l2 0 2 1.5 2 4.5 1.5 8 .5 14-.5 8-1.5 5-2.5 4-1.5 1-2 .5-2 0-2-1.5-3-4-2-6-.5-8 1-10 1.5-8 3-6 2-2 2-1zM1506 1480.5l2-.5 1 .5 2 3 1.5 6 1 9-.5 9-1 6-2 5-3 1.5-3-1-2.5-3.5-2-5-.5-7 .5-8 1.5-6.5 2-5 3-3.5zM1506 1485l2 0 2 2.5 1 4 .5 6 0 7-1 5-1.5 4-2 2-2-.5-2-2.5-1.5-4-.5-5 0-5 1-6 2-5 2-2.5zM1506 1492.5l1 0 1 1 .5 6-.5 6.5-1 1.5-1 .5-1-1-1-2.5-.5-4 .5-5 2-3z" fill="none" stroke="#404040" stroke-width="0.9" stroke-linejoin="round"/>
<rect x="1453.8" y="1358.6" width="258.4" height="258.8" fill="none" stroke="#111" stroke-width="1.4"/>
<path d="M1469.3 1617.4v7.5M1553.9 1617.4v7.5M1624.6 1617.4v7.5M1686.3 1617.4v7.5M1510.6 1617.4v4M1522.1 1617.4v4M1504.4 1617.4v4M1526.9 1617.4v4M1498.5 1617.4v4M1531.5 1617.4v4M1493.1 1617.4v4M1535.6 1617.4v4M1488.1 1617.4v4M1539.4 1617.4v4M1483.6 1617.4v4M1542.9 1617.4v4M1479.6 1617.4v4M1546 1617.4v4M1475.8 1617.4v4M1548.9 1617.4v4M1472.4 1617.4v4M1551.5 1617.4v4M1574.4 1617.4v4M1586.9 1617.4v4M1595.8 1617.4v4M1602.8 1617.4v4M1608.5 1617.4v4M1613.4 1617.4v4M1617.6 1617.4v4M1621.3 1617.4v4M1643.2 1617.4v4M1654 1617.4v4M1661.7 1617.4v4M1667.7 1617.4v4M1672.6 1617.4v4M1676.7 1617.4v4M1680.3 1617.4v4M1683.5 1617.4v4M1704.9 1617.4v4" fill="none" stroke="#000" stroke-width="1.3"/>
<rect x="1505.1" y="1618.4" width="11" height="5" fill="#000" stroke="none" stroke-width="0"/>
<text x="1468.9" y="1639.4" font-size="8.8">-10<tspan font-size="6.3" dy="-4.8">3</tspan></text>
<text x="1553.3" y="1639.4" font-size="8.8">10<tspan font-size="6.3" dy="-4.8">3</tspan></text>
<text x="1623.9" y="1639.4" font-size="8.8">10<tspan font-size="6.3" dy="-4.8">4</tspan></text>
<text x="1685.6" y="1639.4" font-size="8.8">10<tspan font-size="6.3" dy="-4.8">5</tspan></text>
<text x="1514.7" y="1639.4" font-size="8.80">0</text>
<path d="M1453.8 1600.6h-7.5M1453.8 1515.2h-7.5M1453.8 1445.3h-7.5M1453.8 1382.7h-7.5M1453.8 1562.8h-4M1453.8 1551.2h-4M1453.8 1568.5h-4M1453.8 1545.7h-4M1453.8 1573.9h-4M1453.8 1540.6h-4M1453.8 1578.8h-4M1453.8 1535.9h-4M1453.8 1583.4h-4M1453.8 1531.6h-4M1453.8 1587.5h-4M1453.8 1527.7h-4M1453.8 1591.2h-4M1453.8 1524.1h-4M1453.8 1594.6h-4M1453.8 1520.9h-4M1453.8 1597.7h-4M1453.8 1517.9h-4M1453.8 1495h-4M1453.8 1482.6h-4M1453.8 1473.8h-4M1453.8 1466.8h-4M1453.8 1461.2h-4M1453.8 1456.4h-4M1453.8 1452.2h-4M1453.8 1448.6h-4M1453.8 1426.5h-4M1453.8 1415.4h-4M1453.8 1407.6h-4M1453.8 1401.5h-4M1453.8 1396.6h-4M1453.8 1392.4h-4M1453.8 1388.7h-4M1453.8 1385.5h-4M1453.8 1363.8h-4" fill="none" stroke="#000" stroke-width="1.3"/>
<rect x="1446.8" y="1552.8" width="6" height="11" fill="#000" stroke="none" stroke-width="0"/>
<text x="1426.9" y="1606.6" font-size="8.8">-10<tspan font-size="6.3" dy="-4.8">3</tspan></text>
<text x="1429.8" y="1521.2" font-size="8.8">10<tspan font-size="6.3" dy="-4.8">3</tspan></text>
<text x="1429.8" y="1451.3" font-size="8.8">10<tspan font-size="6.3" dy="-4.8">4</tspan></text>
<text x="1429.8" y="1388.7" font-size="8.8">10<tspan font-size="6.3" dy="-4.8">5</tspan></text>
<text x="1436.2" y="1561.2" font-size="8.80">0</text>
<path d="M1841 1379.5l7 0 7 2.5 8 5 7 6.5 7 9 5.5 10 4 11 3 11 2 12 0 12-1 12-2.5 10-4 8.5-5 7-6 5-7 2.5-7 .5-7-2-7-3.5-8-7-7.5-9-7-11-4-9-3-11-1.5-12 0-14 1-12 3-11 4.5-9 5.5-7 6-4.5 7-2.5zM1843 1381.5l7 1 7 2.5 7 5 7 7 5 7.5 5.5 10 4 10 3 12 1.5 12 0 11-1.5 11-2 9-4 8-5.5 7-6 4.5-6 2-7 .5-7-2-7-4.5-7-6-7.5-9.5-6.5-10-4-9-2.5-11-1.5-12 0-13 1.5-11 3-10 4.5-9 6-7 6-4 7-2zM1840 1384.5l7-.5 7 2 7 4 7 6.5 6 8 5.5 9 4 10 3 11 1.5 11 .5 11-1 11-2 9-4 9-4.5 6-6 5-6 2-6 .5-7-1.5-6-3.5-7-5.5-7.5-9-6-9-4-8-3-10-2-11 0-12 1-11 2-10 3.5-9 5-7 6-5.5 6-2.5zM1841 1386.5l6 0 7 2 7 4.5 7 6.5 5.5 7 5 9 4 10 2.5 10 1.5 10 .5 11-1 10-2.5 9-3.5 8-4 6-5 4-6 2.5-6 .5-6-1.5-6-3-7-5.5-7-8-7-10-4-8-2.5-9-1.5-11-.5-11 1.5-11 2-10 3.5-8 5-7 5.5-4.5 6-2.5zM1840 1389.5l6-.5 6 1 7 4 7 6 5.5 6.5 5 9 4 9 3 10 1.5 11 .5 10-1 9-2 9-3 7-4.5 6.5-5 4-6 2.5-6 0-6-1.5-6-3-6-5-7-8.5-6-9-3.5-7-3-9-1.5-10 0-11 1-10 2.5-9 3-8 4-6 5.5-4.5 5-2.5zM1842 1391.5l6 0 6 2.5 6 3.5 6 5.5 5 6.5 4.5 8 3.5 9 2.5 8 1.5 10 .5 9-.5 9-2 8-3 8-4 5.5-5 4.5-5 2-5 .5-6-1.5-6-3-6-4.5-7-8.5-6-8.5-4-7.5-2-8-1.5-9 0-10 1-10 2-9 3.5-8 4.5-6 5.5-4 5-2zM1841 1394.5l5-.5 6 1.5 6 3.5 6 5 5 6.5 4.5 7 4 9 2 8 1.5 9 .5 9-.5 9-2 8-3 7-3.5 5-4.5 4-5 2-5 .5-5-1-5-2.5-6-5-6.5-7-6.5-9-3.5-7-2-7-1.5-8-.5-9 1-9 2-9 3-8 4-6 4.5-4 5-2zM1840 1397.5l5-1 5 1 6 3 6 5 5 5.5 4 6.5 3.5 7 3 9 1.5 9 .5 8-.5 8-1.5 8-2 6-3.5 5.5-4 3.5-5 2.5-5 .5-5-1-5-2.5-5-4-7-7.5-5.5-8-3.5-6-2.5-7-1-8-.5-8 .5-8 2-8 2.5-7 3-5 4-4 5-3zM1844 1399.5l5 .5 5 2.5 5 3.5 4.5 4.5 3.5 5 4 7 3.5 8 1.5 7 1.5 8 0 7-1 7-1.5 7-3 6-3 4-4 3-4 1.5-4 0-5-1-5-3-5-4.5-7-8-4.5-7-3-6-2-7-1-8 .5-8 1-8 2.5-7 3-6 3.5-4 4-2.5 5-1.5zM1843 1402.5l4 0 5 2 5 3 4 4 4 5 3.5 6 2.5 6 2.5 7 1 7 .5 7-.5 7-1.5 6-2 6-3 4-3 2.5-4 2-4 0-4-.5-4-2-5-4-6-6.5-5.5-7.5-3-6-2-6-1-7-.5-7 1.5-8 1.5-6 2.5-5 3.5-4.5 4-3 4-1.5zM1842 1405.5l4-.5 4 1 4 2.5 4 3 3.5 4 3.5 6 3.5 7 2 6 1 6 1 7-.5 6-1 6-2 5-2 3.5-3 2.5-4 2-3 .5-4-1-4-2-4-3-6-6.5-5-6.5-3-5-2-5.5-1-6 0-6 .5-6 1.5-6 2-5 3-4.5 3-2.5 4-2zM1842 1408.5l3-.5 4 .5 4 2 3.5 3 6 8 4.5 12 1.5 6 .5 6 0 5-1 5-1 4-2.5 4-2.5 2.5-3 1.5-3 .5-3-1-3-1-4-3-10-10.5-3-5-2-5-1-5-.5-6 .5-6 1.5-5 2-5 2.5-3 3-3 3-1zM1844 1410.5l3 0 3 1 5.5 4 4.5 7 3.5 9 2 11-1 9-1 4-1.5 2.5-2 2-3 1.5-3 0-3-1-9-6-6.5-7-2-4-1.5-4-.5-5 0-5 1.5-9 2-4 3-3 3-2 3-1zM1843 1413.5l5 0 5 2.5 3.5 4.5 3 7 1.5 9 0 8.5-2 5.5-2 2.5-2 1-3 .5-3-1-7-3.5-5-5-3-6.5-1-8 1.5-8 3.5-6 2-1.5 3-1.5zM1845 1415.5l4 1 4 3 3 5 2 6 0 7-1.5 6-2.5 3.5-4 1.5-5-.5-5-3.5-3-4.5-2-5.5 0-7 2-6 2-2.5 2-2 4-1.5zM1844 1418.5l4 0 3 2 2 3 2 5 .5 5-1 5-2.5 4-3 2-4-.5-3-1.5-3-4-1.5-4-.5-5 1-5 2.5-4 3.5-2zM1843 1422.5l2-1 3 .5 2.5 2.5 1.5 3 1 4-1 4-1.5 3-2.5 1.5-3 0-2-1-2-2.5-1-2.5-.5-3.5 .5-3 1-3 2-2zM1845 1427l2 0 2 2.5-.5 3-1.5 2-2 0-2-3 .5-3 1.5-1.5z" fill="none" stroke="#404040" stroke-width="0.9" stroke-linejoin="round"/>
<rect x="1747.9" y="1358.6" width="258" height="258.8" fill="none" stroke="#111" stroke-width="1.4"/>
<path d="M1763.4 1617.4v7.5M1847.9 1617.4v7.5M1918.4 1617.4v7.5M1980 1617.4v7.5M1804.6 1617.4v4M1816.1 1617.4v4M1798.4 1617.4v4M1820.9 1617.4v4M1792.5 1617.4v4M1825.4 1617.4v4M1787.1 1617.4v4M1829.6 1617.4v4M1782.2 1617.4v4M1833.4 1617.4v4M1777.7 1617.4v4M1836.8 1617.4v4M1773.6 1617.4v4M1840 1617.4v4M1769.9 1617.4v4M1842.8 1617.4v4M1766.5 1617.4v4M1845.5 1617.4v4M1868.3 1617.4v4M1880.8 1617.4v4M1889.7 1617.4v4M1896.7 1617.4v4M1902.4 1617.4v4M1907.2 1617.4v4M1911.4 1617.4v4M1915.1 1617.4v4M1937 1617.4v4M1947.8 1617.4v4M1955.5 1617.4v4M1961.5 1617.4v4M1966.4 1617.4v4M1970.5 1617.4v4M1974.1 1617.4v4M1977.2 1617.4v4M1998.6 1617.4v4" fill="none" stroke="#000" stroke-width="1.3"/>
<rect x="1799.1" y="1618.4" width="11" height="5" fill="#000" stroke="none" stroke-width="0"/>
<text x="1763" y="1639.4" font-size="8.8">-10<tspan font-size="6.3" dy="-4.8">3</tspan></text>
<text x="1847.2" y="1639.4" font-size="8.8">10<tspan font-size="6.3" dy="-4.8">3</tspan></text>
<text x="1917.8" y="1639.4" font-size="8.8">10<tspan font-size="6.3" dy="-4.8">4</tspan></text>
<text x="1979.4" y="1639.4" font-size="8.8">10<tspan font-size="6.3" dy="-4.8">5</tspan></text>
<text x="1808.7" y="1639.4" font-size="8.80">0</text>
<path d="M1747.9 1600.6h-7.5M1747.9 1515.2h-7.5M1747.9 1445.3h-7.5M1747.9 1382.7h-7.5M1747.9 1562.8h-4M1747.9 1551.2h-4M1747.9 1568.5h-4M1747.9 1545.7h-4M1747.9 1573.9h-4M1747.9 1540.6h-4M1747.9 1578.8h-4M1747.9 1535.9h-4M1747.9 1583.4h-4M1747.9 1531.6h-4M1747.9 1587.5h-4M1747.9 1527.7h-4M1747.9 1591.2h-4M1747.9 1524.1h-4M1747.9 1594.6h-4M1747.9 1520.9h-4M1747.9 1597.7h-4M1747.9 1517.9h-4M1747.9 1495h-4M1747.9 1482.6h-4M1747.9 1473.8h-4M1747.9 1466.8h-4M1747.9 1461.2h-4M1747.9 1456.4h-4M1747.9 1452.2h-4M1747.9 1448.6h-4M1747.9 1426.5h-4M1747.9 1415.4h-4M1747.9 1407.6h-4M1747.9 1401.5h-4M1747.9 1396.6h-4M1747.9 1392.4h-4M1747.9 1388.7h-4M1747.9 1385.5h-4M1747.9 1363.8h-4" fill="none" stroke="#000" stroke-width="1.3"/>
<rect x="1740.9" y="1552.8" width="6" height="11" fill="#000" stroke="none" stroke-width="0"/>
<text x="1721" y="1606.6" font-size="8.8">-10<tspan font-size="6.3" dy="-4.8">3</tspan></text>
<text x="1723.9" y="1521.2" font-size="8.8">10<tspan font-size="6.3" dy="-4.8">3</tspan></text>
<text x="1723.9" y="1451.3" font-size="8.8">10<tspan font-size="6.3" dy="-4.8">4</tspan></text>
<text x="1723.9" y="1388.7" font-size="8.8">10<tspan font-size="6.3" dy="-4.8">5</tspan></text>
<text x="1730.3" y="1561.2" font-size="8.80">0</text>
<text transform="translate(1387.4,1333.5) rotate(-90)" font-size="25.08">PerCP-Cy5.5-Ly6C</text>
<line x1="1407.5" y1="1335" x2="1407.5" y2="1286.6" stroke="#000" stroke-width="2"/>
<polygon points="1400,1287.6 1415,1287.6 1407.5,1272.6" fill="#000" stroke="none" stroke-width="0"/>
<line x1="1406.5" y1="1334" x2="1455.3" y2="1334" stroke="#000" stroke-width="2"/>
<polygon points="1454.3,1326.5 1454.3,1341.5 1469.3,1334" fill="#000" stroke="none" stroke-width="0"/>
<text x="1477.8" y="1342.8" font-size="25.01">APC-Cy7-F4/80</text>
<text transform="translate(1385.7,1658.8) rotate(-90)" font-size="25.29">PerCP-Cy5.5-Ly6C</text>
<line x1="1405.6" y1="1657.7" x2="1405.6" y2="1609.3" stroke="#000" stroke-width="2"/>
<polygon points="1398.1,1610.3 1413.1,1610.3 1405.6,1595.3" fill="#000" stroke="none" stroke-width="0"/>
<line x1="1404.6" y1="1656.7" x2="1453.4" y2="1656.7" stroke="#000" stroke-width="2"/>
<polygon points="1452.4,1649.2 1452.4,1664.2 1467.4,1656.7" fill="#000" stroke="none" stroke-width="0"/>
<text x="1475.9" y="1665.9" font-size="25.23">APC-Cy7-Ly6G</text>
</svg>
</body></html>
